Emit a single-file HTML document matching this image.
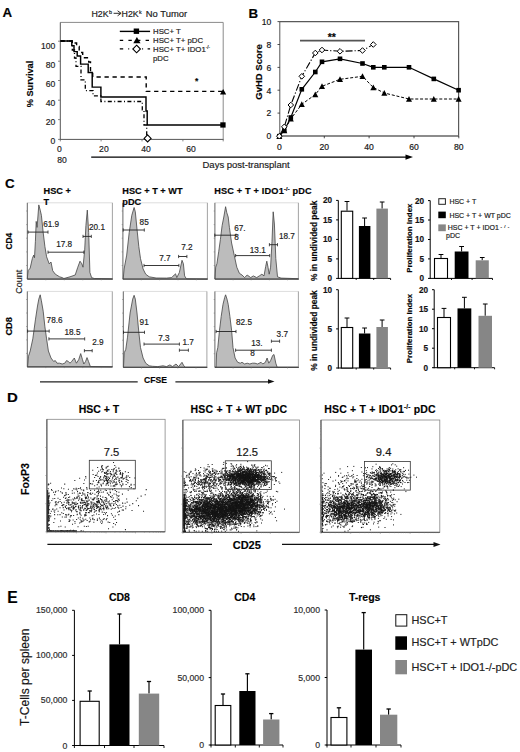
<!DOCTYPE html>
<html><head><meta charset="utf-8"><style>
html,body{margin:0;padding:0;background:#fff;width:520px;height:752px;overflow:hidden}
svg{display:block;font-family:"Liberation Sans",sans-serif}
text{stroke:#222;stroke-width:0.18px}
</style></head><body>
<svg width="520" height="752" viewBox="0 0 520 752">
<rect width="520" height="752" fill="#fff"/>
<text x="2.5" y="17.2" font-size="13.3" font-weight="bold" fill="#000">A</text>
<text x="248.4" y="17.9" font-size="13.3" font-weight="bold" fill="#000">B</text>
<text x="4.9" y="188.1" font-size="13.4" font-weight="bold" fill="#000">C</text>
<text x="6.9" y="402.3" font-size="13.4" font-weight="bold" fill="#000" transform="translate(6.9 0) scale(1.12 1) translate(-6.9 0)">D</text>
<text x="7.3" y="602.8" font-size="15.6" font-weight="bold" fill="#000">E</text>
<path d="M60.3 22.4H223.2V139.4" stroke="#8a8a8a" stroke-width="1" fill="none"/>
<line x1="60.3" y1="22.4" x2="60.3" y2="139.8" stroke="#555" stroke-width="1"/>
<line x1="59.9" y1="139.4" x2="223.6" y2="139.4" stroke="#555" stroke-width="1"/>
<line x1="58" y1="41.2" x2="60.3" y2="41.2" stroke="#666" stroke-width="0.8"/>
<text x="55.4" y="48.6" font-size="8.6" text-anchor="end" fill="#222">100</text>
<line x1="58" y1="61.2" x2="60.3" y2="61.2" stroke="#666" stroke-width="0.8"/>
<text x="55.4" y="67.6" font-size="8.6" text-anchor="end" fill="#222">80</text>
<line x1="58" y1="80.5" x2="60.3" y2="80.5" stroke="#666" stroke-width="0.8"/>
<text x="55.4" y="86.9" font-size="8.6" text-anchor="end" fill="#222">60</text>
<line x1="58" y1="100.2" x2="60.3" y2="100.2" stroke="#666" stroke-width="0.8"/>
<text x="55.4" y="106.3" font-size="8.6" text-anchor="end" fill="#222">40</text>
<line x1="58" y1="119.6" x2="60.3" y2="119.6" stroke="#666" stroke-width="0.8"/>
<text x="55.4" y="125.2" font-size="8.6" text-anchor="end" fill="#222">20</text>
<line x1="58" y1="139.4" x2="60.3" y2="139.4" stroke="#666" stroke-width="0.8"/>
<text x="55.4" y="144.4" font-size="8.6" text-anchor="end" fill="#222">0</text>
<line x1="60.3" y1="139.4" x2="60.3" y2="141.4" stroke="#666" stroke-width="0.8"/>
<line x1="101.1" y1="139.4" x2="101.1" y2="141.4" stroke="#666" stroke-width="0.8"/>
<line x1="142" y1="139.4" x2="142" y2="141.4" stroke="#666" stroke-width="0.8"/>
<line x1="182.9" y1="139.4" x2="182.9" y2="141.4" stroke="#666" stroke-width="0.8"/>
<line x1="223.2" y1="139.4" x2="223.2" y2="141.4" stroke="#666" stroke-width="0.8"/>
<text x="59.5" y="151.7" font-size="8.6" text-anchor="middle" fill="#222">0</text>
<text x="103.9" y="151.7" font-size="8.6" text-anchor="middle" fill="#222">20</text>
<text x="146.1" y="151.7" font-size="8.6" text-anchor="middle" fill="#222">40</text>
<text x="191" y="151.7" font-size="8.6" text-anchor="middle" fill="#222">60</text>
<text x="62.1" y="162.6" font-size="8.6" text-anchor="middle" fill="#222">80</text>
<text x="32.7" y="84" font-size="9.2" font-weight="bold" text-anchor="middle" fill="#000" transform="rotate(-90 32.7 84)">% Survival</text>
<text x="91.4" y="16.5" font-size="8.8" fill="#222">H2K</text>
<text x="108.9" y="14.3" font-size="5.4" fill="#222">b</text>
<path d="M113.6 13.3H120.6" stroke="#222" stroke-width="0.95"/><path d="M117.6 10.8L121.1 13.3L117.6 15.8" stroke="#222" stroke-width="0.95" fill="none"/>
<text x="121.6" y="16.5" font-size="8.8" fill="#222">H2K</text>
<text x="138.9" y="14.3" font-size="5.4" fill="#222">k</text>
<text x="145.8" y="16.5" font-size="8.8" fill="#222" textLength="41.3" lengthAdjust="spacingAndGlyphs">No Tumor</text>
<polyline points="60.5,41 71.8,41 71.8,45.6 74,45.6 74,51.6 77.2,51.6 77.2,56 80.6,56 80.6,64.1 88.2,64.1 88.2,72.4 92.2,72.4 92.2,87.1 100.9,87.1 100.9,97 146,97 146,111 147.2,111 147.2,125 223,125" stroke="#000" stroke-width="1.45" fill="none"/>
<polyline points="60.5,41 73.2,41 73.2,43 76.6,43 76.6,46.4 79.2,46.4 79.2,52.5 82.7,52.5 82.7,57.7 88.7,57.7 88.7,62 90.5,62 90.5,71.5 92.7,71.5 92.7,77 146.2,77 146.2,91.4 223,91.4" stroke="#000" stroke-width="1.4" fill="none" stroke-dasharray="4.3,3.7"/>
<polyline points="60.5,41 72.3,41 72.3,50 74.5,50 74.5,58 76,58 76,66.3 81,66.3 81,79.8 85.3,79.8 85.3,90.6 93,90.6 93,95.8 100.9,95.8 100.9,101.5 142.3,101.5 142.3,109.8 144,109.8 144,125 146.7,125 146.7,136" stroke="#000" stroke-width="1.3" fill="none" stroke-dasharray="4,2.4,1,2.4"/>
<rect x="220.3" y="122.3" width="5.3" height="5.3" fill="#000" stroke="none" stroke-width="1"/>
<polygon points="223.1,88.9 226.2,94.4 220,94.4" fill="#000"/>
<polygon points="147.6,134.9 151.1,138.4 147.6,141.9 144.1,138.4" fill="#fff" stroke="#000" stroke-width="1.1"/>
<text x="196.6" y="84.2" font-size="8.5" font-weight="bold" text-anchor="middle" fill="#000">*</text>
<line x1="119.8" y1="31.4" x2="150.1" y2="31.4" stroke="#000" stroke-width="1.4"/>
<rect x="133.7" y="28.5" width="5.4" height="5.4" fill="#000" stroke="none" stroke-width="1"/>
<line x1="119.8" y1="40.4" x2="150.1" y2="40.4" stroke="#000" stroke-width="1.3" stroke-dasharray="3.4,5.2"/>
<polygon points="136.9,36.9 140.5,43.3 133.3,43.3" fill="#000"/>
<line x1="119.8" y1="48.8" x2="150.1" y2="48.8" stroke="#000" stroke-width="1.3" stroke-dasharray="3.4,5,1,4.5"/>
<polygon points="136.6,45.2 140.4,49 136.6,52.8 132.8,49" fill="#fff" stroke="#000" stroke-width="1.1"/>
<text x="153" y="34.4" font-size="7.8" fill="#222">HSC+ T</text>
<text x="153" y="43.2" font-size="7.8" fill="#222">HSC+ T+ pDC</text>
<text x="153" y="51.9" font-size="7.8" fill="#222">HSC+ T+ IDO1<tspan font-size="4.6" dy="-3">-/-</tspan></text>
<text x="153" y="60.5" font-size="7.8" fill="#222">pDC</text>
<line x1="91.2" y1="157.1" x2="408" y2="157.1" stroke="#000" stroke-width="1.2"/>
<polygon points="413,157.1 405.5,154.5 405.5,159.7" fill="#000"/>
<text x="202.5" y="168.3" font-size="9.5" fill="#222">Days post-transplant</text>
<path d="M279.8 21.6H458.6V136" stroke="#5a5a5a" stroke-width="1.2" fill="none"/>
<line x1="279.8" y1="21.6" x2="279.8" y2="136.4" stroke="#555" stroke-width="1"/>
<line x1="279.4" y1="136" x2="459" y2="136" stroke="#666" stroke-width="1.3"/>
<line x1="277.5" y1="136" x2="279.8" y2="136" stroke="#222" stroke-width="0.8"/>
<text x="271.3" y="139.3" font-size="8.6" text-anchor="end" fill="#111">0</text>
<line x1="277.5" y1="113.1" x2="279.8" y2="113.1" stroke="#222" stroke-width="0.8"/>
<text x="271.3" y="116.4" font-size="8.6" text-anchor="end" fill="#111">2</text>
<line x1="277.5" y1="90.2" x2="279.8" y2="90.2" stroke="#222" stroke-width="0.8"/>
<text x="271.3" y="93.5" font-size="8.6" text-anchor="end" fill="#111">4</text>
<line x1="277.5" y1="67.4" x2="279.8" y2="67.4" stroke="#222" stroke-width="0.8"/>
<text x="271.3" y="70.7" font-size="8.6" text-anchor="end" fill="#111">6</text>
<line x1="277.5" y1="44.5" x2="279.8" y2="44.5" stroke="#222" stroke-width="0.8"/>
<text x="271.3" y="47.8" font-size="8.6" text-anchor="end" fill="#111">8</text>
<line x1="277.5" y1="21.6" x2="279.8" y2="21.6" stroke="#222" stroke-width="0.8"/>
<text x="271.3" y="24.9" font-size="8.6" text-anchor="end" fill="#111">10</text>
<line x1="279.4" y1="136" x2="279.4" y2="138.3" stroke="#222" stroke-width="0.8"/>
<text x="279.4" y="150.2" font-size="8.6" text-anchor="middle" fill="#111">0</text>
<line x1="324.3" y1="136" x2="324.3" y2="138.3" stroke="#222" stroke-width="0.8"/>
<text x="324.3" y="150.2" font-size="8.6" text-anchor="middle" fill="#111">20</text>
<line x1="369.1" y1="136" x2="369.1" y2="138.3" stroke="#222" stroke-width="0.8"/>
<text x="369.1" y="150.2" font-size="8.6" text-anchor="middle" fill="#111">40</text>
<line x1="414" y1="136" x2="414" y2="138.3" stroke="#222" stroke-width="0.8"/>
<text x="414" y="150.2" font-size="8.6" text-anchor="middle" fill="#111">60</text>
<line x1="458.8" y1="136" x2="458.8" y2="138.3" stroke="#222" stroke-width="0.8"/>
<text x="458.8" y="150.2" font-size="8.6" text-anchor="middle" fill="#111">80</text>
<text x="262.4" y="72" font-size="9.5" font-weight="bold" text-anchor="middle" fill="#000" transform="rotate(-90 262.4 72)">GvHD Score</text>
<polyline points="279.3,136.2 284.3,130.5 290.8,118.8 301.8,104.3 315.3,94.5 322,86.3 340,79.3 362.5,76.3 373.3,87.5 384.3,93 409,99 433.8,99 458.6,99" stroke="#000" stroke-width="1.0" fill="none" stroke-dasharray="3,1.8"/>
<polyline points="279.3,136.2 284.3,126.8 290.8,105 301.8,76.3 315.3,53 322,50 340,51.3 362.5,50.5 373.3,44.5" stroke="#000" stroke-width="1.1" fill="none" stroke-dasharray="7,2,1.2,2"/>
<polyline points="279.3,136.2 284.3,130.5 290.8,117.5 301.8,89.3 315.3,72 322,61.8 340,58.8 362.5,63.5 373.3,67.3 384.3,67.3 409,67.3 433.8,78.9 458.6,90.2" stroke="#000" stroke-width="1.2" fill="none"/>
<polygon points="279.3,133.2 276.3,138.9 282.3,138.9" fill="#000"/>
<polygon points="284.3,127.5 281.3,133.2 287.3,133.2" fill="#000"/>
<polygon points="290.8,115.8 287.8,121.5 293.8,121.5" fill="#000"/>
<polygon points="301.8,101.3 298.8,107 304.8,107" fill="#000"/>
<polygon points="315.3,91.5 312.3,97.2 318.3,97.2" fill="#000"/>
<polygon points="322,83.3 319,89 325,89" fill="#000"/>
<polygon points="340,76.3 337,82 343,82" fill="#000"/>
<polygon points="362.5,73.3 359.5,79 365.5,79" fill="#000"/>
<polygon points="373.3,84.5 370.3,90.2 376.3,90.2" fill="#000"/>
<polygon points="384.3,90 381.3,95.7 387.3,95.7" fill="#000"/>
<polygon points="409,96 406,101.7 412,101.7" fill="#000"/>
<polygon points="433.8,96 430.8,101.7 436.8,101.7" fill="#000"/>
<polygon points="458.6,96 455.6,101.7 461.6,101.7" fill="#000"/>
<rect x="277" y="133.9" width="4.6" height="4.6" fill="#000" stroke="none" stroke-width="1"/>
<rect x="282" y="128.2" width="4.6" height="4.6" fill="#000" stroke="none" stroke-width="1"/>
<rect x="288.5" y="115.2" width="4.6" height="4.6" fill="#000" stroke="none" stroke-width="1"/>
<rect x="299.5" y="87" width="4.6" height="4.6" fill="#000" stroke="none" stroke-width="1"/>
<rect x="313" y="69.7" width="4.6" height="4.6" fill="#000" stroke="none" stroke-width="1"/>
<rect x="319.7" y="59.5" width="4.6" height="4.6" fill="#000" stroke="none" stroke-width="1"/>
<rect x="337.7" y="56.5" width="4.6" height="4.6" fill="#000" stroke="none" stroke-width="1"/>
<rect x="360.2" y="61.2" width="4.6" height="4.6" fill="#000" stroke="none" stroke-width="1"/>
<rect x="371" y="65" width="4.6" height="4.6" fill="#000" stroke="none" stroke-width="1"/>
<rect x="382" y="65" width="4.6" height="4.6" fill="#000" stroke="none" stroke-width="1"/>
<rect x="406.7" y="65" width="4.6" height="4.6" fill="#000" stroke="none" stroke-width="1"/>
<rect x="431.5" y="76.6" width="4.6" height="4.6" fill="#000" stroke="none" stroke-width="1"/>
<rect x="456.3" y="87.9" width="4.6" height="4.6" fill="#000" stroke="none" stroke-width="1"/>
<polygon points="279.3,133.4 282.1,136.2 279.3,139 276.5,136.2" fill="#fff" stroke="#000" stroke-width="1.0"/>
<polygon points="284.3,124 287.1,126.8 284.3,129.6 281.5,126.8" fill="#fff" stroke="#000" stroke-width="1.0"/>
<polygon points="290.8,102.2 293.6,105 290.8,107.8 288,105" fill="#fff" stroke="#000" stroke-width="1.0"/>
<polygon points="301.8,73.5 304.6,76.3 301.8,79.1 299,76.3" fill="#fff" stroke="#000" stroke-width="1.0"/>
<polygon points="315.3,50.2 318.1,53 315.3,55.8 312.5,53" fill="#fff" stroke="#000" stroke-width="1.0"/>
<polygon points="322,47.2 324.8,50 322,52.8 319.2,50" fill="#fff" stroke="#000" stroke-width="1.0"/>
<polygon points="340,48.5 342.8,51.3 340,54.1 337.2,51.3" fill="#fff" stroke="#000" stroke-width="1.0"/>
<polygon points="362.5,47.7 365.3,50.5 362.5,53.3 359.7,50.5" fill="#fff" stroke="#000" stroke-width="1.0"/>
<polygon points="373.3,41.7 376.1,44.5 373.3,47.3 370.5,44.5" fill="#fff" stroke="#000" stroke-width="1.0"/>
<line x1="300" y1="40.7" x2="365" y2="40.7" stroke="#555" stroke-width="1.7"/>
<text x="331.8" y="41.2" font-size="10.5" font-weight="bold" text-anchor="middle" fill="#000">**</text>
<path d="M27.3 202.8H112.4" stroke="#ddd" stroke-width="1" fill="none"/>
<path d="M112.4 202.8V279.1" stroke="#999" stroke-width="0.9" fill="none"/>
<path d="M27.3 279.1 L27.3 279 L28.1 270.7 L30.2 268.1 L32.3 258.6 L33.7 255.1 L34.5 257.7 L35.4 241.3 L36.2 221.4 L37.1 227.4 L38.8 204.9 L40.2 210.1 L41.4 215.3 L43.2 232.6 L44.9 246.5 L46.6 256.8 L49.2 263.8 L51 262 L52.7 270.7 L55.3 274.2 L59.6 276.8 L62.2 277.6 L63.9 278.5 L70 276.8 L75.2 275 L77.8 267.2 L80 261.2 L81.8 263.8 L83 267.2 L84.7 249.9 L85.9 225.7 L87.3 210.1 L88.7 232.6 L89.9 272.4 L91.6 277.6 L94.2 278.5 L111.5 278.8 L111.5 279 L112.4 279 L112.4 279.1 Z" fill="#bcbcbc" stroke="#444" stroke-width="0.8"/>
<line x1="27.3" y1="202.8" x2="27.3" y2="279.1" stroke="#555" stroke-width="0.9"/>
<line x1="27.3" y1="279.1" x2="112.8" y2="279.1" stroke="#444" stroke-width="1.0"/>
<line x1="26.1" y1="265.5" x2="27.3" y2="265.5" stroke="#777" stroke-width="0.6"/>
<line x1="26.1" y1="251.9" x2="27.3" y2="251.9" stroke="#777" stroke-width="0.6"/>
<line x1="26.1" y1="238.2" x2="27.3" y2="238.2" stroke="#777" stroke-width="0.6"/>
<line x1="26.1" y1="224.6" x2="27.3" y2="224.6" stroke="#777" stroke-width="0.6"/>
<line x1="26.1" y1="211" x2="27.3" y2="211" stroke="#777" stroke-width="0.6"/>
<line x1="45.8" y1="279.1" x2="45.8" y2="280.3" stroke="#777" stroke-width="0.6"/>
<line x1="64.3" y1="279.1" x2="64.3" y2="280.3" stroke="#777" stroke-width="0.6"/>
<line x1="82.8" y1="279.1" x2="82.8" y2="280.3" stroke="#777" stroke-width="0.6"/>
<line x1="101.3" y1="279.1" x2="101.3" y2="280.3" stroke="#777" stroke-width="0.6"/>
<line x1="28.1" y1="232.1" x2="48" y2="232.1" stroke="#222" stroke-width="0.9"/>
<line x1="28.1" y1="230.5" x2="28.1" y2="233.7" stroke="#222" stroke-width="0.8"/>
<line x1="48" y1="230.5" x2="48" y2="233.7" stroke="#222" stroke-width="0.8"/>
<line x1="48" y1="252.2" x2="83.8" y2="252.2" stroke="#222" stroke-width="0.9"/>
<line x1="48" y1="250.6" x2="48" y2="253.8" stroke="#222" stroke-width="0.8"/>
<line x1="83.8" y1="250.6" x2="83.8" y2="253.8" stroke="#222" stroke-width="0.8"/>
<line x1="83" y1="236.4" x2="91.3" y2="236.4" stroke="#222" stroke-width="0.9"/>
<line x1="83" y1="234.8" x2="83" y2="238" stroke="#222" stroke-width="0.8"/>
<line x1="91.3" y1="234.8" x2="91.3" y2="238" stroke="#222" stroke-width="0.8"/>
<text x="43.2" y="226.6" font-size="8.2" fill="#222">61.9</text>
<text x="56.2" y="247.3" font-size="8.2" fill="#222">17.8</text>
<text x="89" y="230" font-size="8.2" fill="#222">20.1</text>
<path d="M122.9 202.8H207.4" stroke="#ddd" stroke-width="1" fill="none"/>
<path d="M207.4 202.8V279.1" stroke="#999" stroke-width="0.9" fill="none"/>
<path d="M122.9 279.1 L123.2 279 L124.1 269 L126.7 255.1 L129.2 232.6 L131.8 215.3 L134.1 207.5 L135.3 211.8 L137 229.2 L138.8 246.5 L140.5 258.6 L143.1 269 L145.7 274.2 L149.2 276.8 L156.1 278 L166.5 278.1 L171.7 277.6 L174.2 275 L175.5 273.8 L176.8 277.6 L179.4 272.4 L182 260.3 L183.4 263.8 L184.6 275.9 L186.4 278.8 L207.1 279 L207.4 279 L207.4 279.1 Z" fill="#bcbcbc" stroke="#444" stroke-width="0.8"/>
<line x1="122.9" y1="202.8" x2="122.9" y2="279.1" stroke="#555" stroke-width="0.9"/>
<line x1="122.9" y1="279.1" x2="207.8" y2="279.1" stroke="#444" stroke-width="1.0"/>
<line x1="121.7" y1="265.5" x2="122.9" y2="265.5" stroke="#777" stroke-width="0.6"/>
<line x1="121.7" y1="251.9" x2="122.9" y2="251.9" stroke="#777" stroke-width="0.6"/>
<line x1="121.7" y1="238.2" x2="122.9" y2="238.2" stroke="#777" stroke-width="0.6"/>
<line x1="121.7" y1="224.6" x2="122.9" y2="224.6" stroke="#777" stroke-width="0.6"/>
<line x1="121.7" y1="211" x2="122.9" y2="211" stroke="#777" stroke-width="0.6"/>
<line x1="141.3" y1="279.1" x2="141.3" y2="280.3" stroke="#777" stroke-width="0.6"/>
<line x1="159.6" y1="279.1" x2="159.6" y2="280.3" stroke="#777" stroke-width="0.6"/>
<line x1="178" y1="279.1" x2="178" y2="280.3" stroke="#777" stroke-width="0.6"/>
<line x1="196.4" y1="279.1" x2="196.4" y2="280.3" stroke="#777" stroke-width="0.6"/>
<line x1="123.2" y1="230" x2="144.3" y2="230" stroke="#222" stroke-width="0.9"/>
<line x1="123.2" y1="228.4" x2="123.2" y2="231.6" stroke="#222" stroke-width="0.8"/>
<line x1="144.3" y1="228.4" x2="144.3" y2="231.6" stroke="#222" stroke-width="0.8"/>
<line x1="144" y1="265.5" x2="178.9" y2="265.5" stroke="#222" stroke-width="0.9"/>
<line x1="144" y1="263.9" x2="144" y2="267.1" stroke="#222" stroke-width="0.8"/>
<line x1="178.9" y1="263.9" x2="178.9" y2="267.1" stroke="#222" stroke-width="0.8"/>
<line x1="178.6" y1="256.5" x2="186.9" y2="256.5" stroke="#222" stroke-width="0.9"/>
<line x1="178.6" y1="254.9" x2="178.6" y2="258.1" stroke="#222" stroke-width="0.8"/>
<line x1="186.9" y1="254.9" x2="186.9" y2="258.1" stroke="#222" stroke-width="0.8"/>
<text x="139.6" y="224.8" font-size="8.2" fill="#222">85</text>
<text x="159.2" y="260.6" font-size="8.2" fill="#222">7.7</text>
<text x="181.2" y="249.9" font-size="8.2" fill="#222">7.2</text>
<path d="M214.9 202.8H298.4" stroke="#ddd" stroke-width="1" fill="none"/>
<path d="M298.4 202.8V279.1" stroke="#999" stroke-width="0.9" fill="none"/>
<path d="M214.9 279.1 L214.9 279 L215.7 267.2 L216.9 263.8 L218.7 251.7 L220.4 239.5 L222.1 225.7 L223.8 217 L225.6 206.7 L226.8 212.7 L228.2 217 L229.4 227.4 L231.6 243 L234.2 255.1 L236.8 267.2 L239.4 273.3 L242 275 L244.6 277.6 L247.2 275 L250.7 277.6 L253.3 275.9 L256.7 277.6 L259.3 275.9 L261.9 274.2 L264 275.9 L265.7 266.4 L266.8 261.2 L268 267.2 L269.2 274.2 L270.6 267.2 L272 241.3 L273.2 211.8 L274.4 224 L275.8 258.6 L277.5 276.8 L281 278.1 L297.8 278.7 L297.8 279 L298.4 279 L298.4 279.1 Z" fill="#bcbcbc" stroke="#444" stroke-width="0.8"/>
<line x1="214.9" y1="202.8" x2="214.9" y2="279.1" stroke="#555" stroke-width="0.9"/>
<line x1="214.9" y1="279.1" x2="298.8" y2="279.1" stroke="#444" stroke-width="1.0"/>
<line x1="213.7" y1="265.5" x2="214.9" y2="265.5" stroke="#777" stroke-width="0.6"/>
<line x1="213.7" y1="251.9" x2="214.9" y2="251.9" stroke="#777" stroke-width="0.6"/>
<line x1="213.7" y1="238.2" x2="214.9" y2="238.2" stroke="#777" stroke-width="0.6"/>
<line x1="213.7" y1="224.6" x2="214.9" y2="224.6" stroke="#777" stroke-width="0.6"/>
<line x1="213.7" y1="211" x2="214.9" y2="211" stroke="#777" stroke-width="0.6"/>
<line x1="233.1" y1="279.1" x2="233.1" y2="280.3" stroke="#777" stroke-width="0.6"/>
<line x1="251.2" y1="279.1" x2="251.2" y2="280.3" stroke="#777" stroke-width="0.6"/>
<line x1="269.4" y1="279.1" x2="269.4" y2="280.3" stroke="#777" stroke-width="0.6"/>
<line x1="287.5" y1="279.1" x2="287.5" y2="280.3" stroke="#777" stroke-width="0.6"/>
<line x1="214.8" y1="235.2" x2="236" y2="235.2" stroke="#222" stroke-width="0.9"/>
<line x1="214.8" y1="233.6" x2="214.8" y2="236.8" stroke="#222" stroke-width="0.8"/>
<line x1="236" y1="233.6" x2="236" y2="236.8" stroke="#222" stroke-width="0.8"/>
<line x1="235.6" y1="255.6" x2="269.7" y2="255.6" stroke="#222" stroke-width="0.9"/>
<line x1="235.6" y1="254" x2="235.6" y2="257.2" stroke="#222" stroke-width="0.8"/>
<line x1="269.7" y1="254" x2="269.7" y2="257.2" stroke="#222" stroke-width="0.8"/>
<line x1="269.4" y1="244.7" x2="277.5" y2="244.7" stroke="#222" stroke-width="0.9"/>
<line x1="269.4" y1="243.1" x2="269.4" y2="246.3" stroke="#222" stroke-width="0.8"/>
<line x1="277.5" y1="243.1" x2="277.5" y2="246.3" stroke="#222" stroke-width="0.8"/>
<text x="234.2" y="230.9" font-size="8.2" fill="#222">67.</text>
<text x="234.2" y="240.4" font-size="8.2" fill="#222">8</text>
<text x="249.8" y="252.5" font-size="8.2" fill="#222">13.1</text>
<text x="278.9" y="239" font-size="8.2" fill="#222">18.7</text>
<path d="M27.3 291.4H112.3" stroke="#ddd" stroke-width="1" fill="none"/>
<path d="M112.3 291.4V366.9" stroke="#999" stroke-width="0.9" fill="none"/>
<path d="M27.3 366.9 L27.6 366.9 L28.5 356.2 L30.2 351 L32.8 338.9 L35.4 319.9 L37.5 306 L38.8 299.1 L40.2 294.8 L41.4 300.8 L43.2 311.2 L44.9 326.8 L46.6 338.9 L48.4 351 L51 358 L53.6 361.4 L55.3 360.6 L57 363.2 L59.6 363.2 L62.2 364 L64.8 363.2 L66.5 360.6 L68.3 361.4 L70 363.2 L71.7 361.4 L74.3 358 L76.4 363.2 L78.7 359.7 L80.7 353.6 L82.5 359.7 L83.8 364 L85.6 361.4 L87 357.6 L88.5 361.4 L90.4 366.6 L111.5 366.9 L112.3 367 L112.3 366.9 Z" fill="#bcbcbc" stroke="#444" stroke-width="0.8"/>
<line x1="27.3" y1="291.4" x2="27.3" y2="366.9" stroke="#555" stroke-width="0.9"/>
<line x1="27.3" y1="366.9" x2="112.7" y2="366.9" stroke="#444" stroke-width="1.0"/>
<line x1="26.1" y1="353.4" x2="27.3" y2="353.4" stroke="#777" stroke-width="0.6"/>
<line x1="26.1" y1="339.9" x2="27.3" y2="339.9" stroke="#777" stroke-width="0.6"/>
<line x1="26.1" y1="326.5" x2="27.3" y2="326.5" stroke="#777" stroke-width="0.6"/>
<line x1="26.1" y1="313" x2="27.3" y2="313" stroke="#777" stroke-width="0.6"/>
<line x1="26.1" y1="299.5" x2="27.3" y2="299.5" stroke="#777" stroke-width="0.6"/>
<line x1="45.8" y1="366.9" x2="45.8" y2="368.1" stroke="#777" stroke-width="0.6"/>
<line x1="64.3" y1="366.9" x2="64.3" y2="368.1" stroke="#777" stroke-width="0.6"/>
<line x1="82.7" y1="366.9" x2="82.7" y2="368.1" stroke="#777" stroke-width="0.6"/>
<line x1="101.2" y1="366.9" x2="101.2" y2="368.1" stroke="#777" stroke-width="0.6"/>
<line x1="27.6" y1="331.1" x2="49.2" y2="331.1" stroke="#222" stroke-width="0.9"/>
<line x1="27.6" y1="329.5" x2="27.6" y2="332.7" stroke="#222" stroke-width="0.8"/>
<line x1="49.2" y1="329.5" x2="49.2" y2="332.7" stroke="#222" stroke-width="0.8"/>
<line x1="48.9" y1="338.9" x2="84.7" y2="338.9" stroke="#222" stroke-width="0.9"/>
<line x1="48.9" y1="337.3" x2="48.9" y2="340.5" stroke="#222" stroke-width="0.8"/>
<line x1="84.7" y1="337.3" x2="84.7" y2="340.5" stroke="#222" stroke-width="0.8"/>
<line x1="84.4" y1="350.7" x2="92.2" y2="350.7" stroke="#222" stroke-width="0.9"/>
<line x1="84.4" y1="349.1" x2="84.4" y2="352.3" stroke="#222" stroke-width="0.8"/>
<line x1="92.2" y1="349.1" x2="92.2" y2="352.3" stroke="#222" stroke-width="0.8"/>
<text x="46.6" y="323.3" font-size="8.2" fill="#222">78.6</text>
<text x="64.5" y="334.6" font-size="8.2" fill="#222">18.5</text>
<text x="92.2" y="344.6" font-size="8.2" fill="#222">2.9</text>
<path d="M123.3 291.4H206.9" stroke="#ddd" stroke-width="1" fill="none"/>
<path d="M206.9 291.4V367.3" stroke="#999" stroke-width="0.9" fill="none"/>
<path d="M123.3 367.3 L123.5 367.3 L124.2 352.8 L125.8 349.3 L127.5 337.2 L130.1 313 L132.7 299.1 L134.1 295.3 L135.3 299.1 L137 313 L138.8 332 L140.5 347.6 L143.1 358 L145.7 363.2 L149.2 365.8 L152.6 366.3 L157.8 366.6 L163 365.8 L166.5 366.6 L169.9 364.9 L172.5 366.6 L176 364 L178.6 366.6 L182 362.3 L183.8 365.8 L185.5 367.3 L206.9 367.3 L206.9 367.5 L206.9 367.3 Z" fill="#bcbcbc" stroke="#444" stroke-width="0.8"/>
<line x1="123.3" y1="291.4" x2="123.3" y2="367.3" stroke="#555" stroke-width="0.9"/>
<line x1="123.3" y1="367.3" x2="207.3" y2="367.3" stroke="#444" stroke-width="1.0"/>
<line x1="122.1" y1="353.7" x2="123.3" y2="353.7" stroke="#777" stroke-width="0.6"/>
<line x1="122.1" y1="340.2" x2="123.3" y2="340.2" stroke="#777" stroke-width="0.6"/>
<line x1="122.1" y1="326.6" x2="123.3" y2="326.6" stroke="#777" stroke-width="0.6"/>
<line x1="122.1" y1="313.1" x2="123.3" y2="313.1" stroke="#777" stroke-width="0.6"/>
<line x1="122.1" y1="299.5" x2="123.3" y2="299.5" stroke="#777" stroke-width="0.6"/>
<line x1="141.5" y1="367.3" x2="141.5" y2="368.5" stroke="#777" stroke-width="0.6"/>
<line x1="159.6" y1="367.3" x2="159.6" y2="368.5" stroke="#777" stroke-width="0.6"/>
<line x1="177.8" y1="367.3" x2="177.8" y2="368.5" stroke="#777" stroke-width="0.6"/>
<line x1="196" y1="367.3" x2="196" y2="368.5" stroke="#777" stroke-width="0.6"/>
<line x1="123.5" y1="332.3" x2="144.5" y2="332.3" stroke="#222" stroke-width="0.9"/>
<line x1="123.5" y1="330.7" x2="123.5" y2="333.9" stroke="#222" stroke-width="0.8"/>
<line x1="144.5" y1="330.7" x2="144.5" y2="333.9" stroke="#222" stroke-width="0.8"/>
<line x1="144" y1="344.1" x2="179.4" y2="344.1" stroke="#222" stroke-width="0.9"/>
<line x1="144" y1="342.5" x2="144" y2="345.7" stroke="#222" stroke-width="0.8"/>
<line x1="179.4" y1="342.5" x2="179.4" y2="345.7" stroke="#222" stroke-width="0.8"/>
<line x1="179.4" y1="350.2" x2="188.4" y2="350.2" stroke="#222" stroke-width="0.9"/>
<line x1="179.4" y1="348.6" x2="179.4" y2="351.8" stroke="#222" stroke-width="0.8"/>
<line x1="188.4" y1="348.6" x2="188.4" y2="351.8" stroke="#222" stroke-width="0.8"/>
<text x="139.6" y="325" font-size="8.2" fill="#222">91</text>
<text x="158.2" y="341" font-size="8.2" fill="#222">7.3</text>
<text x="182.4" y="345" font-size="8.2" fill="#222">1.7</text>
<path d="M214.9 291.4H298.4" stroke="#ddd" stroke-width="1" fill="none"/>
<path d="M298.4 291.4V367.3" stroke="#999" stroke-width="0.9" fill="none"/>
<path d="M214.9 367.3 L216.1 367.3 L216.6 352.8 L217.8 347.6 L219.5 330.3 L221.2 316.4 L223 304.3 L224.7 297.4 L225.6 294.8 L227 299.1 L228.2 304.3 L229.9 316.4 L231.6 330.3 L233 347.6 L235.1 358 L237.7 362.3 L240.3 363.2 L242 362.3 L244.6 364 L247.2 363.2 L249.8 364 L252.4 363.2 L255 363.2 L257.6 364 L261.1 362.3 L262.8 364 L265.4 362.3 L267.1 358 L268.8 363.2 L270.6 360.6 L272.7 355.4 L274 354.5 L275.8 363.2 L277.2 367.3 L297.8 367.3 L298.4 367.5 L298.4 367.3 Z" fill="#bcbcbc" stroke="#444" stroke-width="0.8"/>
<line x1="214.9" y1="291.4" x2="214.9" y2="367.3" stroke="#555" stroke-width="0.9"/>
<line x1="214.9" y1="367.3" x2="298.8" y2="367.3" stroke="#444" stroke-width="1.0"/>
<line x1="213.7" y1="353.7" x2="214.9" y2="353.7" stroke="#777" stroke-width="0.6"/>
<line x1="213.7" y1="340.2" x2="214.9" y2="340.2" stroke="#777" stroke-width="0.6"/>
<line x1="213.7" y1="326.6" x2="214.9" y2="326.6" stroke="#777" stroke-width="0.6"/>
<line x1="213.7" y1="313.1" x2="214.9" y2="313.1" stroke="#777" stroke-width="0.6"/>
<line x1="213.7" y1="299.5" x2="214.9" y2="299.5" stroke="#777" stroke-width="0.6"/>
<line x1="233.1" y1="367.3" x2="233.1" y2="368.5" stroke="#777" stroke-width="0.6"/>
<line x1="251.2" y1="367.3" x2="251.2" y2="368.5" stroke="#777" stroke-width="0.6"/>
<line x1="269.4" y1="367.3" x2="269.4" y2="368.5" stroke="#777" stroke-width="0.6"/>
<line x1="287.5" y1="367.3" x2="287.5" y2="368.5" stroke="#777" stroke-width="0.6"/>
<line x1="216.1" y1="331.5" x2="236" y2="331.5" stroke="#222" stroke-width="0.9"/>
<line x1="216.1" y1="329.9" x2="216.1" y2="333.1" stroke="#222" stroke-width="0.8"/>
<line x1="236" y1="329.9" x2="236" y2="333.1" stroke="#222" stroke-width="0.8"/>
<line x1="235.6" y1="350.2" x2="271.4" y2="350.2" stroke="#222" stroke-width="0.9"/>
<line x1="235.6" y1="348.6" x2="235.6" y2="351.8" stroke="#222" stroke-width="0.8"/>
<line x1="271.4" y1="348.6" x2="271.4" y2="351.8" stroke="#222" stroke-width="0.8"/>
<line x1="271.4" y1="341.2" x2="279.6" y2="341.2" stroke="#222" stroke-width="0.9"/>
<line x1="271.4" y1="339.6" x2="271.4" y2="342.8" stroke="#222" stroke-width="0.8"/>
<line x1="279.6" y1="339.6" x2="279.6" y2="342.8" stroke="#222" stroke-width="0.8"/>
<text x="236" y="325.4" font-size="8.2" fill="#222">82.5</text>
<text x="251.2" y="345.8" font-size="8.2" fill="#222">13.</text>
<text x="250.2" y="355.9" font-size="8.2" fill="#222">8</text>
<text x="276.6" y="336.8" font-size="8.2" fill="#222">3.7</text>
<text x="43.6" y="193.9" font-size="9.2" font-weight="bold" fill="#000">HSC +</text>
<text x="43.6" y="205.1" font-size="9.2" font-weight="bold" fill="#000">T</text>
<text x="122.3" y="193.9" font-size="9.2" font-weight="bold" fill="#000">HSC + T + WT</text>
<text x="122.3" y="205.1" font-size="9.2" font-weight="bold" fill="#000">pDC</text>
<text x="214.2" y="193.9" font-size="9.2" font-weight="bold" letter-spacing="0.17">HSC + T + IDO1<tspan font-size="5.6" dy="-3.2">-/-</tspan><tspan dy="3.2"> pDC</tspan></text>
<text x="12.2" y="241.1" font-size="8.4" font-weight="bold" text-anchor="middle" fill="#000" transform="rotate(-90 12.2 241.1)">CD4</text>
<text x="12.2" y="326.3" font-size="9.3" font-weight="bold" text-anchor="middle" fill="#000" transform="rotate(-90 12.2 326.3)">CD8</text>
<text x="21.8" y="281.7" font-size="9" text-anchor="middle" fill="#222" transform="rotate(-90 21.8 281.7)">Count</text>
<line x1="40" y1="381.8" x2="137.7" y2="381.8" stroke="#222" stroke-width="1.3"/>
<line x1="175.4" y1="381.8" x2="270" y2="381.8" stroke="#222" stroke-width="1.3"/>
<polygon points="274.5,381.5 268,379.2 268,383.8" fill="#111"/>
<text x="155.4" y="382.7" font-size="8.6" font-weight="bold" text-anchor="middle" fill="#000">CFSE</text>
<line x1="338.3" y1="200.4" x2="338.3" y2="278.9" stroke="#000" stroke-width="1"/>
<line x1="337.8" y1="278.4" x2="390.6" y2="278.4" stroke="#000" stroke-width="1"/>
<line x1="356.2" y1="278.4" x2="356.2" y2="280" stroke="#000" stroke-width="0.9"/>
<line x1="373.7" y1="278.4" x2="373.7" y2="280" stroke="#000" stroke-width="0.9"/>
<line x1="390.6" y1="278.4" x2="390.6" y2="280" stroke="#000" stroke-width="0.9"/>
<line x1="336.1" y1="278.4" x2="338.3" y2="278.4" stroke="#000" stroke-width="1"/>
<text x="332" y="281.3" font-size="8.2" font-weight="bold" text-anchor="end" fill="#111">0</text>
<line x1="336.1" y1="258.9" x2="338.3" y2="258.9" stroke="#000" stroke-width="1"/>
<text x="332" y="261.8" font-size="8.2" font-weight="bold" text-anchor="end" fill="#111">5</text>
<line x1="336.1" y1="239.4" x2="338.3" y2="239.4" stroke="#000" stroke-width="1"/>
<text x="332" y="242.3" font-size="8.2" font-weight="bold" text-anchor="end" fill="#111">10</text>
<line x1="336.1" y1="219.9" x2="338.3" y2="219.9" stroke="#000" stroke-width="1"/>
<text x="332" y="222.8" font-size="8.2" font-weight="bold" text-anchor="end" fill="#111">15</text>
<line x1="336.1" y1="200.4" x2="338.3" y2="200.4" stroke="#000" stroke-width="1"/>
<text x="332" y="203.3" font-size="8.2" font-weight="bold" text-anchor="end" fill="#111">20</text>
<line x1="347" y1="210.7" x2="347" y2="201.5" stroke="#000" stroke-width="1"/>
<line x1="344.6" y1="201.5" x2="349.4" y2="201.5" stroke="#000" stroke-width="1"/>
<rect x="341.3" y="211.2" width="11.4" height="67.2" fill="#fff" stroke="#000" stroke-width="1.1"/>
<line x1="364.6" y1="226" x2="364.6" y2="218" stroke="#000" stroke-width="1"/>
<line x1="362.2" y1="218" x2="367" y2="218" stroke="#000" stroke-width="1"/>
<rect x="358.9" y="226" width="11.5" height="52.4" fill="#000" stroke="none" stroke-width="1"/>
<line x1="382.1" y1="208.6" x2="382.1" y2="202" stroke="#000" stroke-width="1"/>
<line x1="379.8" y1="202" x2="384.5" y2="202" stroke="#000" stroke-width="1"/>
<rect x="376.4" y="208.6" width="11.5" height="69.8" fill="#868686" stroke="none" stroke-width="1"/>
<text x="316.6" y="240.8" font-size="8.4" font-weight="bold" text-anchor="middle" fill="#000" transform="rotate(-90 316.6 240.8)">% in undivided peak</text>
<line x1="430.2" y1="200.6" x2="430.2" y2="278.9" stroke="#000" stroke-width="1"/>
<line x1="429.7" y1="278.4" x2="492.5" y2="278.4" stroke="#000" stroke-width="1"/>
<line x1="451.5" y1="278.4" x2="451.5" y2="280" stroke="#000" stroke-width="0.9"/>
<line x1="472.1" y1="278.4" x2="472.1" y2="280" stroke="#000" stroke-width="0.9"/>
<line x1="492.5" y1="278.4" x2="492.5" y2="280" stroke="#000" stroke-width="0.9"/>
<line x1="428" y1="278.4" x2="430.2" y2="278.4" stroke="#000" stroke-width="1"/>
<text x="424" y="281.3" font-size="8.2" font-weight="bold" text-anchor="end" fill="#111">0</text>
<line x1="428" y1="258.9" x2="430.2" y2="258.9" stroke="#000" stroke-width="1"/>
<text x="424" y="261.8" font-size="8.2" font-weight="bold" text-anchor="end" fill="#111">5</text>
<line x1="428" y1="239.5" x2="430.2" y2="239.5" stroke="#000" stroke-width="1"/>
<text x="424" y="242.4" font-size="8.2" font-weight="bold" text-anchor="end" fill="#111">10</text>
<line x1="428" y1="220" x2="430.2" y2="220" stroke="#000" stroke-width="1"/>
<text x="424" y="222.9" font-size="8.2" font-weight="bold" text-anchor="end" fill="#111">15</text>
<line x1="428" y1="200.6" x2="430.2" y2="200.6" stroke="#000" stroke-width="1"/>
<text x="424" y="203.5" font-size="8.2" font-weight="bold" text-anchor="end" fill="#111">20</text>
<line x1="441" y1="258" x2="441" y2="254.5" stroke="#000" stroke-width="1"/>
<line x1="438.6" y1="254.5" x2="443.4" y2="254.5" stroke="#000" stroke-width="1"/>
<rect x="434.5" y="258.5" width="13" height="19.9" fill="#fff" stroke="#000" stroke-width="1.1"/>
<line x1="461.6" y1="251.5" x2="461.6" y2="246.5" stroke="#000" stroke-width="1"/>
<line x1="459.2" y1="246.5" x2="464" y2="246.5" stroke="#000" stroke-width="1"/>
<rect x="454.7" y="251.5" width="13.8" height="26.9" fill="#000" stroke="none" stroke-width="1"/>
<line x1="482.2" y1="260.3" x2="482.2" y2="257.5" stroke="#000" stroke-width="1"/>
<line x1="479.9" y1="257.5" x2="484.6" y2="257.5" stroke="#000" stroke-width="1"/>
<rect x="475.7" y="260.3" width="13.1" height="18.1" fill="#868686" stroke="none" stroke-width="1"/>
<text x="412.4" y="238.2" font-size="7.9" font-weight="bold" text-anchor="middle" fill="#000" transform="rotate(-90 412.4 238.2)">Proliferation Index</text>
<line x1="338.3" y1="289.7" x2="338.3" y2="368.5" stroke="#000" stroke-width="1"/>
<line x1="337.8" y1="368" x2="390.6" y2="368" stroke="#000" stroke-width="1"/>
<line x1="356.2" y1="368" x2="356.2" y2="369.6" stroke="#000" stroke-width="0.9"/>
<line x1="373.7" y1="368" x2="373.7" y2="369.6" stroke="#000" stroke-width="0.9"/>
<line x1="390.6" y1="368" x2="390.6" y2="369.6" stroke="#000" stroke-width="0.9"/>
<line x1="336.1" y1="368" x2="338.3" y2="368" stroke="#000" stroke-width="1"/>
<text x="332" y="370.9" font-size="8.2" font-weight="bold" text-anchor="end" fill="#111">0</text>
<line x1="336.1" y1="328.9" x2="338.3" y2="328.9" stroke="#000" stroke-width="1"/>
<text x="332" y="331.8" font-size="8.2" font-weight="bold" text-anchor="end" fill="#111">5</text>
<line x1="336.1" y1="289.7" x2="338.3" y2="289.7" stroke="#000" stroke-width="1"/>
<text x="332" y="292.6" font-size="8.2" font-weight="bold" text-anchor="end" fill="#111">10</text>
<line x1="347" y1="327" x2="347" y2="318" stroke="#000" stroke-width="1"/>
<line x1="344.6" y1="318" x2="349.4" y2="318" stroke="#000" stroke-width="1"/>
<rect x="341.3" y="327.5" width="11.4" height="40.5" fill="#fff" stroke="#000" stroke-width="1.1"/>
<line x1="364.6" y1="333.5" x2="364.6" y2="328" stroke="#000" stroke-width="1"/>
<line x1="362.2" y1="328" x2="367" y2="328" stroke="#000" stroke-width="1"/>
<rect x="358.9" y="333.5" width="11.5" height="34.5" fill="#000" stroke="none" stroke-width="1"/>
<line x1="382.1" y1="327" x2="382.1" y2="320" stroke="#000" stroke-width="1"/>
<line x1="379.8" y1="320" x2="384.5" y2="320" stroke="#000" stroke-width="1"/>
<rect x="376.4" y="327" width="11.5" height="41" fill="#868686" stroke="none" stroke-width="1"/>
<text x="316.6" y="330.5" font-size="8.4" font-weight="bold" text-anchor="middle" fill="#000" transform="rotate(-90 316.6 330.5)">% in undivided peak</text>
<line x1="434.2" y1="289.7" x2="434.2" y2="368.2" stroke="#000" stroke-width="1"/>
<line x1="433.7" y1="367.7" x2="494.6" y2="367.7" stroke="#000" stroke-width="1"/>
<line x1="454.7" y1="367.7" x2="454.7" y2="369.3" stroke="#000" stroke-width="0.9"/>
<line x1="474.5" y1="367.7" x2="474.5" y2="369.3" stroke="#000" stroke-width="0.9"/>
<line x1="494.6" y1="367.7" x2="494.6" y2="369.3" stroke="#000" stroke-width="0.9"/>
<line x1="432" y1="367.7" x2="434.2" y2="367.7" stroke="#000" stroke-width="1"/>
<text x="428" y="370.6" font-size="8.2" font-weight="bold" text-anchor="end" fill="#111">0</text>
<line x1="432" y1="348.2" x2="434.2" y2="348.2" stroke="#000" stroke-width="1"/>
<text x="428" y="351.1" font-size="8.2" font-weight="bold" text-anchor="end" fill="#111">5</text>
<line x1="432" y1="328.7" x2="434.2" y2="328.7" stroke="#000" stroke-width="1"/>
<text x="428" y="331.6" font-size="8.2" font-weight="bold" text-anchor="end" fill="#111">10</text>
<line x1="432" y1="309.2" x2="434.2" y2="309.2" stroke="#000" stroke-width="1"/>
<text x="428" y="312.1" font-size="8.2" font-weight="bold" text-anchor="end" fill="#111">15</text>
<line x1="432" y1="289.7" x2="434.2" y2="289.7" stroke="#000" stroke-width="1"/>
<text x="428" y="292.6" font-size="8.2" font-weight="bold" text-anchor="end" fill="#111">20</text>
<line x1="444" y1="317" x2="444" y2="308.4" stroke="#000" stroke-width="1"/>
<line x1="441.6" y1="308.4" x2="446.4" y2="308.4" stroke="#000" stroke-width="1"/>
<rect x="437.5" y="317.5" width="13" height="50.2" fill="#fff" stroke="#000" stroke-width="1.1"/>
<line x1="464.4" y1="308.4" x2="464.4" y2="297.3" stroke="#000" stroke-width="1"/>
<line x1="462" y1="297.3" x2="466.8" y2="297.3" stroke="#000" stroke-width="1"/>
<rect x="457.5" y="308.4" width="13.8" height="59.3" fill="#000" stroke="none" stroke-width="1"/>
<line x1="485.2" y1="315.8" x2="485.2" y2="304" stroke="#000" stroke-width="1"/>
<line x1="482.9" y1="304" x2="487.6" y2="304" stroke="#000" stroke-width="1"/>
<rect x="478.5" y="315.8" width="13.5" height="51.9" fill="#868686" stroke="none" stroke-width="1"/>
<text x="412.4" y="328.5" font-size="7.9" font-weight="bold" text-anchor="middle" fill="#000" transform="rotate(-90 412.4 328.5)">Proliferation Index</text>
<rect x="438.8" y="198.7" width="6.6" height="5.6" fill="#fff" stroke="#222" stroke-width="1"/>
<rect x="438.3" y="211.6" width="7.5" height="6.6" fill="#000" stroke="none" stroke-width="1"/>
<rect x="438.3" y="224.4" width="7.5" height="6.8" fill="#868686" stroke="none" stroke-width="1"/>
<text x="449.4" y="203.5" font-size="7" fill="#222">HSC + T</text>
<text x="449.4" y="217.7" font-size="7" fill="#222">HSC + T + WT pDC</text>
<text x="447.7" y="230.1" font-size="7" fill="#222">HSC + T + IDO1<tspan font-size="4.4" dy="-2.6" letter-spacing="0.5"> - / -</tspan></text>
<text x="446.1" y="238.3" font-size="7" fill="#222">pDC</text>
<rect x="46.9" y="419.3" width="118.2" height="112.5" fill="#fff" stroke="#888" stroke-width="0.8"/>
<rect x="182.9" y="420" width="116.5" height="112.3" fill="#fff" stroke="#888" stroke-width="0.8"/>
<rect x="321" y="420" width="118.8" height="112.3" fill="#fff" stroke="#888" stroke-width="0.8"/>
<path d="M81.6 506.7h1.05M82.3 500.7h1.05M67.5 501.5h1.05M110.4 506.1h1.05M108.8 504.8h1.05M95.3 504.3h1.05M52.0 509.2h1.05M97.6 506.6h1.05M51.5 490.4h1.05M68.3 499.6h1.05M93.4 502.7h1.05M97.9 498.4h1.05M93.5 505.8h1.05M73.1 515.4h1.05M98.7 511.6h1.05M74.0 497.7h1.05M79.8 502.2h1.05M100.3 504.8h1.05M77.6 496.1h1.05M76.1 511.8h1.05M70.0 504.8h1.05M96.0 492.3h1.05M88.0 512.4h1.05M47.7 500.7h1.05M84.8 497.1h1.05M97.4 502.6h1.05M56.2 509.0h1.05M101.1 509.8h1.05M117.3 505.6h1.05M89.5 493.6h1.05M99.9 498.6h1.05M77.5 493.9h1.05M66.7 499.2h1.05M114.1 488.4h1.05M56.4 504.7h1.05M117.3 507.2h1.05M47.7 484.9h1.05M94.5 497.7h1.05M63.5 510.0h1.05M110.1 504.1h1.05M92.2 506.1h1.05M120.5 507.5h1.05M97.9 506.9h1.05M54.1 512.2h1.05M107.1 506.8h1.05M47.7 498.4h1.05M104.7 490.0h1.05M83.1 510.3h1.05M59.5 514.6h1.05M98.6 501.9h1.05M93.8 507.7h1.05M89.5 511.2h1.05M73.1 500.0h1.05M108.9 503.2h1.05M68.5 509.8h1.05M117.8 499.8h1.05M58.0 502.0h1.05M83.9 500.9h1.05M116.5 495.6h1.05M113.5 493.9h1.05M70.5 507.5h1.05M110.7 509.2h1.05M94.2 504.0h1.05M90.2 507.1h1.05M83.3 505.0h1.05M99.0 503.0h1.05M103.0 507.1h1.05M129.2 505.3h1.05M78.0 500.3h1.05M86.7 509.7h1.05M79.9 505.8h1.05M125.6 484.5h1.05M63.4 504.8h1.05M95.4 504.7h1.05M77.9 507.7h1.05M92.9 499.2h1.05M138.0 505.6h1.05M75.4 502.3h1.05M82.3 502.5h1.05M47.7 499.5h1.05M108.2 494.6h1.05M85.6 509.9h1.05M105.0 513.7h1.05M51.3 500.5h1.05M79.8 507.5h1.05M109.9 483.7h1.05M109.9 492.6h1.05M101.3 492.3h1.05M90.7 511.6h1.05M83.9 504.4h1.05M103.7 504.0h1.05M85.1 514.0h1.05M109.0 500.9h1.05M144.7 494.7h1.05M106.2 501.1h1.05M89.8 508.1h1.05M91.7 507.6h1.05M54.9 492.1h1.05M99.9 496.1h1.05M65.4 492.4h1.05M113.6 508.4h1.05M117.9 496.2h1.05M87.0 494.8h1.05M103.1 514.4h1.05M68.3 514.2h1.05M107.7 501.7h1.05M47.7 513.1h1.05M85.0 498.7h1.05M95.4 506.0h1.05M118.5 495.7h1.05M110.9 513.7h1.05M117.5 501.7h1.05M71.4 510.3h1.05M89.4 503.9h1.05M116.9 501.1h1.05M47.7 500.2h1.05M48.1 508.9h1.05M93.7 498.6h1.05M86.8 509.0h1.05M88.7 512.6h1.05M85.7 510.5h1.05M118.3 514.6h1.05M72.9 509.3h1.05M47.6 495.2h1.05M47.7 510.7h1.05M61.1 502.9h1.05M83.0 502.8h1.05M74.6 504.7h1.05M124.6 503.3h1.05M98.2 510.2h1.05M82.8 493.9h1.05M75.3 510.7h1.05M52.4 498.7h1.05M108.2 508.7h1.05M87.2 508.8h1.05M90.5 494.5h1.05M54.2 498.4h1.05M106.4 498.9h1.05M68.1 497.4h1.05M54.8 502.2h1.05M62.2 505.6h1.05M47.7 505.4h1.05M73.5 489.0h1.05M102.2 501.0h1.05M47.7 496.7h1.05M93.1 499.7h1.05M103.4 508.4h1.05M101.0 505.4h1.05M115.0 507.8h1.05M96.5 488.0h1.05M105.8 512.4h1.05M80.8 499.6h1.05M127.7 490.3h1.05M96.8 520.5h1.05M67.5 508.0h1.05M126.6 502.1h1.05M98.8 509.5h1.05M68.0 502.4h1.05M93.1 508.9h1.05M86.3 501.6h1.05M65.7 500.4h1.05M105.7 503.7h1.05M69.1 496.9h1.05M143.0 511.2h1.05M100.4 484.3h1.05M100.1 506.5h1.05M122.4 506.1h1.05M85.6 506.8h1.05M47.7 510.4h1.05M93.8 497.9h1.05M114.8 516.0h1.05M57.5 498.2h1.05M93.1 504.3h1.05M78.6 496.0h1.05M131.5 510.5h1.05M61.9 493.3h1.05M122.8 510.1h1.05M125.2 508.8h1.05M68.7 504.9h1.05M47.7 497.6h1.05M85.8 506.8h1.05M71.7 502.1h1.05M96.6 505.7h1.05M100.4 504.5h1.05M80.2 508.7h1.05M88.0 497.1h1.05M73.9 503.0h1.05M84.7 504.1h1.05M87.0 504.3h1.05M84.2 493.9h1.05M95.8 510.6h1.05M96.1 501.6h1.05M96.4 496.0h1.05M47.7 503.4h1.05M67.5 508.3h1.05M64.2 484.1h1.05M65.2 514.4h1.05M79.0 493.1h1.05M71.0 506.8h1.05M97.4 504.3h1.05M118.2 508.1h1.05M86.6 507.3h1.05M121.7 510.0h1.05M108.5 495.2h1.05M83.9 508.3h1.05M80.8 510.7h1.05M99.5 509.5h1.05M82.5 521.3h1.05M113.0 501.4h1.05M88.9 521.7h1.05M79.8 509.3h1.05M107.6 503.0h1.05M62.5 504.4h1.05M94.5 511.1h1.05M103.4 503.2h1.05M104.9 506.9h1.05M91.3 503.4h1.05M81.9 507.9h1.05M64.9 498.5h1.05M87.1 492.5h1.05M77.8 488.5h1.05M72.7 507.1h1.05M98.9 502.6h1.05M82.1 492.8h1.05M125.4 506.7h1.05M110.0 496.6h1.05M83.1 489.9h1.05M103.4 509.7h1.05M47.7 502.6h1.05M100.2 490.3h1.05M48.7 495.3h1.05M73.8 492.9h1.05M87.7 504.8h1.05M100.3 508.1h1.05M118.6 511.4h1.05M59.5 499.4h1.05M64.7 495.2h1.05M85.3 503.0h1.05M97.3 491.6h1.05M61.0 502.8h1.05M82.8 500.8h1.05M85.7 497.5h1.05M101.7 505.6h1.05M85.2 498.2h1.05M83.3 483.4h1.05M66.4 503.3h1.05M55.4 504.4h1.05M90.1 493.1h1.05M81.7 500.7h1.05M96.7 507.4h1.05M86.2 496.9h1.05M84.0 502.5h1.05M102.4 505.1h1.05M71.8 493.2h1.05M79.2 497.7h1.05M63.7 502.2h1.05M76.7 503.8h1.05M98.0 500.0h1.05M135.8 500.7h1.05M110.1 503.9h1.05M110.4 485.9h1.05M71.2 504.8h1.05M99.7 519.8h1.05M93.8 512.2h1.05M103.1 509.8h1.05M97.7 501.9h1.05M97.7 495.2h1.05M111.8 495.7h1.05M92.2 518.3h1.05M82.3 503.1h1.05M111.4 503.2h1.05M70.0 504.9h1.05M99.2 508.1h1.05M70.8 515.6h1.05M122.0 503.1h1.05M92.6 499.9h1.05M116.7 497.9h1.05M101.2 499.5h1.05M72.4 508.2h1.05M115.0 502.9h1.05M72.8 508.8h1.05M86.0 505.2h1.05M119.0 511.1h1.05M76.1 519.4h1.05M87.1 508.7h1.05M73.4 502.7h1.05M50.3 515.9h1.05M115.7 494.2h1.05M55.4 491.3h1.05M111.7 499.7h1.05M85.7 500.7h1.05M84.5 495.2h1.05M87.5 492.6h1.05M85.5 505.2h1.05M96.8 501.3h1.05M68.0 504.1h1.05M76.8 514.3h1.05M103.1 502.2h1.05M77.1 497.9h1.05M67.3 500.5h1.05M93.2 506.7h1.05M98.9 518.1h1.05M72.2 503.1h1.05M145.7 489.6h1.05M76.0 504.2h1.05M90.2 505.9h1.05M82.0 505.6h1.05M88.1 508.6h1.05M47.7 496.6h1.05M87.0 495.6h1.05M65.1 507.5h1.05M73.4 507.6h1.05M102.7 505.2h1.05M97.7 502.2h1.05M57.4 502.8h1.05M96.5 499.2h1.05M84.9 508.4h1.05M68.6 507.6h1.05M126.1 499.0h1.05M90.1 501.9h1.05M119.3 505.3h1.05M105.9 498.0h1.05M86.7 502.9h1.05M49.7 513.4h1.05M105.9 490.4h1.05M102.6 502.1h1.05M96.4 505.6h1.05M55.5 501.5h1.05M118.3 498.9h1.05M65.5 493.2h1.05M61.4 505.4h1.05M122.5 506.1h1.05M92.2 519.1h1.05M76.1 498.1h1.05M98.1 506.9h1.05M65.7 494.6h1.05M93.1 504.8h1.05M59.6 501.5h1.05M75.6 506.3h1.05M84.5 502.4h1.05M79.6 510.6h1.05M116.2 500.4h1.05M104.8 497.5h1.05M88.5 508.4h1.05M118.8 500.2h1.05M85.4 504.4h1.05M55.5 503.1h1.05M72.8 505.7h1.05M63.3 488.8h1.05M87.8 504.9h1.05M75.5 509.4h1.05M81.3 498.6h1.05M97.0 491.7h1.05M72.8 502.9h1.05M104.8 501.8h1.05M93.5 498.3h1.05M93.3 515.0h1.05M72.6 520.0h1.05M73.5 503.1h1.05M90.6 510.4h1.05M61.0 487.9h1.05M99.7 508.7h1.05M100.1 521.9h1.05M91.3 504.8h1.05M106.5 505.7h1.05M121.9 494.1h1.05M79.1 478.2h1.05M104.1 500.3h1.05M106.4 518.5h1.05M86.9 501.2h1.05M76.5 497.0h1.05M73.8 507.6h1.05M87.8 503.5h1.05M83.4 509.6h1.05M97.4 502.0h1.05M101.0 501.9h1.05M62.8 513.5h1.05M96.8 496.1h1.05M109.7 505.5h1.05M54.1 514.6h1.05M94.0 509.4h1.05M91.2 501.9h1.05M54.5 510.0h1.05M87.6 500.9h1.05M94.4 503.6h1.05M101.2 500.3h1.05M86.2 487.6h1.05M78.1 507.9h1.05M115.1 500.4h1.05M84.5 514.4h1.05M80.2 508.3h1.05M122.2 503.3h1.05M112.8 497.9h1.05M91.4 502.4h1.05M89.4 511.1h1.05M137.2 498.2h1.05M74.9 506.6h1.05M64.8 506.6h1.05M99.0 501.0h1.05M98.2 491.8h1.05M103.0 491.9h1.05M72.4 499.0h1.05M78.6 509.2h1.05M88.7 500.1h1.05M98.4 514.4h1.05M87.1 505.6h1.05M113.0 504.9h1.05M60.0 520.9h1.05M133.4 488.7h1.05M86.2 506.0h1.05M107.3 507.8h1.05M81.3 495.4h1.05M89.2 510.4h1.05M64.1 495.6h1.05M86.5 489.1h1.05M81.5 499.9h1.05M96.5 497.9h1.05M68.5 500.2h1.05M86.0 498.2h1.05M87.3 508.4h1.05M111.9 515.3h1.05M70.5 500.0h1.05M47.7 516.7h1.05M71.8 502.8h1.05M98.0 493.2h1.05M96.7 502.8h1.05M48.7 505.1h1.05M112.1 489.6h1.05M104.0 504.5h1.05M97.0 506.2h1.05M114.4 501.4h1.05M105.3 500.0h1.05M102.3 497.1h1.05M84.7 515.5h1.05M96.4 501.9h1.05M63.0 497.3h1.05M91.1 509.8h1.05M95.9 506.8h1.05M86.1 512.7h1.05M78.8 499.0h1.05M105.7 503.5h1.05M81.2 498.9h1.05M81.6 507.5h1.05M94.4 494.3h1.05M96.0 504.3h1.05M66.0 508.6h1.05M81.1 500.6h1.05M103.7 512.5h1.05M72.5 506.2h1.05M68.6 519.7h1.05M76.6 511.6h1.05M73.4 508.8h1.05M133.6 484.7h1.05M77.9 506.6h1.05M85.0 498.2h1.05M132.2 503.6h1.05M52.5 509.1h1.05M50.8 511.3h1.05M74.9 504.0h1.05M113.5 503.8h1.05M57.8 490.8h1.05M111.8 508.3h1.05M69.9 509.2h1.05M97.4 507.7h1.05M47.7 500.8h1.05M105.9 508.3h1.05M105.5 485.3h1.05M90.6 506.5h1.05M140.6 496.1h1.05M80.1 503.3h1.05M105.6 499.8h1.05M111.1 497.3h1.05M92.6 499.2h1.05M90.3 498.0h1.05M53.5 510.9h1.05M93.4 499.0h1.05M91.2 510.1h1.05M66.5 502.2h1.05M98.3 506.8h1.05M80.0 487.8h1.05M113.1 505.4h1.05M87.3 501.0h1.05M92.5 499.9h1.05M65.5 497.7h1.05M74.5 498.6h1.05M62.7 507.6h1.05M59.5 507.8h1.05M65.7 505.5h1.05M115.9 504.5h1.05M71.7 503.3h1.05M90.1 490.5h1.05M74.2 504.2h1.05M77.1 503.6h1.05M102.4 508.5h1.05M106.0 507.2h1.05M81.0 502.9h1.05M81.3 500.7h1.05M83.2 490.6h1.05M80.0 502.8h1.05M66.5 502.8h1.05M97.8 501.8h1.05M130.6 484.2h1.05M82.7 489.9h1.05M107.6 522.1h1.05M47.7 503.9h1.05M97.9 500.8h1.05M98.6 486.9h1.05M104.9 505.7h1.05M87.5 498.8h1.05M100.4 499.5h1.05M91.7 499.3h1.05M47.7 502.8h1.05M91.2 508.4h1.05M68.6 502.8h1.05M100.0 504.0h1.05M113.1 517.3h1.05M67.9 489.2h1.05M105.0 514.0h1.05M106.4 508.9h1.05M74.0 497.9h1.05M96.0 514.0h1.05M47.7 513.5h1.05M124.9 529.6h1.05M67.6 515.0h1.05M84.2 514.9h1.05M103.6 518.6h1.05M60.4 526.2h1.05M69.5 520.2h1.05M79.8 517.3h1.05M85.8 515.2h1.05M47.7 506.9h1.05M57.2 514.8h1.05M79.6 519.3h1.05M90.0 519.7h1.05M65.7 515.1h1.05M47.7 518.1h1.05M88.7 521.9h1.05M77.8 518.0h1.05M96.9 519.1h1.05M93.3 522.2h1.05M83.8 526.2h1.05M69.7 517.0h1.05M65.5 514.6h1.05M108.0 528.7h1.05M80.4 522.1h1.05M101.2 523.4h1.05M101.7 512.1h1.05M68.5 521.5h1.05M105.8 519.6h1.05M64.5 517.1h1.05M68.1 514.3h1.05M107.0 515.6h1.05M80.4 530.9h1.05M101.3 520.8h1.05M69.0 521.3h1.05M109.2 522.4h1.05M102.7 519.5h1.05M89.3 517.9h1.05M87.7 526.2h1.05M54.2 518.7h1.05M84.3 515.9h1.05M74.5 523.3h1.05M116.0 522.5h1.05M85.9 510.5h1.05M114.7 519.4h1.05M79.4 512.8h1.05M79.0 513.0h1.05M81.3 521.6h1.05M80.6 520.5h1.05M64.7 526.9h1.05M68.2 509.0h1.05M76.6 514.8h1.05M61.8 517.0h1.05M85.2 512.5h1.05M77.5 526.8h1.05M92.3 518.2h1.05M82.3 518.3h1.05M79.1 523.0h1.05M78.3 505.8h1.05M79.6 514.1h1.05M91.7 515.6h1.05M82.7 531.0h1.05M61.2 512.8h1.05M54.6 505.8h1.05M47.7 521.0h1.05M68.5 508.7h1.05M53.3 522.4h1.05M66.0 517.0h1.05M85.9 526.5h1.05M114.9 524.7h1.05M82.6 520.0h1.05M112.4 526.9h1.05M74.4 521.5h1.05M85.2 519.3h1.05M71.0 511.7h1.05M70.4 510.5h1.05M102.0 522.0h1.05M58.3 526.7h1.05M96.1 508.5h1.05M113.1 523.5h1.05M117.2 512.2h1.05M89.6 521.3h1.05M83.6 519.9h1.05M99.0 510.8h1.05M57.6 511.3h1.05M70.0 515.7h1.05M86.6 520.5h1.05M80.6 515.3h1.05M72.0 524.2h1.05M93.7 519.6h1.05M107.9 485.2h1.05M105.4 480.4h1.05M122.0 475.6h1.05M118.8 471.1h1.05M120.6 478.1h1.05M95.9 480.5h1.05M102.5 483.8h1.05M104.5 476.1h1.05M113.7 475.2h1.05M113.5 474.1h1.05M117.4 477.0h1.05M113.0 462.4h1.05M122.0 477.2h1.05M94.1 477.5h1.05M115.4 482.7h1.05M100.7 485.2h1.05M109.5 489.7h1.05M109.6 480.6h1.05M107.5 471.1h1.05M121.4 481.8h1.05M125.6 481.5h1.05M105.6 468.2h1.05M104.8 473.4h1.05M103.3 480.1h1.05M114.1 475.6h1.05M112.6 476.2h1.05M113.0 481.0h1.05M120.1 473.4h1.05M96.7 484.6h1.05M112.1 482.9h1.05M95.4 475.3h1.05M111.3 469.4h1.05M106.1 480.8h1.05M121.2 485.4h1.05M102.8 469.6h1.05M115.9 482.0h1.05M112.8 470.1h1.05M118.4 481.2h1.05M116.3 474.4h1.05M113.9 481.2h1.05M105.7 467.2h1.05M114.1 479.5h1.05M111.1 481.7h1.05M105.4 476.6h1.05M108.1 480.0h1.05M126.2 475.7h1.05M130.5 485.1h1.05M118.5 480.1h1.05M127.8 476.0h1.05M109.9 471.4h1.05M115.5 484.1h1.05M116.1 479.2h1.05M109.1 477.9h1.05M97.5 482.6h1.05M107.1 471.1h1.05M103.9 472.6h1.05M119.1 482.6h1.05M98.1 481.9h1.05M119.4 473.9h1.05M96.9 473.0h1.05M105.0 478.8h1.05M107.6 466.3h1.05M113.2 468.9h1.05M119.6 470.6h1.05M104.4 472.5h1.05M105.8 483.9h1.05M119.1 480.2h1.05M114.0 468.8h1.05M106.1 474.1h1.05M101.7 479.7h1.05M104.0 473.2h1.05M101.1 466.1h1.05M116.7 484.1h1.05M112.7 471.8h1.05M85.3 477.9h1.05M122.6 478.6h1.05M119.8 484.8h1.05M121.7 474.7h1.05M121.0 481.1h1.05M96.4 474.9h1.05M97.5 476.4h1.05M116.5 471.3h1.05M91.5 483.9h1.05M114.6 484.8h1.05M98.4 482.6h1.05M130.7 487.6h1.05M109.0 478.4h1.05M109.5 482.3h1.05M120.9 477.5h1.05M98.1 480.9h1.05M106.5 480.3h1.05M113.5 485.6h1.05M121.8 474.6h1.05M114.3 486.3h1.05M105.9 479.3h1.05M122.3 483.7h1.05M115.9 470.0h1.05M99.0 478.3h1.05M114.7 490.5h1.05M102.8 483.0h1.05M118.3 468.1h1.05M103.2 477.9h1.05M106.3 476.2h1.05M115.5 472.7h1.05M115.4 473.6h1.05M105.8 479.8h1.05M105.6 478.5h1.05M126.2 477.1h1.05M109.6 480.9h1.05M107.5 482.7h1.05M98.8 480.3h1.05M106.1 472.8h1.05M127.8 472.5h1.05M127.7 480.5h1.05M124.8 471.8h1.05M122.4 484.7h1.05M109.9 476.3h1.05M134.3 477.9h1.05M107.0 473.7h1.05M115.2 478.8h1.05M112.7 486.1h1.05M107.9 479.5h1.05M124.9 471.7h1.05M120.9 486.7h1.05M98.1 471.2h1.05M101.1 467.2h1.05M115.3 467.2h1.05M115.7 484.7h1.05M95.7 475.3h1.05M92.8 481.1h1.05M104.0 475.6h1.05M111.5 479.9h1.05M107.7 477.1h1.05M105.8 477.6h1.05M99.9 477.3h1.05M92.6 474.4h1.05M129.2 477.4h1.05M99.0 478.4h1.05M101.8 468.2h1.05M104.0 480.9h1.05M114.6 476.5h1.05M102.2 471.3h1.05M123.8 478.3h1.05M102.0 465.8h1.05M98.0 490.1h1.05M100.1 476.6h1.05M113.0 476.2h1.05M108.4 469.7h1.05M101.0 486.0h1.05M103.8 481.5h1.05M94.9 475.5h1.05M113.5 482.5h1.05M100.3 480.2h1.05M114.7 473.1h1.05M115.5 472.2h1.05M103.4 476.9h1.05M85.2 476.4h1.05M101.5 469.2h1.05M107.0 481.0h1.05M107.2 483.7h1.05M100.0 470.0h1.05M125.7 479.1h1.05M120.0 472.6h1.05M118.6 478.4h1.05M117.2 477.1h1.05M122.5 473.6h1.05M101.8 469.2h1.05M122.0 473.1h1.05M101.1 472.0h1.05M106.8 470.3h1.05M108.2 473.7h1.05M105.8 471.9h1.05M111.3 474.6h1.05M112.1 478.3h1.05M114.2 465.4h1.05M105.9 472.8h1.05M118.4 468.6h1.05M104.2 475.4h1.05M107.8 482.3h1.05M106.8 482.1h1.05M97.1 467.4h1.05M122.6 479.3h1.05M115.6 477.7h1.05M115.6 470.6h1.05M120.0 474.2h1.05M120.4 477.5h1.05M92.2 470.2h1.05M121.7 476.3h1.05M107.2 478.3h1.05M107.0 474.1h1.05M112.0 477.8h1.05M125.4 477.2h1.05M128.9 486.6h1.05M127.3 482.6h1.05M112.2 477.7h1.05M109.6 473.1h1.05M110.4 473.6h1.05M126.6 479.8h1.05M106.8 466.8h1.05M110.5 474.8h1.05M94.0 490.3h1.05M82.2 493.9h1.05M67.8 494.4h1.05M100.2 479.2h1.05M51.0 489.4h1.05M107.2 480.3h1.05M71.8 490.7h1.05M61.6 492.8h1.05M84.0 480.0h1.05M75.7 488.2h1.05M80.7 489.8h1.05M60.1 491.8h1.05M75.4 489.3h1.05M94.1 485.7h1.05M77.0 491.6h1.05M116.1 491.6h1.05M89.7 483.7h1.05M54.2 494.6h1.05M99.2 492.2h1.05M73.2 488.7h1.05M118.4 492.3h1.05M92.1 483.9h1.05M80.0 493.2h1.05M76.4 490.0h1.05M92.1 493.3h1.05M106.5 483.5h1.05M50.1 483.2h1.05M79.6 488.4h1.05M107.1 493.2h1.05M53.0 492.3h1.05M106.8 492.9h1.05M90.0 483.4h1.05M109.6 491.9h1.05M97.9 493.6h1.05M74.3 480.4h1.05M47.7 503.5h1.05M48.2 527.4h1.05M48.2 506.7h1.05M47.7 499.7h1.05M47.6 511.6h1.05M47.9 528.3h1.05M48.0 498.2h1.05M48.7 520.4h1.05M48.0 502.1h1.05M47.7 498.8h1.05M48.4 501.2h1.05M47.7 512.2h1.05M48.0 516.7h1.05M48.2 525.5h1.05M47.7 520.8h1.05M47.7 517.6h1.05M48.0 512.7h1.05M48.4 509.8h1.05M48.5 519.6h1.05M48.0 503.8h1.05M47.5 504.2h1.05M47.8 509.7h1.05M49.4 517.0h1.05M48.3 500.5h1.05M47.5 506.5h1.05M48.0 498.6h1.05M48.7 503.8h1.05M48.4 484.3h1.05M47.9 513.1h1.05M48.0 516.6h1.05M48.0 511.8h1.05M47.7 502.2h1.05M47.7 516.9h1.05M48.1 507.9h1.05M47.7 503.6h1.05M48.8 529.0h1.05M47.9 524.2h1.05M47.7 488.7h1.05M47.7 500.4h1.05M47.6 512.1h1.05M49.4 502.7h1.05M47.9 513.0h1.05M47.9 520.2h1.05M48.8 496.3h1.05M48.0 507.1h1.05M48.1 493.2h1.05M47.7 484.5h1.05M48.2 512.1h1.05M47.9 484.0h1.05M47.7 501.7h1.05M47.7 499.9h1.05M48.2 516.0h1.05M47.9 515.7h1.05M47.6 510.8h1.05M47.9 516.1h1.05M47.9 508.4h1.05M47.8 502.9h1.05M49.0 515.7h1.05M48.1 530.8h1.05M48.6 492.9h1.05M48.2 519.2h1.05M48.8 524.5h1.05M48.3 497.1h1.05M47.7 513.0h1.05M48.2 498.8h1.05M47.7 505.6h1.05M47.9 513.7h1.05M47.8 496.4h1.05M48.5 527.6h1.05M47.8 521.3h1.05M48.1 517.3h1.05M48.1 501.6h1.05M48.2 521.1h1.05M47.7 530.8h1.05M48.9 530.1h1.05M48.9 518.2h1.05M47.7 503.4h1.05M47.7 511.3h1.05M47.9 517.4h1.05M47.7 530.8h1.05M49.0 509.7h1.05M48.2 515.2h1.05M48.0 507.7h1.05M47.8 500.9h1.05M48.0 509.7h1.05M48.1 500.6h1.05M47.9 510.5h1.05M48.2 498.3h1.05M48.1 520.8h1.05M48.2 505.9h1.05M57.1 530.9h1.05M69.3 530.8h1.05M60.4 530.7h1.05M65.8 531.1h1.05M52.9 530.7h1.05M61.0 530.8h1.05M50.1 530.6h1.05M67.0 530.5h1.05M63.1 531.1h1.05M60.9 530.6h1.05M61.4 530.9h1.05M65.4 530.7h1.05M72.9 530.3h1.05M60.2 531.0h1.05M71.6 530.8h1.05M67.5 530.8h1.05M69.4 530.8h1.05M58.0 531.2h1.05M52.7 530.8h1.05M74.1 531.0h1.05M50.7 531.2h1.05M73.5 530.8h1.05M70.1 530.3h1.05M55.2 530.8h1.05M49.7 530.8h1.05M80.8 530.8h1.05M73.2 530.9h1.05M49.7 531.0h1.05M60.0 531.0h1.05M69.0 530.9h1.05M63.9 531.2h1.05M61.9 530.8h1.05M66.4 531.0h1.05M59.9 530.7h1.05M75.4 531.1h1.05M51.2 530.8h1.05M60.6 530.8h1.05M72.8 530.5h1.05M66.9 531.1h1.05M50.2 531.0h1.05" stroke="#222" stroke-width="1.05" fill="none"/>
<line x1="47.6" y1="490" x2="47.6" y2="531.5" stroke="#333" stroke-width="1.3"/>
<line x1="47" y1="531" x2="77" y2="531" stroke="#333" stroke-width="1.4"/>
<path d="M212.2 515.0h1.0M205.4 513.4h1.0M183.7 502.3h1.0M228.9 519.3h1.0M213.8 506.2h1.0M234.6 494.3h1.0M198.8 516.4h1.0M226.4 502.7h1.0M183.7 522.6h1.0M216.9 503.8h1.0M215.0 518.2h1.0M183.7 519.9h1.0M228.1 494.4h1.0M228.6 496.8h1.0M235.6 514.2h1.0M256.8 506.1h1.0M214.1 519.4h1.0M201.8 505.4h1.0M206.9 510.4h1.0M193.4 514.9h1.0M224.3 511.6h1.0M246.3 508.4h1.0M238.8 506.6h1.0M228.4 495.5h1.0M217.8 509.6h1.0M204.6 506.1h1.0M207.4 505.2h1.0M183.7 506.2h1.0M203.6 506.8h1.0M193.9 509.9h1.0M228.9 509.0h1.0M204.6 521.9h1.0M232.6 518.4h1.0M236.0 508.4h1.0M211.5 519.9h1.0M203.5 510.0h1.0M221.2 514.0h1.0M208.7 518.9h1.0M210.6 516.8h1.0M234.3 516.3h1.0M227.9 501.7h1.0M189.1 506.1h1.0M223.0 523.0h1.0M190.8 513.5h1.0M197.8 505.1h1.0M208.7 516.5h1.0M218.0 520.4h1.0M195.3 518.1h1.0M231.7 511.6h1.0M223.1 506.5h1.0M193.3 507.8h1.0M201.8 531.3h1.0M204.8 524.2h1.0M217.8 513.5h1.0M228.1 504.8h1.0M231.4 514.0h1.0M185.2 515.8h1.0M224.5 514.6h1.0M244.1 507.7h1.0M223.7 517.0h1.0M196.9 520.6h1.0M186.4 500.6h1.0M223.9 502.3h1.0M211.8 497.8h1.0M215.3 501.9h1.0M220.5 498.7h1.0M222.5 508.9h1.0M215.2 510.5h1.0M216.5 500.4h1.0M183.7 511.3h1.0M196.2 507.4h1.0M222.1 495.1h1.0M199.5 506.1h1.0M193.9 513.6h1.0M211.3 504.4h1.0M195.3 517.5h1.0M201.5 515.7h1.0M222.5 495.8h1.0M193.4 511.0h1.0M220.5 517.2h1.0M229.2 519.3h1.0M206.9 509.3h1.0M228.7 507.6h1.0M234.1 498.3h1.0M226.4 509.6h1.0M183.7 518.8h1.0M219.9 511.2h1.0M193.5 507.3h1.0M242.7 504.4h1.0M183.7 504.1h1.0M191.2 509.9h1.0M206.5 503.7h1.0M198.0 519.4h1.0M186.6 526.7h1.0M203.7 502.3h1.0M229.0 515.5h1.0M194.2 517.0h1.0M183.7 503.6h1.0M235.4 509.0h1.0M189.3 515.1h1.0M231.4 510.8h1.0M183.7 508.2h1.0M221.9 517.1h1.0M249.2 509.0h1.0M204.8 510.7h1.0M236.9 503.5h1.0M238.8 489.0h1.0M229.2 505.6h1.0M222.7 516.5h1.0M191.5 510.3h1.0M218.6 515.7h1.0M196.3 503.1h1.0M183.7 531.3h1.0M210.3 509.2h1.0M185.6 518.4h1.0M203.8 522.5h1.0M230.2 511.2h1.0M227.8 502.1h1.0M207.8 506.4h1.0M189.9 511.1h1.0M211.2 522.5h1.0M183.7 505.6h1.0M196.5 507.3h1.0M222.0 514.2h1.0M214.5 507.2h1.0M223.4 513.9h1.0M183.7 508.9h1.0M187.9 501.5h1.0M216.8 511.5h1.0M216.2 504.0h1.0M210.2 503.7h1.0M221.3 516.5h1.0M247.3 521.1h1.0M198.7 507.3h1.0M196.2 513.4h1.0M251.6 516.7h1.0M183.7 500.9h1.0M189.4 515.1h1.0M214.0 513.4h1.0M247.8 504.4h1.0M197.9 526.7h1.0M220.5 504.8h1.0M183.7 498.8h1.0M183.7 511.5h1.0M214.8 518.9h1.0M211.4 505.5h1.0M199.9 526.2h1.0M183.7 512.4h1.0M214.5 515.9h1.0M206.3 515.0h1.0M229.5 509.8h1.0M205.3 509.5h1.0M195.7 509.3h1.0M208.3 512.7h1.0M239.4 521.5h1.0M205.5 515.8h1.0M219.6 517.1h1.0M214.4 513.1h1.0M205.1 504.7h1.0M230.6 521.4h1.0M226.6 514.5h1.0M219.1 507.4h1.0M183.7 516.3h1.0M217.8 506.6h1.0M195.7 521.2h1.0M183.7 525.1h1.0M226.2 530.0h1.0M200.4 510.8h1.0M204.4 512.2h1.0M210.0 505.0h1.0M234.4 504.7h1.0M204.4 515.4h1.0M203.8 507.5h1.0M220.8 508.1h1.0M190.3 510.2h1.0M209.8 524.6h1.0M193.2 518.8h1.0M199.1 508.2h1.0M207.8 513.2h1.0M230.4 525.0h1.0M201.9 521.6h1.0M232.9 517.5h1.0M199.6 518.2h1.0M212.0 513.8h1.0M208.9 516.3h1.0M235.2 520.0h1.0M210.1 519.0h1.0M241.6 503.5h1.0M242.0 500.3h1.0M224.3 515.8h1.0M242.2 513.2h1.0M204.9 504.6h1.0M190.2 517.1h1.0M209.5 505.3h1.0M224.1 504.9h1.0M205.7 507.3h1.0M245.4 522.7h1.0M211.0 498.4h1.0M219.3 511.6h1.0M220.6 515.5h1.0M207.9 518.4h1.0M229.9 512.7h1.0M206.3 507.2h1.0M227.2 502.2h1.0M211.0 505.0h1.0M187.5 515.8h1.0M213.5 511.3h1.0M230.6 499.0h1.0M212.7 513.3h1.0M229.8 502.3h1.0M227.6 512.8h1.0M239.8 520.1h1.0M224.4 528.2h1.0M214.0 507.6h1.0M207.5 503.5h1.0M213.5 496.0h1.0M212.4 514.4h1.0M232.8 508.2h1.0M240.4 505.8h1.0M211.4 496.0h1.0M199.5 504.7h1.0M241.7 515.1h1.0M193.5 515.2h1.0M222.9 509.2h1.0M214.4 508.6h1.0M203.9 497.2h1.0M212.3 521.0h1.0M240.6 508.8h1.0M200.1 509.3h1.0M230.7 513.7h1.0M203.2 513.8h1.0M210.2 515.0h1.0M206.4 499.5h1.0M215.1 516.9h1.0M193.5 510.2h1.0M230.3 508.1h1.0M201.9 526.8h1.0M229.4 519.0h1.0M196.5 523.7h1.0M183.7 507.0h1.0M227.7 521.4h1.0M196.8 505.8h1.0M217.6 496.0h1.0M225.8 515.4h1.0M205.7 515.2h1.0M228.3 513.4h1.0M223.6 522.8h1.0M205.2 512.3h1.0M204.4 519.0h1.0M206.5 514.7h1.0M216.5 511.5h1.0M245.6 510.3h1.0M240.1 517.4h1.0M238.3 509.7h1.0M231.1 516.9h1.0M202.7 513.1h1.0M211.6 510.7h1.0M237.9 505.4h1.0M183.7 497.5h1.0M205.7 506.0h1.0M214.3 515.4h1.0M246.3 513.4h1.0M222.5 505.3h1.0M224.6 521.5h1.0M238.6 495.9h1.0M230.3 523.2h1.0M229.1 499.5h1.0M208.4 515.5h1.0M221.6 504.7h1.0M197.7 518.4h1.0M189.6 522.1h1.0M214.4 513.3h1.0M189.6 506.4h1.0M226.6 499.7h1.0M251.9 500.2h1.0M191.7 511.3h1.0M222.8 516.6h1.0M207.2 509.4h1.0M209.7 506.6h1.0M183.7 518.4h1.0M218.6 512.2h1.0M202.5 512.9h1.0M213.8 510.4h1.0M234.2 497.8h1.0M218.6 502.8h1.0M208.2 522.5h1.0M194.2 510.2h1.0M203.2 518.3h1.0M196.1 498.1h1.0M223.4 508.3h1.0M208.2 519.3h1.0M197.8 508.1h1.0M216.7 514.2h1.0M204.6 519.0h1.0M254.9 507.9h1.0M248.1 494.8h1.0M239.7 508.4h1.0M216.5 508.4h1.0M202.4 501.2h1.0M206.8 521.0h1.0M234.8 508.3h1.0M204.4 505.6h1.0M192.1 524.9h1.0M226.1 511.9h1.0M205.0 503.1h1.0M238.0 517.0h1.0M196.6 518.6h1.0M193.8 515.9h1.0M196.5 507.8h1.0M223.0 514.3h1.0M232.5 504.6h1.0M242.8 521.3h1.0M213.8 514.6h1.0M199.8 509.8h1.0M189.9 511.7h1.0M217.6 521.3h1.0M231.3 517.3h1.0M207.4 509.3h1.0M207.8 512.7h1.0M183.7 516.9h1.0M185.4 507.0h1.0M214.4 507.1h1.0M244.3 510.2h1.0M242.7 520.0h1.0M204.9 514.1h1.0M237.7 508.4h1.0M215.6 506.7h1.0M215.1 508.3h1.0M215.5 518.7h1.0M239.4 512.0h1.0M217.7 517.6h1.0M208.7 502.9h1.0M234.3 503.8h1.0M231.0 503.6h1.0M247.4 503.0h1.0M229.5 522.5h1.0M196.5 522.4h1.0M199.0 497.5h1.0M227.2 516.4h1.0M210.3 491.6h1.0M213.0 508.7h1.0M207.1 508.8h1.0M183.7 506.6h1.0M246.8 522.9h1.0M207.4 505.5h1.0M221.2 519.2h1.0M227.2 502.0h1.0M217.0 512.1h1.0M240.2 520.2h1.0M223.6 520.3h1.0M206.8 522.8h1.0M206.2 514.0h1.0M230.7 504.0h1.0M201.2 497.5h1.0M217.0 510.6h1.0M208.0 514.8h1.0M183.7 510.8h1.0M215.6 509.0h1.0M228.5 524.5h1.0M205.9 503.8h1.0M203.0 511.7h1.0M224.7 504.4h1.0M232.2 503.1h1.0M229.1 514.3h1.0M222.5 527.6h1.0M209.2 509.7h1.0M222.7 517.6h1.0M189.6 513.1h1.0M200.5 515.8h1.0M239.0 511.4h1.0M212.1 512.4h1.0M183.7 516.9h1.0M224.2 512.3h1.0M206.8 505.4h1.0M210.7 520.3h1.0M212.1 521.3h1.0M183.7 507.5h1.0M219.0 510.9h1.0M183.7 505.9h1.0M236.8 501.1h1.0M195.9 502.6h1.0M203.9 515.9h1.0M224.8 495.4h1.0M240.6 506.5h1.0M203.3 523.8h1.0M212.5 501.5h1.0M202.3 505.4h1.0M195.6 508.4h1.0M230.0 513.7h1.0M188.8 531.3h1.0M195.9 511.9h1.0M214.6 516.8h1.0M208.0 514.5h1.0M252.4 511.7h1.0M194.3 513.5h1.0M199.4 508.2h1.0M217.4 513.6h1.0M208.8 517.5h1.0M210.5 501.0h1.0M230.0 508.2h1.0M236.1 506.0h1.0M224.4 513.4h1.0M183.7 499.5h1.0M193.6 521.8h1.0M183.7 518.0h1.0M233.9 514.8h1.0M226.3 507.2h1.0M213.8 512.7h1.0M221.7 516.4h1.0M210.2 505.6h1.0M203.7 514.2h1.0M183.7 501.4h1.0M206.5 506.8h1.0M209.1 490.6h1.0M207.8 509.1h1.0M228.2 495.8h1.0M208.4 514.6h1.0M222.9 520.2h1.0M233.3 502.9h1.0M225.6 508.4h1.0M199.3 522.8h1.0M202.5 504.4h1.0M206.6 504.4h1.0M232.4 513.9h1.0M239.6 514.2h1.0M202.8 519.1h1.0M202.0 507.4h1.0M210.9 511.3h1.0M235.8 506.3h1.0M220.4 510.8h1.0M191.0 502.6h1.0M210.0 514.1h1.0M219.9 514.7h1.0M214.9 507.5h1.0M221.8 503.3h1.0M189.4 508.4h1.0M187.8 507.0h1.0M200.3 506.7h1.0M213.2 504.8h1.0M206.3 497.8h1.0M216.7 504.2h1.0M221.4 489.2h1.0M199.3 512.9h1.0M183.7 508.2h1.0M215.7 511.8h1.0M186.6 512.8h1.0M216.7 503.5h1.0M227.6 510.6h1.0M214.3 507.5h1.0M224.0 511.8h1.0M234.8 514.5h1.0M202.7 509.3h1.0M230.8 508.2h1.0M221.0 515.0h1.0M210.7 493.0h1.0M216.4 512.7h1.0M216.5 505.1h1.0M236.2 510.0h1.0M202.6 505.5h1.0M220.6 502.6h1.0M195.6 526.5h1.0M238.1 519.2h1.0M239.1 515.6h1.0M183.7 520.2h1.0M236.8 514.8h1.0M183.7 520.6h1.0M239.1 507.2h1.0M216.3 517.0h1.0M212.4 519.5h1.0M215.5 516.4h1.0M215.6 499.5h1.0M195.7 531.3h1.0M219.1 521.2h1.0M235.0 524.3h1.0M224.2 506.4h1.0M214.3 496.1h1.0M210.5 518.0h1.0M183.7 512.5h1.0M229.2 521.3h1.0M196.9 505.9h1.0M183.7 503.1h1.0M223.8 527.1h1.0M192.9 521.7h1.0M221.9 507.2h1.0M254.5 491.4h1.0M212.8 512.7h1.0M253.3 525.0h1.0M255.8 512.0h1.0M232.1 521.6h1.0M223.4 513.8h1.0M210.6 507.8h1.0M191.3 526.2h1.0M205.8 494.8h1.0M218.9 510.7h1.0M217.3 525.1h1.0M212.0 508.9h1.0M200.2 510.8h1.0M205.9 512.6h1.0M271.7 514.1h1.0M198.2 526.0h1.0M230.0 517.4h1.0M227.2 517.4h1.0M226.5 522.0h1.0M232.6 521.5h1.0M204.7 511.0h1.0M200.5 518.5h1.0M229.4 507.4h1.0M224.8 531.4h1.0M236.9 502.3h1.0M212.3 515.9h1.0M213.3 514.0h1.0M235.8 513.6h1.0M193.7 516.6h1.0M212.2 511.9h1.0M203.5 500.2h1.0M190.9 508.2h1.0M194.2 489.8h1.0M235.2 502.0h1.0M200.6 515.1h1.0M183.7 521.5h1.0M199.8 516.1h1.0M205.1 513.4h1.0M215.9 511.0h1.0M183.7 499.5h1.0M213.2 522.0h1.0M203.9 515.1h1.0M217.0 514.8h1.0M232.4 499.3h1.0M219.1 509.6h1.0M208.2 504.3h1.0M199.5 503.0h1.0M193.7 530.6h1.0M245.5 511.1h1.0M227.7 503.4h1.0M183.7 496.8h1.0M216.6 522.2h1.0M213.2 503.2h1.0M209.5 503.2h1.0M188.2 509.2h1.0M206.6 504.7h1.0M197.6 503.7h1.0M218.4 521.9h1.0M210.1 528.4h1.0M184.0 513.1h1.0M192.6 509.7h1.0M215.9 515.4h1.0M234.9 506.7h1.0M191.0 509.5h1.0M219.4 505.6h1.0M230.5 524.1h1.0M187.7 513.8h1.0M232.8 496.0h1.0M217.8 509.2h1.0M187.6 521.3h1.0M218.0 507.3h1.0M222.2 516.0h1.0M228.2 515.5h1.0M221.6 501.8h1.0M206.2 512.0h1.0M183.7 527.6h1.0M207.0 502.8h1.0M183.7 512.9h1.0M214.6 506.4h1.0M206.3 504.1h1.0M200.1 510.2h1.0M202.1 516.3h1.0M211.4 512.0h1.0M221.5 520.9h1.0M225.1 512.8h1.0M211.0 504.7h1.0M207.7 516.3h1.0M218.2 508.0h1.0M189.3 499.0h1.0M220.0 519.0h1.0M220.9 500.3h1.0M210.1 512.7h1.0M197.0 513.7h1.0M210.3 504.5h1.0M191.0 517.3h1.0M220.6 504.1h1.0M195.2 517.9h1.0M225.0 508.6h1.0M243.5 508.7h1.0M194.4 519.5h1.0M210.5 513.7h1.0M214.7 503.2h1.0M192.0 509.5h1.0M240.0 503.2h1.0M239.1 512.7h1.0M193.4 513.1h1.0M224.5 504.0h1.0M183.7 513.8h1.0M193.5 514.4h1.0M183.7 509.9h1.0M199.0 499.5h1.0M209.5 512.3h1.0M203.7 501.8h1.0M217.9 497.4h1.0M223.9 514.8h1.0M245.0 517.9h1.0M220.6 513.1h1.0M214.5 500.7h1.0M241.0 515.1h1.0M208.7 502.1h1.0M241.4 515.1h1.0M192.1 516.2h1.0M249.0 510.8h1.0M221.4 507.8h1.0M202.4 519.3h1.0M270.8 511.9h1.0M211.7 517.2h1.0M208.4 516.7h1.0M229.3 503.1h1.0M194.2 510.4h1.0M229.4 513.2h1.0M236.9 500.3h1.0M223.1 506.2h1.0M215.8 513.5h1.0M196.1 509.2h1.0M192.5 513.1h1.0M198.3 507.2h1.0M218.0 505.9h1.0M235.2 506.1h1.0M229.7 513.2h1.0M194.9 509.3h1.0M198.6 508.2h1.0M209.0 525.1h1.0M206.3 523.2h1.0M222.2 500.9h1.0M183.7 516.3h1.0M183.7 516.6h1.0M232.9 514.0h1.0M210.1 509.1h1.0M218.8 508.7h1.0M204.1 508.1h1.0M235.5 506.2h1.0M221.0 502.1h1.0M200.9 500.4h1.0M210.4 516.3h1.0M219.6 507.2h1.0M225.3 508.3h1.0M220.8 513.1h1.0M224.0 491.8h1.0M190.0 517.0h1.0M212.0 528.4h1.0M209.7 506.7h1.0M241.5 515.3h1.0M248.9 514.9h1.0M210.3 516.6h1.0M199.5 507.5h1.0M203.8 509.3h1.0M228.3 507.3h1.0M219.9 507.1h1.0M230.2 489.7h1.0M210.2 512.3h1.0M194.2 518.8h1.0M218.0 520.9h1.0M231.7 516.0h1.0M211.3 502.6h1.0M210.0 507.4h1.0M218.6 507.4h1.0M270.1 498.6h1.0M235.6 507.4h1.0M209.5 518.2h1.0M214.1 501.6h1.0M221.6 509.5h1.0M183.7 512.5h1.0M194.6 505.2h1.0M222.9 513.3h1.0M208.7 527.8h1.0M221.7 506.3h1.0M218.3 510.1h1.0M183.7 498.8h1.0M188.5 527.0h1.0M210.6 508.9h1.0M203.6 518.6h1.0M214.5 524.2h1.0M228.5 523.7h1.0M211.8 513.9h1.0M206.1 509.7h1.0M183.7 506.5h1.0M196.6 506.0h1.0M236.3 513.0h1.0M236.5 517.6h1.0M230.9 518.7h1.0M202.9 517.2h1.0M208.1 506.9h1.0M235.9 527.7h1.0M196.1 524.4h1.0M229.2 504.5h1.0M219.0 513.9h1.0M220.9 508.3h1.0M190.5 511.2h1.0M229.8 517.1h1.0M226.1 519.5h1.0M195.8 510.7h1.0M220.2 518.7h1.0M216.9 515.0h1.0M216.4 527.2h1.0M183.7 510.8h1.0M259.3 512.8h1.0M183.7 512.0h1.0M187.8 505.8h1.0M218.1 524.2h1.0M222.5 516.2h1.0M232.6 512.5h1.0M198.3 510.2h1.0M220.2 508.9h1.0M201.8 508.2h1.0M186.5 503.1h1.0M212.3 508.2h1.0M214.7 521.8h1.0M219.5 510.8h1.0M192.5 502.7h1.0M220.9 504.3h1.0M221.9 502.7h1.0M216.5 510.4h1.0M232.2 508.0h1.0M207.2 512.9h1.0M215.0 524.0h1.0M209.3 506.9h1.0M208.2 514.6h1.0M218.3 516.3h1.0M188.7 530.1h1.0M247.6 510.8h1.0M191.9 512.2h1.0M221.6 493.8h1.0M214.2 499.6h1.0M222.4 521.6h1.0M232.9 499.4h1.0M239.3 518.0h1.0M207.4 514.9h1.0M241.7 508.4h1.0M213.7 506.7h1.0M235.1 494.4h1.0M240.0 503.6h1.0M230.9 498.5h1.0M196.9 506.4h1.0M229.1 498.5h1.0M225.0 506.1h1.0M236.7 508.6h1.0M222.9 509.7h1.0M246.8 508.2h1.0M213.5 526.3h1.0M215.4 516.3h1.0M200.5 512.5h1.0M183.7 511.8h1.0M202.2 499.4h1.0M188.1 519.8h1.0M221.8 499.3h1.0M247.2 505.6h1.0M207.3 512.9h1.0M193.2 498.6h1.0M200.4 520.1h1.0M231.4 498.8h1.0M236.0 511.3h1.0M223.2 511.4h1.0M221.6 503.3h1.0M197.4 505.6h1.0M207.3 515.8h1.0M191.8 523.3h1.0M202.4 506.5h1.0M226.9 514.3h1.0M207.8 502.8h1.0M195.7 498.7h1.0M234.9 519.3h1.0M248.2 514.8h1.0M220.1 516.8h1.0M231.4 509.0h1.0M220.4 527.6h1.0M183.7 500.2h1.0M196.4 516.8h1.0M235.7 508.4h1.0M226.3 510.6h1.0M219.5 506.8h1.0M213.5 511.0h1.0M234.7 528.2h1.0M183.7 515.1h1.0M213.9 518.5h1.0M233.4 517.0h1.0M228.8 503.7h1.0M183.7 523.9h1.0M236.1 503.7h1.0M237.6 516.1h1.0M183.7 517.9h1.0M195.9 520.0h1.0M201.5 505.3h1.0M185.7 509.3h1.0M232.6 505.8h1.0M183.7 527.5h1.0M247.8 516.3h1.0M204.2 501.7h1.0M184.0 515.3h1.0M237.8 502.8h1.0M214.0 508.9h1.0M209.3 514.9h1.0M252.3 506.1h1.0M229.6 519.4h1.0M208.8 509.9h1.0M189.4 519.3h1.0M204.3 506.0h1.0M215.2 504.4h1.0M194.9 508.7h1.0M241.2 509.4h1.0M223.7 499.7h1.0M183.7 525.0h1.0M206.7 499.1h1.0M212.1 515.7h1.0M183.7 504.2h1.0M218.8 503.9h1.0M228.6 518.4h1.0M222.1 507.7h1.0M213.1 506.1h1.0M211.6 513.5h1.0M208.5 518.5h1.0M261.6 506.8h1.0M220.3 517.4h1.0M225.8 509.2h1.0M205.2 518.8h1.0M225.5 514.9h1.0M199.3 515.9h1.0M228.6 509.6h1.0M225.9 527.8h1.0M183.7 515.7h1.0M192.5 500.5h1.0M209.7 515.2h1.0M215.0 502.0h1.0M187.6 506.7h1.0M214.3 504.6h1.0M186.4 524.6h1.0M198.6 509.8h1.0M203.9 506.5h1.0M214.7 508.7h1.0M225.4 501.8h1.0M186.7 526.1h1.0M212.6 516.9h1.0M235.7 515.3h1.0M214.7 499.0h1.0M184.6 518.6h1.0M226.5 515.4h1.0M183.7 494.5h1.0M194.6 501.8h1.0M216.9 503.1h1.0M243.1 506.2h1.0M203.7 517.7h1.0M220.0 504.0h1.0M229.1 525.9h1.0M191.4 509.1h1.0M194.2 495.9h1.0M225.5 516.4h1.0M232.0 514.3h1.0M183.7 510.8h1.0M201.7 501.9h1.0M193.6 516.9h1.0M208.5 526.3h1.0M222.7 496.2h1.0M230.5 520.7h1.0M214.6 501.6h1.0M246.7 500.8h1.0M212.5 496.2h1.0M190.8 497.8h1.0M234.1 520.2h1.0M206.5 500.4h1.0M212.9 513.9h1.0M185.8 502.0h1.0M212.1 516.5h1.0M215.4 514.5h1.0M190.9 491.6h1.0M219.8 503.8h1.0M211.7 508.1h1.0M222.9 505.0h1.0M240.8 511.2h1.0M223.8 515.9h1.0M233.2 514.2h1.0M183.7 506.1h1.0M248.5 514.7h1.0M224.4 514.7h1.0M202.1 505.7h1.0M202.0 520.1h1.0M220.8 524.9h1.0M223.3 525.8h1.0M222.5 501.7h1.0M246.4 513.6h1.0M236.2 512.7h1.0M207.9 512.3h1.0M193.1 501.6h1.0M197.5 506.9h1.0M188.7 510.2h1.0M219.7 526.9h1.0M248.3 510.6h1.0M230.5 509.3h1.0M221.3 510.7h1.0M203.9 511.6h1.0M186.4 514.5h1.0M208.6 502.5h1.0M207.3 515.4h1.0M201.3 514.7h1.0M224.6 523.3h1.0M193.7 510.1h1.0M223.6 522.8h1.0M218.9 516.9h1.0M186.6 506.4h1.0M245.1 508.8h1.0M254.5 505.3h1.0M208.8 498.4h1.0M225.9 513.1h1.0M251.8 512.3h1.0M209.3 499.9h1.0M212.5 518.5h1.0M227.9 520.7h1.0M230.2 510.6h1.0M225.3 512.4h1.0M189.0 524.5h1.0M221.0 502.7h1.0M221.2 513.3h1.0M232.7 522.4h1.0M183.7 515.4h1.0M242.7 503.5h1.0M183.7 513.2h1.0M220.3 513.8h1.0M193.1 507.3h1.0M217.7 516.9h1.0M255.2 513.3h1.0M202.7 492.3h1.0M234.2 510.0h1.0M211.9 503.2h1.0M227.8 496.8h1.0M216.0 512.0h1.0M219.6 521.3h1.0M212.1 511.7h1.0M230.1 498.7h1.0M208.5 511.5h1.0M232.0 504.6h1.0M229.2 514.1h1.0M186.0 499.3h1.0M187.0 512.1h1.0M217.9 516.7h1.0M229.5 506.6h1.0M234.2 517.5h1.0M222.9 514.8h1.0M189.7 513.9h1.0M194.5 501.5h1.0M207.4 512.1h1.0M213.0 508.4h1.0M195.1 512.5h1.0M200.0 499.8h1.0M215.8 522.6h1.0M206.4 502.6h1.0M240.2 524.6h1.0M208.4 509.3h1.0M218.0 531.3h1.0M216.5 518.9h1.0M222.4 496.5h1.0M193.2 501.2h1.0M222.2 511.8h1.0M247.8 508.8h1.0M219.8 511.6h1.0M216.6 529.5h1.0M219.4 522.7h1.0M238.6 506.2h1.0M227.0 508.0h1.0M216.1 512.3h1.0M214.4 507.3h1.0M243.5 508.9h1.0M227.3 524.4h1.0M225.9 519.2h1.0M240.3 519.7h1.0M246.6 499.6h1.0M251.1 511.2h1.0M183.7 505.9h1.0M187.6 510.8h1.0M185.8 503.0h1.0M219.6 512.3h1.0M198.9 509.1h1.0M212.1 511.6h1.0M213.9 509.2h1.0M230.7 498.2h1.0M204.6 512.1h1.0M206.4 506.6h1.0M205.7 512.7h1.0M237.6 509.5h1.0M208.9 513.8h1.0M209.4 495.5h1.0M219.1 508.0h1.0M203.1 516.0h1.0M214.8 506.5h1.0M183.7 497.2h1.0M214.3 510.1h1.0M222.3 512.8h1.0M204.9 500.9h1.0M193.2 509.9h1.0M192.2 517.0h1.0M188.8 496.7h1.0M210.3 496.8h1.0M244.9 503.1h1.0M213.0 509.0h1.0M198.4 496.9h1.0M183.7 517.9h1.0M233.4 528.3h1.0M186.2 515.5h1.0M213.7 517.8h1.0M204.2 516.8h1.0M231.0 515.9h1.0M241.5 509.6h1.0M243.3 505.4h1.0M245.7 489.0h1.0M214.3 504.6h1.0M214.0 519.2h1.0M227.6 511.8h1.0M246.3 499.2h1.0M198.5 523.1h1.0M220.2 494.4h1.0M220.5 501.5h1.0M242.1 520.2h1.0M203.6 521.3h1.0M198.2 518.4h1.0M225.0 510.0h1.0M187.0 508.8h1.0M183.7 506.5h1.0M183.7 520.7h1.0M195.6 491.5h1.0M225.1 514.0h1.0M204.4 527.9h1.0M228.7 511.5h1.0M201.7 487.4h1.0M223.1 518.7h1.0M202.8 499.7h1.0M213.2 497.6h1.0M214.1 517.2h1.0M242.7 513.1h1.0M217.7 517.0h1.0M240.6 508.4h1.0M190.7 504.7h1.0M190.1 503.9h1.0M211.7 513.7h1.0M217.0 511.6h1.0M207.2 514.4h1.0M230.8 517.1h1.0M242.5 508.7h1.0M209.2 524.6h1.0M217.8 514.3h1.0M207.6 518.8h1.0M206.4 502.9h1.0M212.8 507.5h1.0M229.8 508.0h1.0M216.3 509.3h1.0M220.5 506.0h1.0M235.0 499.6h1.0M206.7 505.3h1.0M226.3 511.3h1.0M223.2 508.4h1.0M200.4 502.0h1.0M207.7 506.7h1.0M219.3 513.8h1.0M232.6 510.1h1.0M199.8 502.5h1.0M215.2 513.9h1.0M251.0 512.5h1.0M247.4 526.0h1.0M194.1 520.7h1.0M235.6 521.8h1.0M213.8 518.6h1.0M204.9 510.4h1.0M214.4 525.3h1.0M209.9 518.6h1.0M215.3 505.3h1.0M218.6 516.3h1.0M200.5 516.1h1.0M200.5 504.0h1.0M218.2 509.1h1.0M195.3 498.0h1.0M214.4 512.9h1.0M205.3 512.5h1.0M185.0 514.1h1.0M221.9 513.2h1.0M202.4 511.6h1.0M216.5 519.6h1.0M219.2 513.0h1.0M200.3 517.9h1.0M236.3 507.1h1.0M226.1 513.5h1.0M213.1 500.7h1.0M247.4 496.1h1.0M219.8 508.0h1.0M235.7 507.6h1.0M214.7 515.9h1.0M222.7 506.8h1.0M226.9 514.1h1.0M232.8 506.9h1.0M213.1 507.9h1.0M198.1 513.0h1.0M221.8 522.3h1.0M207.8 514.1h1.0M235.7 510.1h1.0M215.2 512.1h1.0M200.9 503.1h1.0M235.2 512.4h1.0M212.6 501.1h1.0M216.2 520.4h1.0M192.2 503.9h1.0M235.0 522.4h1.0M243.4 506.6h1.0M225.4 505.0h1.0M223.9 508.1h1.0M217.7 521.7h1.0M220.4 509.1h1.0M215.1 513.1h1.0M204.3 512.6h1.0M225.3 523.4h1.0M183.7 501.5h1.0M190.6 518.0h1.0M260.1 512.5h1.0M216.3 520.1h1.0M183.7 509.6h1.0M183.7 512.2h1.0M204.4 507.1h1.0M220.4 506.4h1.0M235.0 511.0h1.0M221.2 531.2h1.0M205.5 518.4h1.0M198.4 520.9h1.0M232.2 512.1h1.0M232.7 523.8h1.0M240.0 511.0h1.0M213.0 519.8h1.0M186.3 506.2h1.0M223.1 515.5h1.0M249.1 525.0h1.0M220.1 514.5h1.0M189.2 509.5h1.0M218.9 509.2h1.0M215.1 515.8h1.0M196.1 506.5h1.0M183.7 520.1h1.0M194.1 497.5h1.0M228.5 509.3h1.0M232.2 508.1h1.0M254.0 516.7h1.0M216.8 511.9h1.0M210.1 517.4h1.0M251.6 507.7h1.0M193.6 515.7h1.0M234.1 499.2h1.0M201.0 503.1h1.0M224.6 515.0h1.0M200.2 502.1h1.0M226.8 494.8h1.0M226.1 509.8h1.0M250.0 518.9h1.0M203.1 508.8h1.0M208.8 505.3h1.0M215.5 518.6h1.0M185.7 509.2h1.0M242.0 516.9h1.0M198.8 504.6h1.0M198.0 498.3h1.0M235.5 511.5h1.0M200.9 499.7h1.0M206.8 507.0h1.0M246.2 507.4h1.0M216.2 519.4h1.0M226.5 509.6h1.0M183.7 522.0h1.0M225.2 507.6h1.0M212.3 503.5h1.0M197.2 499.3h1.0M223.4 515.1h1.0M217.3 517.1h1.0M224.0 512.0h1.0M197.5 515.6h1.0M236.2 516.0h1.0M237.3 507.3h1.0M195.7 520.8h1.0M203.1 512.9h1.0M210.4 511.2h1.0M209.0 506.8h1.0M183.7 526.0h1.0M217.8 495.9h1.0M197.1 502.2h1.0M200.2 491.0h1.0M224.7 523.9h1.0M209.4 516.8h1.0M225.2 501.2h1.0M236.7 497.8h1.0M203.3 508.2h1.0M237.4 511.9h1.0M211.7 504.7h1.0M215.7 511.3h1.0M227.6 521.9h1.0M227.7 511.1h1.0M211.2 523.5h1.0M217.7 510.9h1.0M247.4 523.3h1.0M224.6 510.1h1.0M202.2 519.4h1.0M205.6 518.5h1.0M199.4 511.8h1.0M221.5 512.1h1.0M218.3 514.0h1.0M193.1 502.3h1.0M211.3 525.1h1.0M211.7 503.7h1.0M201.7 511.3h1.0M236.0 506.6h1.0M224.4 512.5h1.0M207.4 503.6h1.0M211.2 505.3h1.0M224.0 497.2h1.0M234.9 516.9h1.0M224.7 522.7h1.0M225.2 497.6h1.0M215.0 514.5h1.0M201.3 502.2h1.0M222.0 515.0h1.0M206.1 509.1h1.0M204.6 506.6h1.0M212.9 519.4h1.0M184.2 508.3h1.0M243.9 513.5h1.0M216.9 517.5h1.0M195.4 501.6h1.0M183.7 499.6h1.0M218.6 517.6h1.0M206.3 505.7h1.0M221.5 515.8h1.0M218.8 496.1h1.0M203.9 491.3h1.0M218.5 504.4h1.0M201.9 522.7h1.0M238.5 514.8h1.0M219.1 512.3h1.0M203.2 510.6h1.0M249.4 504.2h1.0M201.8 512.3h1.0M230.5 517.5h1.0M196.1 510.0h1.0M209.1 501.4h1.0M215.4 507.3h1.0M231.0 514.4h1.0M199.6 511.6h1.0M207.4 506.1h1.0M205.0 519.3h1.0M206.4 497.7h1.0M199.7 517.3h1.0M253.8 502.8h1.0M207.4 508.4h1.0M188.0 514.1h1.0M213.1 513.2h1.0M255.4 508.9h1.0M228.7 517.5h1.0M202.3 506.4h1.0M242.8 516.6h1.0M216.7 502.5h1.0M230.3 515.1h1.0M254.6 522.5h1.0M228.9 513.1h1.0M215.2 506.7h1.0M219.7 512.9h1.0M226.0 519.5h1.0M219.8 506.8h1.0M228.9 523.1h1.0M198.6 514.3h1.0M224.1 515.2h1.0M223.3 510.3h1.0M212.1 524.1h1.0M246.0 500.1h1.0M183.7 514.4h1.0M201.6 507.0h1.0M184.6 513.8h1.0M213.0 506.8h1.0M230.6 529.9h1.0M241.2 520.1h1.0M206.4 516.1h1.0M213.3 520.0h1.0M224.8 510.7h1.0M224.2 505.4h1.0M228.6 522.7h1.0M207.3 515.3h1.0M183.7 518.3h1.0M230.2 503.1h1.0M246.2 511.9h1.0M183.7 500.4h1.0M230.1 508.9h1.0M234.4 499.0h1.0M212.2 518.6h1.0M201.5 516.3h1.0M207.4 513.7h1.0M220.0 528.4h1.0M191.1 517.1h1.0M238.2 502.3h1.0M215.5 529.0h1.0M233.4 487.9h1.0M209.6 497.7h1.0M219.6 505.4h1.0M203.6 504.5h1.0M219.4 507.4h1.0M197.3 509.2h1.0M221.5 504.3h1.0M234.5 498.1h1.0M221.5 508.0h1.0M243.0 506.0h1.0M201.8 500.6h1.0M250.7 515.8h1.0M194.0 508.4h1.0M196.3 522.8h1.0M221.7 495.2h1.0M217.9 518.1h1.0M214.0 514.7h1.0M212.0 512.6h1.0M217.9 505.5h1.0M220.4 512.3h1.0M213.3 505.7h1.0M195.3 512.9h1.0M229.2 492.2h1.0M204.1 521.5h1.0M230.9 505.5h1.0M239.0 503.3h1.0M199.4 526.1h1.0M205.9 509.3h1.0M183.5 503.1h1.0M192.3 509.9h1.0M183.7 519.3h1.0M207.4 506.3h1.0M202.3 516.8h1.0M242.3 507.8h1.0M243.8 523.5h1.0M238.8 513.3h1.0M186.5 516.2h1.0M206.4 512.5h1.0M183.7 508.8h1.0M218.3 503.7h1.0M219.4 524.0h1.0M218.3 505.7h1.0M258.1 494.2h1.0M197.0 514.2h1.0M203.1 493.1h1.0M218.8 517.5h1.0M199.3 522.4h1.0M223.2 520.3h1.0M185.8 511.0h1.0M243.6 526.7h1.0M238.4 511.0h1.0M217.4 506.1h1.0M234.3 505.6h1.0M216.3 494.9h1.0M186.2 524.9h1.0M215.1 512.7h1.0M183.7 510.7h1.0M252.4 499.3h1.0M183.7 509.7h1.0M204.2 509.4h1.0M190.7 500.4h1.0M191.1 516.0h1.0M213.1 517.4h1.0M194.0 515.6h1.0M205.8 511.7h1.0M231.3 511.3h1.0M207.5 498.0h1.0M215.2 517.1h1.0M202.3 510.5h1.0M183.7 500.6h1.0M221.5 521.1h1.0M208.2 497.9h1.0M206.9 498.8h1.0M208.9 526.1h1.0M219.6 509.8h1.0M233.3 508.0h1.0M220.2 512.6h1.0M222.3 499.5h1.0M227.2 517.9h1.0M183.7 489.7h1.0M197.3 522.7h1.0M214.4 516.3h1.0M224.3 518.0h1.0M202.1 506.4h1.0M221.0 515.8h1.0M224.7 513.7h1.0M205.0 519.7h1.0M222.8 519.4h1.0M183.7 518.9h1.0M183.7 512.7h1.0M201.6 511.9h1.0M205.1 508.6h1.0M217.6 513.7h1.0M199.1 491.1h1.0M199.4 515.3h1.0M198.2 514.4h1.0M207.1 503.6h1.0M235.9 524.1h1.0M212.1 510.6h1.0M232.0 500.5h1.0M197.6 519.9h1.0M230.9 507.1h1.0M199.4 513.8h1.0M187.6 507.1h1.0M209.6 491.5h1.0M225.1 517.0h1.0M234.0 499.6h1.0M189.9 504.6h1.0M189.5 527.3h1.0M195.6 508.5h1.0M217.9 514.6h1.0M241.3 502.4h1.0M230.6 512.2h1.0M191.9 512.2h1.0M187.6 523.9h1.0M200.3 519.0h1.0M238.5 506.1h1.0M197.1 512.0h1.0M194.2 518.1h1.0M217.3 504.9h1.0M201.1 516.8h1.0M186.7 524.4h1.0M199.2 509.4h1.0M196.6 523.9h1.0M229.5 521.3h1.0M226.3 511.7h1.0M246.0 516.3h1.0M222.2 515.6h1.0M227.9 513.2h1.0M210.8 498.3h1.0M252.9 500.6h1.0M183.7 505.3h1.0M250.6 520.7h1.0M202.6 513.1h1.0M213.5 495.2h1.0M207.7 513.3h1.0M236.2 501.4h1.0M183.7 498.4h1.0M220.3 511.6h1.0M216.8 512.2h1.0M207.1 500.1h1.0M222.6 514.1h1.0M225.0 521.0h1.0M190.5 492.3h1.0M183.7 528.1h1.0M196.7 514.2h1.0M213.7 516.8h1.0M274.9 506.9h1.0M210.8 506.2h1.0M218.7 515.2h1.0M195.6 521.5h1.0M235.8 514.6h1.0M211.9 509.1h1.0M183.7 516.2h1.0M195.5 507.0h1.0M232.9 503.6h1.0M204.1 517.9h1.0M249.3 505.5h1.0M235.0 505.8h1.0M221.4 514.9h1.0M192.4 519.2h1.0M248.2 511.4h1.0M219.1 501.6h1.0M248.0 511.5h1.0M189.8 517.1h1.0M186.2 505.5h1.0M183.7 522.0h1.0M256.0 505.9h1.0M201.6 506.4h1.0M203.3 515.4h1.0M241.7 502.9h1.0M222.4 496.6h1.0M243.0 510.3h1.0M200.7 523.2h1.0M212.0 522.0h1.0M234.4 524.3h1.0M198.8 511.5h1.0M221.0 509.4h1.0M242.9 505.3h1.0M233.0 521.9h1.0M183.7 503.2h1.0M196.8 506.6h1.0M221.4 509.6h1.0M215.5 507.3h1.0M212.4 514.9h1.0M228.2 504.7h1.0M211.8 504.9h1.0M210.6 499.5h1.0M232.1 516.4h1.0M211.7 505.5h1.0M205.3 505.7h1.0M184.7 524.1h1.0M276.5 501.2h1.0M191.8 515.6h1.0M225.5 498.4h1.0M183.7 515.3h1.0M183.7 522.4h1.0M204.6 511.7h1.0M213.9 506.5h1.0M211.3 508.6h1.0M237.6 510.3h1.0M213.4 506.8h1.0M201.9 505.1h1.0M214.2 525.7h1.0M235.2 512.9h1.0M245.7 519.1h1.0M217.9 509.7h1.0M193.1 513.0h1.0M208.0 498.3h1.0M189.6 526.5h1.0M218.1 515.0h1.0M217.8 507.3h1.0M222.8 519.7h1.0M208.1 515.1h1.0M233.5 507.1h1.0M217.2 505.1h1.0M225.5 508.0h1.0M235.8 504.9h1.0M246.1 508.5h1.0M198.0 503.8h1.0M226.6 504.2h1.0M248.3 521.3h1.0M223.8 499.6h1.0M213.5 505.2h1.0M183.7 514.4h1.0M255.8 506.7h1.0M229.4 521.3h1.0M195.7 508.3h1.0M219.1 514.8h1.0M192.2 512.7h1.0M212.0 518.6h1.0M183.6 506.5h1.0M204.4 508.5h1.0M227.7 506.0h1.0M266.0 505.3h1.0M230.0 519.2h1.0M232.3 509.4h1.0M198.2 509.0h1.0M226.6 512.0h1.0M225.1 515.6h1.0M197.2 503.5h1.0M241.4 507.1h1.0M183.9 525.9h1.0M198.2 503.5h1.0M232.4 501.9h1.0M197.5 519.4h1.0M198.4 531.1h1.0M215.9 531.3h1.0M216.5 511.4h1.0M201.8 509.2h1.0M204.5 510.8h1.0M228.7 500.8h1.0M196.6 494.3h1.0M242.6 510.4h1.0M213.7 510.5h1.0M233.1 513.6h1.0M230.2 509.7h1.0M211.7 510.6h1.0M183.7 519.7h1.0M184.0 503.0h1.0M226.7 511.4h1.0M229.4 524.6h1.0M249.4 522.1h1.0M209.7 527.4h1.0M197.3 510.3h1.0M232.9 509.3h1.0M211.7 508.2h1.0M239.9 491.3h1.0M238.2 519.5h1.0M212.6 515.5h1.0M195.6 519.9h1.0M272.1 503.6h1.0M240.5 510.5h1.0M207.6 507.1h1.0M210.4 501.0h1.0M188.2 524.3h1.0M213.7 515.4h1.0M219.9 514.8h1.0M185.0 503.4h1.0M226.0 519.0h1.0M192.3 506.4h1.0M193.7 516.2h1.0M220.5 511.3h1.0M201.7 513.7h1.0M214.6 505.1h1.0M220.3 505.7h1.0M232.1 516.0h1.0M200.9 515.7h1.0M215.3 505.4h1.0M196.6 497.7h1.0M192.5 513.8h1.0M236.9 506.0h1.0M217.0 513.8h1.0M228.8 514.5h1.0M237.3 517.1h1.0M199.5 514.2h1.0M183.7 509.6h1.0M214.4 515.6h1.0M208.3 517.7h1.0M239.1 504.3h1.0M203.7 513.1h1.0M223.3 512.2h1.0M229.8 501.5h1.0M228.7 520.3h1.0M235.1 514.4h1.0M209.5 514.2h1.0M212.6 498.3h1.0M202.5 510.7h1.0M204.2 503.5h1.0M209.6 508.0h1.0M215.3 510.6h1.0M217.3 518.9h1.0M216.6 514.3h1.0M190.8 487.4h1.0M206.4 516.4h1.0M207.6 506.0h1.0M190.4 518.1h1.0M204.0 513.0h1.0M235.5 515.3h1.0M256.6 509.9h1.0M232.2 516.5h1.0M201.6 511.4h1.0M203.3 502.8h1.0M219.7 504.8h1.0M245.9 505.1h1.0M203.7 511.7h1.0M204.1 511.4h1.0M202.5 499.6h1.0M183.7 500.7h1.0M242.9 514.6h1.0M216.9 507.3h1.0M211.2 513.4h1.0M187.6 504.6h1.0M197.1 521.1h1.0M193.9 520.4h1.0M205.2 531.3h1.0M212.5 511.3h1.0M239.7 518.0h1.0M231.8 502.4h1.0M235.6 524.4h1.0M212.1 507.1h1.0M193.3 519.1h1.0M219.6 511.1h1.0M190.5 524.0h1.0M230.6 510.8h1.0M242.0 503.4h1.0M230.8 503.0h1.0M240.8 508.8h1.0M237.2 507.7h1.0M221.6 520.1h1.0M196.9 511.8h1.0M198.1 517.8h1.0M202.5 508.0h1.0M210.1 520.3h1.0M194.2 510.8h1.0M207.8 506.6h1.0M199.0 509.7h1.0M217.7 498.6h1.0M218.4 501.5h1.0M214.3 529.2h1.0M195.6 510.5h1.0M209.2 518.9h1.0M205.0 496.7h1.0M183.7 512.4h1.0M218.8 519.5h1.0M203.8 516.3h1.0M193.8 521.4h1.0M212.6 505.6h1.0M217.4 524.9h1.0M197.9 501.1h1.0M194.7 501.8h1.0M213.0 513.8h1.0M210.9 512.6h1.0M236.5 508.7h1.0M190.2 492.7h1.0M218.6 505.6h1.0M209.3 514.3h1.0M222.8 498.5h1.0M195.8 511.6h1.0M211.3 520.2h1.0M204.5 494.5h1.0M236.2 497.9h1.0M195.6 514.1h1.0M193.9 530.9h1.0M218.5 515.3h1.0M205.7 528.7h1.0M224.3 505.3h1.0M237.8 497.5h1.0M202.9 513.3h1.0M216.6 503.3h1.0M244.0 522.8h1.0M196.2 514.0h1.0M201.9 507.5h1.0M232.7 512.0h1.0M211.9 511.8h1.0M191.7 520.8h1.0M199.7 521.5h1.0M205.3 507.4h1.0M242.2 512.5h1.0M201.9 506.7h1.0M225.5 526.0h1.0M225.7 507.9h1.0M192.7 505.6h1.0M211.7 513.0h1.0M201.5 521.2h1.0M195.8 505.3h1.0M223.4 514.8h1.0M206.6 518.7h1.0M187.2 524.1h1.0M255.5 526.6h1.0M216.3 526.7h1.0M215.0 521.6h1.0M210.2 512.6h1.0M224.0 497.0h1.0M210.0 524.7h1.0M183.7 514.1h1.0M231.5 513.6h1.0M217.7 522.1h1.0M220.4 495.9h1.0M196.1 508.6h1.0M216.7 507.4h1.0M212.0 524.3h1.0M183.7 520.2h1.0M231.8 515.8h1.0M214.3 511.5h1.0M220.9 512.9h1.0M200.3 517.2h1.0M198.3 510.7h1.0M207.2 501.8h1.0M225.5 510.4h1.0M191.9 510.4h1.0M187.8 522.5h1.0M223.8 526.9h1.0M203.2 516.6h1.0M195.6 504.2h1.0M212.3 514.3h1.0M231.5 508.9h1.0M234.9 518.7h1.0M197.4 509.6h1.0M196.6 524.6h1.0M203.6 518.1h1.0M231.3 509.0h1.0M204.8 513.7h1.0M199.3 500.9h1.0M195.7 513.7h1.0M217.6 525.0h1.0M183.7 515.0h1.0M192.2 520.2h1.0M227.2 512.0h1.0M241.9 508.0h1.0M204.0 502.6h1.0M201.6 511.9h1.0M226.7 521.2h1.0M208.9 505.2h1.0M207.7 507.6h1.0M205.2 507.8h1.0M197.5 510.6h1.0M204.3 509.7h1.0M187.8 512.2h1.0M224.8 516.1h1.0M203.6 501.9h1.0M189.4 501.7h1.0M201.9 508.5h1.0M183.7 516.3h1.0M185.0 505.6h1.0M200.4 517.6h1.0M248.7 508.2h1.0M208.8 507.9h1.0M210.2 509.7h1.0M260.5 502.4h1.0M211.9 504.7h1.0M220.7 506.9h1.0M224.8 502.4h1.0M253.7 512.7h1.0M183.7 516.5h1.0M205.2 501.9h1.0M222.3 506.9h1.0M227.9 506.7h1.0M231.0 512.2h1.0M220.7 512.2h1.0M207.1 508.1h1.0M222.5 516.6h1.0M206.3 528.7h1.0M245.8 501.9h1.0M234.4 510.4h1.0M218.4 504.8h1.0M245.0 504.5h1.0M212.5 505.3h1.0M250.3 520.9h1.0M189.2 507.5h1.0M220.8 507.6h1.0M207.4 502.5h1.0M218.7 502.4h1.0M229.6 529.9h1.0M207.9 524.0h1.0M221.0 505.7h1.0M207.5 503.4h1.0M216.2 516.5h1.0M231.5 508.8h1.0M191.6 510.4h1.0M245.4 513.2h1.0M212.8 494.7h1.0M205.9 515.3h1.0M196.3 521.6h1.0M203.4 504.2h1.0M203.1 510.3h1.0M232.7 506.6h1.0M183.7 510.4h1.0M223.8 523.1h1.0M193.0 522.7h1.0M226.7 514.6h1.0M199.6 504.1h1.0M196.1 518.3h1.0M218.1 519.4h1.0M248.0 511.2h1.0M213.1 526.1h1.0M189.6 507.5h1.0M207.1 508.1h1.0M216.7 504.4h1.0M235.7 500.3h1.0M198.8 497.8h1.0M187.8 515.6h1.0M225.8 509.5h1.0M229.8 515.9h1.0M203.2 510.7h1.0M220.9 526.8h1.0M205.8 513.9h1.0M224.2 520.6h1.0M221.9 519.4h1.0M194.1 509.0h1.0M183.7 510.6h1.0M257.6 512.9h1.0M215.7 513.1h1.0M216.7 500.7h1.0M201.1 509.7h1.0M217.2 504.3h1.0M212.0 505.3h1.0M189.4 505.9h1.0M199.0 517.6h1.0M239.0 515.6h1.0M210.0 506.7h1.0M184.7 506.9h1.0M243.2 520.1h1.0M218.2 509.1h1.0M214.1 514.4h1.0M213.9 514.4h1.0M199.6 511.4h1.0M207.5 519.5h1.0M190.8 521.2h1.0M212.4 507.1h1.0M214.4 512.0h1.0M209.7 514.4h1.0M203.2 497.8h1.0M227.0 510.9h1.0M245.1 514.1h1.0M183.7 520.7h1.0M201.2 515.3h1.0M255.5 519.6h1.0M193.6 510.3h1.0M184.0 516.3h1.0M224.5 503.1h1.0M222.5 518.4h1.0M229.1 505.8h1.0M201.1 502.3h1.0M189.9 513.5h1.0M214.7 521.2h1.0M219.1 508.5h1.0M187.4 523.1h1.0M217.1 510.8h1.0M195.2 502.9h1.0M225.8 503.5h1.0M224.9 516.0h1.0M206.9 498.4h1.0M221.7 522.0h1.0M198.6 501.2h1.0M234.3 512.2h1.0M202.4 520.6h1.0M208.8 514.6h1.0M206.5 505.2h1.0M218.1 504.4h1.0M183.7 506.9h1.0M237.0 519.6h1.0M254.6 518.8h1.0M244.1 513.0h1.0M205.9 514.7h1.0M196.3 516.8h1.0M205.6 513.1h1.0M198.1 510.0h1.0M232.3 509.4h1.0M201.4 513.3h1.0M230.4 509.6h1.0M192.2 499.0h1.0M189.0 519.3h1.0M212.4 514.8h1.0M234.0 513.3h1.0M223.0 507.2h1.0M184.0 516.0h1.0M212.2 515.5h1.0M194.1 510.0h1.0M251.6 504.6h1.0M215.8 521.2h1.0M209.7 512.1h1.0M183.7 517.1h1.0M205.8 521.0h1.0M212.3 508.2h1.0M222.1 509.2h1.0M204.4 523.0h1.0M232.3 511.9h1.0M229.1 517.5h1.0M224.8 511.5h1.0M215.3 514.2h1.0M224.5 513.8h1.0M203.8 510.5h1.0M222.5 503.5h1.0M213.8 516.9h1.0M217.1 508.9h1.0M213.6 507.4h1.0M232.3 508.2h1.0M183.7 501.8h1.0M219.6 512.7h1.0M205.2 501.0h1.0M211.2 504.7h1.0M201.8 511.1h1.0M199.7 513.5h1.0M200.2 507.5h1.0M209.8 522.3h1.0M243.3 518.4h1.0M200.3 511.2h1.0M231.0 517.3h1.0M183.7 510.7h1.0M200.2 516.9h1.0M225.9 507.0h1.0M253.8 509.0h1.0M259.4 509.8h1.0M212.4 525.7h1.0M204.2 507.5h1.0M241.4 510.8h1.0M222.9 501.5h1.0M247.3 518.6h1.0M220.6 516.5h1.0M204.7 507.5h1.0M184.8 513.9h1.0M237.0 517.7h1.0M231.1 516.5h1.0M196.9 501.2h1.0M225.9 512.4h1.0M232.3 509.0h1.0M197.6 514.5h1.0M203.6 498.6h1.0M202.7 504.4h1.0M193.3 506.9h1.0M231.7 529.1h1.0M246.1 508.0h1.0M235.2 510.6h1.0M221.5 506.0h1.0M212.6 498.3h1.0M247.3 505.3h1.0M224.9 506.7h1.0M219.0 502.2h1.0M207.0 518.1h1.0M225.0 496.3h1.0M229.8 501.1h1.0M219.3 515.1h1.0M202.1 508.7h1.0M209.4 514.2h1.0M231.0 521.5h1.0M220.1 526.3h1.0M196.4 524.7h1.0M209.1 517.0h1.0M211.7 511.8h1.0M196.9 514.1h1.0M251.7 512.3h1.0M213.6 511.2h1.0M227.3 509.6h1.0M213.9 512.8h1.0M238.2 518.4h1.0M194.4 506.3h1.0M214.4 517.6h1.0M232.0 509.6h1.0M253.6 509.9h1.0M240.1 522.0h1.0M243.7 512.7h1.0M224.7 499.5h1.0M183.7 506.5h1.0M227.4 519.2h1.0M212.1 519.0h1.0M224.8 522.7h1.0M184.4 504.8h1.0M196.2 503.2h1.0M244.7 504.1h1.0M198.6 508.1h1.0M230.5 507.6h1.0M227.7 515.3h1.0M202.1 493.2h1.0M196.9 501.7h1.0M244.4 505.7h1.0M194.1 514.0h1.0M215.0 504.0h1.0M234.4 518.1h1.0M219.2 505.4h1.0M197.8 495.5h1.0M221.1 514.1h1.0M196.9 511.3h1.0M275.0 502.5h1.0M183.7 515.8h1.0M206.1 507.4h1.0M225.6 510.1h1.0M232.5 515.0h1.0M235.6 512.0h1.0M183.7 521.4h1.0M183.7 519.0h1.0M218.7 500.6h1.0M215.2 517.8h1.0M195.0 511.4h1.0M200.2 503.5h1.0M202.5 520.8h1.0M226.8 510.9h1.0M212.5 512.1h1.0M219.3 512.5h1.0M183.7 518.1h1.0M198.1 491.3h1.0M227.1 501.9h1.0M211.4 510.4h1.0M203.0 515.2h1.0M208.9 509.0h1.0M196.2 509.0h1.0M194.7 511.4h1.0M238.7 518.8h1.0M222.0 500.7h1.0M233.2 518.2h1.0M252.5 494.0h1.0M214.3 508.6h1.0M234.3 502.8h1.0M206.9 528.7h1.0M232.6 495.9h1.0M214.4 521.5h1.0M202.5 515.6h1.0M215.9 500.0h1.0M202.3 519.7h1.0M236.1 506.5h1.0M235.0 505.7h1.0M218.6 510.9h1.0M190.7 513.5h1.0M206.7 490.2h1.0M198.5 504.6h1.0M198.4 503.6h1.0M201.1 492.4h1.0M230.6 511.6h1.0M218.8 509.0h1.0M215.2 509.1h1.0M193.6 499.5h1.0M215.4 518.8h1.0M218.4 523.4h1.0M188.5 509.0h1.0M202.5 520.5h1.0M245.7 507.1h1.0M227.7 509.2h1.0M195.3 510.2h1.0M194.5 522.9h1.0M225.0 520.1h1.0M220.7 492.5h1.0M229.0 511.7h1.0M183.7 511.8h1.0M232.9 524.1h1.0M194.9 517.1h1.0M220.2 509.7h1.0M208.7 515.1h1.0M224.8 516.1h1.0M206.4 501.0h1.0M238.6 521.0h1.0M203.4 510.8h1.0M229.1 497.6h1.0M223.3 529.5h1.0M219.1 505.6h1.0M252.2 511.1h1.0M218.0 507.8h1.0M217.4 497.3h1.0M190.0 499.7h1.0M230.9 510.3h1.0M235.5 495.4h1.0M202.8 522.2h1.0M199.2 496.8h1.0M200.1 508.4h1.0M213.8 521.0h1.0M238.8 522.9h1.0M224.9 507.2h1.0M204.8 499.7h1.0M237.8 520.6h1.0M215.7 504.2h1.0M226.6 514.8h1.0M216.9 502.1h1.0M218.5 506.7h1.0M227.8 515.6h1.0M222.2 507.7h1.0M242.4 517.0h1.0M237.7 517.4h1.0M226.4 514.0h1.0M194.0 497.1h1.0M196.5 515.7h1.0M231.0 512.4h1.0M215.7 525.1h1.0M206.6 497.3h1.0M185.1 508.5h1.0M227.1 516.7h1.0M209.9 517.3h1.0M213.1 505.5h1.0M206.9 516.8h1.0M231.8 502.4h1.0M195.6 511.9h1.0M253.6 502.0h1.0M190.6 514.2h1.0M223.5 506.3h1.0M213.5 514.7h1.0M183.7 510.8h1.0M225.2 518.1h1.0M235.7 510.5h1.0M187.1 521.3h1.0M228.4 506.1h1.0M233.3 519.0h1.0M211.4 492.9h1.0M205.3 505.2h1.0M198.4 510.4h1.0M193.9 514.0h1.0M249.2 501.9h1.0M233.4 506.9h1.0M224.1 510.0h1.0M237.9 505.6h1.0M227.7 505.1h1.0M218.3 510.9h1.0M234.3 498.9h1.0M188.9 521.7h1.0M221.2 524.0h1.0M194.8 512.6h1.0M225.2 524.6h1.0M213.0 507.6h1.0M227.3 510.2h1.0M200.1 516.8h1.0M183.7 503.2h1.0M239.3 507.2h1.0M208.0 513.9h1.0M234.9 515.1h1.0M196.1 506.6h1.0M233.5 510.1h1.0M202.3 517.7h1.0M235.2 527.7h1.0M194.0 505.6h1.0M201.1 513.7h1.0M205.1 519.6h1.0M183.7 518.4h1.0M202.1 508.9h1.0M224.6 512.6h1.0M195.2 522.5h1.0M224.7 507.2h1.0M217.9 502.5h1.0M191.2 508.7h1.0M220.8 511.8h1.0M199.6 500.4h1.0M183.7 523.3h1.0M220.9 504.9h1.0M236.0 515.1h1.0M206.3 506.3h1.0M235.1 513.5h1.0M244.3 513.8h1.0M203.2 506.4h1.0M201.0 512.9h1.0M218.7 515.7h1.0M222.4 502.9h1.0M210.2 503.8h1.0M222.9 500.9h1.0M203.2 504.4h1.0M202.6 509.0h1.0M242.0 509.0h1.0M187.4 508.7h1.0M227.9 515.2h1.0M218.4 526.3h1.0M234.5 511.7h1.0M236.5 500.7h1.0M210.9 504.4h1.0M217.3 523.4h1.0M204.8 523.2h1.0M195.1 521.9h1.0M183.7 504.5h1.0M232.5 510.3h1.0M216.7 510.9h1.0M217.4 509.6h1.0M195.9 508.8h1.0M216.1 504.1h1.0M222.6 524.5h1.0M183.7 506.8h1.0M208.8 511.1h1.0M215.8 505.4h1.0M213.4 511.0h1.0M212.4 522.8h1.0M216.4 499.7h1.0M185.1 515.5h1.0M207.7 506.3h1.0M189.0 508.6h1.0M212.3 505.7h1.0M207.5 517.8h1.0M228.5 515.2h1.0M210.8 500.6h1.0M228.3 522.5h1.0M237.5 519.9h1.0M219.1 513.9h1.0M213.8 520.6h1.0M209.0 527.5h1.0M228.4 508.5h1.0M214.0 498.7h1.0M200.5 508.7h1.0M259.2 504.8h1.0M230.9 511.6h1.0M208.5 515.8h1.0M183.7 518.3h1.0M249.7 513.3h1.0M212.9 512.2h1.0M226.2 507.2h1.0M216.2 514.9h1.0M207.6 514.0h1.0M220.2 516.5h1.0M195.8 506.9h1.0M206.1 520.2h1.0M218.6 498.3h1.0M190.4 525.9h1.0M220.3 501.1h1.0M197.2 512.1h1.0M240.3 523.4h1.0M207.3 508.7h1.0M249.4 503.5h1.0M242.9 513.6h1.0M215.7 520.9h1.0M222.9 504.6h1.0M185.9 511.1h1.0M223.5 521.5h1.0M183.7 521.3h1.0M225.4 522.7h1.0M228.7 512.6h1.0M222.0 514.1h1.0M202.4 510.1h1.0M216.4 507.5h1.0M187.0 499.9h1.0M223.3 515.0h1.0M216.0 502.0h1.0M229.7 508.0h1.0M183.7 523.0h1.0M186.5 528.3h1.0M223.8 507.6h1.0M183.7 505.6h1.0M241.3 521.5h1.0M218.8 497.8h1.0M207.0 508.8h1.0M222.5 510.0h1.0M220.4 498.5h1.0M202.1 522.1h1.0M187.2 518.1h1.0M256.6 516.0h1.0M188.4 520.6h1.0M183.7 513.6h1.0M206.5 520.5h1.0M235.7 512.5h1.0M247.1 518.6h1.0M205.2 503.4h1.0M259.4 507.9h1.0M221.6 510.1h1.0M205.3 498.6h1.0M211.3 510.1h1.0M232.1 507.0h1.0M185.1 502.7h1.0M213.3 512.9h1.0M227.4 508.1h1.0M224.0 512.1h1.0M245.2 510.6h1.0M216.7 515.4h1.0M236.5 503.9h1.0M205.3 508.9h1.0M183.7 521.0h1.0M233.8 511.2h1.0M276.1 520.8h1.0M251.3 523.1h1.0M230.7 500.1h1.0M242.3 514.2h1.0M191.9 511.4h1.0M227.9 518.6h1.0M217.2 507.0h1.0M228.1 505.1h1.0M212.6 516.9h1.0M187.4 513.9h1.0M183.7 503.9h1.0M191.3 510.3h1.0M227.2 510.6h1.0M230.9 511.7h1.0M210.2 514.8h1.0M209.6 512.0h1.0M233.2 506.6h1.0M235.3 502.5h1.0M210.0 497.6h1.0M204.2 523.3h1.0M220.6 520.8h1.0M186.9 503.2h1.0M222.6 517.4h1.0M229.4 498.1h1.0M223.4 510.4h1.0M216.2 514.7h1.0M208.8 497.9h1.0M194.3 499.8h1.0M189.7 510.0h1.0M238.2 505.5h1.0M199.9 502.1h1.0M183.7 511.5h1.0M205.0 509.1h1.0M196.2 514.8h1.0M191.8 515.2h1.0M201.8 517.1h1.0M197.6 514.4h1.0M222.1 510.4h1.0M244.2 512.4h1.0M197.6 516.3h1.0M198.8 506.8h1.0M214.2 512.4h1.0M245.5 497.5h1.0M209.2 519.7h1.0M211.1 513.5h1.0M242.2 501.5h1.0M214.8 517.1h1.0M203.2 497.5h1.0M195.5 512.5h1.0M217.5 525.2h1.0M238.6 499.0h1.0M233.2 518.1h1.0M244.0 509.8h1.0M203.7 512.1h1.0M242.6 515.8h1.0M245.4 517.1h1.0M203.1 503.2h1.0M248.3 499.3h1.0M207.5 508.5h1.0M197.1 506.6h1.0M214.1 529.4h1.0M212.8 507.0h1.0M216.3 518.3h1.0M198.9 507.9h1.0M183.7 516.4h1.0M226.6 522.6h1.0M191.8 527.8h1.0M230.2 508.9h1.0M206.8 508.6h1.0M191.5 517.0h1.0M202.8 505.4h1.0M223.6 511.9h1.0M203.2 509.2h1.0M204.9 521.4h1.0M232.6 505.4h1.0M213.3 521.6h1.0M208.7 524.8h1.0M222.2 516.2h1.0M183.7 517.6h1.0M220.3 515.5h1.0M222.9 515.1h1.0M204.6 518.0h1.0M215.2 502.9h1.0M195.1 512.3h1.0M220.2 493.9h1.0M183.7 519.1h1.0M213.8 531.3h1.0M185.6 509.1h1.0M202.9 515.3h1.0M240.1 523.5h1.0M195.3 520.6h1.0M191.5 513.4h1.0M217.2 515.8h1.0M199.2 521.4h1.0M212.7 510.9h1.0M209.1 502.7h1.0M227.4 513.6h1.0M222.4 525.5h1.0M197.9 508.8h1.0M214.1 517.6h1.0M210.7 518.2h1.0M222.5 497.4h1.0M201.3 495.2h1.0M208.7 507.8h1.0M224.9 512.3h1.0M212.8 520.8h1.0M225.0 501.4h1.0M201.2 513.5h1.0M245.6 509.5h1.0M210.8 513.1h1.0M228.5 510.3h1.0M219.5 507.7h1.0M203.8 504.8h1.0M226.2 506.7h1.0M224.2 514.2h1.0M232.1 490.2h1.0M196.1 501.5h1.0M211.0 517.3h1.0M261.0 523.0h1.0M239.2 514.0h1.0M206.8 515.2h1.0M183.7 518.2h1.0M214.2 515.8h1.0M194.9 502.5h1.0M202.1 510.7h1.0M220.5 508.2h1.0M220.5 516.3h1.0M192.5 510.2h1.0M185.1 506.7h1.0M230.8 505.4h1.0M248.6 514.9h1.0M230.5 511.8h1.0M230.1 519.5h1.0M216.0 506.9h1.0M203.8 526.0h1.0M210.6 507.4h1.0M200.9 497.9h1.0M204.7 513.5h1.0M205.0 505.1h1.0M221.6 514.6h1.0M205.9 513.4h1.0M195.9 517.7h1.0M195.7 508.4h1.0M216.5 507.7h1.0M192.7 527.3h1.0M242.2 497.4h1.0M216.3 501.1h1.0M219.8 500.9h1.0M224.8 515.1h1.0M245.7 520.4h1.0M205.5 518.4h1.0M205.5 510.1h1.0M204.7 497.3h1.0M225.2 495.2h1.0M209.6 515.1h1.0M216.1 498.7h1.0M201.9 516.3h1.0M234.4 523.4h1.0M183.7 514.6h1.0M205.1 517.0h1.0M183.7 509.9h1.0M227.1 506.0h1.0M207.3 503.4h1.0M234.7 500.7h1.0M197.0 508.4h1.0M208.1 527.5h1.0M219.1 504.5h1.0M224.8 513.7h1.0M219.2 510.5h1.0M222.6 501.9h1.0M191.7 507.7h1.0M193.5 516.5h1.0M250.0 520.6h1.0M222.3 513.6h1.0M201.3 500.9h1.0M224.2 499.5h1.0M219.6 509.9h1.0M227.9 511.4h1.0M216.0 506.5h1.0M183.7 508.3h1.0M226.9 519.1h1.0M239.6 503.2h1.0M196.6 516.5h1.0M205.6 531.0h1.0M219.8 499.2h1.0M203.7 523.2h1.0M183.7 512.2h1.0M188.3 523.5h1.0M205.7 503.0h1.0M183.7 505.4h1.0M183.7 507.3h1.0M254.5 511.8h1.0M209.1 502.0h1.0M220.3 507.3h1.0M198.3 521.8h1.0M222.2 504.1h1.0M241.5 510.6h1.0M223.3 512.2h1.0M235.9 515.8h1.0M207.5 516.6h1.0M206.7 512.0h1.0M244.5 502.7h1.0M194.8 507.9h1.0M204.7 521.1h1.0M184.4 528.9h1.0M243.4 507.5h1.0M217.5 508.2h1.0M226.5 516.2h1.0M228.0 517.0h1.0M249.9 509.7h1.0M227.0 509.5h1.0M214.7 512.7h1.0M213.0 513.7h1.0M198.2 509.8h1.0M202.8 501.9h1.0M200.9 507.1h1.0M211.2 498.8h1.0M209.2 502.2h1.0M198.8 512.5h1.0M234.6 513.2h1.0M204.9 507.6h1.0M238.9 498.3h1.0M235.2 499.3h1.0M202.2 511.4h1.0M209.9 524.0h1.0M223.2 510.6h1.0M231.7 511.3h1.0M199.0 519.8h1.0M241.9 521.0h1.0M192.2 525.9h1.0M206.3 517.0h1.0M236.2 529.6h1.0M184.0 503.0h1.0M235.9 514.9h1.0M208.2 488.2h1.0M222.2 509.5h1.0M183.7 531.3h1.0M183.7 506.6h1.0M213.9 512.8h1.0M228.0 508.9h1.0M197.3 508.2h1.0M183.7 502.3h1.0M250.8 505.6h1.0M212.5 525.8h1.0M233.6 512.0h1.0M227.7 508.9h1.0M197.1 518.8h1.0M216.5 523.5h1.0M209.1 508.1h1.0M220.4 509.5h1.0M208.2 504.0h1.0M218.7 513.5h1.0M248.1 510.8h1.0M183.7 514.6h1.0M256.6 507.6h1.0M199.1 509.7h1.0M183.7 508.4h1.0M210.5 499.2h1.0M224.7 504.2h1.0M183.7 505.4h1.0M225.8 526.0h1.0M237.3 512.5h1.0M204.5 509.0h1.0M232.0 506.9h1.0M221.8 518.6h1.0M197.1 506.4h1.0M222.4 511.1h1.0M211.7 506.9h1.0M212.8 525.5h1.0M239.3 498.4h1.0M214.9 511.7h1.0M214.7 500.2h1.0M211.6 512.2h1.0M201.3 513.5h1.0M183.7 499.2h1.0M215.9 514.1h1.0M210.9 507.4h1.0M217.5 519.5h1.0M230.8 510.4h1.0M205.3 519.3h1.0M224.1 517.9h1.0M208.8 504.3h1.0M217.5 506.1h1.0M235.4 517.7h1.0M183.7 516.2h1.0M238.8 519.1h1.0M205.2 504.3h1.0M232.1 518.9h1.0M215.1 502.0h1.0M185.5 513.1h1.0M198.6 505.7h1.0M222.3 519.2h1.0M183.7 505.8h1.0M238.2 510.7h1.0M207.6 516.0h1.0M192.8 501.4h1.0M214.4 523.2h1.0M232.9 511.0h1.0M232.9 507.8h1.0M192.0 497.9h1.0M219.1 518.1h1.0M220.9 510.7h1.0M206.5 519.5h1.0M213.1 499.7h1.0M239.6 505.9h1.0M221.3 511.0h1.0M233.7 512.9h1.0M236.9 512.7h1.0M205.4 507.0h1.0M226.1 504.5h1.0M231.3 509.1h1.0M196.7 504.2h1.0M211.3 524.9h1.0M228.4 511.2h1.0M197.1 525.9h1.0M208.8 511.0h1.0M206.1 521.5h1.0M217.3 507.4h1.0M217.5 503.2h1.0M194.4 509.7h1.0M183.7 520.2h1.0M251.1 502.3h1.0M211.4 498.6h1.0M217.2 512.7h1.0M227.8 500.5h1.0M202.8 505.9h1.0M209.4 528.9h1.0M210.3 510.7h1.0M204.5 517.2h1.0M261.8 520.1h1.0M242.6 502.6h1.0M233.7 511.2h1.0M237.4 519.3h1.0M226.2 497.9h1.0M216.5 507.1h1.0M222.4 511.3h1.0M233.6 498.4h1.0M200.2 510.4h1.0M220.0 507.8h1.0M213.5 511.4h1.0M233.6 510.1h1.0M218.5 496.7h1.0M183.7 499.5h1.0M220.7 492.9h1.0M221.7 510.2h1.0M214.1 505.3h1.0M206.2 517.5h1.0M220.7 510.8h1.0M204.9 512.7h1.0M236.2 510.8h1.0M207.1 501.7h1.0M215.9 503.8h1.0M187.1 517.8h1.0M202.4 495.0h1.0M200.6 525.5h1.0M212.0 500.6h1.0M193.4 516.6h1.0M221.6 512.7h1.0M210.3 514.8h1.0M242.8 514.8h1.0M210.9 500.0h1.0M222.3 523.3h1.0M226.1 501.1h1.0M217.5 521.2h1.0M202.1 514.9h1.0M236.6 523.9h1.0M184.3 497.3h1.0M221.0 516.5h1.0M207.4 510.8h1.0M206.4 520.4h1.0M183.7 513.0h1.0M190.1 505.7h1.0M185.3 503.8h1.0M213.6 511.2h1.0M247.4 509.3h1.0M220.5 513.8h1.0M218.8 522.5h1.0M216.6 512.2h1.0M211.9 511.0h1.0M213.0 518.8h1.0M214.4 511.5h1.0M213.1 517.0h1.0M205.2 518.4h1.0M203.3 516.5h1.0M249.9 512.8h1.0M212.4 501.7h1.0M227.8 511.1h1.0M231.0 505.8h1.0M223.7 525.2h1.0M221.5 508.4h1.0M189.6 510.9h1.0M226.3 515.7h1.0M193.1 502.9h1.0M195.7 503.0h1.0M208.8 513.1h1.0M250.0 512.5h1.0M241.2 498.0h1.0M242.9 517.3h1.0M222.3 517.5h1.0M225.6 526.1h1.0M229.1 497.3h1.0M183.7 523.7h1.0M212.4 521.4h1.0M207.6 505.8h1.0M207.6 513.5h1.0M217.5 506.1h1.0M224.1 515.9h1.0M196.8 502.2h1.0M183.7 508.6h1.0M214.2 505.5h1.0M202.7 509.9h1.0M214.6 515.5h1.0M229.6 514.5h1.0M235.0 503.4h1.0M225.4 513.9h1.0M194.4 505.7h1.0M222.3 511.6h1.0M190.4 506.6h1.0M242.6 517.7h1.0M215.5 521.7h1.0M197.0 509.6h1.0M232.0 508.3h1.0M193.0 515.6h1.0M244.1 491.0h1.0M216.9 501.1h1.0M208.4 499.8h1.0M262.8 505.6h1.0M214.8 505.4h1.0M195.4 507.4h1.0M217.9 524.9h1.0M219.4 523.4h1.0M194.0 511.6h1.0M205.8 498.6h1.0M284.0 509.1h1.0M218.6 505.0h1.0M203.2 502.8h1.0M233.3 507.8h1.0M211.3 512.4h1.0M191.0 512.8h1.0M210.8 514.5h1.0M206.8 511.3h1.0M223.7 518.6h1.0M201.1 518.7h1.0M195.5 509.5h1.0M216.4 512.1h1.0M183.7 503.3h1.0M210.5 518.3h1.0M200.8 522.9h1.0M183.7 511.6h1.0M224.1 511.1h1.0M219.0 518.4h1.0M198.9 515.7h1.0M234.0 509.2h1.0M183.7 501.6h1.0M198.0 502.6h1.0M222.1 504.6h1.0M260.6 515.5h1.0M189.5 508.7h1.0M242.7 516.4h1.0M194.9 519.2h1.0M205.1 528.5h1.0M203.6 515.7h1.0M224.6 507.5h1.0M211.1 520.2h1.0M223.3 510.5h1.0M222.3 524.8h1.0M231.5 514.8h1.0M220.2 498.6h1.0M216.5 507.2h1.0M227.7 506.2h1.0M222.4 502.7h1.0M230.8 505.2h1.0M213.5 515.6h1.0M207.9 511.1h1.0M233.9 525.0h1.0M183.7 503.9h1.0M226.7 518.4h1.0M205.1 511.7h1.0M210.4 529.0h1.0M210.3 501.6h1.0M184.8 500.9h1.0M238.5 507.9h1.0M250.6 516.0h1.0M221.2 516.1h1.0M228.8 518.3h1.0M195.7 506.6h1.0M203.7 511.8h1.0M209.3 501.3h1.0M201.0 525.1h1.0M253.8 504.2h1.0M221.1 510.7h1.0M198.1 516.6h1.0M212.7 524.2h1.0M222.6 508.5h1.0M183.7 510.2h1.0M229.9 505.4h1.0M230.6 516.4h1.0M183.7 509.5h1.0M220.0 517.0h1.0M216.9 510.9h1.0M207.5 508.7h1.0M214.1 502.6h1.0M226.1 508.4h1.0M223.8 507.0h1.0M221.7 512.0h1.0M230.7 514.7h1.0M231.5 509.7h1.0M213.0 508.9h1.0M190.5 510.0h1.0M234.4 517.1h1.0M198.0 513.4h1.0M228.1 500.3h1.0M220.5 513.6h1.0M228.1 513.0h1.0M183.7 495.1h1.0M251.3 507.9h1.0M237.9 521.0h1.0M215.6 502.0h1.0M239.7 510.7h1.0M223.8 514.8h1.0M231.9 519.0h1.0M187.3 499.9h1.0M216.7 511.1h1.0M228.6 509.9h1.0M210.6 527.0h1.0M239.8 520.1h1.0M233.5 504.8h1.0M212.4 510.5h1.0M193.5 504.1h1.0M217.0 501.4h1.0M224.2 514.7h1.0M209.6 508.3h1.0M225.3 514.8h1.0M220.9 501.4h1.0M183.5 527.1h1.0M201.7 508.1h1.0M183.7 504.7h1.0M200.3 517.3h1.0M183.7 500.0h1.0M206.3 507.1h1.0M199.4 507.5h1.0M184.4 513.1h1.0M236.4 512.2h1.0M203.9 520.9h1.0M223.2 502.9h1.0M203.2 506.2h1.0M213.1 520.5h1.0M200.8 509.8h1.0M216.1 501.6h1.0M205.1 515.8h1.0M235.3 496.3h1.0M227.3 508.7h1.0M238.2 515.9h1.0M251.0 513.4h1.0M206.6 504.5h1.0M187.1 515.4h1.0M223.7 517.4h1.0M220.6 499.2h1.0M206.4 509.1h1.0M217.0 517.0h1.0M240.6 513.2h1.0M183.7 503.0h1.0M183.7 505.0h1.0M191.5 512.9h1.0M209.9 519.8h1.0M234.3 507.4h1.0M231.8 511.1h1.0M222.6 521.6h1.0M192.4 510.5h1.0M242.9 505.0h1.0M218.0 512.0h1.0M206.2 500.7h1.0M201.1 503.3h1.0M234.3 513.0h1.0M227.2 501.7h1.0M223.4 512.1h1.0M233.7 505.3h1.0M229.2 521.8h1.0M247.9 503.7h1.0M192.9 499.5h1.0M232.1 515.7h1.0M220.4 504.2h1.0M237.5 523.6h1.0M213.3 510.1h1.0M236.3 515.0h1.0M239.3 507.8h1.0M220.4 508.4h1.0M203.3 508.7h1.0M208.7 515.0h1.0M208.3 511.6h1.0M198.8 501.4h1.0M240.8 503.3h1.0M248.1 518.4h1.0M183.7 506.0h1.0M206.2 511.2h1.0M210.7 506.3h1.0M237.5 510.0h1.0M232.1 505.6h1.0M201.1 521.5h1.0M208.7 502.4h1.0M210.8 519.2h1.0M211.0 505.4h1.0M226.0 518.7h1.0M210.1 508.5h1.0M207.2 531.3h1.0M210.5 524.7h1.0M211.2 514.2h1.0M183.7 512.4h1.0M215.0 508.5h1.0M206.4 500.3h1.0M186.1 512.3h1.0M202.0 510.3h1.0M210.6 507.0h1.0M200.4 525.5h1.0M193.3 507.0h1.0M208.5 502.0h1.0M196.0 517.8h1.0M231.5 512.0h1.0M274.9 517.5h1.0M237.2 504.6h1.0M234.4 524.2h1.0M206.9 525.1h1.0M198.9 502.1h1.0M213.2 504.7h1.0M226.0 502.4h1.0M215.6 495.7h1.0M213.4 519.2h1.0M209.1 513.4h1.0M234.5 502.4h1.0M190.2 511.6h1.0M219.3 508.9h1.0M195.9 520.5h1.0M192.2 509.0h1.0M213.3 516.7h1.0M205.7 504.6h1.0M251.8 504.4h1.0M229.0 509.8h1.0M205.1 510.7h1.0M209.3 513.4h1.0M183.7 510.8h1.0M215.4 503.4h1.0M206.8 529.3h1.0M248.7 516.0h1.0M218.4 508.6h1.0M240.1 507.5h1.0M198.7 516.4h1.0M195.9 504.8h1.0M241.2 498.5h1.0M212.8 511.9h1.0M218.9 499.6h1.0M209.8 508.4h1.0M250.1 518.9h1.0M199.9 517.8h1.0M226.3 510.1h1.0M209.5 508.9h1.0M185.1 506.1h1.0M231.6 522.3h1.0M248.8 508.1h1.0M225.6 492.2h1.0M209.0 501.1h1.0M229.5 498.1h1.0M194.5 502.4h1.0M221.5 517.5h1.0M196.8 525.1h1.0M217.1 504.5h1.0M220.6 510.9h1.0M229.7 513.7h1.0M255.1 520.1h1.0M202.1 517.2h1.0M228.4 503.2h1.0M200.0 504.7h1.0M183.7 516.0h1.0M210.0 520.6h1.0M203.6 511.6h1.0M227.7 518.6h1.0M220.1 502.9h1.0M255.4 517.8h1.0M239.6 523.6h1.0M240.4 514.2h1.0M223.0 515.9h1.0M185.9 517.4h1.0M195.8 514.3h1.0M195.2 516.6h1.0M205.0 530.4h1.0M217.7 515.0h1.0M197.1 508.8h1.0M213.0 508.8h1.0M206.0 504.2h1.0M228.4 508.0h1.0M198.8 513.9h1.0M198.9 509.6h1.0M204.5 503.8h1.0M209.9 504.6h1.0M190.6 513.8h1.0M208.6 499.6h1.0M206.7 512.5h1.0M222.1 513.9h1.0M218.9 515.7h1.0M204.9 504.8h1.0M225.6 507.8h1.0M214.3 516.1h1.0M231.7 520.5h1.0M201.3 508.1h1.0M224.6 499.8h1.0M190.6 515.7h1.0M202.7 503.8h1.0M229.2 515.1h1.0M231.3 508.4h1.0M208.7 508.4h1.0M219.7 495.2h1.0M201.2 516.5h1.0M199.6 510.5h1.0M216.5 515.1h1.0M205.3 502.2h1.0M260.9 505.4h1.0M246.1 497.3h1.0M216.2 509.5h1.0M249.6 526.9h1.0M232.4 503.1h1.0M199.1 505.2h1.0M204.5 513.0h1.0M199.5 509.1h1.0M241.7 522.2h1.0M183.7 503.6h1.0M207.2 521.1h1.0M208.0 525.9h1.0M221.0 522.2h1.0M198.1 508.6h1.0M233.2 515.5h1.0M183.7 508.9h1.0M217.5 515.9h1.0M202.3 524.5h1.0M217.0 522.3h1.0M221.7 511.7h1.0M208.2 501.9h1.0M230.3 516.9h1.0M231.6 508.1h1.0M195.4 508.1h1.0M208.3 510.9h1.0M232.5 503.9h1.0M205.1 516.4h1.0M231.1 528.2h1.0M224.0 504.4h1.0M194.8 504.9h1.0M215.5 513.0h1.0M213.0 506.3h1.0M210.8 510.4h1.0M225.3 511.7h1.0M199.1 501.9h1.0M241.9 510.3h1.0M210.9 510.8h1.0M235.3 508.6h1.0M217.5 509.2h1.0M225.0 503.2h1.0M218.0 519.0h1.0M236.3 515.8h1.0M219.7 523.2h1.0M227.4 521.9h1.0M191.8 502.5h1.0M229.1 509.0h1.0M206.2 503.7h1.0M241.9 501.8h1.0M216.2 500.2h1.0M211.0 528.4h1.0M259.6 507.2h1.0M195.4 523.6h1.0M198.3 497.2h1.0M220.7 502.7h1.0M187.2 519.7h1.0M200.6 502.8h1.0M217.4 509.6h1.0M235.2 511.8h1.0M243.9 519.8h1.0M247.4 519.7h1.0M215.6 515.2h1.0M214.7 499.0h1.0M192.4 516.8h1.0M183.7 504.6h1.0M190.4 510.5h1.0M195.0 512.9h1.0M210.6 507.4h1.0M198.5 493.8h1.0M215.7 501.0h1.0M208.8 513.9h1.0M233.8 516.5h1.0M241.8 500.0h1.0M226.8 523.2h1.0M221.6 502.4h1.0M221.7 507.0h1.0M202.3 519.3h1.0M211.0 502.4h1.0M201.7 526.2h1.0M198.6 516.2h1.0M217.6 520.1h1.0M209.1 503.7h1.0M202.4 503.1h1.0M262.5 512.5h1.0M208.3 520.8h1.0M226.5 509.6h1.0M225.9 513.1h1.0M235.2 523.8h1.0M208.5 510.7h1.0M210.9 520.5h1.0M221.4 517.1h1.0M231.0 506.1h1.0M216.7 521.7h1.0M231.5 517.3h1.0M209.1 508.2h1.0M198.4 508.9h1.0M213.1 499.9h1.0M235.9 505.1h1.0M219.0 515.7h1.0M204.1 497.0h1.0M232.2 514.2h1.0M209.6 519.8h1.0M230.9 503.6h1.0M212.8 497.4h1.0M209.4 521.9h1.0M198.8 517.4h1.0M186.3 508.7h1.0M231.8 524.3h1.0M222.7 516.9h1.0M246.2 492.1h1.0M183.7 525.6h1.0M260.1 515.6h1.0M215.5 513.0h1.0M214.8 506.3h1.0M214.0 510.1h1.0M226.7 516.3h1.0M232.5 515.6h1.0M196.3 521.8h1.0M183.7 511.9h1.0M220.5 506.9h1.0M249.0 502.6h1.0M192.7 507.1h1.0M222.1 517.2h1.0M216.3 516.2h1.0M201.3 506.3h1.0M216.7 500.6h1.0M217.8 508.0h1.0M227.0 503.2h1.0M204.5 506.6h1.0M207.6 503.3h1.0M209.5 500.6h1.0M224.2 516.2h1.0M214.0 509.6h1.0M197.9 503.6h1.0M210.3 504.0h1.0M192.6 512.3h1.0M214.0 507.9h1.0M199.3 510.6h1.0M201.5 507.7h1.0M217.7 516.6h1.0M228.3 506.3h1.0M236.6 502.1h1.0M211.1 521.1h1.0M258.1 512.0h1.0M207.7 508.1h1.0M191.9 509.9h1.0M206.5 505.2h1.0M236.4 505.0h1.0M245.5 517.5h1.0M226.1 506.5h1.0M204.9 495.6h1.0M219.4 508.9h1.0M221.5 505.8h1.0M223.3 499.5h1.0M183.7 514.7h1.0M234.1 486.7h1.0M238.0 508.3h1.0M211.3 499.1h1.0M195.9 516.5h1.0M200.8 510.7h1.0M211.5 526.4h1.0M230.7 500.8h1.0M205.5 502.1h1.0M188.8 505.7h1.0M234.6 511.4h1.0M226.7 510.0h1.0M206.5 511.7h1.0M212.9 525.9h1.0M247.3 513.9h1.0M225.4 495.6h1.0M212.0 529.5h1.0M199.6 517.3h1.0M236.7 507.9h1.0M210.1 507.5h1.0M228.9 511.2h1.0M241.9 520.2h1.0M214.1 531.1h1.0M208.6 506.3h1.0M209.9 504.2h1.0M206.6 510.5h1.0M230.6 498.8h1.0M188.6 505.0h1.0M208.7 514.5h1.0M199.8 522.7h1.0M204.6 509.3h1.0M215.3 520.1h1.0M219.7 511.2h1.0M204.3 512.3h1.0M221.6 508.3h1.0M213.8 496.8h1.0M204.5 520.2h1.0M240.3 510.4h1.0M183.7 525.2h1.0M211.1 530.9h1.0M206.7 518.8h1.0M202.9 521.6h1.0M235.5 502.8h1.0M238.0 531.3h1.0M210.2 501.6h1.0M219.3 507.9h1.0M186.8 502.9h1.0M218.7 499.2h1.0M234.0 514.5h1.0M210.9 521.9h1.0M197.3 516.3h1.0M189.4 508.5h1.0M225.9 506.9h1.0M212.1 516.0h1.0M242.1 521.1h1.0M222.6 509.0h1.0M187.7 524.3h1.0M248.5 494.3h1.0M230.1 510.7h1.0M227.2 513.5h1.0M210.7 511.0h1.0M213.5 520.1h1.0M209.4 506.8h1.0M226.2 516.0h1.0M222.2 513.2h1.0M241.2 519.7h1.0M218.1 509.4h1.0M226.3 496.5h1.0M204.6 505.5h1.0M217.3 508.0h1.0M259.3 516.7h1.0M221.6 528.5h1.0M214.2 508.5h1.0M236.7 517.4h1.0M231.1 520.4h1.0M207.5 505.9h1.0M201.0 511.8h1.0M232.5 502.8h1.0M204.4 500.6h1.0M250.7 517.2h1.0M218.2 501.5h1.0M195.4 506.0h1.0M214.8 501.1h1.0M210.0 520.5h1.0M214.4 511.8h1.0M183.7 508.9h1.0M211.5 505.6h1.0M188.9 510.4h1.0M195.5 506.8h1.0M185.0 510.3h1.0M230.8 504.5h1.0M220.1 499.2h1.0M224.8 515.2h1.0M207.1 517.9h1.0M198.2 511.4h1.0M244.9 510.8h1.0M193.7 520.0h1.0M224.0 508.8h1.0M183.7 496.3h1.0M186.4 522.6h1.0M219.5 504.4h1.0M235.2 522.4h1.0M198.8 514.8h1.0M184.1 513.9h1.0M247.3 500.0h1.0M215.2 506.1h1.0M212.5 511.7h1.0M219.3 517.9h1.0M223.5 519.2h1.0M232.7 519.6h1.0M201.9 514.2h1.0M207.4 504.4h1.0M249.9 513.3h1.0M215.0 494.6h1.0M210.0 517.0h1.0M210.5 506.8h1.0M241.0 508.6h1.0M208.1 510.2h1.0M209.9 519.2h1.0M224.6 510.5h1.0M207.6 509.2h1.0M245.0 508.6h1.0M226.1 498.7h1.0M220.0 516.4h1.0M237.3 513.5h1.0M224.7 513.5h1.0M233.6 527.0h1.0M217.8 504.6h1.0M225.0 510.1h1.0M225.8 517.1h1.0M217.0 507.6h1.0M219.8 501.3h1.0M219.2 504.1h1.0M222.4 512.0h1.0M210.2 501.6h1.0M215.1 505.7h1.0M211.6 516.4h1.0M231.5 500.9h1.0M231.2 521.6h1.0M234.7 513.2h1.0M212.5 524.6h1.0M208.4 499.1h1.0M215.8 513.2h1.0M195.4 501.5h1.0M250.2 511.9h1.0M228.4 506.4h1.0M186.6 509.6h1.0M238.6 505.8h1.0M183.7 509.7h1.0M209.1 511.1h1.0M195.2 508.6h1.0M204.3 517.9h1.0M217.0 517.8h1.0M213.3 494.3h1.0M183.7 515.2h1.0M230.1 517.8h1.0M212.8 497.1h1.0M205.3 514.2h1.0M239.3 508.3h1.0M204.0 505.0h1.0M232.7 517.8h1.0M183.7 520.5h1.0M197.5 499.5h1.0M185.2 505.3h1.0M256.3 530.9h1.0M191.6 505.8h1.0M217.1 514.2h1.0M205.5 498.6h1.0M206.7 505.7h1.0M183.7 512.1h1.0M187.6 497.4h1.0M241.8 518.3h1.0M240.5 511.9h1.0M206.7 510.3h1.0M189.4 516.8h1.0M219.1 508.6h1.0M183.7 510.1h1.0M243.8 522.3h1.0M230.1 508.3h1.0M216.7 515.3h1.0M217.8 519.2h1.0M202.1 492.9h1.0M183.7 503.9h1.0M189.1 516.2h1.0M233.8 511.0h1.0M224.0 511.6h1.0M217.4 507.3h1.0M206.9 520.3h1.0M209.3 510.7h1.0M235.9 518.7h1.0M207.1 513.0h1.0M195.8 512.0h1.0M220.0 511.0h1.0M217.2 513.9h1.0M183.7 504.6h1.0M215.6 507.2h1.0M196.7 509.1h1.0M243.5 509.2h1.0M202.4 507.3h1.0M192.6 514.8h1.0M196.3 518.1h1.0M230.8 515.5h1.0M233.1 510.3h1.0M183.7 510.5h1.0M225.8 498.9h1.0M192.0 519.6h1.0M222.2 521.5h1.0M226.4 511.5h1.0M222.0 517.6h1.0M213.7 509.4h1.0M219.9 508.5h1.0M258.1 505.0h1.0M186.6 500.9h1.0M233.3 507.8h1.0M217.1 509.3h1.0M219.3 499.7h1.0M215.8 506.5h1.0M234.0 515.9h1.0M191.3 503.4h1.0M224.6 520.4h1.0M228.2 509.8h1.0M234.5 492.6h1.0M204.5 503.4h1.0M195.4 515.4h1.0M219.3 513.2h1.0M211.8 515.9h1.0M228.5 506.5h1.0M231.3 503.7h1.0M246.4 500.8h1.0M209.0 502.5h1.0M215.0 521.3h1.0M200.5 524.9h1.0M240.1 514.0h1.0M203.5 518.1h1.0M183.7 505.0h1.0M231.8 510.7h1.0M259.8 505.7h1.0M189.9 509.3h1.0M224.9 524.4h1.0M183.7 512.2h1.0M237.4 505.7h1.0M205.9 501.5h1.0M228.3 517.5h1.0M225.1 512.9h1.0M232.4 510.0h1.0M227.4 517.4h1.0M238.1 515.0h1.0M215.8 516.6h1.0M185.8 497.2h1.0M244.0 512.1h1.0M194.9 506.4h1.0M211.5 511.6h1.0M200.2 518.8h1.0M183.7 531.3h1.0M194.3 524.0h1.0M226.6 497.8h1.0M191.7 511.5h1.0M219.3 507.7h1.0M214.5 512.3h1.0M193.1 511.5h1.0M256.2 505.9h1.0M195.5 516.2h1.0M239.1 519.2h1.0M202.6 510.4h1.0M218.0 509.4h1.0M221.6 519.5h1.0M249.0 503.9h1.0M241.0 515.4h1.0M230.0 516.8h1.0M251.1 504.6h1.0M235.2 515.7h1.0M256.2 509.8h1.0M265.5 492.5h1.0M244.2 502.0h1.0M235.3 504.5h1.0M248.9 507.4h1.0M241.7 495.5h1.0M249.2 507.9h1.0M266.0 510.0h1.0M243.3 496.7h1.0M272.5 499.7h1.0M245.3 508.8h1.0M248.6 512.5h1.0M232.0 499.6h1.0M245.0 496.1h1.0M236.5 512.9h1.0M246.3 503.3h1.0M237.0 504.3h1.0M242.8 497.1h1.0M251.7 495.8h1.0M257.0 501.8h1.0M218.4 494.0h1.0M246.3 498.4h1.0M262.8 512.9h1.0M266.0 509.7h1.0M257.8 500.1h1.0M257.3 501.2h1.0M242.6 495.3h1.0M243.8 506.6h1.0M242.5 496.9h1.0M253.0 509.9h1.0M242.2 509.0h1.0M253.9 497.7h1.0M242.8 492.0h1.0M231.9 506.8h1.0M233.6 506.5h1.0M247.1 490.7h1.0M237.8 513.8h1.0M243.3 504.8h1.0M235.5 493.7h1.0M225.8 522.5h1.0M241.1 498.4h1.0M244.4 491.5h1.0M258.4 515.1h1.0M234.9 506.1h1.0M233.3 509.5h1.0M233.9 503.1h1.0M257.4 507.4h1.0M239.6 494.2h1.0M225.7 511.8h1.0M248.8 504.4h1.0M256.9 504.9h1.0M235.2 503.3h1.0M242.1 503.9h1.0M270.5 507.8h1.0M246.1 502.4h1.0M235.7 497.6h1.0M222.5 501.0h1.0M226.5 492.0h1.0M232.8 490.9h1.0M258.2 512.1h1.0M232.5 517.3h1.0M250.4 487.6h1.0M243.4 497.5h1.0M224.0 502.3h1.0M255.8 506.9h1.0M227.1 499.7h1.0M234.8 511.4h1.0M242.1 497.7h1.0M233.1 491.2h1.0M233.8 509.8h1.0M222.1 505.3h1.0M241.9 509.3h1.0M230.5 509.9h1.0M260.2 518.9h1.0M225.2 503.8h1.0M240.8 504.8h1.0M232.2 509.6h1.0M268.9 513.8h1.0M232.6 500.3h1.0M251.1 504.9h1.0M234.7 512.0h1.0M248.8 510.7h1.0M241.2 512.3h1.0M238.0 496.7h1.0M243.0 494.9h1.0M256.9 508.8h1.0M224.5 505.1h1.0M252.4 501.7h1.0M247.7 500.2h1.0M242.3 503.4h1.0M248.4 497.7h1.0M230.6 506.1h1.0M237.5 507.4h1.0M237.5 495.5h1.0M251.2 505.7h1.0M251.2 501.8h1.0M239.1 512.2h1.0M224.4 515.3h1.0M248.7 503.6h1.0M244.1 507.9h1.0M234.5 505.8h1.0M232.5 492.0h1.0M245.3 504.6h1.0M250.2 507.6h1.0M250.8 509.2h1.0M231.4 511.9h1.0M272.7 500.3h1.0M229.1 508.5h1.0M253.2 510.6h1.0M260.0 495.0h1.0M247.2 507.0h1.0M256.9 498.2h1.0M243.3 501.6h1.0M241.3 503.1h1.0M241.4 492.5h1.0M242.6 504.4h1.0M238.8 480.9h1.0M235.4 499.7h1.0M233.4 514.4h1.0M253.3 502.8h1.0M249.7 525.5h1.0M232.3 507.1h1.0M236.4 513.7h1.0M255.3 503.2h1.0M249.8 498.8h1.0M225.5 509.5h1.0M261.1 502.0h1.0M237.2 492.3h1.0M266.8 496.2h1.0M232.3 502.7h1.0M256.4 504.4h1.0M242.8 504.1h1.0M252.4 503.8h1.0M244.8 503.5h1.0M230.7 512.8h1.0M235.4 495.4h1.0M238.2 504.2h1.0M252.1 494.4h1.0M229.0 505.2h1.0M247.3 496.8h1.0M230.5 505.1h1.0M241.4 493.4h1.0M233.3 513.7h1.0M231.3 510.9h1.0M226.1 513.7h1.0M260.7 499.9h1.0M235.5 508.1h1.0M229.3 507.6h1.0M256.5 505.7h1.0M246.6 503.0h1.0M254.1 498.7h1.0M260.6 503.8h1.0M239.4 493.3h1.0M238.2 505.5h1.0M256.8 493.5h1.0M241.6 499.5h1.0M229.8 504.0h1.0M234.6 509.7h1.0M213.2 508.8h1.0M222.0 491.3h1.0M248.8 501.8h1.0M244.4 497.7h1.0M231.4 499.2h1.0M242.4 498.5h1.0M238.4 498.4h1.0M245.6 496.6h1.0M220.0 486.9h1.0M242.8 504.6h1.0M253.6 499.2h1.0M230.4 494.3h1.0M251.4 499.9h1.0M253.9 503.5h1.0M240.0 491.9h1.0M235.5 509.2h1.0M236.3 508.4h1.0M224.8 510.6h1.0M273.8 511.3h1.0M246.6 495.9h1.0M237.2 499.7h1.0M245.1 490.8h1.0M233.5 509.2h1.0M244.6 508.8h1.0M252.4 496.5h1.0M228.1 507.0h1.0M243.4 504.5h1.0M234.0 510.6h1.0M248.5 511.4h1.0M239.1 508.5h1.0M242.4 497.9h1.0M242.1 493.2h1.0M241.0 505.2h1.0M250.7 497.1h1.0M228.3 499.2h1.0M220.1 499.7h1.0M271.9 504.9h1.0M234.6 499.6h1.0M262.5 496.4h1.0M241.7 503.5h1.0M234.9 499.3h1.0M224.5 498.5h1.0M257.3 513.2h1.0M239.9 508.6h1.0M248.1 504.7h1.0M241.5 511.9h1.0M249.3 502.5h1.0M240.4 510.1h1.0M236.4 499.3h1.0M240.0 500.8h1.0M256.9 506.3h1.0M242.0 500.6h1.0M258.6 506.9h1.0M266.0 509.9h1.0M240.6 500.4h1.0M239.9 505.2h1.0M251.7 507.2h1.0M260.3 494.1h1.0M243.3 494.7h1.0M231.6 500.1h1.0M235.8 497.7h1.0M226.2 511.4h1.0M239.5 510.3h1.0M230.8 488.9h1.0M236.4 509.7h1.0M236.8 506.6h1.0M231.1 513.1h1.0M247.8 510.8h1.0M239.9 512.3h1.0M243.8 500.8h1.0M235.9 504.4h1.0M233.0 496.2h1.0M244.4 508.6h1.0M239.8 509.5h1.0M260.5 495.7h1.0M245.8 497.7h1.0M235.9 505.2h1.0M216.8 507.9h1.0M252.3 507.5h1.0M250.1 515.8h1.0M239.0 511.1h1.0M259.0 507.2h1.0M223.3 503.0h1.0M239.8 493.4h1.0M242.3 508.9h1.0M240.1 502.8h1.0M259.2 500.0h1.0M232.6 504.3h1.0M255.4 507.9h1.0M243.8 500.8h1.0M256.6 509.8h1.0M223.9 506.2h1.0M216.5 513.7h1.0M249.7 499.9h1.0M228.8 502.0h1.0M223.7 507.7h1.0M237.4 492.5h1.0M242.8 511.7h1.0M229.0 501.7h1.0M263.0 505.2h1.0M236.9 505.2h1.0M251.6 497.4h1.0M241.9 493.4h1.0M225.5 494.0h1.0M252.3 506.0h1.0M251.1 511.9h1.0M243.5 505.5h1.0M247.5 507.0h1.0M231.3 502.2h1.0M241.3 504.2h1.0M234.7 503.1h1.0M246.2 505.2h1.0M249.5 509.3h1.0M249.1 510.3h1.0M252.3 513.1h1.0M249.9 500.0h1.0M268.7 511.3h1.0M256.8 508.7h1.0M243.5 496.5h1.0M247.8 501.7h1.0M238.6 490.1h1.0M260.1 496.4h1.0M230.9 507.0h1.0M249.2 498.8h1.0M242.9 505.6h1.0M244.7 507.4h1.0M251.5 501.6h1.0M225.1 518.1h1.0M238.7 497.5h1.0M251.3 507.8h1.0M236.2 519.3h1.0M217.1 512.3h1.0M242.6 506.0h1.0M246.5 502.5h1.0M246.5 495.5h1.0M238.6 516.0h1.0M214.5 512.0h1.0M218.3 498.4h1.0M252.7 501.3h1.0M236.6 494.2h1.0M241.7 502.8h1.0M235.9 493.8h1.0M244.7 506.7h1.0M255.6 507.3h1.0M259.8 511.8h1.0M211.8 514.8h1.0M241.8 497.2h1.0M247.8 510.2h1.0M225.9 495.9h1.0M250.6 500.4h1.0M259.1 505.4h1.0M236.9 495.3h1.0M249.6 492.8h1.0M228.6 495.4h1.0M261.8 515.1h1.0M240.5 501.5h1.0M250.7 512.1h1.0M234.1 518.4h1.0M240.7 511.4h1.0M216.9 503.7h1.0M235.3 516.9h1.0M240.6 495.7h1.0M264.5 499.5h1.0M243.0 495.8h1.0M250.5 505.2h1.0M239.8 501.4h1.0M236.7 499.3h1.0M227.4 511.9h1.0M252.9 494.9h1.0M230.1 506.7h1.0M268.0 502.7h1.0M239.5 502.4h1.0M245.7 502.8h1.0M255.0 510.4h1.0M249.1 514.3h1.0M240.4 500.4h1.0M275.9 491.4h1.0M225.8 488.6h1.0M246.9 497.0h1.0M254.7 490.3h1.0M241.5 501.4h1.0M231.1 511.3h1.0M238.6 506.9h1.0M237.2 505.0h1.0M238.0 504.5h1.0M241.9 499.5h1.0M247.8 502.8h1.0M232.3 497.1h1.0M247.9 512.7h1.0M228.5 501.3h1.0M248.0 510.8h1.0M250.9 496.3h1.0M243.4 509.9h1.0M245.6 502.5h1.0M229.9 505.1h1.0M242.3 504.2h1.0M259.6 511.7h1.0M234.2 505.5h1.0M239.6 504.6h1.0M261.0 510.0h1.0M243.4 499.7h1.0M241.2 506.4h1.0M237.5 511.2h1.0M243.2 496.3h1.0M265.6 485.1h1.0M240.0 503.2h1.0M253.9 511.3h1.0M259.1 514.2h1.0M246.5 504.7h1.0M254.2 503.8h1.0M229.1 501.0h1.0M250.3 508.0h1.0M230.8 511.8h1.0M246.4 494.2h1.0M248.2 510.6h1.0M248.9 502.0h1.0M234.1 511.3h1.0M245.5 504.0h1.0M238.6 497.3h1.0M222.3 501.7h1.0M255.2 509.0h1.0M235.5 514.0h1.0M240.5 497.4h1.0M253.8 513.0h1.0M238.7 496.0h1.0M242.3 488.1h1.0M243.6 513.9h1.0M246.0 499.2h1.0M250.8 500.8h1.0M257.0 501.7h1.0M265.5 501.7h1.0M245.1 497.9h1.0M228.9 506.2h1.0M246.9 497.7h1.0M249.2 501.3h1.0M236.9 503.5h1.0M247.4 508.7h1.0M256.7 506.5h1.0M235.0 499.5h1.0M247.1 496.2h1.0M241.1 501.5h1.0M241.9 505.2h1.0M254.5 514.7h1.0M252.8 510.6h1.0M231.2 510.8h1.0M257.3 495.2h1.0M270.9 500.3h1.0M216.7 515.5h1.0M243.7 498.8h1.0M236.7 511.0h1.0M245.8 501.5h1.0M255.7 497.9h1.0M233.6 500.3h1.0M234.7 508.5h1.0M240.5 497.1h1.0M237.9 491.1h1.0M244.8 504.7h1.0M249.7 502.5h1.0M247.4 497.9h1.0M243.3 505.0h1.0M229.6 507.8h1.0M244.6 504.3h1.0M237.7 517.0h1.0M243.0 499.0h1.0M233.6 507.8h1.0M240.7 498.9h1.0M235.0 510.1h1.0M243.9 510.9h1.0M242.8 496.3h1.0M252.6 506.1h1.0M235.8 502.0h1.0M232.3 509.4h1.0M238.4 507.1h1.0M245.9 502.3h1.0M247.1 502.4h1.0M230.0 501.3h1.0M230.0 508.9h1.0M250.2 500.2h1.0M249.8 505.6h1.0M253.7 497.9h1.0M243.3 497.5h1.0M235.5 512.9h1.0M220.9 498.0h1.0M248.4 509.0h1.0M234.4 490.8h1.0M224.1 506.4h1.0M255.1 509.9h1.0M234.9 512.8h1.0M240.9 508.0h1.0M240.9 514.3h1.0M237.3 490.0h1.0M239.5 505.2h1.0M246.1 499.3h1.0M240.4 496.6h1.0M240.4 504.6h1.0M245.6 514.7h1.0M221.0 507.4h1.0M247.8 496.5h1.0M243.8 504.0h1.0M232.0 508.7h1.0M264.0 508.4h1.0M251.5 510.9h1.0M241.6 510.3h1.0M234.1 505.2h1.0M250.7 512.5h1.0M239.8 502.1h1.0M248.1 503.5h1.0M244.5 509.2h1.0M234.6 509.7h1.0M247.2 502.3h1.0M229.3 499.9h1.0M242.5 510.1h1.0M221.4 508.6h1.0M245.1 496.7h1.0M252.4 506.6h1.0M247.8 497.7h1.0M230.9 509.9h1.0M258.4 506.4h1.0M240.9 501.1h1.0M224.2 510.4h1.0M242.0 512.0h1.0M235.1 510.8h1.0M235.2 507.8h1.0M258.0 499.4h1.0M252.9 504.0h1.0M232.7 505.3h1.0M250.1 499.4h1.0M240.1 500.3h1.0M234.6 502.6h1.0M252.0 500.8h1.0M256.6 501.5h1.0M235.5 510.9h1.0M258.3 499.8h1.0M249.4 496.5h1.0M238.6 501.6h1.0M250.7 495.9h1.0M237.4 499.6h1.0M244.1 496.1h1.0M228.4 522.2h1.0M245.3 494.3h1.0M252.1 495.5h1.0M222.5 514.7h1.0M256.6 498.6h1.0M231.1 507.1h1.0M265.1 507.9h1.0M250.2 496.4h1.0M223.6 506.5h1.0M254.0 504.9h1.0M242.9 512.9h1.0M233.8 511.0h1.0M252.0 500.0h1.0M244.3 504.7h1.0M249.3 497.7h1.0M240.5 504.6h1.0M243.3 504.1h1.0M245.7 502.8h1.0M237.6 510.6h1.0M236.0 502.0h1.0M233.4 496.6h1.0M247.9 503.7h1.0M241.5 506.9h1.0M241.1 508.4h1.0M262.6 506.2h1.0M240.1 514.6h1.0M250.7 493.3h1.0M257.4 505.3h1.0M252.2 496.6h1.0M233.8 499.8h1.0M249.0 496.8h1.0M235.3 510.1h1.0M236.0 504.7h1.0M233.3 493.1h1.0M242.1 503.2h1.0M227.5 510.2h1.0M251.9 509.7h1.0M237.5 496.7h1.0M242.0 505.1h1.0M241.1 500.2h1.0M232.2 499.3h1.0M242.1 500.9h1.0M261.0 502.2h1.0M247.9 501.0h1.0M241.0 497.8h1.0M237.8 494.4h1.0M220.6 512.6h1.0M231.6 506.8h1.0M241.6 500.4h1.0M250.8 500.4h1.0M247.7 501.6h1.0M253.5 510.1h1.0M243.7 511.0h1.0M248.4 513.9h1.0M241.7 494.1h1.0M245.3 505.5h1.0M239.1 502.7h1.0M240.1 496.0h1.0M261.5 499.1h1.0M231.4 493.9h1.0M233.9 503.7h1.0M258.9 507.8h1.0M235.1 496.1h1.0M230.9 503.5h1.0M252.3 500.9h1.0M260.3 516.3h1.0M244.7 490.2h1.0M254.7 503.4h1.0M250.2 510.3h1.0M232.1 504.4h1.0M244.9 499.2h1.0M250.5 503.2h1.0M238.6 516.0h1.0M244.8 514.4h1.0M241.3 510.6h1.0M234.9 504.9h1.0M254.6 490.2h1.0M248.8 502.3h1.0M254.7 505.1h1.0M242.2 495.8h1.0M274.6 499.3h1.0M239.5 499.4h1.0M239.7 505.4h1.0M228.6 510.7h1.0M240.2 507.8h1.0M220.3 500.7h1.0M239.8 501.5h1.0M235.8 506.0h1.0M247.3 497.7h1.0M221.9 508.6h1.0M239.5 510.8h1.0M252.3 503.3h1.0M227.6 501.7h1.0M235.1 511.9h1.0M224.7 509.8h1.0M226.4 500.3h1.0M227.8 499.5h1.0M238.2 506.3h1.0M236.6 508.4h1.0M261.8 505.0h1.0M230.6 502.8h1.0M241.8 501.7h1.0M255.3 511.3h1.0M264.5 507.3h1.0M214.3 503.1h1.0M250.1 498.8h1.0M236.5 509.8h1.0M244.5 496.8h1.0M236.7 484.4h1.0M242.9 496.2h1.0M242.4 496.4h1.0M233.0 500.7h1.0M272.8 496.4h1.0M230.2 500.6h1.0M254.3 509.1h1.0M250.4 501.9h1.0M244.3 499.1h1.0M241.0 498.8h1.0M227.3 497.7h1.0M263.6 506.5h1.0M234.9 503.3h1.0M238.1 511.7h1.0M242.6 499.9h1.0M250.2 506.0h1.0M235.6 499.1h1.0M244.4 493.6h1.0M233.1 510.4h1.0M252.2 511.1h1.0M238.1 500.2h1.0M240.0 500.9h1.0M256.6 502.6h1.0M257.4 499.5h1.0M246.9 514.3h1.0M234.9 499.8h1.0M236.5 493.7h1.0M239.7 499.9h1.0M266.6 500.9h1.0M220.0 510.0h1.0M253.1 503.8h1.0M246.0 508.5h1.0M236.9 504.2h1.0M244.4 514.5h1.0M258.0 505.0h1.0M228.5 509.6h1.0M242.3 511.4h1.0M243.5 505.1h1.0M249.9 499.3h1.0M235.8 518.6h1.0M233.6 509.9h1.0M250.2 509.2h1.0M257.5 495.4h1.0M253.1 490.9h1.0M243.4 506.1h1.0M253.9 510.9h1.0M232.9 502.2h1.0M241.2 499.5h1.0M234.1 499.8h1.0M255.2 512.6h1.0M250.9 514.7h1.0M243.8 497.1h1.0M235.9 505.3h1.0M253.9 511.7h1.0M233.3 510.1h1.0M237.2 507.8h1.0M252.7 513.4h1.0M237.2 505.5h1.0M247.4 501.3h1.0M243.8 507.8h1.0M225.2 499.9h1.0M267.6 506.9h1.0M236.9 492.3h1.0M232.6 507.3h1.0M250.1 506.8h1.0M249.2 500.1h1.0M259.9 496.8h1.0M248.3 502.3h1.0M224.6 509.7h1.0M239.9 508.5h1.0M256.5 505.0h1.0M235.8 502.6h1.0M242.1 513.2h1.0M252.0 514.1h1.0M251.0 499.1h1.0M252.8 510.2h1.0M241.5 506.9h1.0M239.4 495.9h1.0M241.9 508.9h1.0M239.0 489.7h1.0M234.3 510.9h1.0M245.3 511.1h1.0M234.8 501.3h1.0M232.1 499.0h1.0M248.3 504.9h1.0M237.7 505.9h1.0M228.9 501.5h1.0M226.8 494.4h1.0M228.3 497.0h1.0M259.7 512.8h1.0M256.3 500.3h1.0M249.5 496.7h1.0M237.0 505.5h1.0M225.7 505.3h1.0M249.4 490.8h1.0M216.7 502.2h1.0M241.5 504.9h1.0M230.7 507.6h1.0M244.1 499.3h1.0M260.4 505.6h1.0M250.8 515.8h1.0M237.6 502.6h1.0M224.2 502.5h1.0M247.5 520.0h1.0M248.8 505.3h1.0M229.3 498.5h1.0M223.0 495.2h1.0M244.0 505.9h1.0M233.0 502.6h1.0M234.2 508.0h1.0M249.7 500.4h1.0M237.9 496.1h1.0M237.8 518.0h1.0M242.7 509.5h1.0M249.0 513.4h1.0M239.3 498.2h1.0M253.9 509.9h1.0M235.7 511.0h1.0M242.7 503.7h1.0M262.5 507.4h1.0M246.2 501.9h1.0M245.0 510.8h1.0M247.7 499.2h1.0M247.6 503.2h1.0M246.1 502.8h1.0M219.4 493.6h1.0M238.7 489.8h1.0M226.7 517.0h1.0M250.2 501.0h1.0M246.3 489.6h1.0M245.5 510.3h1.0M244.8 495.6h1.0M253.2 500.6h1.0M236.7 505.3h1.0M239.6 517.1h1.0M241.3 517.8h1.0M247.7 496.0h1.0M242.8 504.3h1.0M258.2 512.2h1.0M270.2 499.7h1.0M238.1 519.0h1.0M233.2 506.3h1.0M260.1 497.5h1.0M239.1 499.2h1.0M248.5 506.6h1.0M242.4 508.2h1.0M234.4 501.6h1.0M247.8 517.0h1.0M242.4 504.4h1.0M256.9 504.5h1.0M256.8 505.5h1.0M255.2 505.2h1.0M232.9 498.5h1.0M247.4 516.1h1.0M262.9 501.9h1.0M269.7 496.8h1.0M233.7 510.0h1.0M226.4 509.9h1.0M246.9 508.1h1.0M229.9 506.5h1.0M252.9 503.7h1.0M253.9 504.2h1.0M246.5 502.0h1.0M228.2 503.0h1.0M248.2 499.1h1.0M221.8 494.0h1.0M257.0 502.6h1.0M234.6 512.0h1.0M241.0 494.3h1.0M238.1 498.3h1.0M240.8 498.1h1.0M243.6 507.0h1.0M236.7 502.7h1.0M241.1 509.4h1.0M235.1 508.9h1.0M256.3 502.7h1.0M232.4 502.0h1.0M223.7 500.5h1.0M229.9 502.9h1.0M238.8 507.3h1.0M244.1 506.7h1.0M242.3 505.8h1.0M230.6 508.3h1.0M256.9 511.2h1.0M228.3 506.7h1.0M225.3 508.9h1.0M240.6 501.0h1.0M234.8 502.5h1.0M242.8 497.7h1.0M243.5 505.7h1.0M248.5 503.7h1.0M242.8 519.0h1.0M253.7 506.1h1.0M227.8 508.0h1.0M249.0 486.8h1.0M241.1 506.5h1.0M243.2 504.6h1.0M241.2 513.0h1.0M247.0 502.2h1.0M240.4 517.6h1.0M233.5 500.6h1.0M246.4 505.0h1.0M246.1 512.8h1.0M255.1 506.7h1.0M243.3 503.6h1.0M240.3 510.5h1.0M229.2 497.2h1.0M237.9 497.8h1.0M234.9 511.8h1.0M218.5 507.7h1.0M228.6 502.4h1.0M236.6 497.6h1.0M226.8 504.5h1.0M210.8 490.2h1.0M238.6 511.1h1.0M262.9 502.1h1.0M234.2 502.2h1.0M247.9 510.1h1.0M232.5 507.1h1.0M242.5 511.4h1.0M238.4 502.7h1.0M233.6 495.4h1.0M245.8 508.6h1.0M255.1 505.7h1.0M237.9 498.0h1.0M230.3 499.3h1.0M246.5 504.6h1.0M218.0 503.3h1.0M239.7 497.2h1.0M242.6 507.5h1.0M231.6 495.2h1.0M239.4 505.7h1.0M240.1 514.0h1.0M244.5 497.5h1.0M251.3 499.8h1.0M250.4 504.6h1.0M256.3 497.5h1.0M250.7 506.8h1.0M233.1 508.6h1.0M267.5 506.3h1.0M234.6 503.0h1.0M257.0 505.7h1.0M259.0 499.8h1.0M257.1 493.7h1.0M241.1 502.1h1.0M237.6 512.0h1.0M236.3 506.3h1.0M263.1 509.4h1.0M238.4 499.2h1.0M221.1 506.5h1.0M252.6 511.2h1.0M245.5 518.0h1.0M251.3 489.0h1.0M233.3 509.2h1.0M238.6 509.4h1.0M270.9 499.0h1.0M267.0 503.5h1.0M226.9 504.6h1.0M252.8 500.2h1.0M260.1 498.3h1.0M240.8 510.0h1.0M240.6 500.4h1.0M242.7 508.3h1.0M261.8 512.8h1.0M263.4 503.8h1.0M224.8 503.7h1.0M238.4 497.5h1.0M237.3 503.6h1.0M243.5 510.0h1.0M232.9 511.5h1.0M243.4 508.8h1.0M256.5 496.0h1.0M260.4 499.3h1.0M247.3 511.1h1.0M253.0 493.8h1.0M244.7 511.4h1.0M241.6 503.5h1.0M243.7 514.7h1.0M237.0 497.9h1.0M230.8 500.6h1.0M240.4 506.3h1.0M242.0 492.8h1.0M225.7 508.4h1.0M250.9 495.2h1.0M253.2 488.2h1.0M268.4 507.8h1.0M224.8 507.3h1.0M242.6 501.0h1.0M238.9 502.5h1.0M241.9 498.1h1.0M236.7 507.6h1.0M248.8 495.3h1.0M237.6 514.2h1.0M250.8 514.7h1.0M228.1 497.2h1.0M219.1 491.4h1.0M238.8 497.2h1.0M231.0 499.5h1.0M240.9 509.4h1.0M249.1 492.6h1.0M259.4 501.9h1.0M232.0 503.8h1.0M238.6 495.0h1.0M260.1 500.2h1.0M236.4 507.5h1.0M261.4 507.2h1.0M233.1 506.9h1.0M255.2 506.5h1.0M250.1 500.9h1.0M242.2 493.0h1.0M235.1 496.6h1.0M243.1 513.7h1.0M218.2 495.4h1.0M232.8 503.4h1.0M255.8 498.9h1.0M234.3 511.9h1.0M247.1 507.4h1.0M252.2 499.2h1.0M245.5 499.7h1.0M235.0 504.9h1.0M247.8 495.7h1.0M234.5 508.0h1.0M244.8 508.3h1.0M239.5 498.8h1.0M251.6 507.9h1.0M211.7 509.6h1.0M234.6 508.4h1.0M260.3 502.2h1.0M232.3 505.7h1.0M244.0 507.7h1.0M227.5 505.6h1.0M252.8 508.6h1.0M249.9 511.8h1.0M233.9 512.0h1.0M245.3 497.5h1.0M239.7 505.8h1.0M246.6 512.8h1.0M245.1 500.7h1.0M267.1 501.8h1.0M233.9 510.0h1.0M238.4 498.9h1.0M231.3 511.7h1.0M231.3 504.7h1.0M238.0 502.8h1.0M234.0 505.0h1.0M249.7 510.9h1.0M239.0 496.4h1.0M226.6 504.1h1.0M215.6 512.7h1.0M243.3 504.8h1.0M227.6 499.8h1.0M234.8 508.4h1.0M238.5 508.0h1.0M248.7 491.5h1.0M240.4 512.2h1.0M237.3 504.9h1.0M241.6 496.0h1.0M267.1 503.2h1.0M250.0 501.1h1.0M258.5 511.5h1.0M256.0 510.2h1.0M250.8 513.1h1.0M247.4 504.9h1.0M251.9 498.2h1.0M215.0 509.3h1.0M244.7 499.5h1.0M240.0 497.8h1.0M233.7 505.3h1.0M244.3 509.5h1.0M242.0 508.2h1.0M250.5 499.5h1.0M224.4 499.6h1.0M240.2 500.6h1.0M267.4 499.6h1.0M248.2 499.1h1.0M250.6 495.8h1.0M253.5 505.2h1.0M238.6 496.3h1.0M261.4 500.3h1.0M258.9 488.4h1.0M229.7 515.8h1.0M262.7 504.2h1.0M254.0 508.0h1.0M239.0 504.9h1.0M230.3 495.3h1.0M244.4 508.8h1.0M244.8 496.1h1.0M252.4 504.6h1.0M251.3 502.2h1.0M240.1 510.9h1.0M258.1 496.3h1.0M230.8 510.4h1.0M247.0 504.4h1.0M232.2 510.6h1.0M245.1 505.5h1.0M247.3 500.7h1.0M247.4 504.9h1.0M250.9 506.5h1.0M228.9 499.5h1.0M240.0 511.6h1.0M235.8 511.4h1.0M254.9 509.8h1.0M267.9 504.0h1.0M246.5 512.0h1.0M247.5 510.5h1.0M241.6 513.3h1.0M246.9 491.7h1.0M255.0 502.8h1.0M233.3 502.1h1.0M239.9 511.5h1.0M246.7 503.6h1.0M242.8 498.3h1.0M235.9 501.1h1.0M240.5 496.5h1.0M238.6 510.6h1.0M248.0 504.1h1.0M246.8 502.5h1.0M229.9 509.8h1.0M267.8 507.4h1.0M250.6 520.0h1.0M229.6 507.5h1.0M239.2 502.3h1.0M224.7 503.6h1.0M247.4 493.7h1.0M240.6 500.9h1.0M232.0 508.2h1.0M261.1 506.8h1.0M254.4 509.0h1.0M242.3 507.9h1.0M257.6 501.3h1.0M241.4 495.2h1.0M222.5 498.8h1.0M252.9 506.5h1.0M245.9 512.6h1.0M223.5 513.0h1.0M243.9 509.1h1.0M258.3 498.8h1.0M233.4 506.7h1.0M242.4 500.3h1.0M241.6 499.4h1.0M244.5 501.6h1.0M261.8 497.4h1.0M249.4 504.6h1.0M260.5 497.8h1.0M237.9 515.3h1.0M235.7 501.6h1.0M238.7 497.8h1.0M256.5 513.9h1.0M241.3 499.2h1.0M228.1 508.4h1.0M237.1 507.6h1.0M216.4 501.4h1.0M249.9 506.8h1.0M211.4 506.0h1.0M244.4 504.0h1.0M239.2 501.2h1.0M244.6 507.4h1.0M208.1 504.0h1.0M253.3 502.7h1.0M256.5 498.1h1.0M264.1 510.3h1.0M238.5 521.8h1.0M258.9 514.3h1.0M229.8 503.4h1.0M248.2 510.9h1.0M243.8 495.7h1.0M256.5 503.0h1.0M247.9 502.0h1.0M241.8 495.2h1.0M250.4 500.1h1.0M223.4 506.7h1.0M242.6 510.3h1.0M252.1 496.3h1.0M241.1 504.1h1.0M244.0 497.3h1.0M243.8 510.4h1.0M256.7 513.5h1.0M251.4 487.8h1.0M240.0 500.6h1.0M211.0 514.0h1.0M253.1 504.0h1.0M247.0 507.2h1.0M240.6 512.9h1.0M263.2 509.4h1.0M236.9 505.7h1.0M253.8 508.7h1.0M235.4 510.2h1.0M251.0 507.8h1.0M238.4 503.9h1.0M221.9 503.9h1.0M238.1 502.2h1.0M239.9 502.0h1.0M244.0 504.7h1.0M236.2 503.2h1.0M242.0 507.2h1.0M247.9 501.8h1.0M233.9 493.5h1.0M229.2 506.7h1.0M232.8 514.4h1.0M241.3 501.6h1.0M241.3 500.6h1.0M236.0 504.5h1.0M227.0 504.9h1.0M242.0 498.3h1.0M254.3 506.4h1.0M255.0 499.8h1.0M229.3 496.4h1.0M225.6 491.9h1.0M260.3 501.0h1.0M245.1 500.6h1.0M241.4 514.2h1.0M223.8 497.7h1.0M244.5 498.2h1.0M250.6 512.4h1.0M252.9 508.9h1.0M241.2 510.5h1.0M234.2 496.4h1.0M240.1 502.5h1.0M256.5 497.7h1.0M255.6 499.1h1.0M229.1 493.2h1.0M242.6 494.8h1.0M245.3 504.4h1.0M238.6 491.7h1.0M237.3 506.9h1.0M223.3 508.5h1.0M243.2 500.6h1.0M245.2 508.2h1.0M242.8 499.1h1.0M251.7 499.7h1.0M247.0 510.3h1.0M257.4 514.3h1.0M254.3 505.0h1.0M240.8 505.3h1.0M248.8 523.2h1.0M250.3 498.7h1.0M259.8 493.8h1.0M254.1 495.8h1.0M231.0 500.8h1.0M239.9 495.4h1.0M249.8 503.3h1.0M257.8 497.5h1.0M223.0 508.5h1.0M240.5 510.3h1.0M217.2 496.0h1.0M244.0 516.6h1.0M229.4 491.8h1.0M238.0 513.1h1.0M260.5 495.3h1.0M236.3 492.2h1.0M233.7 497.8h1.0M247.7 511.3h1.0M269.3 501.7h1.0M252.0 505.4h1.0M244.4 516.5h1.0M250.8 514.1h1.0M246.3 509.6h1.0M248.6 503.4h1.0M235.3 501.4h1.0M243.2 501.6h1.0M239.2 499.5h1.0M252.5 502.5h1.0M241.7 502.6h1.0M257.5 500.6h1.0M258.6 498.5h1.0M259.9 508.0h1.0M237.6 507.0h1.0M255.5 497.9h1.0M240.5 506.0h1.0M240.7 502.2h1.0M243.2 506.0h1.0M251.6 513.5h1.0M239.5 522.9h1.0M239.4 515.5h1.0M241.6 494.7h1.0M238.2 501.8h1.0M254.8 491.1h1.0M236.1 503.2h1.0M250.3 506.6h1.0M252.5 503.0h1.0M240.4 511.8h1.0M262.0 506.5h1.0M244.7 498.5h1.0M266.2 506.6h1.0M249.8 493.7h1.0M249.7 519.6h1.0M241.2 502.7h1.0M259.9 502.8h1.0M252.3 516.5h1.0M230.2 498.7h1.0M250.5 504.8h1.0M243.5 503.0h1.0M244.4 506.3h1.0M237.8 502.2h1.0M245.6 497.0h1.0M247.9 489.9h1.0M250.1 503.3h1.0M230.1 512.7h1.0M230.2 517.3h1.0M235.0 511.8h1.0M242.3 514.4h1.0M240.6 510.7h1.0M239.5 492.0h1.0M247.3 507.1h1.0M247.4 514.8h1.0M235.0 494.8h1.0M245.8 499.6h1.0M241.9 504.0h1.0M234.1 511.1h1.0M241.7 515.5h1.0M245.8 510.8h1.0M239.9 499.8h1.0M237.3 498.4h1.0M248.0 504.9h1.0M231.2 494.1h1.0M233.6 492.3h1.0M233.3 494.3h1.0M250.8 496.6h1.0M236.6 503.2h1.0M243.4 506.7h1.0M251.4 508.2h1.0M239.3 512.1h1.0M247.1 499.5h1.0M259.4 496.4h1.0M248.2 512.1h1.0M244.3 506.3h1.0M244.4 508.3h1.0M245.5 504.1h1.0M250.7 491.8h1.0M245.8 502.1h1.0M264.5 505.9h1.0M235.9 508.2h1.0M238.9 496.4h1.0M240.0 507.3h1.0M256.0 510.8h1.0M245.6 503.0h1.0M245.2 511.8h1.0M241.7 511.5h1.0M234.4 503.9h1.0M251.5 508.5h1.0M245.2 500.7h1.0M223.5 501.2h1.0M233.8 501.4h1.0M260.3 499.1h1.0M252.3 503.9h1.0M231.0 504.7h1.0M251.2 496.4h1.0M230.4 501.6h1.0M250.9 500.2h1.0M247.7 507.0h1.0M243.2 506.9h1.0M256.9 502.8h1.0M246.6 497.2h1.0M235.2 503.4h1.0M251.9 499.7h1.0M228.0 510.0h1.0M268.8 487.5h1.0M231.5 504.8h1.0M248.3 497.9h1.0M246.7 511.1h1.0M240.1 508.7h1.0M244.4 498.0h1.0M236.4 500.1h1.0M257.4 511.4h1.0M245.7 494.0h1.0M237.8 501.4h1.0M222.2 503.9h1.0M246.1 495.5h1.0M238.4 501.1h1.0M263.0 508.3h1.0M251.4 504.6h1.0M229.2 509.9h1.0M235.8 491.7h1.0M250.9 501.8h1.0M243.0 507.3h1.0M240.5 506.7h1.0M257.0 501.9h1.0M239.2 504.1h1.0M250.0 501.4h1.0M243.9 499.6h1.0M242.2 507.5h1.0M234.2 502.8h1.0M227.3 499.5h1.0M243.9 507.4h1.0M231.9 503.4h1.0M233.0 506.0h1.0M245.9 506.9h1.0M240.8 494.9h1.0M237.0 495.4h1.0M235.7 503.6h1.0M254.6 499.9h1.0M234.7 505.3h1.0M220.9 516.8h1.0M226.5 510.5h1.0M253.6 510.2h1.0M241.9 508.7h1.0M239.3 510.2h1.0M236.0 498.8h1.0M247.1 501.1h1.0M250.2 498.5h1.0M245.9 497.7h1.0M241.9 517.8h1.0M231.5 496.1h1.0M225.9 502.6h1.0M260.4 501.1h1.0M253.0 502.8h1.0M236.2 516.9h1.0M254.6 492.2h1.0M232.6 506.6h1.0M250.0 502.6h1.0M246.4 507.5h1.0M239.3 510.4h1.0M233.9 508.8h1.0M252.8 505.3h1.0M239.3 503.9h1.0M219.3 505.6h1.0M227.8 491.1h1.0M251.2 498.2h1.0M246.8 504.3h1.0M224.2 498.2h1.0M240.1 507.0h1.0M243.8 495.9h1.0M237.4 504.7h1.0M229.4 501.2h1.0M237.2 490.4h1.0M261.4 509.6h1.0M238.1 510.1h1.0M231.9 513.8h1.0M239.1 504.9h1.0M236.8 504.6h1.0M246.5 504.2h1.0M234.2 508.9h1.0M249.0 504.0h1.0M254.2 499.3h1.0M256.6 503.0h1.0M259.2 501.2h1.0M240.3 505.4h1.0M254.7 513.2h1.0M238.2 499.3h1.0M251.2 511.9h1.0M250.5 501.9h1.0M256.6 503.8h1.0M244.8 508.0h1.0M237.0 489.5h1.0M245.3 508.6h1.0M247.7 507.5h1.0M244.7 510.7h1.0M244.2 513.6h1.0M243.6 509.1h1.0M237.2 505.9h1.0M247.5 504.9h1.0M259.5 504.3h1.0M255.0 506.3h1.0M254.6 498.2h1.0M239.1 510.2h1.0M234.3 506.5h1.0M249.1 505.3h1.0M247.7 507.5h1.0M240.5 506.6h1.0M237.5 501.1h1.0M226.1 503.3h1.0M224.9 504.2h1.0M245.3 497.0h1.0M243.8 505.9h1.0M239.3 498.2h1.0M241.8 506.6h1.0M252.9 516.4h1.0M222.0 506.2h1.0M247.6 499.9h1.0M246.4 517.4h1.0M244.2 512.7h1.0M254.3 501.2h1.0M218.4 511.4h1.0M259.4 492.7h1.0M240.9 499.5h1.0M245.2 504.4h1.0M255.2 500.2h1.0M263.5 493.1h1.0M245.3 521.2h1.0M242.0 508.0h1.0M238.0 525.2h1.0M252.5 501.8h1.0M222.6 505.4h1.0M250.8 490.9h1.0M237.8 507.6h1.0M217.4 502.8h1.0M226.1 495.4h1.0M247.3 511.3h1.0M255.4 499.8h1.0M248.4 492.6h1.0M227.3 507.5h1.0M238.8 497.5h1.0M223.1 502.5h1.0M266.8 491.1h1.0M231.9 511.2h1.0M222.6 500.0h1.0M243.7 511.3h1.0M242.2 515.7h1.0M242.7 503.3h1.0M247.7 506.3h1.0M227.0 497.9h1.0M240.5 506.2h1.0M230.0 499.4h1.0M235.1 506.2h1.0M238.4 507.9h1.0M247.1 498.1h1.0M239.8 496.0h1.0M244.2 509.2h1.0M232.5 492.6h1.0M248.5 502.1h1.0M242.7 507.0h1.0M247.1 510.0h1.0M238.1 489.8h1.0M237.8 502.0h1.0M238.6 506.5h1.0M240.3 512.4h1.0M236.2 504.0h1.0M239.2 517.6h1.0M232.8 497.6h1.0M238.9 508.9h1.0M243.1 502.9h1.0M227.4 490.6h1.0M240.7 502.5h1.0M261.9 506.4h1.0M247.6 510.2h1.0M233.4 496.1h1.0M239.1 513.6h1.0M253.6 500.2h1.0M229.7 510.0h1.0M254.7 496.9h1.0M260.2 499.0h1.0M251.0 502.7h1.0M239.5 500.1h1.0M250.4 508.0h1.0M251.7 502.2h1.0M233.9 517.9h1.0M261.4 502.8h1.0M230.7 513.7h1.0M244.4 504.4h1.0M252.2 506.3h1.0M244.2 516.9h1.0M222.7 508.2h1.0M232.4 504.5h1.0M241.2 505.7h1.0M217.1 508.5h1.0M268.1 501.3h1.0M252.7 508.0h1.0M246.2 500.8h1.0M249.8 505.8h1.0M258.6 509.4h1.0M235.4 485.1h1.0M259.3 507.2h1.0M244.9 500.1h1.0M270.0 512.7h1.0M244.0 501.6h1.0M249.2 512.8h1.0M248.6 510.1h1.0M245.8 506.3h1.0M229.3 504.8h1.0M243.6 503.5h1.0M240.4 506.0h1.0M236.7 502.7h1.0M228.8 519.0h1.0M233.3 496.2h1.0M237.2 501.3h1.0M231.4 488.2h1.0M260.8 510.6h1.0M238.9 507.6h1.0M231.0 493.5h1.0M246.6 507.7h1.0M235.6 504.0h1.0M209.6 503.2h1.0M254.5 505.1h1.0M245.0 507.7h1.0M220.3 495.7h1.0M229.2 505.6h1.0M236.2 491.8h1.0M252.7 502.8h1.0M253.8 517.0h1.0M225.0 495.7h1.0M254.7 513.1h1.0M247.3 506.3h1.0M250.6 508.2h1.0M229.1 508.8h1.0M253.8 501.4h1.0M233.0 500.8h1.0M236.6 507.4h1.0M251.5 504.2h1.0M239.7 492.5h1.0M238.4 497.5h1.0M237.0 506.2h1.0M247.9 494.3h1.0M236.0 474.9h1.0M232.9 476.3h1.0M242.7 482.3h1.0M223.7 481.9h1.0M253.3 475.0h1.0M238.2 478.4h1.0M252.0 476.7h1.0M244.2 477.6h1.0M233.6 478.8h1.0M252.6 477.7h1.0M233.0 477.5h1.0M244.7 479.0h1.0M241.2 481.5h1.0M258.4 481.4h1.0M248.7 483.3h1.0M245.5 476.7h1.0M229.6 477.6h1.0M259.9 473.0h1.0M254.9 471.5h1.0M249.4 486.2h1.0M246.5 472.0h1.0M249.2 476.8h1.0M255.1 475.0h1.0M226.2 475.2h1.0M252.7 482.4h1.0M249.1 477.6h1.0M253.8 476.6h1.0M240.8 478.6h1.0M258.4 475.1h1.0M251.6 474.5h1.0M237.6 478.3h1.0M230.8 473.5h1.0M232.4 474.7h1.0M235.5 488.5h1.0M252.9 477.9h1.0M230.7 466.3h1.0M251.0 474.5h1.0M257.9 475.7h1.0M231.0 474.5h1.0M228.5 470.9h1.0M254.1 475.0h1.0M253.8 474.9h1.0M243.3 474.9h1.0M239.7 474.4h1.0M263.0 477.3h1.0M223.7 485.5h1.0M260.3 482.8h1.0M244.7 476.8h1.0M240.5 478.1h1.0M251.3 477.5h1.0M236.5 473.0h1.0M265.0 485.4h1.0M231.7 474.5h1.0M245.4 480.3h1.0M244.6 478.6h1.0M250.1 482.9h1.0M231.0 482.7h1.0M250.9 480.0h1.0M228.7 476.4h1.0M242.9 480.5h1.0M253.7 480.7h1.0M231.1 483.4h1.0M246.7 481.9h1.0M245.8 474.2h1.0M275.9 480.6h1.0M254.6 475.4h1.0M243.3 482.7h1.0M251.0 485.7h1.0M259.6 472.5h1.0M228.2 482.9h1.0M252.8 476.3h1.0M242.5 474.9h1.0M266.4 476.8h1.0M230.1 481.7h1.0M244.9 479.2h1.0M241.5 477.3h1.0M224.3 480.0h1.0M238.0 475.7h1.0M249.5 483.5h1.0M221.2 476.9h1.0M252.1 482.2h1.0M235.4 479.0h1.0M250.4 481.8h1.0M238.7 476.7h1.0M240.0 482.8h1.0M258.3 475.5h1.0M244.3 478.5h1.0M235.5 477.0h1.0M255.7 481.1h1.0M238.0 474.5h1.0M244.5 470.7h1.0M249.4 478.1h1.0M230.5 476.5h1.0M238.2 476.3h1.0M235.8 483.8h1.0M234.8 481.1h1.0M248.2 484.2h1.0M245.1 477.5h1.0M246.6 468.9h1.0M273.4 476.6h1.0M242.2 472.4h1.0M244.2 484.9h1.0M237.1 479.6h1.0M257.6 481.9h1.0M241.2 469.5h1.0M250.5 480.2h1.0M242.1 475.6h1.0M265.9 470.3h1.0M239.9 474.8h1.0M227.9 474.4h1.0M236.6 483.3h1.0M225.8 471.3h1.0M248.8 470.5h1.0M222.8 474.7h1.0M232.0 473.1h1.0M244.0 479.6h1.0M238.4 476.3h1.0M254.0 476.9h1.0M254.2 474.9h1.0M251.4 483.4h1.0M229.9 491.2h1.0M242.1 476.0h1.0M243.9 479.7h1.0M231.9 477.7h1.0M239.1 484.1h1.0M226.0 480.5h1.0M242.2 474.1h1.0M247.4 476.5h1.0M246.3 478.6h1.0M259.6 475.7h1.0M265.0 465.3h1.0M266.7 483.1h1.0M263.7 478.5h1.0M249.0 472.9h1.0M261.1 472.3h1.0M236.7 477.6h1.0M248.5 479.1h1.0M232.4 476.0h1.0M251.4 483.0h1.0M254.6 479.4h1.0M242.8 475.1h1.0M239.9 477.1h1.0M251.8 475.3h1.0M269.4 473.0h1.0M255.1 476.6h1.0M244.2 475.8h1.0M263.4 476.2h1.0M252.1 478.1h1.0M254.4 480.2h1.0M264.7 474.2h1.0M236.4 485.3h1.0M260.4 477.9h1.0M242.5 478.7h1.0M260.7 474.1h1.0M262.4 477.3h1.0M241.6 475.8h1.0M221.8 479.0h1.0M230.7 475.0h1.0M235.5 478.6h1.0M254.1 477.7h1.0M248.0 479.4h1.0M264.2 480.2h1.0M263.8 477.3h1.0M249.8 474.6h1.0M252.6 473.7h1.0M251.2 474.7h1.0M241.7 483.1h1.0M247.5 481.2h1.0M243.0 469.1h1.0M262.7 476.8h1.0M238.4 481.9h1.0M232.8 474.2h1.0M258.9 474.4h1.0M258.7 476.2h1.0M243.4 477.9h1.0M240.1 482.4h1.0M258.3 477.9h1.0M252.8 480.0h1.0M265.1 470.4h1.0M257.5 481.7h1.0M242.2 477.6h1.0M241.8 483.2h1.0M232.7 480.3h1.0M260.5 480.2h1.0M240.3 475.5h1.0M221.5 472.9h1.0M258.3 473.3h1.0M227.0 476.5h1.0M228.7 479.6h1.0M235.8 481.9h1.0M244.4 471.2h1.0M237.0 474.7h1.0M236.1 483.2h1.0M234.3 479.2h1.0M239.1 480.2h1.0M229.4 470.5h1.0M251.7 484.0h1.0M229.9 476.2h1.0M240.0 473.3h1.0M256.9 477.8h1.0M229.9 476.6h1.0M261.1 474.4h1.0M239.9 473.8h1.0M247.7 475.1h1.0M256.0 473.8h1.0M229.1 479.6h1.0M209.4 473.3h1.0M249.0 478.7h1.0M239.2 475.6h1.0M251.8 494.4h1.0M236.6 476.8h1.0M240.6 480.1h1.0M245.9 480.1h1.0M264.5 476.3h1.0M242.5 479.3h1.0M269.9 476.0h1.0M265.2 482.9h1.0M214.4 473.1h1.0M234.6 479.4h1.0M261.0 477.8h1.0M247.7 487.4h1.0M249.9 487.3h1.0M235.5 485.0h1.0M240.0 466.6h1.0M236.3 475.4h1.0M245.3 481.0h1.0M253.7 479.9h1.0M237.2 485.6h1.0M259.6 477.7h1.0M239.3 477.4h1.0M243.3 474.4h1.0M245.7 474.6h1.0M253.2 474.6h1.0M251.4 479.0h1.0M247.7 479.9h1.0M234.0 489.2h1.0M237.9 480.9h1.0M246.1 475.6h1.0M265.8 482.6h1.0M242.7 480.1h1.0M253.7 484.7h1.0M257.5 476.8h1.0M242.9 472.3h1.0M248.9 481.5h1.0M241.4 480.6h1.0M247.4 475.5h1.0M231.8 482.6h1.0M275.0 480.1h1.0M233.5 472.9h1.0M248.8 480.5h1.0M263.3 466.6h1.0M267.1 478.3h1.0M247.4 479.3h1.0M241.8 476.3h1.0M258.0 469.7h1.0M244.6 480.1h1.0M226.9 476.8h1.0M263.5 479.3h1.0M254.0 480.8h1.0M248.4 479.2h1.0M236.5 476.6h1.0M267.1 472.0h1.0M243.9 471.8h1.0M239.7 474.1h1.0M231.8 478.7h1.0M235.0 480.0h1.0M266.7 465.9h1.0M244.0 468.0h1.0M244.5 479.3h1.0M248.3 483.1h1.0M247.7 469.7h1.0M263.2 473.3h1.0M244.8 479.0h1.0M235.8 478.0h1.0M263.1 469.9h1.0M226.7 475.5h1.0M244.0 471.7h1.0M219.4 481.7h1.0M250.4 471.5h1.0M252.5 477.3h1.0M247.8 471.5h1.0M243.4 479.8h1.0M225.8 472.8h1.0M257.1 486.7h1.0M253.5 477.2h1.0M233.5 475.7h1.0M243.0 479.6h1.0M243.0 488.9h1.0M261.2 467.5h1.0M232.5 477.6h1.0M257.2 479.4h1.0M214.3 470.0h1.0M261.5 480.3h1.0M275.4 481.2h1.0M251.3 484.6h1.0M240.8 475.1h1.0M234.3 478.7h1.0M251.0 481.8h1.0M262.6 480.4h1.0M260.1 476.4h1.0M234.8 480.9h1.0M257.6 483.7h1.0M244.1 475.4h1.0M241.8 479.2h1.0M245.4 476.7h1.0M248.9 476.2h1.0M249.8 474.8h1.0M228.2 476.1h1.0M267.7 473.8h1.0M256.5 483.7h1.0M239.7 478.7h1.0M219.7 480.2h1.0M263.7 478.4h1.0M223.0 474.9h1.0M237.4 478.1h1.0M249.3 475.7h1.0M242.4 473.8h1.0M252.6 478.5h1.0M250.0 475.2h1.0M251.7 476.2h1.0M249.4 476.8h1.0M238.3 472.5h1.0M224.5 471.3h1.0M251.3 492.5h1.0M227.1 473.8h1.0M245.9 494.0h1.0M243.6 472.2h1.0M250.8 487.2h1.0M213.8 472.2h1.0M260.2 472.2h1.0M244.8 474.6h1.0M254.8 470.8h1.0M249.6 478.5h1.0M252.5 479.5h1.0M247.8 469.3h1.0M242.3 473.2h1.0M252.1 476.5h1.0M247.7 482.6h1.0M244.7 485.3h1.0M255.6 470.7h1.0M239.3 483.2h1.0M240.2 483.1h1.0M239.5 477.0h1.0M257.8 470.2h1.0M246.9 475.4h1.0M247.9 485.4h1.0M251.6 471.3h1.0M257.1 475.4h1.0M247.9 482.9h1.0M242.4 482.0h1.0M248.0 473.3h1.0M242.4 471.2h1.0M259.6 478.3h1.0M257.1 472.4h1.0M255.8 472.0h1.0M249.2 477.5h1.0M239.2 478.9h1.0M246.4 473.5h1.0M237.4 471.5h1.0M261.8 478.2h1.0M241.8 480.7h1.0M236.1 472.1h1.0M250.1 484.9h1.0M249.5 478.2h1.0M266.1 470.3h1.0M281.2 472.4h1.0M245.2 471.3h1.0M232.0 476.4h1.0M274.1 473.1h1.0M238.9 478.8h1.0M234.3 476.3h1.0M255.4 467.4h1.0M242.5 476.1h1.0M240.1 477.0h1.0M225.3 475.5h1.0M240.0 472.7h1.0M260.5 486.8h1.0M255.2 473.5h1.0M262.4 479.8h1.0M236.6 480.3h1.0M239.3 480.2h1.0M256.6 482.9h1.0M233.9 476.9h1.0M246.0 471.8h1.0M250.8 480.7h1.0M230.1 474.9h1.0M233.3 471.6h1.0M233.7 483.9h1.0M238.4 475.7h1.0M257.4 482.3h1.0M262.2 467.8h1.0M254.7 469.3h1.0M238.7 475.6h1.0M239.4 486.6h1.0M244.1 483.0h1.0M243.9 477.2h1.0M251.9 479.6h1.0M251.8 469.4h1.0M251.8 479.0h1.0M252.9 477.3h1.0M250.7 471.4h1.0M259.0 471.8h1.0M262.1 482.2h1.0M245.3 476.1h1.0M254.9 476.1h1.0M232.3 478.8h1.0M232.0 475.4h1.0M266.6 481.3h1.0M240.8 477.2h1.0M238.6 477.4h1.0M229.3 480.7h1.0M246.2 474.7h1.0M238.9 489.8h1.0M240.9 475.3h1.0M239.3 475.2h1.0M261.1 480.7h1.0M250.8 479.2h1.0M232.9 466.2h1.0M263.4 480.8h1.0M248.5 478.8h1.0M248.3 477.6h1.0M243.0 467.1h1.0M252.5 477.7h1.0M257.2 478.9h1.0M242.7 480.3h1.0M248.2 475.4h1.0M241.7 475.5h1.0M242.6 475.4h1.0M257.3 491.1h1.0M244.7 482.7h1.0M223.3 462.4h1.0M240.6 476.8h1.0M237.5 471.1h1.0M236.2 475.1h1.0M247.8 475.9h1.0M232.2 475.8h1.0M263.4 473.4h1.0M246.7 482.2h1.0M236.7 474.8h1.0M279.3 483.3h1.0M239.9 478.2h1.0M247.2 478.2h1.0M251.3 476.1h1.0M220.5 473.0h1.0M247.7 471.1h1.0M242.3 484.5h1.0M248.7 474.4h1.0M247.6 482.4h1.0M226.3 471.7h1.0M238.4 475.5h1.0M245.0 474.8h1.0M247.2 477.9h1.0M232.6 474.6h1.0M231.8 478.8h1.0M249.0 480.6h1.0M235.9 475.0h1.0M220.5 477.6h1.0M227.4 479.1h1.0M258.4 479.6h1.0M253.2 478.6h1.0M250.3 481.9h1.0M260.5 486.9h1.0M242.9 481.4h1.0M256.0 479.5h1.0M249.1 471.6h1.0M258.5 473.4h1.0M238.5 473.5h1.0M252.4 473.0h1.0M251.2 480.1h1.0M247.2 475.9h1.0M252.8 483.6h1.0M240.7 472.6h1.0M239.1 473.4h1.0M243.3 476.8h1.0M219.6 484.3h1.0M236.7 475.5h1.0M223.5 468.3h1.0M234.3 478.6h1.0M255.7 469.1h1.0M248.6 484.6h1.0M242.8 481.8h1.0M249.6 473.2h1.0M257.4 474.7h1.0M250.1 475.6h1.0M243.5 478.2h1.0M261.2 469.7h1.0M233.2 478.0h1.0M257.2 476.6h1.0M243.8 480.0h1.0M264.1 473.3h1.0M227.7 476.2h1.0M254.8 471.4h1.0M258.9 481.9h1.0M255.0 473.6h1.0M231.2 480.5h1.0M249.0 480.7h1.0M230.5 463.7h1.0M258.8 482.2h1.0M242.8 477.5h1.0M251.2 481.0h1.0M243.8 475.1h1.0M234.8 482.3h1.0M247.1 461.6h1.0M249.9 474.8h1.0M231.4 475.1h1.0M231.3 475.4h1.0M239.7 479.9h1.0M234.4 469.0h1.0M239.0 471.1h1.0M254.5 476.5h1.0M226.8 473.4h1.0M245.7 477.3h1.0M224.9 476.9h1.0M249.4 482.1h1.0M258.6 476.9h1.0M231.1 475.8h1.0M253.4 473.2h1.0M260.4 473.0h1.0M233.1 481.4h1.0M244.8 479.0h1.0M242.5 477.6h1.0M239.3 486.3h1.0M253.5 476.9h1.0M251.4 481.4h1.0M239.9 478.3h1.0M248.3 474.9h1.0M237.1 476.6h1.0M242.5 475.6h1.0M223.7 477.8h1.0M253.5 477.8h1.0M265.7 481.5h1.0M241.9 474.4h1.0M251.7 475.8h1.0M227.4 478.1h1.0M242.6 476.4h1.0M253.0 478.4h1.0M269.2 474.1h1.0M244.9 478.9h1.0M240.9 475.1h1.0M266.1 470.8h1.0M250.0 469.4h1.0M249.9 468.6h1.0M232.6 482.8h1.0M263.7 478.1h1.0M214.8 482.2h1.0M248.8 472.4h1.0M241.9 471.4h1.0M244.9 477.1h1.0M247.4 481.2h1.0M238.6 467.3h1.0M232.6 471.7h1.0M241.8 475.5h1.0M245.5 483.8h1.0M246.3 472.5h1.0M242.5 473.4h1.0M243.2 480.2h1.0M233.0 480.8h1.0M266.5 484.5h1.0M264.6 477.9h1.0M230.5 486.8h1.0M245.4 478.6h1.0M241.9 473.1h1.0M253.1 471.0h1.0M230.2 480.1h1.0M241.7 473.6h1.0M251.7 484.1h1.0M242.7 476.9h1.0M252.4 481.8h1.0M257.8 480.6h1.0M238.4 480.0h1.0M246.1 469.6h1.0M260.1 480.1h1.0M261.7 477.2h1.0M254.3 477.2h1.0M247.9 481.7h1.0M246.7 480.3h1.0M245.6 483.2h1.0M253.5 469.9h1.0M265.0 479.5h1.0M240.2 474.6h1.0M268.8 477.9h1.0M251.8 480.3h1.0M239.2 485.6h1.0M270.1 473.9h1.0M259.0 470.0h1.0M242.2 477.8h1.0M246.6 480.1h1.0M250.6 479.2h1.0M244.4 478.9h1.0M239.7 486.6h1.0M246.7 483.2h1.0M247.2 476.8h1.0M243.9 471.6h1.0M269.8 479.4h1.0M247.5 475.4h1.0M260.6 476.0h1.0M240.7 475.0h1.0M263.6 478.9h1.0M244.3 474.5h1.0M260.7 478.8h1.0M242.2 481.6h1.0M256.0 472.9h1.0M259.1 482.5h1.0M243.3 471.4h1.0M258.5 475.9h1.0M243.7 476.2h1.0M242.9 481.3h1.0M233.6 480.0h1.0M259.2 482.4h1.0M254.3 478.7h1.0M243.8 477.0h1.0M236.1 485.2h1.0M244.7 472.9h1.0M255.5 484.4h1.0M249.2 476.1h1.0M233.4 480.5h1.0M243.3 474.5h1.0M252.9 471.6h1.0M254.4 466.4h1.0M239.0 471.0h1.0M243.3 481.2h1.0M231.3 483.7h1.0M238.3 475.3h1.0M257.4 474.2h1.0M262.6 476.6h1.0M245.0 473.1h1.0M259.1 477.2h1.0M240.6 473.2h1.0M238.9 477.1h1.0M238.0 481.1h1.0M245.7 474.7h1.0M251.3 484.0h1.0M222.6 479.1h1.0M258.3 478.1h1.0M255.4 470.5h1.0M237.7 482.1h1.0M245.1 477.8h1.0M253.2 479.2h1.0M251.2 475.2h1.0M242.8 483.5h1.0M240.6 470.9h1.0M242.2 481.6h1.0M266.4 478.2h1.0M239.2 480.3h1.0M249.6 482.9h1.0M252.0 480.9h1.0M251.9 479.4h1.0M235.9 476.8h1.0M264.2 483.6h1.0M257.0 479.3h1.0M244.9 479.1h1.0M242.5 482.5h1.0M242.7 474.1h1.0M228.1 484.6h1.0M237.7 473.6h1.0M250.8 485.7h1.0M253.7 476.0h1.0M252.6 473.8h1.0M243.4 477.6h1.0M246.4 481.1h1.0M252.3 486.1h1.0M255.6 476.2h1.0M249.1 473.7h1.0M239.4 476.0h1.0M257.6 474.4h1.0M228.8 472.9h1.0M232.8 476.7h1.0M242.9 472.2h1.0M237.4 475.6h1.0M250.7 480.3h1.0M261.1 476.3h1.0M253.4 477.9h1.0M234.1 474.6h1.0M270.8 476.8h1.0M264.8 481.3h1.0M264.9 476.7h1.0M256.8 476.1h1.0M234.0 472.2h1.0M251.3 470.2h1.0M250.5 473.6h1.0M250.3 471.3h1.0M255.9 476.5h1.0M229.3 471.0h1.0M247.1 470.1h1.0M250.1 479.7h1.0M239.1 483.8h1.0M262.5 478.9h1.0M251.5 479.7h1.0M243.5 483.5h1.0M240.5 466.1h1.0M246.7 479.5h1.0M255.6 472.5h1.0M261.9 473.8h1.0M253.5 480.8h1.0M248.4 482.7h1.0M240.9 486.8h1.0M251.9 475.6h1.0M275.4 477.5h1.0M228.4 483.9h1.0M263.7 474.9h1.0M235.4 482.6h1.0M247.1 473.2h1.0M241.1 477.8h1.0M257.4 484.6h1.0M239.6 484.5h1.0M229.6 480.7h1.0M244.9 479.5h1.0M241.6 474.3h1.0M249.6 482.6h1.0M221.8 477.7h1.0M242.0 472.6h1.0M231.5 479.9h1.0M252.6 480.4h1.0M224.4 470.6h1.0M239.6 475.5h1.0M266.1 475.8h1.0M247.9 482.0h1.0M265.1 479.2h1.0M250.3 486.3h1.0M242.0 469.4h1.0M238.1 476.1h1.0M261.1 478.9h1.0M259.9 478.0h1.0M247.0 474.9h1.0M232.8 479.8h1.0M250.5 480.1h1.0M240.5 475.6h1.0M250.7 480.3h1.0M268.6 473.5h1.0M257.5 481.5h1.0M243.6 478.1h1.0M245.9 484.5h1.0M274.8 479.0h1.0M243.6 481.8h1.0M252.0 476.7h1.0M254.9 481.5h1.0M242.1 481.4h1.0M221.6 471.7h1.0M243.0 478.2h1.0M230.3 484.2h1.0M242.3 478.2h1.0M246.0 480.9h1.0M240.1 480.9h1.0M237.3 470.8h1.0M252.2 478.2h1.0M256.3 468.7h1.0M247.7 474.6h1.0M244.4 475.7h1.0M242.3 474.5h1.0M257.8 469.7h1.0M227.9 479.1h1.0M268.9 474.0h1.0M236.4 472.2h1.0M235.1 483.2h1.0M254.1 481.6h1.0M250.3 478.6h1.0M240.0 473.1h1.0M253.4 488.8h1.0M242.4 483.3h1.0M238.7 477.7h1.0M265.4 477.2h1.0M253.6 475.0h1.0M267.4 471.9h1.0M252.7 476.4h1.0M248.7 479.2h1.0M261.1 481.5h1.0M258.2 479.2h1.0M234.6 483.6h1.0M263.6 479.7h1.0M255.3 476.5h1.0M230.5 482.0h1.0M238.4 486.2h1.0M254.2 477.4h1.0M239.6 478.0h1.0M235.2 475.8h1.0M264.3 476.2h1.0M266.9 477.1h1.0M251.1 473.3h1.0M243.1 475.5h1.0M231.0 486.3h1.0M253.0 477.1h1.0M234.3 477.7h1.0M234.8 473.1h1.0M244.4 487.4h1.0M227.1 480.1h1.0M240.4 464.3h1.0M230.7 476.9h1.0M247.1 474.1h1.0M266.2 480.0h1.0M239.4 470.0h1.0M248.4 474.4h1.0M257.8 472.7h1.0M259.8 475.4h1.0M248.6 476.3h1.0M253.4 482.8h1.0M240.4 473.4h1.0M267.6 481.9h1.0M267.7 481.9h1.0M247.9 485.0h1.0M239.0 475.6h1.0M242.0 480.6h1.0M236.9 476.7h1.0M237.0 476.4h1.0M258.9 482.6h1.0M244.0 489.2h1.0M238.6 479.6h1.0M241.1 467.4h1.0M233.2 483.2h1.0M227.9 490.9h1.0M245.0 478.7h1.0M260.4 477.6h1.0M239.3 474.7h1.0M235.9 480.0h1.0M241.1 479.9h1.0M229.6 475.5h1.0M269.4 479.2h1.0M245.2 482.9h1.0M249.5 484.5h1.0M233.4 481.0h1.0M234.5 480.6h1.0M273.8 484.5h1.0M236.8 479.4h1.0M251.5 474.2h1.0M249.1 472.6h1.0M257.2 481.7h1.0M244.5 480.7h1.0M273.0 476.8h1.0M225.5 479.0h1.0M241.3 473.9h1.0M256.4 482.1h1.0M253.0 485.0h1.0M239.3 475.6h1.0M251.0 465.1h1.0M215.8 479.1h1.0M243.9 477.8h1.0M235.6 478.6h1.0M258.1 474.6h1.0M252.6 476.8h1.0M244.6 478.0h1.0M263.2 479.9h1.0M254.0 478.2h1.0M222.3 481.8h1.0M246.1 478.0h1.0M240.6 470.4h1.0M263.0 485.9h1.0M263.9 469.1h1.0M252.5 472.1h1.0M244.2 475.1h1.0M239.3 474.0h1.0M240.9 481.1h1.0M264.3 481.8h1.0M246.1 476.8h1.0M243.5 477.4h1.0M239.3 476.7h1.0M255.8 476.5h1.0M237.1 476.9h1.0M247.2 477.1h1.0M243.3 480.7h1.0M245.7 472.9h1.0M252.6 474.2h1.0M254.9 481.3h1.0M251.7 478.9h1.0M231.1 476.6h1.0M247.6 480.4h1.0M233.6 476.8h1.0M229.0 478.3h1.0M247.1 478.1h1.0M264.8 480.9h1.0M244.1 474.9h1.0M241.2 481.1h1.0M256.5 475.2h1.0M244.9 475.5h1.0M253.9 478.4h1.0M238.1 473.4h1.0M260.8 471.1h1.0M225.8 463.4h1.0M269.1 475.0h1.0M255.8 480.1h1.0M255.7 482.7h1.0M240.9 477.4h1.0M257.3 480.1h1.0M237.7 474.0h1.0M229.9 478.7h1.0M240.2 470.4h1.0M239.9 479.0h1.0M248.3 476.5h1.0M248.1 480.5h1.0M232.7 473.8h1.0M257.2 480.9h1.0M230.4 474.2h1.0M262.6 481.0h1.0M244.6 482.2h1.0M261.7 484.0h1.0M230.5 471.6h1.0M240.5 477.3h1.0M242.2 478.6h1.0M263.0 482.6h1.0M257.4 477.5h1.0M264.9 479.6h1.0M249.0 477.4h1.0M225.4 487.4h1.0M245.9 481.6h1.0M271.9 476.6h1.0M233.1 482.2h1.0M248.9 473.2h1.0M257.1 477.6h1.0M235.5 465.9h1.0M235.0 479.3h1.0M234.5 482.0h1.0M271.2 479.0h1.0M248.8 477.2h1.0M256.0 477.7h1.0M258.0 484.0h1.0M255.9 473.1h1.0M253.8 476.3h1.0M249.8 482.0h1.0M238.7 478.5h1.0M262.9 473.7h1.0M244.0 480.8h1.0M243.6 482.2h1.0M234.8 470.6h1.0M250.5 476.9h1.0M249.8 481.9h1.0M258.1 475.9h1.0M241.8 468.6h1.0M235.1 478.6h1.0M248.7 470.7h1.0M255.1 477.3h1.0M258.7 475.9h1.0M257.2 472.5h1.0M225.2 473.8h1.0M254.2 479.4h1.0M224.8 478.2h1.0M253.8 485.2h1.0M255.1 479.8h1.0M228.2 479.2h1.0M223.8 476.2h1.0M242.0 473.1h1.0M234.7 476.9h1.0M252.8 474.6h1.0M249.6 480.8h1.0M245.9 486.2h1.0M242.7 474.2h1.0M224.6 482.4h1.0M253.9 476.7h1.0M249.7 476.9h1.0M256.1 477.5h1.0M248.8 477.2h1.0M236.1 467.4h1.0M252.4 471.8h1.0M250.7 480.4h1.0M267.6 474.1h1.0M247.9 481.8h1.0M238.6 474.8h1.0M251.3 486.9h1.0M258.5 481.9h1.0M235.2 480.5h1.0M259.2 471.8h1.0M246.3 476.6h1.0M253.5 469.6h1.0M254.2 477.5h1.0M243.2 467.9h1.0M222.6 475.0h1.0M253.6 479.4h1.0M254.7 469.8h1.0M248.5 483.6h1.0M228.6 480.5h1.0M237.9 480.0h1.0M247.3 470.1h1.0M234.2 483.3h1.0M245.0 483.1h1.0M250.0 481.6h1.0M241.7 478.5h1.0M242.0 481.6h1.0M239.6 482.6h1.0M264.1 472.0h1.0M244.2 480.0h1.0M266.4 482.7h1.0M247.2 469.7h1.0M255.7 474.8h1.0M248.4 479.3h1.0M230.1 482.3h1.0M256.6 480.1h1.0M253.0 479.1h1.0M230.3 475.2h1.0M255.5 476.0h1.0M246.5 479.2h1.0M247.2 478.7h1.0M251.7 477.5h1.0M233.6 476.3h1.0M257.0 474.4h1.0M251.5 478.9h1.0M236.1 464.7h1.0M246.0 474.0h1.0M239.0 481.7h1.0M237.4 479.1h1.0M247.5 478.4h1.0M268.8 468.6h1.0M257.1 476.9h1.0M243.0 474.5h1.0M246.6 477.7h1.0M235.7 484.9h1.0M237.7 476.9h1.0M231.8 478.2h1.0M250.2 482.4h1.0M257.3 475.2h1.0M264.4 477.0h1.0M263.8 485.3h1.0M241.6 472.6h1.0M252.3 484.0h1.0M250.7 482.5h1.0M252.9 481.5h1.0M261.2 476.2h1.0M230.1 477.0h1.0M237.2 472.1h1.0M244.3 480.7h1.0M225.2 470.7h1.0M255.2 473.5h1.0M241.7 483.6h1.0M258.9 479.1h1.0M252.3 465.2h1.0M252.5 479.2h1.0M230.4 478.3h1.0M251.3 477.0h1.0M255.1 481.5h1.0M246.7 476.4h1.0M232.8 482.7h1.0M239.7 478.9h1.0M263.5 481.0h1.0M231.7 477.1h1.0M238.1 470.1h1.0M237.1 480.1h1.0M250.0 476.6h1.0M248.1 472.2h1.0M237.4 476.8h1.0M255.2 476.1h1.0M244.3 479.0h1.0M262.8 471.8h1.0M252.2 478.3h1.0M245.3 478.6h1.0M223.7 477.6h1.0M243.5 471.9h1.0M255.7 477.0h1.0M242.3 480.9h1.0M235.7 474.3h1.0M255.5 481.4h1.0M269.0 475.4h1.0M229.7 470.8h1.0M232.6 478.0h1.0M243.4 474.5h1.0M234.7 474.4h1.0M242.0 482.9h1.0M253.2 483.7h1.0M255.4 480.9h1.0M259.5 479.5h1.0M263.6 482.6h1.0M266.7 478.5h1.0M237.4 488.9h1.0M242.9 479.9h1.0M241.8 474.4h1.0M251.1 472.5h1.0M244.3 483.9h1.0M247.5 481.2h1.0M253.4 479.2h1.0M247.3 480.3h1.0M235.1 480.1h1.0M233.9 474.1h1.0M239.5 471.5h1.0M223.8 479.2h1.0M251.8 480.5h1.0M271.2 478.3h1.0M254.6 474.1h1.0M254.1 472.3h1.0M268.5 473.2h1.0M241.5 480.9h1.0M221.2 483.6h1.0M235.3 478.4h1.0M257.2 478.2h1.0M256.7 475.2h1.0M252.8 467.7h1.0M263.2 474.5h1.0M236.3 477.6h1.0M265.4 474.3h1.0M245.8 475.9h1.0M235.5 471.6h1.0M252.8 480.7h1.0M237.6 478.5h1.0M251.2 479.2h1.0M244.2 477.7h1.0M249.2 472.7h1.0M244.4 481.1h1.0M239.7 483.4h1.0M243.3 472.5h1.0M242.7 471.4h1.0M253.0 470.3h1.0M246.2 476.4h1.0M242.6 479.4h1.0M249.3 475.0h1.0M255.4 475.5h1.0M256.2 483.6h1.0M250.3 481.7h1.0M230.9 480.0h1.0M229.1 476.7h1.0M253.9 465.4h1.0M237.2 474.0h1.0M235.4 477.6h1.0M253.3 472.3h1.0M239.0 469.1h1.0M238.0 468.0h1.0M229.0 479.6h1.0M256.0 473.8h1.0M250.0 474.0h1.0M258.1 485.4h1.0M218.1 473.6h1.0M238.8 475.3h1.0M263.8 484.6h1.0M245.9 480.4h1.0M228.0 476.2h1.0M242.8 476.8h1.0M249.4 470.4h1.0M234.2 487.2h1.0M226.4 477.8h1.0M254.3 479.7h1.0M246.7 470.2h1.0M240.7 470.5h1.0M268.3 479.1h1.0M254.3 478.4h1.0M241.6 482.8h1.0M256.0 480.4h1.0M252.6 480.8h1.0M242.8 479.5h1.0M246.9 476.4h1.0M253.4 487.2h1.0M223.0 484.0h1.0M241.1 482.9h1.0M234.5 476.7h1.0M257.6 477.2h1.0M250.0 472.0h1.0M233.0 485.0h1.0M247.8 477.1h1.0M230.3 472.8h1.0M234.3 477.3h1.0M244.7 474.7h1.0M238.4 478.0h1.0M259.3 471.2h1.0M229.9 482.6h1.0M229.8 475.7h1.0M247.3 485.7h1.0M222.9 464.4h1.0M245.1 482.4h1.0M247.6 473.8h1.0M248.2 468.2h1.0M255.3 484.2h1.0M243.7 481.2h1.0M234.0 484.2h1.0M238.7 473.9h1.0M237.4 469.5h1.0M253.6 486.6h1.0M229.8 476.6h1.0M251.1 474.9h1.0M228.3 479.0h1.0M257.4 478.0h1.0M233.9 476.1h1.0M224.1 477.2h1.0M259.8 482.5h1.0M245.0 479.5h1.0M240.1 478.1h1.0M239.2 478.2h1.0M240.1 478.4h1.0M253.9 477.4h1.0M231.3 479.8h1.0M243.2 475.3h1.0M252.4 473.7h1.0M256.6 480.0h1.0M238.2 474.3h1.0M244.6 473.4h1.0M256.7 467.3h1.0M247.7 475.9h1.0M233.6 480.4h1.0M240.5 479.6h1.0M241.1 476.2h1.0M251.9 481.8h1.0M257.3 477.4h1.0M262.8 476.0h1.0M230.6 469.0h1.0M229.6 473.6h1.0M225.8 479.0h1.0M246.4 477.3h1.0M248.7 477.0h1.0M243.2 476.1h1.0M246.5 472.4h1.0M260.5 484.5h1.0M246.4 487.8h1.0M235.0 481.6h1.0M227.7 480.2h1.0M237.6 482.1h1.0M247.3 481.8h1.0M252.9 479.9h1.0M242.9 484.7h1.0M250.1 479.7h1.0M262.2 476.3h1.0M265.7 482.4h1.0M246.9 470.9h1.0M259.8 476.1h1.0M247.1 478.1h1.0M256.8 480.4h1.0M225.4 474.5h1.0M250.0 478.3h1.0M255.0 480.1h1.0M264.4 474.2h1.0M260.8 479.2h1.0M249.4 480.6h1.0M242.2 480.8h1.0M243.7 480.8h1.0M237.4 482.8h1.0M228.8 474.5h1.0M245.5 478.6h1.0M237.0 475.7h1.0M248.9 482.3h1.0M260.7 475.4h1.0M245.3 476.1h1.0M228.8 475.5h1.0M258.8 471.4h1.0M278.4 481.9h1.0M265.6 478.3h1.0M220.0 479.5h1.0M264.0 474.9h1.0M260.4 481.0h1.0M254.9 480.9h1.0M252.7 480.5h1.0M259.6 479.4h1.0M253.2 479.5h1.0M247.6 473.6h1.0M225.8 472.9h1.0M232.1 470.8h1.0M253.9 476.0h1.0M260.4 491.7h1.0M254.8 475.4h1.0M250.4 476.6h1.0M249.3 487.0h1.0M264.1 483.3h1.0M249.3 485.6h1.0M255.4 481.6h1.0M232.9 474.7h1.0M248.0 476.5h1.0M240.2 468.4h1.0M237.6 477.0h1.0M249.6 472.6h1.0M244.6 485.7h1.0M247.9 468.6h1.0M244.0 477.5h1.0M260.4 478.4h1.0M261.6 479.0h1.0M259.3 483.7h1.0M263.5 478.4h1.0M253.4 495.4h1.0M232.3 478.4h1.0M251.5 474.3h1.0M255.5 476.8h1.0M255.1 478.4h1.0M235.6 482.3h1.0M268.8 481.7h1.0M249.3 469.7h1.0M249.8 477.4h1.0M237.2 468.8h1.0M251.2 482.0h1.0M254.1 487.9h1.0M224.7 479.1h1.0M245.8 484.0h1.0M245.7 473.1h1.0M245.5 479.5h1.0M237.8 473.9h1.0M249.1 481.5h1.0M243.5 479.7h1.0M240.4 476.0h1.0M248.3 481.9h1.0M264.0 477.0h1.0M251.2 486.5h1.0M255.5 475.9h1.0M250.7 471.0h1.0M222.5 474.0h1.0M238.1 471.4h1.0M257.7 475.5h1.0M247.1 477.9h1.0M243.8 472.2h1.0M268.0 468.5h1.0M245.8 480.7h1.0M243.9 477.1h1.0M249.6 478.6h1.0M242.4 482.5h1.0M251.8 484.4h1.0M247.2 468.4h1.0M227.5 475.2h1.0M251.3 470.1h1.0M239.8 483.2h1.0M249.9 474.3h1.0M244.9 478.1h1.0M241.4 476.1h1.0M239.0 478.5h1.0M264.0 484.2h1.0M232.2 488.1h1.0M244.8 471.1h1.0M229.4 478.2h1.0M248.8 474.6h1.0M237.2 476.5h1.0M249.1 480.6h1.0M252.4 466.7h1.0M239.5 478.7h1.0M250.4 481.2h1.0M229.5 484.7h1.0M232.8 476.6h1.0M241.0 475.4h1.0M237.5 481.3h1.0M255.0 479.1h1.0M231.9 474.7h1.0M245.6 479.4h1.0M240.0 476.3h1.0M275.6 477.8h1.0M242.9 466.3h1.0M237.8 485.0h1.0M255.7 472.1h1.0M255.0 478.3h1.0M237.3 481.2h1.0M239.4 476.1h1.0M246.4 478.5h1.0M241.3 478.9h1.0M246.2 478.4h1.0M250.5 474.6h1.0M230.9 477.2h1.0M260.0 479.0h1.0M248.7 474.1h1.0M233.4 471.8h1.0M236.0 475.8h1.0M229.0 477.0h1.0M228.7 480.5h1.0M245.9 469.5h1.0M240.1 478.6h1.0M250.4 481.1h1.0M242.3 476.9h1.0M243.6 480.0h1.0M238.5 476.8h1.0M247.8 475.9h1.0M234.1 483.7h1.0M251.8 473.4h1.0M268.1 474.0h1.0M236.5 475.9h1.0M252.2 484.4h1.0M261.5 480.1h1.0M247.0 480.6h1.0M237.5 474.3h1.0M252.1 478.4h1.0M248.8 472.9h1.0M249.0 471.0h1.0M256.5 477.6h1.0M239.0 475.4h1.0M277.2 491.8h1.0M238.4 483.8h1.0M213.9 482.7h1.0M246.4 478.7h1.0M235.5 471.5h1.0M248.8 475.5h1.0M251.8 482.4h1.0M244.9 480.0h1.0M248.2 478.6h1.0M240.4 478.6h1.0M251.1 477.9h1.0M241.2 470.9h1.0M234.3 484.7h1.0M257.5 478.9h1.0M249.5 476.9h1.0M253.8 481.9h1.0M243.4 479.0h1.0M256.8 470.3h1.0M235.8 474.9h1.0M233.3 475.5h1.0M236.8 475.7h1.0M251.5 472.2h1.0M247.3 483.8h1.0M248.3 471.9h1.0M239.5 482.9h1.0M243.3 474.7h1.0M254.9 474.3h1.0M233.9 480.3h1.0M246.4 474.6h1.0M251.4 482.6h1.0M258.2 478.0h1.0M251.3 479.8h1.0M229.8 485.1h1.0M238.9 475.0h1.0M237.1 473.1h1.0M258.4 477.6h1.0M239.8 469.2h1.0M248.1 477.3h1.0M234.8 477.1h1.0M226.0 480.5h1.0M232.7 479.8h1.0M247.3 467.8h1.0M233.8 474.5h1.0M255.0 480.3h1.0M253.2 485.2h1.0M243.0 475.2h1.0M225.4 472.8h1.0M252.5 473.7h1.0M236.6 481.9h1.0M218.9 483.9h1.0M260.5 469.3h1.0M251.4 477.5h1.0M256.3 476.0h1.0M244.9 484.0h1.0M239.7 479.5h1.0M253.2 477.0h1.0M255.9 479.9h1.0M255.4 469.8h1.0M234.8 478.9h1.0M259.2 484.1h1.0M246.4 474.1h1.0M234.1 468.6h1.0M240.7 480.2h1.0M245.4 470.8h1.0M245.1 477.8h1.0M238.0 484.2h1.0M251.1 482.6h1.0M247.3 473.1h1.0M258.2 482.6h1.0M239.8 471.5h1.0M255.3 475.0h1.0M233.4 477.2h1.0M252.3 474.1h1.0M246.6 482.1h1.0M254.5 470.4h1.0M254.1 485.7h1.0M256.4 477.2h1.0M250.3 470.3h1.0M239.8 475.2h1.0M269.2 477.6h1.0M235.5 485.3h1.0M259.8 470.0h1.0M244.0 469.8h1.0M257.7 467.1h1.0M266.7 472.7h1.0M234.7 487.2h1.0M252.2 479.2h1.0M255.7 473.0h1.0M255.9 476.3h1.0M252.0 478.6h1.0M261.5 471.7h1.0M230.9 480.5h1.0M272.3 480.0h1.0M244.4 480.6h1.0M232.9 478.0h1.0M227.7 478.1h1.0M254.2 485.3h1.0M240.7 481.8h1.0M261.0 472.8h1.0M243.2 469.1h1.0M236.6 479.6h1.0M223.9 476.2h1.0M254.2 484.1h1.0M218.7 479.3h1.0M239.5 467.0h1.0M235.1 480.3h1.0M246.0 480.8h1.0M242.9 480.6h1.0M235.5 473.1h1.0M244.5 469.5h1.0M259.8 476.4h1.0M235.5 473.6h1.0M235.6 478.1h1.0M242.2 481.5h1.0M233.5 477.2h1.0M229.6 475.4h1.0M261.2 477.0h1.0M256.0 477.3h1.0M234.2 473.5h1.0M233.8 479.1h1.0M248.8 491.0h1.0M264.6 481.4h1.0M235.5 478.1h1.0M236.2 488.4h1.0M238.3 482.9h1.0M231.4 481.1h1.0M232.7 475.4h1.0M248.1 478.2h1.0M245.6 477.3h1.0M236.8 477.0h1.0M245.4 473.3h1.0M252.5 478.4h1.0M237.9 483.5h1.0M239.9 468.8h1.0M260.1 475.8h1.0M262.3 479.5h1.0M236.4 482.7h1.0M251.3 481.8h1.0M246.7 484.7h1.0M256.4 476.0h1.0M229.7 477.3h1.0M247.0 473.0h1.0M244.1 484.5h1.0M241.0 482.7h1.0M235.9 473.1h1.0M256.5 476.8h1.0M248.6 482.3h1.0M264.1 471.8h1.0M252.6 478.6h1.0M247.8 485.8h1.0M243.5 474.8h1.0M251.7 468.2h1.0M250.2 473.4h1.0M249.8 474.1h1.0M251.8 476.4h1.0M238.3 480.0h1.0M254.4 470.1h1.0M232.0 476.3h1.0M242.0 483.7h1.0M263.6 479.7h1.0M258.2 476.0h1.0M231.1 478.9h1.0M226.8 485.1h1.0M249.0 482.9h1.0M239.1 470.1h1.0M243.9 479.8h1.0M243.8 475.2h1.0M247.0 476.7h1.0M261.5 471.5h1.0M221.8 477.1h1.0M249.1 470.4h1.0M245.7 479.6h1.0M249.8 478.9h1.0M237.9 470.9h1.0M256.6 475.9h1.0M231.1 484.7h1.0M254.3 464.6h1.0M274.6 478.2h1.0M228.4 482.0h1.0M249.8 483.3h1.0M246.3 469.8h1.0M244.3 475.6h1.0M249.3 476.7h1.0M252.3 471.9h1.0M240.1 475.1h1.0M250.7 469.6h1.0M246.1 488.6h1.0M226.3 482.3h1.0M247.2 482.1h1.0M246.7 478.7h1.0M250.2 479.7h1.0M232.9 476.9h1.0M266.2 484.1h1.0M236.8 473.2h1.0M244.2 482.4h1.0M256.2 474.8h1.0M220.0 477.3h1.0M227.8 483.1h1.0M262.4 480.6h1.0M252.7 480.1h1.0M266.4 482.6h1.0M262.0 472.2h1.0M240.4 477.5h1.0M221.6 476.2h1.0M245.9 477.2h1.0M273.9 476.6h1.0M243.9 477.0h1.0M242.3 471.0h1.0M258.5 477.6h1.0M250.1 477.7h1.0M237.5 470.1h1.0M242.9 480.0h1.0M244.8 480.9h1.0M237.4 476.2h1.0M247.7 477.1h1.0M248.0 484.2h1.0M241.5 478.1h1.0M238.9 480.0h1.0M248.6 474.1h1.0M235.0 472.0h1.0M243.0 478.2h1.0M240.6 477.0h1.0M247.6 488.4h1.0M259.1 488.3h1.0M247.6 478.5h1.0M267.6 479.3h1.0M253.3 475.2h1.0M240.1 481.1h1.0M239.5 474.5h1.0M229.6 478.9h1.0M245.0 480.0h1.0M236.5 471.8h1.0M258.2 477.6h1.0M254.8 472.2h1.0M231.8 465.8h1.0M249.4 482.1h1.0M260.7 485.7h1.0M226.0 472.5h1.0M240.2 473.8h1.0M243.7 473.8h1.0M229.9 477.3h1.0M247.4 473.9h1.0M246.4 471.5h1.0M242.4 476.0h1.0M241.0 477.2h1.0M232.1 471.3h1.0M236.9 480.9h1.0M235.5 473.2h1.0M267.9 476.3h1.0M241.8 473.4h1.0M262.3 479.9h1.0M248.9 484.9h1.0M232.9 469.7h1.0M258.3 479.5h1.0M240.4 481.2h1.0M245.0 486.6h1.0M232.0 479.2h1.0M256.8 481.6h1.0M242.0 475.7h1.0M241.2 480.7h1.0M241.6 476.9h1.0M257.3 477.0h1.0M248.7 476.9h1.0M246.1 467.2h1.0M235.6 479.2h1.0M238.9 474.6h1.0M246.6 488.1h1.0M237.6 473.1h1.0M226.2 479.6h1.0M245.4 473.6h1.0M241.5 482.1h1.0M257.3 479.2h1.0M258.8 482.2h1.0M240.9 481.2h1.0M247.7 481.1h1.0M249.1 487.4h1.0M232.1 479.2h1.0M234.0 488.3h1.0M240.3 475.8h1.0M245.8 477.3h1.0M264.9 477.3h1.0M248.8 482.5h1.0M262.7 473.0h1.0M249.4 471.3h1.0M251.5 484.1h1.0M240.2 476.2h1.0M259.2 479.5h1.0M254.9 475.4h1.0M242.5 475.8h1.0M263.3 470.6h1.0M240.3 484.8h1.0M245.2 472.4h1.0M248.6 476.5h1.0M244.6 479.8h1.0M216.9 471.3h1.0M209.5 488.7h1.0M190.2 479.4h1.0M192.5 483.9h1.0M196.4 478.1h1.0M201.8 482.7h1.0M190.6 471.8h1.0M209.3 487.9h1.0M200.7 482.4h1.0M210.3 480.6h1.0M206.7 476.8h1.0M203.9 487.0h1.0M212.5 487.5h1.0M197.9 480.7h1.0M198.9 472.3h1.0M218.2 478.4h1.0M210.0 471.7h1.0M203.8 479.3h1.0M202.1 485.9h1.0M212.7 480.8h1.0M209.8 477.4h1.0M198.1 478.4h1.0M194.2 479.0h1.0M205.5 486.6h1.0M201.5 494.2h1.0M200.4 480.8h1.0M206.6 476.4h1.0M206.2 469.6h1.0M220.9 476.6h1.0M206.6 469.4h1.0M214.0 472.5h1.0M223.9 473.9h1.0M197.8 483.9h1.0M222.9 468.4h1.0M185.9 489.5h1.0M212.5 471.1h1.0M201.5 484.1h1.0M202.1 488.8h1.0M198.0 481.0h1.0M221.4 488.7h1.0M209.9 483.4h1.0M202.7 479.6h1.0M199.8 482.3h1.0M217.4 474.1h1.0M192.4 480.3h1.0M231.9 481.3h1.0M208.6 479.7h1.0M186.0 475.8h1.0M225.7 467.6h1.0M229.3 472.9h1.0M232.3 495.4h1.0M225.6 479.2h1.0M214.3 476.8h1.0M201.3 481.2h1.0M183.7 483.3h1.0M203.0 473.6h1.0M203.4 483.8h1.0M197.3 482.1h1.0M190.1 480.5h1.0M192.5 484.5h1.0M193.9 483.6h1.0M183.7 481.0h1.0M220.6 475.1h1.0M207.6 474.9h1.0M212.9 484.5h1.0M221.2 487.8h1.0M223.1 475.7h1.0M208.3 483.1h1.0M209.3 472.2h1.0M232.1 495.0h1.0M207.6 464.6h1.0M229.6 478.9h1.0M235.1 473.8h1.0M213.5 484.7h1.0M189.0 478.0h1.0M213.0 483.9h1.0M211.7 464.5h1.0M183.7 482.1h1.0M226.8 470.9h1.0M211.8 485.5h1.0M194.7 470.6h1.0M210.2 477.4h1.0M205.7 478.8h1.0M205.4 481.8h1.0M200.3 479.8h1.0M199.8 474.8h1.0M211.2 475.1h1.0M213.5 479.8h1.0M220.3 483.5h1.0M183.7 479.8h1.0M215.1 480.6h1.0M207.4 486.4h1.0M215.3 472.0h1.0M208.0 485.9h1.0M208.8 472.4h1.0M216.6 483.6h1.0M221.2 481.0h1.0M208.3 485.0h1.0M193.2 490.2h1.0M211.9 481.3h1.0M216.3 484.7h1.0M183.7 485.5h1.0M205.5 475.3h1.0M218.1 485.6h1.0M211.6 476.3h1.0M208.2 474.3h1.0M238.3 476.0h1.0M217.8 489.7h1.0M196.2 476.8h1.0M183.7 478.5h1.0M190.4 480.9h1.0M204.1 480.0h1.0M207.3 477.2h1.0M208.3 479.6h1.0M197.9 478.1h1.0M199.7 472.3h1.0M206.5 468.9h1.0M213.5 479.8h1.0M208.9 486.9h1.0M218.7 477.4h1.0M211.2 487.1h1.0M204.9 482.2h1.0M212.1 473.8h1.0M210.4 477.6h1.0M203.6 482.6h1.0M215.0 474.6h1.0M203.7 478.8h1.0M195.0 482.2h1.0M204.3 475.8h1.0M218.6 479.5h1.0M192.4 479.4h1.0M204.5 481.7h1.0M234.9 483.2h1.0M224.8 478.9h1.0M212.7 482.9h1.0M205.5 481.4h1.0M201.2 484.1h1.0M195.6 490.2h1.0M183.7 471.7h1.0M205.3 482.1h1.0M208.6 470.3h1.0M212.1 474.7h1.0M209.3 477.5h1.0M203.5 470.9h1.0M190.6 476.7h1.0M193.6 481.4h1.0M189.4 481.3h1.0M213.7 475.5h1.0M194.9 477.9h1.0M216.6 488.2h1.0M233.7 480.5h1.0M214.5 481.1h1.0M206.6 473.6h1.0M202.4 486.6h1.0M224.0 476.4h1.0M186.7 491.2h1.0M207.2 482.7h1.0M204.7 469.2h1.0M210.7 474.2h1.0M203.3 476.3h1.0M203.5 494.2h1.0M225.6 468.4h1.0M187.6 477.0h1.0M198.5 484.6h1.0M226.3 475.6h1.0M213.9 478.7h1.0M183.7 487.0h1.0M228.5 475.1h1.0M214.7 476.9h1.0M205.6 477.2h1.0M205.1 480.2h1.0M199.2 481.6h1.0M190.7 484.8h1.0M194.9 468.9h1.0M217.2 477.9h1.0M200.2 485.4h1.0M206.4 491.6h1.0M212.1 471.5h1.0M200.5 476.0h1.0M203.2 490.0h1.0M240.7 490.2h1.0M212.5 483.2h1.0M208.9 466.8h1.0M224.1 491.8h1.0M200.3 479.8h1.0M198.0 478.8h1.0M196.0 473.2h1.0M221.9 468.4h1.0M219.6 473.2h1.0M203.6 468.0h1.0M214.9 474.0h1.0M237.9 474.4h1.0M209.9 483.9h1.0M194.7 475.0h1.0M193.5 483.3h1.0M210.5 486.0h1.0M188.9 474.4h1.0M205.4 477.3h1.0M210.7 486.7h1.0M208.5 475.2h1.0M206.3 475.7h1.0M198.7 491.0h1.0M215.3 490.9h1.0M204.2 479.6h1.0M191.1 481.4h1.0M215.9 484.1h1.0M192.3 480.6h1.0M218.3 477.2h1.0M215.6 477.0h1.0M206.8 476.5h1.0M188.4 475.0h1.0M209.0 478.3h1.0M206.7 476.5h1.0M217.8 478.9h1.0M211.7 477.1h1.0M223.1 479.4h1.0M212.3 493.1h1.0M212.2 470.7h1.0M198.5 481.9h1.0M190.4 471.2h1.0M205.3 470.6h1.0M220.4 482.6h1.0M202.9 487.2h1.0M198.4 472.9h1.0M218.1 480.1h1.0M204.0 486.1h1.0M205.1 483.8h1.0M209.6 486.9h1.0M213.7 477.2h1.0M225.6 477.9h1.0M228.5 472.4h1.0M207.5 466.7h1.0M213.4 488.0h1.0M202.0 482.8h1.0M204.1 488.5h1.0M211.1 482.1h1.0M220.6 470.9h1.0M215.5 480.8h1.0M223.0 480.2h1.0M214.4 479.7h1.0M194.6 477.0h1.0M204.6 472.1h1.0M206.3 477.2h1.0M229.6 478.5h1.0M208.4 480.5h1.0M215.6 470.4h1.0M185.2 489.4h1.0M196.5 474.7h1.0M221.5 481.8h1.0M196.9 484.4h1.0M192.8 489.7h1.0M203.0 482.0h1.0M206.8 491.4h1.0M195.0 479.4h1.0M233.6 467.9h1.0M200.8 481.6h1.0M204.3 482.6h1.0M221.4 473.2h1.0M198.8 487.8h1.0M231.2 464.1h1.0M213.7 485.9h1.0M198.5 474.8h1.0M192.9 478.8h1.0M192.7 484.2h1.0M198.4 483.1h1.0M187.4 485.3h1.0M215.3 485.6h1.0M210.3 493.7h1.0M219.0 480.3h1.0M227.0 477.9h1.0M208.9 489.7h1.0M201.2 480.0h1.0M210.1 481.1h1.0M204.1 486.0h1.0M233.8 477.7h1.0M188.7 477.2h1.0M189.7 472.4h1.0M194.1 486.3h1.0M208.9 484.2h1.0M205.6 486.1h1.0M201.9 487.8h1.0M218.0 481.3h1.0M188.7 473.5h1.0M210.2 473.8h1.0M204.9 479.0h1.0M224.1 475.9h1.0M208.6 477.3h1.0M197.6 482.6h1.0M219.1 471.5h1.0M225.7 493.3h1.0M208.9 483.1h1.0M194.0 477.6h1.0M210.8 479.5h1.0M224.2 474.8h1.0M203.9 483.1h1.0M206.1 478.5h1.0M205.6 482.4h1.0M183.7 495.4h1.0M216.3 473.7h1.0M195.8 473.3h1.0M212.4 469.0h1.0M237.5 476.7h1.0M189.5 492.2h1.0M207.0 482.9h1.0M204.7 478.5h1.0M232.6 468.3h1.0M210.2 475.6h1.0M202.7 479.6h1.0M184.2 483.7h1.0M209.5 483.3h1.0M199.6 484.4h1.0M201.2 484.6h1.0M223.8 483.7h1.0M189.1 480.4h1.0M194.2 491.5h1.0M209.5 472.5h1.0M188.1 487.9h1.0M194.6 482.4h1.0M202.9 479.2h1.0M201.6 480.1h1.0M227.1 474.8h1.0M213.5 482.9h1.0M198.7 473.5h1.0M196.0 483.4h1.0M209.0 486.1h1.0M211.6 480.7h1.0M207.3 481.4h1.0M207.6 484.0h1.0M196.3 486.4h1.0M227.3 479.5h1.0M214.1 473.1h1.0M208.3 471.5h1.0M219.4 480.3h1.0M220.5 486.7h1.0M197.9 484.8h1.0M226.3 493.1h1.0M205.8 483.2h1.0M199.1 483.8h1.0M214.5 488.6h1.0M205.2 480.4h1.0M213.3 479.0h1.0M232.8 466.9h1.0M185.8 477.1h1.0M215.7 480.1h1.0M212.3 471.1h1.0M214.5 483.2h1.0M227.5 484.9h1.0M199.4 475.7h1.0M193.0 477.2h1.0M205.8 487.4h1.0M227.7 480.5h1.0M214.5 479.1h1.0M191.0 483.2h1.0M198.0 470.5h1.0M196.7 488.8h1.0M192.7 488.0h1.0M190.0 479.6h1.0M213.4 477.7h1.0M195.0 480.1h1.0M227.9 483.9h1.0M209.6 483.4h1.0M221.9 487.8h1.0M203.7 474.9h1.0M194.8 480.4h1.0M203.4 480.1h1.0M199.4 494.7h1.0M198.4 488.4h1.0M196.4 475.4h1.0M192.5 473.6h1.0M186.7 475.2h1.0M204.1 484.1h1.0M184.8 482.6h1.0M205.6 480.0h1.0M183.7 482.9h1.0M215.4 486.8h1.0M203.5 487.3h1.0M208.0 474.7h1.0M213.6 485.8h1.0M210.0 479.9h1.0M204.0 484.0h1.0M219.9 516.3h1.0M226.7 503.6h1.0M201.0 500.1h1.0M240.9 487.3h1.0M185.5 528.1h1.0M222.4 527.8h1.0M230.4 487.8h1.0M197.5 525.7h1.0M241.9 502.8h1.0M185.4 485.3h1.0M216.1 471.9h1.0M219.9 496.1h1.0M199.5 499.6h1.0M256.3 521.9h1.0M246.4 485.4h1.0M201.7 496.6h1.0M254.9 479.6h1.0M189.7 520.4h1.0M184.9 498.7h1.0M258.7 502.7h1.0M184.7 485.4h1.0M241.0 509.5h1.0M190.5 495.6h1.0M220.5 476.5h1.0M193.9 485.9h1.0M214.4 527.0h1.0M208.9 523.1h1.0M185.6 495.9h1.0M195.4 469.8h1.0M206.1 510.5h1.0M230.1 484.4h1.0M239.3 511.1h1.0M249.7 510.2h1.0M190.8 516.1h1.0M256.6 522.2h1.0M233.9 474.1h1.0M249.8 497.6h1.0M239.4 525.2h1.0M200.2 467.5h1.0M255.2 523.0h1.0M190.5 495.3h1.0M249.2 505.3h1.0M223.7 529.8h1.0M186.2 489.8h1.0M195.9 527.6h1.0M228.4 482.8h1.0M250.0 524.5h1.0M220.6 526.9h1.0M200.4 510.2h1.0M259.5 480.8h1.0M237.4 519.0h1.0M249.7 483.1h1.0M213.2 473.3h1.0M222.5 521.2h1.0M206.6 522.4h1.0M204.2 496.1h1.0M234.3 517.9h1.0M255.6 488.8h1.0M213.7 514.6h1.0M244.5 516.5h1.0M204.3 521.3h1.0M242.1 503.9h1.0M209.4 512.4h1.0M189.3 513.3h1.0M215.8 514.7h1.0M228.7 488.9h1.0M208.1 498.2h1.0M194.3 482.6h1.0M232.5 478.5h1.0M253.8 499.8h1.0M208.4 477.3h1.0M205.0 491.4h1.0M194.3 485.8h1.0M257.2 526.0h1.0M253.4 526.7h1.0M237.4 527.8h1.0M232.6 492.2h1.0M196.8 507.8h1.0M257.3 526.1h1.0M258.0 494.3h1.0M236.0 530.0h1.0M238.9 520.8h1.0M250.1 501.6h1.0M250.4 488.6h1.0M246.7 493.8h1.0M200.4 518.9h1.0M244.3 506.7h1.0M219.8 482.8h1.0M248.0 508.6h1.0M234.9 518.5h1.0M186.0 516.9h1.0M248.9 474.9h1.0M187.6 521.4h1.0M203.9 500.2h1.0M254.7 478.4h1.0M221.6 469.8h1.0M250.3 521.1h1.0M217.2 516.8h1.0M195.5 517.6h1.0M245.4 512.7h1.0M186.5 485.1h1.0M234.3 519.3h1.0M221.4 510.0h1.0M218.6 503.3h1.0M205.6 478.9h1.0M250.2 501.4h1.0M208.4 484.9h1.0M209.6 499.2h1.0M196.0 494.9h1.0M210.6 490.8h1.0M211.8 468.9h1.0M251.2 485.4h1.0M240.8 526.5h1.0M212.9 488.3h1.0M235.4 526.3h1.0M224.5 507.4h1.0M192.2 486.0h1.0M218.5 507.8h1.0M213.0 513.2h1.0M247.7 481.9h1.0M183.5 511.1h1.0M183.7 526.2h1.0M184.3 505.1h1.0M184.5 495.2h1.0M184.2 508.0h1.0M183.7 511.3h1.0M184.2 494.2h1.0M184.4 531.3h1.0M184.8 504.8h1.0M184.4 531.3h1.0M183.7 531.3h1.0M183.7 531.3h1.0M183.7 524.8h1.0M183.7 527.3h1.0M184.9 516.1h1.0M183.7 524.8h1.0M184.4 498.7h1.0M184.6 509.9h1.0M183.9 500.0h1.0M184.2 522.5h1.0M183.7 521.9h1.0M183.7 513.3h1.0M184.3 500.3h1.0M184.2 495.9h1.0M185.8 516.8h1.0M185.1 500.6h1.0M183.7 510.9h1.0M185.3 510.0h1.0M185.1 516.9h1.0M184.3 524.9h1.0M183.7 506.9h1.0M185.1 517.6h1.0M183.7 498.7h1.0M185.4 472.4h1.0M184.9 510.2h1.0M183.7 517.0h1.0M184.5 531.3h1.0M184.3 481.2h1.0M183.7 521.3h1.0M183.5 511.3h1.0M183.9 529.5h1.0M184.3 510.1h1.0M183.7 524.3h1.0M183.7 517.1h1.0M184.4 521.1h1.0M184.8 515.4h1.0M185.9 521.6h1.0M183.7 500.9h1.0M183.7 528.3h1.0M183.7 531.2h1.0M184.4 504.8h1.0M183.7 510.8h1.0M184.7 511.1h1.0M184.7 514.1h1.0M185.3 506.0h1.0M183.9 498.2h1.0M183.7 499.8h1.0M183.7 509.3h1.0M184.7 484.5h1.0M183.7 494.9h1.0M184.4 518.9h1.0M184.3 509.7h1.0M183.7 514.3h1.0M183.7 509.1h1.0M184.4 508.9h1.0M185.1 485.3h1.0M183.7 524.2h1.0M183.7 506.2h1.0M183.7 511.2h1.0M183.9 516.4h1.0M184.9 531.3h1.0M183.7 510.6h1.0M183.7 514.6h1.0M183.7 512.8h1.0M184.3 511.5h1.0M184.2 520.0h1.0M183.7 511.4h1.0M185.0 523.4h1.0M184.9 501.8h1.0M183.7 524.0h1.0M184.0 515.6h1.0M183.7 523.1h1.0M184.2 499.9h1.0M184.4 507.7h1.0M183.8 518.9h1.0M184.1 505.0h1.0M183.7 506.5h1.0M183.9 497.4h1.0M183.7 531.3h1.0M183.7 512.7h1.0M183.7 508.0h1.0M184.2 514.0h1.0M183.7 512.4h1.0M183.7 525.3h1.0M183.9 531.3h1.0M184.3 497.8h1.0M184.9 506.0h1.0M183.9 513.1h1.0M183.7 526.3h1.0M184.1 499.4h1.0M183.7 517.6h1.0M185.1 516.9h1.0M184.3 506.9h1.0M185.0 518.6h1.0M183.7 504.5h1.0M183.7 526.0h1.0M186.8 510.5h1.0M184.4 521.3h1.0M183.8 531.3h1.0M183.7 501.8h1.0M185.5 523.1h1.0M184.7 510.7h1.0M184.0 513.8h1.0M184.4 504.7h1.0M185.0 531.3h1.0M183.5 500.4h1.0M184.1 531.3h1.0M183.7 528.4h1.0M183.7 502.8h1.0M185.0 509.9h1.0M184.0 520.6h1.0M185.1 514.9h1.0M185.5 503.8h1.0M183.5 520.4h1.0M184.6 491.0h1.0M183.7 520.4h1.0M183.9 531.3h1.0M183.7 514.5h1.0M183.7 492.7h1.0M183.8 511.3h1.0M183.6 504.4h1.0M184.8 499.4h1.0M183.7 495.1h1.0M185.1 494.2h1.0M185.6 500.9h1.0M184.0 531.3h1.0M183.7 528.1h1.0M183.7 506.5h1.0M184.5 516.2h1.0M184.3 515.9h1.0M185.5 492.6h1.0M183.7 522.7h1.0M183.7 503.7h1.0M186.3 528.4h1.0M184.5 513.1h1.0M183.8 501.4h1.0M183.7 500.2h1.0M183.7 513.8h1.0M184.4 500.8h1.0M184.1 496.1h1.0M184.4 508.2h1.0M183.9 514.5h1.0M185.2 514.7h1.0M183.7 514.1h1.0M184.4 518.6h1.0M185.0 502.2h1.0M183.7 519.8h1.0M183.7 517.7h1.0M186.6 527.3h1.0M183.7 502.2h1.0M184.4 508.8h1.0M184.7 515.2h1.0M184.3 518.9h1.0M183.7 526.1h1.0M183.7 501.5h1.0M183.7 512.2h1.0M184.4 507.7h1.0M183.7 485.8h1.0M184.5 498.2h1.0M183.7 515.1h1.0M183.9 517.2h1.0M185.6 520.8h1.0M183.7 511.7h1.0M183.8 501.8h1.0M184.6 507.5h1.0M184.2 520.0h1.0M186.0 504.9h1.0M184.7 531.3h1.0M185.5 515.9h1.0M183.7 514.2h1.0M183.7 507.2h1.0M183.7 508.8h1.0M183.7 524.2h1.0M184.5 507.3h1.0M184.0 513.7h1.0M183.8 515.8h1.0M183.8 517.8h1.0M183.7 513.1h1.0M185.6 502.4h1.0M183.7 523.7h1.0M184.3 514.2h1.0M184.2 507.3h1.0M183.5 518.5h1.0M184.2 520.1h1.0M184.4 531.3h1.0M184.1 529.4h1.0M184.2 531.3h1.0M184.9 503.2h1.0M185.5 505.5h1.0M185.0 503.2h1.0" stroke="#151515" stroke-width="1.0" fill="none"/>
<path d="M346.8 510.3h1.0M358.0 494.0h1.0M322.9 516.2h1.0M351.0 505.6h1.0M344.1 496.9h1.0M339.1 504.6h1.0M352.4 511.0h1.0M341.4 517.4h1.0M336.3 514.6h1.0M340.7 512.5h1.0M340.0 519.2h1.0M338.5 523.5h1.0M351.4 503.4h1.0M338.4 518.8h1.0M358.5 500.7h1.0M344.8 513.7h1.0M368.1 514.0h1.0M341.0 515.9h1.0M343.9 503.2h1.0M342.6 507.7h1.0M340.9 509.9h1.0M346.9 503.8h1.0M350.2 498.2h1.0M350.1 512.8h1.0M347.5 498.8h1.0M337.9 510.8h1.0M348.0 514.6h1.0M327.0 509.5h1.0M354.5 501.1h1.0M330.3 506.1h1.0M340.3 507.5h1.0M356.3 511.4h1.0M323.0 515.0h1.0M344.1 515.4h1.0M342.8 519.2h1.0M344.6 506.0h1.0M330.5 516.0h1.0M341.7 497.0h1.0M352.0 518.6h1.0M321.8 513.4h1.0M350.0 521.6h1.0M356.0 504.2h1.0M347.9 514.7h1.0M327.6 519.6h1.0M348.3 515.4h1.0M333.8 515.3h1.0M342.6 507.3h1.0M343.5 511.9h1.0M327.1 509.5h1.0M347.0 498.0h1.0M361.0 527.6h1.0M350.2 509.5h1.0M332.2 501.6h1.0M330.2 515.7h1.0M333.9 510.8h1.0M338.5 515.8h1.0M356.5 516.0h1.0M350.1 517.0h1.0M361.1 503.3h1.0M345.9 504.9h1.0M343.6 507.9h1.0M344.3 514.6h1.0M329.4 491.1h1.0M346.0 517.0h1.0M338.9 519.9h1.0M366.9 510.0h1.0M340.9 513.2h1.0M351.2 499.0h1.0M348.4 495.0h1.0M331.8 511.1h1.0M346.4 501.1h1.0M343.6 518.6h1.0M325.8 513.5h1.0M356.5 500.0h1.0M355.7 512.7h1.0M339.8 509.7h1.0M342.7 509.8h1.0M340.9 504.3h1.0M352.7 521.6h1.0M341.0 519.6h1.0M334.9 500.5h1.0M349.8 511.3h1.0M347.9 502.8h1.0M338.9 516.8h1.0M359.9 511.4h1.0M347.1 490.9h1.0M336.2 518.8h1.0M363.2 503.7h1.0M321.8 513.2h1.0M329.3 506.6h1.0M336.7 506.9h1.0M332.9 514.2h1.0M346.2 500.3h1.0M326.4 524.3h1.0M349.0 511.1h1.0M325.2 524.9h1.0M332.1 510.5h1.0M346.5 504.4h1.0M344.4 506.4h1.0M321.8 499.8h1.0M336.5 505.8h1.0M347.6 521.3h1.0M340.5 525.1h1.0M338.4 510.4h1.0M340.6 497.6h1.0M342.2 508.1h1.0M334.2 514.9h1.0M347.2 507.4h1.0M333.7 511.7h1.0M334.5 503.5h1.0M337.7 516.3h1.0M339.9 508.5h1.0M339.4 513.8h1.0M341.2 515.5h1.0M341.3 515.6h1.0M339.8 504.3h1.0M347.2 508.2h1.0M338.1 519.8h1.0M337.7 504.1h1.0M339.3 519.8h1.0M328.8 517.9h1.0M348.3 506.8h1.0M339.3 504.5h1.0M321.8 503.0h1.0M328.1 498.3h1.0M338.2 513.8h1.0M333.0 507.3h1.0M334.7 508.2h1.0M346.9 518.3h1.0M349.0 512.3h1.0M357.2 514.8h1.0M347.8 513.7h1.0M351.3 502.3h1.0M333.4 510.3h1.0M324.1 507.7h1.0M339.2 511.9h1.0M349.9 518.9h1.0M321.8 511.2h1.0M346.2 519.9h1.0M336.1 512.6h1.0M341.0 503.0h1.0M345.2 516.5h1.0M338.9 510.3h1.0M354.0 508.3h1.0M339.3 511.8h1.0M347.2 512.6h1.0M355.5 512.8h1.0M330.0 498.1h1.0M341.6 521.6h1.0M342.9 506.6h1.0M345.4 513.4h1.0M355.5 500.6h1.0M350.6 511.0h1.0M351.1 517.4h1.0M321.8 516.2h1.0M347.7 504.1h1.0M341.2 517.2h1.0M326.8 516.0h1.0M350.8 522.1h1.0M333.7 505.3h1.0M353.0 507.7h1.0M346.7 491.1h1.0M367.5 496.5h1.0M325.2 513.2h1.0M347.7 503.9h1.0M321.8 513.6h1.0M344.9 503.1h1.0M343.8 505.6h1.0M331.7 514.7h1.0M342.4 510.0h1.0M329.4 504.6h1.0M339.5 505.4h1.0M346.0 509.9h1.0M340.1 508.5h1.0M346.7 516.9h1.0M331.1 516.5h1.0M351.8 515.3h1.0M336.6 511.2h1.0M364.5 500.2h1.0M351.2 507.8h1.0M359.8 510.7h1.0M351.3 505.2h1.0M337.2 521.1h1.0M329.1 505.9h1.0M339.8 500.8h1.0M349.0 500.9h1.0M342.9 508.0h1.0M321.8 510.7h1.0M326.2 509.9h1.0M321.8 505.8h1.0M350.9 511.6h1.0M354.1 521.3h1.0M350.1 508.3h1.0M341.1 514.1h1.0M329.4 502.2h1.0M342.3 522.1h1.0M330.7 511.4h1.0M335.0 514.8h1.0M346.0 509.4h1.0M351.9 507.8h1.0M324.9 524.7h1.0M341.2 511.9h1.0M350.6 503.8h1.0M337.5 504.3h1.0M348.4 512.5h1.0M344.4 500.3h1.0M333.8 499.3h1.0M328.1 504.4h1.0M345.4 513.2h1.0M323.5 514.2h1.0M346.1 521.0h1.0M351.3 498.9h1.0M347.5 511.3h1.0M345.8 504.4h1.0M357.4 510.3h1.0M336.3 496.7h1.0M339.7 499.8h1.0M326.9 521.3h1.0M341.7 516.6h1.0M354.0 514.9h1.0M337.9 501.2h1.0M340.6 510.5h1.0M340.8 507.5h1.0M343.9 499.3h1.0M353.5 501.2h1.0M343.6 503.3h1.0M356.6 505.6h1.0M332.7 506.9h1.0M351.6 500.8h1.0M328.7 505.8h1.0M350.3 488.5h1.0M352.1 525.9h1.0M340.5 516.3h1.0M341.0 496.3h1.0M337.9 514.0h1.0M330.7 507.5h1.0M335.4 512.4h1.0M368.4 510.2h1.0M328.7 521.6h1.0M339.3 506.6h1.0M347.6 515.1h1.0M344.7 512.1h1.0M344.3 500.9h1.0M350.6 515.9h1.0M334.1 496.9h1.0M336.0 510.9h1.0M357.3 511.2h1.0M321.8 505.1h1.0M343.1 511.3h1.0M326.3 507.0h1.0M343.9 514.6h1.0M351.0 521.5h1.0M335.1 506.5h1.0M337.6 513.2h1.0M363.5 510.9h1.0M344.1 502.9h1.0M328.9 522.4h1.0M341.5 519.8h1.0M351.1 506.0h1.0M345.0 503.0h1.0M349.1 508.5h1.0M350.7 518.6h1.0M336.2 515.4h1.0M347.0 505.8h1.0M345.3 518.6h1.0M344.2 516.6h1.0M346.1 518.7h1.0M341.0 507.2h1.0M349.1 493.0h1.0M337.0 520.7h1.0M334.6 523.0h1.0M359.6 506.0h1.0M334.4 512.4h1.0M352.1 522.3h1.0M358.7 504.4h1.0M351.6 505.9h1.0M353.9 513.0h1.0M357.8 508.9h1.0M351.3 500.3h1.0M332.2 513.3h1.0M343.6 516.0h1.0M367.0 505.0h1.0M329.9 501.9h1.0M335.9 518.0h1.0M346.6 507.4h1.0M349.7 508.3h1.0M345.3 509.4h1.0M328.1 515.5h1.0M344.4 525.7h1.0M343.6 505.2h1.0M344.4 504.3h1.0M342.2 506.8h1.0M346.1 502.8h1.0M341.4 506.5h1.0M332.1 509.0h1.0M350.0 514.8h1.0M345.9 508.7h1.0M352.8 507.5h1.0M349.8 496.9h1.0M329.8 504.2h1.0M354.7 507.6h1.0M347.5 501.5h1.0M326.5 529.9h1.0M360.3 522.3h1.0M342.7 504.7h1.0M345.4 507.7h1.0M337.6 491.4h1.0M345.0 493.4h1.0M337.2 498.3h1.0M364.1 500.1h1.0M338.4 512.2h1.0M339.3 511.3h1.0M352.6 504.8h1.0M348.2 508.5h1.0M328.6 511.5h1.0M331.1 517.0h1.0M342.8 510.7h1.0M353.4 503.4h1.0M334.1 519.9h1.0M350.5 512.6h1.0M321.8 509.6h1.0M332.5 505.0h1.0M325.1 497.4h1.0M338.0 512.2h1.0M337.3 508.1h1.0M343.6 519.3h1.0M336.5 510.4h1.0M372.5 509.2h1.0M351.6 500.7h1.0M331.3 506.1h1.0M376.0 504.8h1.0M358.0 505.7h1.0M329.2 495.6h1.0M344.5 517.1h1.0M334.1 506.4h1.0M330.7 504.0h1.0M353.9 505.4h1.0M331.4 513.9h1.0M345.7 509.0h1.0M365.2 511.6h1.0M355.4 500.3h1.0M342.0 518.6h1.0M351.0 516.1h1.0M326.7 507.3h1.0M361.2 520.1h1.0M321.8 495.5h1.0M357.8 515.2h1.0M357.4 488.8h1.0M343.8 515.2h1.0M356.3 502.2h1.0M354.5 515.2h1.0M337.1 521.0h1.0M356.9 515.9h1.0M337.8 511.4h1.0M342.6 521.5h1.0M370.0 503.0h1.0M365.1 512.6h1.0M335.4 504.0h1.0M360.0 511.7h1.0M335.5 507.9h1.0M338.6 508.4h1.0M363.0 504.3h1.0M339.4 487.1h1.0M348.5 516.2h1.0M365.8 504.8h1.0M339.6 506.4h1.0M329.1 509.3h1.0M334.2 507.7h1.0M344.6 514.8h1.0M343.6 526.9h1.0M346.7 513.2h1.0M348.7 508.6h1.0M353.7 510.4h1.0M327.9 505.4h1.0M359.5 497.5h1.0M362.7 510.1h1.0M345.9 518.4h1.0M345.5 505.8h1.0M321.8 504.8h1.0M329.8 514.4h1.0M344.1 502.4h1.0M356.2 515.8h1.0M368.0 511.2h1.0M329.1 510.0h1.0M351.5 515.8h1.0M328.1 512.8h1.0M350.6 512.2h1.0M324.7 505.9h1.0M341.7 507.6h1.0M353.3 506.4h1.0M322.3 493.7h1.0M348.4 503.3h1.0M342.5 517.3h1.0M337.1 509.0h1.0M326.7 500.4h1.0M349.6 517.7h1.0M335.6 507.9h1.0M346.7 506.0h1.0M343.8 506.3h1.0M349.8 505.5h1.0M337.6 499.2h1.0M334.3 498.3h1.0M341.4 516.5h1.0M328.5 503.0h1.0M334.4 512.5h1.0M339.6 506.8h1.0M332.2 507.2h1.0M339.0 503.3h1.0M358.9 512.7h1.0M341.2 511.4h1.0M368.9 513.6h1.0M337.0 508.9h1.0M355.9 512.5h1.0M339.9 509.9h1.0M330.4 506.8h1.0M338.4 507.4h1.0M358.4 509.4h1.0M356.1 509.1h1.0M326.0 518.0h1.0M336.9 508.3h1.0M355.5 519.3h1.0M344.8 518.3h1.0M337.4 513.8h1.0M332.8 516.2h1.0M336.6 513.9h1.0M329.5 519.5h1.0M361.4 507.2h1.0M343.7 502.2h1.0M340.8 498.6h1.0M351.1 508.6h1.0M356.2 509.1h1.0M340.4 503.1h1.0M350.2 508.2h1.0M329.5 498.3h1.0M353.8 508.4h1.0M342.2 505.1h1.0M337.1 509.0h1.0M345.2 500.5h1.0M371.0 515.7h1.0M321.8 509.6h1.0M355.7 504.4h1.0M327.6 513.0h1.0M336.0 509.1h1.0M361.7 509.1h1.0M358.1 503.4h1.0M322.4 506.3h1.0M338.6 514.0h1.0M348.0 494.8h1.0M330.4 505.9h1.0M334.8 504.4h1.0M339.3 510.2h1.0M326.1 502.4h1.0M332.7 517.7h1.0M341.1 498.4h1.0M348.5 515.7h1.0M324.8 500.3h1.0M348.1 509.4h1.0M349.9 520.6h1.0M350.5 516.2h1.0M337.5 519.2h1.0M335.1 511.5h1.0M321.8 506.1h1.0M351.9 502.4h1.0M337.7 493.5h1.0M339.1 499.6h1.0M343.7 505.6h1.0M335.3 506.6h1.0M338.4 509.0h1.0M340.0 517.2h1.0M355.0 491.0h1.0M358.2 507.5h1.0M347.0 502.5h1.0M349.8 513.1h1.0M336.7 500.9h1.0M348.8 512.2h1.0M332.8 493.7h1.0M330.5 511.9h1.0M357.3 502.0h1.0M336.6 501.2h1.0M347.0 503.3h1.0M361.9 513.2h1.0M340.8 506.1h1.0M354.4 506.1h1.0M338.7 509.8h1.0M354.9 519.2h1.0M339.2 500.2h1.0M332.9 507.8h1.0M350.3 490.2h1.0M350.4 511.9h1.0M345.4 498.4h1.0M344.2 505.3h1.0M332.6 513.3h1.0M357.1 510.3h1.0M349.6 516.1h1.0M343.5 506.0h1.0M359.8 504.5h1.0M339.8 511.4h1.0M338.5 502.1h1.0M355.4 508.8h1.0M335.4 504.8h1.0M349.8 514.8h1.0M345.5 517.2h1.0M343.1 520.2h1.0M353.3 500.8h1.0M342.2 511.3h1.0M343.1 501.9h1.0M348.5 508.5h1.0M326.7 499.8h1.0M339.0 515.5h1.0M342.9 510.3h1.0M353.8 507.3h1.0M343.5 508.4h1.0M353.4 504.3h1.0M347.6 503.8h1.0M344.3 516.7h1.0M334.6 512.3h1.0M344.2 510.5h1.0M349.1 509.5h1.0M348.8 521.7h1.0M335.8 501.3h1.0M351.6 511.7h1.0M365.2 504.5h1.0M351.3 505.0h1.0M338.1 504.7h1.0M334.5 502.3h1.0M339.9 507.8h1.0M344.0 514.7h1.0M333.6 508.3h1.0M333.9 514.8h1.0M333.5 506.4h1.0M334.9 516.5h1.0M330.3 500.9h1.0M339.2 506.4h1.0M333.4 516.9h1.0M337.4 494.2h1.0M341.3 499.6h1.0M336.3 505.4h1.0M333.6 506.0h1.0M339.1 513.3h1.0M370.7 504.0h1.0M338.4 516.9h1.0M361.8 514.4h1.0M340.6 522.6h1.0M344.3 517.4h1.0M337.6 500.2h1.0M357.9 502.7h1.0M332.1 509.9h1.0M333.4 513.7h1.0M344.2 507.5h1.0M337.4 519.2h1.0M358.3 516.9h1.0M329.3 520.6h1.0M344.5 521.0h1.0M349.1 504.2h1.0M325.5 504.2h1.0M356.4 505.8h1.0M361.2 499.9h1.0M350.3 508.1h1.0M328.4 511.6h1.0M339.1 506.9h1.0M321.8 501.9h1.0M336.3 507.9h1.0M334.4 523.3h1.0M339.0 510.4h1.0M339.9 517.9h1.0M349.6 516.0h1.0M326.8 510.1h1.0M341.8 513.5h1.0M336.2 510.0h1.0M332.8 506.4h1.0M347.2 505.4h1.0M334.3 508.0h1.0M346.8 511.9h1.0M330.6 505.9h1.0M330.8 501.8h1.0M368.9 517.5h1.0M350.9 506.9h1.0M352.5 519.9h1.0M356.6 514.1h1.0M332.7 525.9h1.0M351.5 515.1h1.0M347.0 511.6h1.0M339.0 497.0h1.0M362.5 527.3h1.0M348.4 513.7h1.0M343.1 514.4h1.0M341.6 508.4h1.0M350.0 496.9h1.0M358.3 506.2h1.0M349.1 513.3h1.0M360.4 520.9h1.0M329.2 502.2h1.0M345.0 497.4h1.0M349.9 508.1h1.0M334.7 514.9h1.0M333.1 503.7h1.0M343.0 515.1h1.0M341.0 506.5h1.0M345.2 506.3h1.0M323.1 515.5h1.0M348.3 516.8h1.0M344.4 512.3h1.0M325.0 499.3h1.0M322.2 517.3h1.0M335.5 518.4h1.0M347.7 505.8h1.0M341.9 503.3h1.0M338.1 511.4h1.0M350.3 505.5h1.0M325.9 517.0h1.0M331.0 514.0h1.0M326.5 502.5h1.0M321.8 513.6h1.0M347.6 530.9h1.0M363.1 509.9h1.0M321.8 507.4h1.0M345.6 511.6h1.0M344.5 501.8h1.0M339.4 522.4h1.0M336.9 506.2h1.0M329.8 504.6h1.0M355.8 511.6h1.0M337.2 506.4h1.0M351.5 504.9h1.0M334.1 506.7h1.0M321.8 517.0h1.0M333.9 514.3h1.0M342.6 516.1h1.0M336.9 526.4h1.0M348.7 507.5h1.0M346.0 494.3h1.0M330.3 494.5h1.0M339.7 524.4h1.0M346.3 498.6h1.0M325.8 511.6h1.0M349.5 507.5h1.0M358.4 510.7h1.0M364.6 514.9h1.0M365.1 490.2h1.0M350.8 514.5h1.0M358.8 513.2h1.0M347.0 511.2h1.0M344.8 513.0h1.0M360.1 497.6h1.0M337.8 498.7h1.0M336.2 510.9h1.0M344.6 511.7h1.0M350.6 512.1h1.0M339.0 508.1h1.0M331.1 505.8h1.0M341.5 511.7h1.0M325.4 516.8h1.0M341.8 498.0h1.0M340.8 513.1h1.0M343.6 506.1h1.0M332.9 510.6h1.0M344.3 511.1h1.0M338.4 517.6h1.0M322.8 509.0h1.0M324.8 495.3h1.0M344.4 514.9h1.0M339.3 512.1h1.0M340.5 517.1h1.0M336.0 512.8h1.0M346.0 497.9h1.0M355.2 504.9h1.0M330.1 504.3h1.0M351.7 506.1h1.0M350.9 502.4h1.0M345.2 496.8h1.0M339.3 518.1h1.0M336.7 510.2h1.0M322.8 520.7h1.0M340.0 512.2h1.0M338.2 501.7h1.0M338.6 506.7h1.0M331.1 507.9h1.0M331.8 505.5h1.0M321.8 502.1h1.0M345.7 510.5h1.0M339.7 511.9h1.0M360.9 511.4h1.0M343.6 508.4h1.0M345.9 513.4h1.0M321.8 523.7h1.0M352.6 512.3h1.0M335.7 508.2h1.0M334.0 518.3h1.0M334.9 497.6h1.0M339.9 503.0h1.0M344.3 510.0h1.0M333.1 498.2h1.0M338.6 499.9h1.0M340.1 510.2h1.0M337.9 510.1h1.0M337.8 520.5h1.0M323.0 501.4h1.0M354.3 500.4h1.0M348.8 507.4h1.0M342.1 499.1h1.0M337.7 507.9h1.0M321.8 509.1h1.0M337.3 493.3h1.0M343.7 506.5h1.0M325.8 516.9h1.0M340.7 501.0h1.0M332.5 511.0h1.0M336.1 513.8h1.0M328.5 510.7h1.0M346.8 512.5h1.0M333.2 502.3h1.0M329.7 509.5h1.0M321.8 528.3h1.0M339.0 517.2h1.0M338.5 518.1h1.0M339.1 515.9h1.0M352.6 510.9h1.0M328.4 511.8h1.0M343.5 506.8h1.0M339.4 513.7h1.0M321.8 512.7h1.0M359.0 504.2h1.0M354.9 505.7h1.0M338.6 506.5h1.0M341.6 503.6h1.0M335.5 507.3h1.0M332.0 508.5h1.0M352.7 503.1h1.0M343.9 503.6h1.0M329.5 508.8h1.0M338.8 515.7h1.0M349.2 509.5h1.0M334.9 518.2h1.0M327.8 503.6h1.0M349.5 511.7h1.0M348.4 507.3h1.0M349.5 516.9h1.0M321.8 512.5h1.0M352.0 501.7h1.0M331.7 511.4h1.0M348.3 508.7h1.0M324.4 510.3h1.0M340.6 506.2h1.0M352.6 494.2h1.0M342.8 504.7h1.0M347.9 506.7h1.0M360.0 510.1h1.0M336.1 497.6h1.0M338.9 508.5h1.0M358.4 511.4h1.0M343.7 502.6h1.0M344.0 502.2h1.0M326.9 511.9h1.0M337.0 499.6h1.0M353.8 517.2h1.0M346.5 497.5h1.0M332.9 502.1h1.0M344.4 531.3h1.0M351.4 508.1h1.0M332.8 499.3h1.0M334.0 510.0h1.0M339.2 512.3h1.0M347.3 501.0h1.0M350.6 509.0h1.0M358.8 507.9h1.0M338.0 508.0h1.0M354.8 512.3h1.0M354.2 515.9h1.0M345.3 524.7h1.0M340.9 507.2h1.0M353.7 500.9h1.0M345.3 515.6h1.0M332.4 495.8h1.0M326.9 516.5h1.0M368.3 502.7h1.0M328.0 500.2h1.0M358.5 514.0h1.0M349.1 503.8h1.0M349.0 503.7h1.0M348.0 503.6h1.0M328.6 505.7h1.0M346.4 511.0h1.0M336.2 515.0h1.0M325.0 495.3h1.0M348.3 507.7h1.0M341.6 505.6h1.0M347.6 510.3h1.0M356.7 502.3h1.0M328.7 507.9h1.0M339.3 506.7h1.0M321.8 511.3h1.0M360.0 511.2h1.0M355.2 512.8h1.0M344.9 511.5h1.0M353.7 511.9h1.0M349.1 508.3h1.0M334.2 511.2h1.0M337.9 512.7h1.0M321.8 520.9h1.0M356.2 519.2h1.0M346.4 501.5h1.0M338.0 500.7h1.0M346.6 508.9h1.0M344.0 496.0h1.0M326.3 493.7h1.0M357.3 512.2h1.0M342.9 506.3h1.0M323.2 506.2h1.0M337.9 503.0h1.0M353.0 494.8h1.0M344.1 514.3h1.0M351.0 498.4h1.0M321.8 518.2h1.0M357.6 507.6h1.0M339.5 511.1h1.0M353.9 509.6h1.0M338.8 510.2h1.0M346.6 522.8h1.0M342.7 502.4h1.0M363.1 519.0h1.0M358.4 502.3h1.0M336.2 499.3h1.0M341.2 517.9h1.0M352.7 509.1h1.0M345.1 512.1h1.0M341.1 501.5h1.0M335.1 520.1h1.0M332.5 500.9h1.0M348.8 506.4h1.0M339.0 509.8h1.0M341.2 497.4h1.0M352.9 510.3h1.0M361.3 514.6h1.0M336.5 505.8h1.0M335.0 493.6h1.0M350.7 504.1h1.0M353.4 510.0h1.0M341.5 519.9h1.0M332.6 520.8h1.0M338.8 523.6h1.0M355.4 505.2h1.0M361.9 511.7h1.0M346.7 506.0h1.0M342.3 505.9h1.0M339.2 514.3h1.0M351.8 517.4h1.0M356.0 508.3h1.0M351.1 507.1h1.0M349.2 513.1h1.0M347.1 503.3h1.0M330.2 520.6h1.0M334.4 504.6h1.0M347.2 506.2h1.0M347.6 518.2h1.0M326.3 509.5h1.0M349.5 499.2h1.0M351.0 519.0h1.0M343.5 512.1h1.0M339.9 515.6h1.0M337.5 508.9h1.0M335.8 503.9h1.0M355.5 508.5h1.0M352.8 497.9h1.0M330.2 502.6h1.0M363.7 516.9h1.0M367.2 505.8h1.0M349.7 511.4h1.0M340.3 513.0h1.0M342.8 512.2h1.0M323.9 501.7h1.0M332.3 520.4h1.0M352.6 502.2h1.0M348.5 505.0h1.0M330.9 502.5h1.0M375.4 509.5h1.0M342.1 517.4h1.0M346.2 501.3h1.0M366.4 524.0h1.0M351.7 503.0h1.0M342.5 509.7h1.0M331.1 527.0h1.0M343.2 505.1h1.0M340.2 506.6h1.0M321.8 509.8h1.0M355.8 510.4h1.0M347.9 508.4h1.0M324.2 512.9h1.0M350.5 501.8h1.0M330.9 504.9h1.0M328.8 491.8h1.0M338.8 504.8h1.0M344.4 517.1h1.0M333.3 498.2h1.0M342.0 513.5h1.0M358.7 515.3h1.0M344.6 509.2h1.0M324.4 513.6h1.0M351.6 508.3h1.0M339.9 511.7h1.0M347.9 512.4h1.0M347.7 498.4h1.0M337.1 497.5h1.0M351.7 526.6h1.0M334.5 507.9h1.0M345.8 504.0h1.0M361.5 510.3h1.0M366.4 524.5h1.0M348.4 503.7h1.0M357.4 507.0h1.0M334.4 507.4h1.0M355.3 503.4h1.0M340.7 514.9h1.0M340.0 515.0h1.0M356.3 505.5h1.0M330.3 500.7h1.0M356.8 512.6h1.0M343.9 506.2h1.0M354.6 505.6h1.0M372.5 511.0h1.0M325.7 516.1h1.0M345.9 508.8h1.0M341.1 517.0h1.0M337.8 519.5h1.0M334.8 515.1h1.0M326.8 515.4h1.0M332.5 507.2h1.0M351.2 503.6h1.0M348.8 508.8h1.0M357.1 515.0h1.0M345.7 507.5h1.0M333.3 518.5h1.0M340.5 500.2h1.0M334.4 495.9h1.0M333.6 505.8h1.0M345.6 515.1h1.0M351.9 496.4h1.0M337.8 512.9h1.0M346.6 508.7h1.0M334.4 513.6h1.0M342.0 507.1h1.0M341.7 507.2h1.0M346.2 516.3h1.0M343.7 504.4h1.0M341.6 507.7h1.0M348.2 514.0h1.0M360.7 514.9h1.0M324.6 503.0h1.0M329.3 510.8h1.0M368.2 511.9h1.0M336.8 518.2h1.0M349.6 503.2h1.0M332.5 518.8h1.0M351.1 494.5h1.0M334.8 512.6h1.0M328.2 508.7h1.0M333.4 497.4h1.0M337.2 505.1h1.0M345.8 497.0h1.0M345.6 506.3h1.0M325.5 517.0h1.0M338.0 511.6h1.0M359.7 511.6h1.0M352.9 510.2h1.0M336.5 510.1h1.0M325.7 512.1h1.0M351.8 511.7h1.0M335.4 500.5h1.0M334.7 506.8h1.0M327.3 521.9h1.0M334.0 509.6h1.0M337.6 509.6h1.0M321.8 501.8h1.0M342.4 508.5h1.0M347.0 505.1h1.0M351.7 510.3h1.0M342.2 508.9h1.0M354.2 508.5h1.0M359.6 509.6h1.0M345.4 508.8h1.0M346.0 511.9h1.0M335.9 514.2h1.0M370.7 512.4h1.0M344.0 503.3h1.0M334.4 503.2h1.0M345.6 504.1h1.0M360.1 505.9h1.0M333.0 502.6h1.0M341.6 507.8h1.0M352.8 503.8h1.0M346.3 515.3h1.0M339.6 496.9h1.0M345.3 515.7h1.0M347.0 508.8h1.0M321.6 519.8h1.0M340.6 500.7h1.0M339.0 509.8h1.0M343.1 502.6h1.0M368.8 517.2h1.0M353.6 513.1h1.0M338.3 500.8h1.0M328.8 516.1h1.0M343.5 519.9h1.0M321.8 517.8h1.0M347.7 505.0h1.0M352.3 504.2h1.0M339.6 512.3h1.0M344.4 510.7h1.0M345.0 515.8h1.0M333.4 495.1h1.0M332.6 492.3h1.0M363.8 504.3h1.0M342.2 511.0h1.0M334.2 505.4h1.0M345.5 508.8h1.0M351.4 507.1h1.0M335.3 498.8h1.0M324.2 510.5h1.0M346.0 506.0h1.0M355.9 490.4h1.0M349.6 500.6h1.0M338.9 507.2h1.0M334.4 506.8h1.0M345.7 525.1h1.0M342.6 513.6h1.0M351.6 502.3h1.0M347.9 506.0h1.0M352.4 504.8h1.0M354.3 502.6h1.0M337.5 514.5h1.0M353.7 514.7h1.0M364.4 515.7h1.0M342.5 515.1h1.0M333.6 514.3h1.0M346.9 507.7h1.0M334.7 516.0h1.0M321.8 507.6h1.0M327.2 506.4h1.0M337.8 503.1h1.0M335.9 510.7h1.0M364.1 520.6h1.0M340.5 505.9h1.0M349.3 503.0h1.0M326.4 515.4h1.0M338.1 519.2h1.0M346.3 498.8h1.0M345.8 512.1h1.0M343.3 499.4h1.0M326.2 521.5h1.0M321.8 502.2h1.0M351.4 521.0h1.0M349.7 508.6h1.0M346.8 516.6h1.0M336.8 517.5h1.0M345.3 510.2h1.0M347.4 510.9h1.0M332.5 519.4h1.0M337.3 506.9h1.0M321.8 497.5h1.0M348.8 508.1h1.0M341.5 506.2h1.0M349.4 504.3h1.0M326.4 497.6h1.0M333.9 510.9h1.0M358.3 512.6h1.0M335.2 499.7h1.0M351.6 512.2h1.0M342.0 513.0h1.0M349.1 512.2h1.0M357.1 498.2h1.0M335.5 505.1h1.0M331.8 522.3h1.0M346.5 511.6h1.0M351.3 507.1h1.0M351.8 507.4h1.0M350.8 512.6h1.0M356.9 498.3h1.0M332.6 503.5h1.0M333.6 511.4h1.0M353.2 506.4h1.0M354.3 514.9h1.0M336.2 513.3h1.0M358.3 505.5h1.0M321.8 512.6h1.0M345.8 513.0h1.0M348.3 508.4h1.0M342.5 503.3h1.0M364.0 519.4h1.0M341.2 502.9h1.0M347.4 519.8h1.0M343.2 503.1h1.0M353.0 510.5h1.0M334.0 507.3h1.0M344.5 501.2h1.0M345.8 517.6h1.0M354.2 517.4h1.0M350.9 508.2h1.0M349.5 517.2h1.0M343.2 512.4h1.0M335.9 508.9h1.0M337.5 501.5h1.0M347.1 524.1h1.0M324.3 505.5h1.0M344.9 503.8h1.0M344.6 514.7h1.0M325.1 508.2h1.0M349.2 512.8h1.0M362.6 510.3h1.0M356.3 505.0h1.0M333.0 505.2h1.0M338.1 515.0h1.0M351.0 509.0h1.0M333.1 509.9h1.0M338.3 506.3h1.0M324.0 519.7h1.0M349.2 529.3h1.0M372.0 509.3h1.0M367.0 506.1h1.0M373.2 508.6h1.0M322.8 508.9h1.0M351.6 520.7h1.0M353.5 521.1h1.0M344.9 498.4h1.0M344.6 502.9h1.0M352.0 494.3h1.0M332.2 500.9h1.0M344.1 516.1h1.0M339.6 499.9h1.0M337.4 507.9h1.0M355.5 509.8h1.0M358.0 489.3h1.0M362.3 524.2h1.0M337.2 527.7h1.0M326.0 515.4h1.0M328.7 504.7h1.0M348.4 510.5h1.0M346.1 507.7h1.0M322.7 497.7h1.0M333.6 502.0h1.0M337.8 497.1h1.0M341.6 512.3h1.0M337.5 518.2h1.0M345.2 515.4h1.0M333.2 510.4h1.0M327.4 495.8h1.0M323.8 506.1h1.0M345.5 523.7h1.0M346.4 506.4h1.0M354.4 509.7h1.0M343.0 509.9h1.0M353.6 520.1h1.0M356.8 506.6h1.0M366.2 506.1h1.0M394.5 504.4h1.0M346.5 512.0h1.0M366.2 499.5h1.0M393.0 519.9h1.0M381.1 507.7h1.0M363.7 516.1h1.0M368.5 507.6h1.0M369.2 507.1h1.0M351.1 497.4h1.0M358.1 490.7h1.0M359.3 502.5h1.0M369.0 505.3h1.0M366.6 513.2h1.0M350.2 502.2h1.0M368.5 499.9h1.0M384.6 505.1h1.0M381.9 509.7h1.0M368.2 512.8h1.0M356.3 497.4h1.0M366.9 489.2h1.0M366.6 504.5h1.0M353.5 498.7h1.0M357.8 522.5h1.0M383.4 510.1h1.0M373.0 515.2h1.0M371.9 514.6h1.0M379.7 520.7h1.0M381.5 502.0h1.0M377.0 513.8h1.0M377.6 521.3h1.0M373.8 503.0h1.0M379.8 513.9h1.0M370.8 509.6h1.0M372.3 507.7h1.0M374.6 503.1h1.0M378.3 508.5h1.0M388.3 508.0h1.0M372.1 497.4h1.0M393.5 504.3h1.0M365.9 504.0h1.0M371.0 505.2h1.0M387.9 502.6h1.0M368.7 502.8h1.0M377.0 494.5h1.0M380.9 503.3h1.0M356.7 516.2h1.0M357.7 510.8h1.0M371.1 501.2h1.0M354.4 500.9h1.0M378.5 505.4h1.0M365.2 512.6h1.0M371.3 506.4h1.0M362.3 496.2h1.0M366.3 507.9h1.0M366.8 508.0h1.0M368.4 504.2h1.0M370.5 508.3h1.0M348.6 505.8h1.0M368.9 502.7h1.0M380.7 513.9h1.0M382.4 510.9h1.0M375.5 506.7h1.0M378.5 501.2h1.0M369.6 508.0h1.0M369.4 497.2h1.0M370.0 502.9h1.0M364.5 510.1h1.0M381.6 506.4h1.0M359.4 504.6h1.0M369.0 498.5h1.0M364.8 506.8h1.0M365.0 508.9h1.0M357.8 510.3h1.0M363.9 506.6h1.0M371.1 502.2h1.0M381.3 493.4h1.0M372.9 510.2h1.0M368.4 505.3h1.0M359.4 505.4h1.0M372.5 501.6h1.0M371.0 503.2h1.0M360.6 505.2h1.0M363.0 511.8h1.0M363.0 515.4h1.0M370.6 505.5h1.0M363.5 508.7h1.0M360.5 495.0h1.0M375.1 491.3h1.0M382.2 502.0h1.0M386.6 507.3h1.0M387.3 495.6h1.0M366.4 507.5h1.0M365.2 506.1h1.0M369.2 510.2h1.0M385.2 490.8h1.0M377.1 497.7h1.0M387.2 495.5h1.0M362.4 509.2h1.0M369.1 510.4h1.0M374.5 500.4h1.0M354.4 513.6h1.0M368.6 504.9h1.0M367.7 503.8h1.0M363.5 506.0h1.0M373.3 497.1h1.0M354.9 509.5h1.0M379.6 501.9h1.0M369.1 502.2h1.0M374.8 505.1h1.0M365.2 500.4h1.0M375.3 508.1h1.0M366.4 508.4h1.0M339.6 502.6h1.0M372.6 491.7h1.0M364.9 507.3h1.0M383.5 508.3h1.0M358.3 511.7h1.0M368.0 511.3h1.0M356.7 494.4h1.0M354.7 509.7h1.0M382.8 507.3h1.0M372.6 504.9h1.0M372.8 498.6h1.0M383.2 511.1h1.0M380.5 505.1h1.0M379.3 512.3h1.0M396.2 513.0h1.0M363.3 500.2h1.0M379.6 509.0h1.0M376.4 506.0h1.0M362.6 506.6h1.0M356.1 507.6h1.0M393.9 510.6h1.0M362.2 499.7h1.0M395.2 510.1h1.0M365.6 509.6h1.0M367.5 498.4h1.0M372.3 509.1h1.0M384.0 497.0h1.0M385.8 504.0h1.0M350.7 512.4h1.0M380.9 509.3h1.0M379.3 499.5h1.0M376.1 494.4h1.0M364.2 522.9h1.0M387.7 508.3h1.0M376.0 506.3h1.0M377.3 507.0h1.0M361.4 503.2h1.0M351.4 499.7h1.0M369.2 508.2h1.0M393.6 494.5h1.0M392.3 502.7h1.0M366.5 505.1h1.0M393.2 498.2h1.0M367.0 509.4h1.0M380.6 508.3h1.0M372.1 512.4h1.0M360.9 516.4h1.0M365.9 508.3h1.0M361.5 501.5h1.0M381.0 509.6h1.0M369.0 511.2h1.0M403.8 488.9h1.0M349.9 506.9h1.0M353.4 512.6h1.0M362.5 505.6h1.0M362.4 519.8h1.0M386.5 494.1h1.0M377.7 503.6h1.0M385.9 508.0h1.0M363.3 502.7h1.0M371.4 517.3h1.0M371.9 502.1h1.0M366.9 511.5h1.0M367.8 517.7h1.0M380.0 506.7h1.0M372.0 503.4h1.0M346.7 513.7h1.0M386.4 504.3h1.0M373.8 496.4h1.0M368.9 506.9h1.0M370.1 506.1h1.0M381.1 510.6h1.0M379.0 501.7h1.0M365.7 505.7h1.0M354.6 495.9h1.0M374.3 505.8h1.0M371.8 513.8h1.0M349.0 508.5h1.0M368.6 496.8h1.0M377.8 515.3h1.0M355.8 506.0h1.0M380.8 506.0h1.0M366.3 512.4h1.0M353.4 505.4h1.0M364.3 505.2h1.0M358.1 506.9h1.0M383.6 508.8h1.0M357.7 502.2h1.0M363.2 495.6h1.0M378.5 509.1h1.0M369.1 515.8h1.0M378.3 501.7h1.0M371.4 504.8h1.0M370.9 514.7h1.0M383.9 499.1h1.0M391.1 494.8h1.0M368.2 522.4h1.0M378.0 513.8h1.0M372.4 509.2h1.0M364.3 515.8h1.0M368.9 502.1h1.0M355.7 520.7h1.0M355.7 498.8h1.0M376.0 506.0h1.0M388.7 510.1h1.0M374.4 500.4h1.0M376.6 496.0h1.0M363.2 515.2h1.0M373.8 497.9h1.0M364.5 504.9h1.0M374.2 507.1h1.0M379.4 485.5h1.0M378.4 493.0h1.0M366.3 506.7h1.0M381.8 501.5h1.0M357.4 500.2h1.0M373.6 522.2h1.0M358.3 502.3h1.0M363.7 513.5h1.0M376.8 504.7h1.0M374.2 516.6h1.0M368.1 498.1h1.0M371.3 497.4h1.0M373.3 511.8h1.0M367.3 512.2h1.0M383.4 518.5h1.0M367.4 509.8h1.0M379.3 511.4h1.0M380.8 509.2h1.0M378.2 512.2h1.0M376.1 509.8h1.0M374.0 505.4h1.0M352.5 505.4h1.0M371.4 502.1h1.0M366.5 514.5h1.0M368.4 490.4h1.0M365.7 505.1h1.0M383.7 508.0h1.0M376.4 502.2h1.0M365.3 495.0h1.0M377.6 506.1h1.0M363.8 506.3h1.0M382.4 512.3h1.0M379.2 513.8h1.0M373.6 505.9h1.0M371.1 509.2h1.0M353.7 507.9h1.0M371.5 499.9h1.0M365.4 513.8h1.0M367.1 505.3h1.0M386.3 499.3h1.0M370.7 503.1h1.0M365.8 504.7h1.0M376.7 504.1h1.0M380.7 511.0h1.0M360.2 506.3h1.0M369.3 497.1h1.0M353.0 512.8h1.0M374.1 514.3h1.0M387.0 511.2h1.0M374.9 514.6h1.0M369.8 503.2h1.0M381.0 510.4h1.0M365.9 503.1h1.0M358.2 520.2h1.0M367.3 502.6h1.0M365.0 502.4h1.0M372.4 506.2h1.0M379.1 488.9h1.0M372.5 517.3h1.0M371.6 501.9h1.0M391.3 502.4h1.0M378.1 507.5h1.0M369.6 499.1h1.0M372.7 507.3h1.0M389.5 495.6h1.0M355.4 509.7h1.0M355.9 486.6h1.0M367.7 513.7h1.0M352.6 495.7h1.0M386.1 499.9h1.0M362.1 504.8h1.0M387.3 504.6h1.0M379.0 504.8h1.0M360.2 507.7h1.0M352.7 512.9h1.0M354.7 506.8h1.0M349.3 505.2h1.0M375.2 500.8h1.0M390.7 505.9h1.0M375.5 495.9h1.0M365.9 507.4h1.0M378.6 509.9h1.0M356.9 495.8h1.0M359.7 513.5h1.0M353.3 497.5h1.0M372.2 505.5h1.0M370.3 500.2h1.0M374.5 505.1h1.0M369.1 507.4h1.0M368.7 504.6h1.0M382.4 510.6h1.0M371.8 506.8h1.0M384.8 496.8h1.0M351.5 506.0h1.0M353.6 498.6h1.0M373.2 507.2h1.0M367.5 500.7h1.0M356.2 501.0h1.0M362.7 505.6h1.0M380.3 503.8h1.0M359.5 508.7h1.0M383.2 507.9h1.0M366.4 503.2h1.0M367.7 498.7h1.0M380.2 503.7h1.0M390.4 514.0h1.0M366.0 523.3h1.0M366.1 500.5h1.0M353.1 505.9h1.0M374.9 503.3h1.0M369.8 509.0h1.0M363.0 505.5h1.0M368.3 516.1h1.0M377.7 505.1h1.0M360.6 504.8h1.0M362.9 503.4h1.0M374.5 511.3h1.0M381.1 501.9h1.0M372.8 505.6h1.0M379.4 520.7h1.0M381.1 511.9h1.0M373.4 509.4h1.0M351.0 508.1h1.0M369.4 505.6h1.0M378.2 527.1h1.0M373.7 497.7h1.0M367.1 511.5h1.0M378.0 507.1h1.0M376.5 500.5h1.0M386.0 491.9h1.0M367.5 500.7h1.0M366.3 507.4h1.0M372.1 512.4h1.0M390.0 509.3h1.0M361.7 506.0h1.0M363.2 500.6h1.0M366.9 512.3h1.0M363.0 508.1h1.0M363.4 511.8h1.0M382.6 496.2h1.0M378.4 500.1h1.0M374.3 505.3h1.0M379.5 497.4h1.0M390.0 508.2h1.0M364.5 514.4h1.0M384.6 509.5h1.0M366.0 500.5h1.0M362.1 516.8h1.0M371.6 505.8h1.0M367.4 514.2h1.0M367.4 511.7h1.0M353.2 500.6h1.0M374.3 499.5h1.0M390.2 492.1h1.0M374.9 509.5h1.0M375.5 505.5h1.0M369.9 529.8h1.0M373.7 501.8h1.0M344.0 518.5h1.0M370.8 518.1h1.0M370.8 513.4h1.0M384.6 502.1h1.0M347.9 513.9h1.0M390.2 495.8h1.0M366.0 505.4h1.0M368.4 510.0h1.0M369.9 509.9h1.0M362.9 495.3h1.0M389.2 507.7h1.0M375.0 498.1h1.0M375.6 505.6h1.0M375.9 506.8h1.0M381.5 515.4h1.0M367.5 503.4h1.0M378.3 496.2h1.0M363.9 503.5h1.0M350.0 518.9h1.0M368.3 504.5h1.0M359.2 509.6h1.0M366.5 497.9h1.0M374.4 516.3h1.0M356.1 505.8h1.0M392.7 504.6h1.0M363.9 516.8h1.0M373.3 512.2h1.0M387.5 510.3h1.0M374.3 519.0h1.0M356.0 498.3h1.0M368.8 501.8h1.0M369.3 493.3h1.0M354.9 510.8h1.0M369.1 508.8h1.0M367.1 505.9h1.0M355.9 517.9h1.0M381.5 496.9h1.0M366.5 508.4h1.0M366.8 505.6h1.0M373.1 493.5h1.0M378.5 509.2h1.0M361.3 504.7h1.0M370.1 504.2h1.0M371.5 495.7h1.0M371.6 508.8h1.0M374.9 509.0h1.0M365.3 506.9h1.0M380.6 506.5h1.0M373.2 506.4h1.0M376.3 497.3h1.0M370.4 511.7h1.0M362.0 509.8h1.0M366.4 503.1h1.0M359.8 499.9h1.0M382.7 496.1h1.0M372.4 496.8h1.0M391.2 510.8h1.0M363.1 498.3h1.0M368.2 508.3h1.0M387.6 515.9h1.0M361.2 507.6h1.0M380.2 501.2h1.0M366.3 512.3h1.0M357.2 506.3h1.0M370.3 504.0h1.0M371.2 495.0h1.0M379.2 502.9h1.0M390.6 519.4h1.0M366.4 519.1h1.0M385.1 500.5h1.0M368.4 514.2h1.0M363.7 503.6h1.0M345.9 496.4h1.0M359.3 501.2h1.0M363.7 507.8h1.0M373.5 503.5h1.0M357.4 507.6h1.0M377.1 505.7h1.0M384.7 502.9h1.0M379.4 507.8h1.0M384.2 517.0h1.0M359.4 493.7h1.0M381.3 508.2h1.0M374.4 503.0h1.0M363.5 514.2h1.0M375.7 502.4h1.0M371.5 508.0h1.0M358.0 501.7h1.0M376.1 507.0h1.0M357.3 508.1h1.0M390.8 510.2h1.0M357.8 502.9h1.0M364.8 500.7h1.0M362.8 502.1h1.0M370.1 497.6h1.0M380.2 508.2h1.0M390.4 511.7h1.0M380.6 509.5h1.0M369.9 498.8h1.0M377.7 506.7h1.0M364.5 508.8h1.0M374.3 501.7h1.0M385.4 502.8h1.0M372.3 513.3h1.0M365.8 503.9h1.0M375.6 503.8h1.0M366.0 498.4h1.0M373.3 503.5h1.0M379.2 512.9h1.0M370.8 511.3h1.0M364.0 516.9h1.0M365.5 505.2h1.0M367.3 502.7h1.0M378.9 506.0h1.0M362.2 511.3h1.0M371.4 510.0h1.0M373.1 503.0h1.0M353.1 504.1h1.0M362.2 514.3h1.0M368.9 516.0h1.0M393.9 513.9h1.0M394.7 499.8h1.0M366.1 499.1h1.0M357.7 497.4h1.0M379.9 500.7h1.0M367.8 510.0h1.0M367.0 516.6h1.0M382.9 510.9h1.0M387.6 509.7h1.0M372.9 513.5h1.0M381.4 497.0h1.0M382.0 513.0h1.0M348.6 519.9h1.0M372.7 515.6h1.0M359.4 507.5h1.0M364.2 500.5h1.0M373.8 496.4h1.0M370.8 510.8h1.0M363.6 498.8h1.0M376.6 512.3h1.0M380.1 502.5h1.0M367.0 515.4h1.0M379.8 508.3h1.0M373.4 505.1h1.0M377.1 510.9h1.0M371.5 508.0h1.0M357.3 505.2h1.0M386.8 507.6h1.0M357.5 503.1h1.0M372.0 515.9h1.0M392.3 505.9h1.0M369.6 507.1h1.0M360.1 515.0h1.0M359.2 511.1h1.0M366.5 499.2h1.0M374.3 517.4h1.0M359.1 507.6h1.0M364.2 513.4h1.0M356.5 497.6h1.0M367.3 497.5h1.0M380.8 496.2h1.0M371.7 502.9h1.0M380.8 502.6h1.0M369.1 517.5h1.0M377.5 514.6h1.0M385.1 509.5h1.0M374.1 494.9h1.0M354.0 503.4h1.0M373.9 513.7h1.0M363.4 504.0h1.0M391.6 498.7h1.0M369.2 505.5h1.0M364.1 516.2h1.0M355.3 504.2h1.0M354.4 501.5h1.0M386.4 492.7h1.0M354.5 506.3h1.0M374.6 501.3h1.0M375.4 504.9h1.0M367.2 506.8h1.0M383.2 498.3h1.0M379.5 508.1h1.0M368.9 501.3h1.0M374.4 511.6h1.0M361.7 511.2h1.0M371.4 511.8h1.0M373.7 504.9h1.0M373.1 510.5h1.0M356.7 506.3h1.0M347.0 507.6h1.0M366.3 506.4h1.0M380.9 512.4h1.0M385.2 512.5h1.0M368.9 500.9h1.0M396.6 501.7h1.0M367.5 509.1h1.0M362.9 507.2h1.0M373.1 502.6h1.0M360.8 506.4h1.0M375.3 499.6h1.0M372.4 506.9h1.0M362.2 509.0h1.0M357.5 512.3h1.0M364.0 513.1h1.0M372.0 506.6h1.0M357.8 511.3h1.0M360.1 521.1h1.0M375.3 507.5h1.0M371.3 510.8h1.0M375.6 508.9h1.0M379.7 505.2h1.0M387.0 496.0h1.0M354.7 510.1h1.0M370.8 496.0h1.0M359.1 501.4h1.0M383.6 510.6h1.0M354.6 497.2h1.0M372.4 497.9h1.0M364.9 502.3h1.0M371.5 510.1h1.0M364.0 502.7h1.0M373.7 517.1h1.0M375.1 503.8h1.0M380.3 505.3h1.0M357.4 510.6h1.0M387.3 498.7h1.0M378.6 498.0h1.0M370.2 505.4h1.0M367.6 505.4h1.0M377.8 502.8h1.0M368.8 504.1h1.0M373.7 501.8h1.0M378.8 508.2h1.0M365.2 497.6h1.0M368.4 513.0h1.0M377.4 506.3h1.0M391.1 516.6h1.0M376.2 515.5h1.0M368.5 503.7h1.0M373.3 493.5h1.0M371.3 502.8h1.0M384.4 510.0h1.0M386.5 503.1h1.0M385.7 507.2h1.0M376.3 508.9h1.0M358.5 512.3h1.0M366.6 510.5h1.0M370.6 499.6h1.0M368.0 508.1h1.0M368.1 517.6h1.0M383.1 506.8h1.0M367.5 515.9h1.0M371.5 514.0h1.0M357.6 492.7h1.0M378.7 512.3h1.0M369.5 505.0h1.0M375.6 509.7h1.0M370.3 506.3h1.0M373.4 513.4h1.0M378.1 488.7h1.0M374.6 504.1h1.0M381.8 511.0h1.0M365.9 505.6h1.0M348.0 505.3h1.0M360.2 507.0h1.0M364.0 514.5h1.0M383.9 503.7h1.0M362.3 514.9h1.0M357.7 503.8h1.0M367.3 507.8h1.0M371.6 500.0h1.0M379.8 508.7h1.0M374.3 516.8h1.0M389.7 507.9h1.0M367.0 504.3h1.0M369.9 498.9h1.0M364.1 502.7h1.0M376.3 511.1h1.0M346.6 495.3h1.0M365.0 498.9h1.0M370.8 494.3h1.0M368.8 507.5h1.0M375.0 503.2h1.0M375.2 511.2h1.0M367.6 499.0h1.0M366.0 508.1h1.0M373.8 494.7h1.0M356.2 495.3h1.0M389.0 509.0h1.0M372.8 498.1h1.0M350.0 519.8h1.0M377.2 489.5h1.0M387.0 508.7h1.0M370.6 507.9h1.0M380.0 492.7h1.0M373.9 497.5h1.0M367.0 504.7h1.0M366.8 501.1h1.0M372.8 503.4h1.0M373.7 511.2h1.0M362.5 504.8h1.0M362.5 511.6h1.0M378.3 513.0h1.0M381.6 506.9h1.0M361.1 501.0h1.0M383.1 507.0h1.0M379.0 502.2h1.0M368.8 519.0h1.0M380.8 495.4h1.0M364.2 507.0h1.0M381.5 512.6h1.0M379.5 514.4h1.0M378.0 511.8h1.0M362.3 497.9h1.0M366.0 514.6h1.0M384.5 498.8h1.0M368.3 506.6h1.0M376.8 508.3h1.0M385.8 507.9h1.0M368.9 504.4h1.0M381.8 504.4h1.0M376.3 503.3h1.0M359.4 491.7h1.0M368.1 500.7h1.0M379.1 503.6h1.0M361.8 511.0h1.0M366.8 520.1h1.0M366.5 506.6h1.0M363.4 516.4h1.0M373.9 504.5h1.0M370.1 492.1h1.0M383.5 506.1h1.0M382.6 500.4h1.0M385.4 501.7h1.0M371.4 519.7h1.0M366.1 506.2h1.0M369.5 506.8h1.0M372.5 505.1h1.0M375.4 503.2h1.0M384.2 510.7h1.0M359.7 502.5h1.0M367.8 512.5h1.0M351.8 513.6h1.0M351.6 501.9h1.0M362.5 503.8h1.0M378.8 512.3h1.0M370.0 504.7h1.0M361.4 514.0h1.0M366.2 524.3h1.0M355.5 501.6h1.0M377.9 518.4h1.0M367.9 509.0h1.0M364.9 507.5h1.0M350.0 510.4h1.0M365.7 509.0h1.0M369.7 499.6h1.0M355.6 499.4h1.0M370.6 511.0h1.0M382.1 512.6h1.0M391.5 512.8h1.0M388.9 511.4h1.0M374.2 494.5h1.0M380.7 505.2h1.0M367.2 497.1h1.0M383.5 506.0h1.0M366.8 500.8h1.0M370.1 509.1h1.0M377.0 506.8h1.0M373.2 506.5h1.0M366.8 513.8h1.0M369.7 502.2h1.0M388.1 499.8h1.0M366.5 506.9h1.0M369.3 505.5h1.0M380.6 512.9h1.0M357.7 518.7h1.0M359.3 499.2h1.0M377.8 499.3h1.0M359.1 511.7h1.0M376.0 508.7h1.0M385.0 513.1h1.0M366.4 502.9h1.0M375.2 503.3h1.0M373.6 512.0h1.0M373.6 496.6h1.0M387.4 505.7h1.0M374.5 495.1h1.0M370.6 497.4h1.0M386.8 502.9h1.0M357.3 505.3h1.0M361.8 506.5h1.0M361.7 494.5h1.0M369.1 504.1h1.0M363.0 510.7h1.0M379.4 505.4h1.0M370.2 508.5h1.0M380.1 507.3h1.0M359.9 510.4h1.0M394.6 510.4h1.0M374.2 502.3h1.0M355.8 509.5h1.0M376.7 509.1h1.0M372.5 514.7h1.0M369.9 493.4h1.0M369.6 507.2h1.0M378.7 509.9h1.0M377.9 509.2h1.0M374.0 498.3h1.0M367.8 512.9h1.0M387.3 488.2h1.0M369.5 503.2h1.0M379.5 492.9h1.0M365.4 507.3h1.0M363.0 494.5h1.0M389.5 504.4h1.0M371.6 510.2h1.0M389.9 501.3h1.0M369.5 503.8h1.0M380.4 512.4h1.0M386.7 503.1h1.0M358.9 501.8h1.0M352.0 508.4h1.0M350.5 508.9h1.0M360.5 508.9h1.0M385.7 505.3h1.0M369.6 506.3h1.0M364.7 508.4h1.0M368.4 507.1h1.0M362.8 509.6h1.0M374.3 500.3h1.0M370.2 496.7h1.0M356.8 498.6h1.0M374.9 503.4h1.0M370.5 507.9h1.0M368.1 504.8h1.0M365.3 520.6h1.0M362.8 510.2h1.0M368.5 518.2h1.0M359.5 505.4h1.0M374.8 502.8h1.0M392.1 507.8h1.0M374.9 494.8h1.0M375.1 498.0h1.0M376.5 508.6h1.0M369.7 502.3h1.0M362.8 501.8h1.0M386.3 500.7h1.0M367.8 508.8h1.0M357.3 503.2h1.0M382.2 507.7h1.0M376.4 510.9h1.0M370.6 490.2h1.0M378.4 509.9h1.0M347.2 504.6h1.0M385.0 498.3h1.0M380.3 515.8h1.0M369.7 504.2h1.0M360.8 510.4h1.0M373.3 509.8h1.0M370.3 506.3h1.0M364.9 513.3h1.0M369.4 514.4h1.0M379.8 501.1h1.0M359.7 513.0h1.0M374.8 503.6h1.0M381.2 492.5h1.0M376.6 503.7h1.0M378.2 502.2h1.0M366.1 510.6h1.0M374.6 496.4h1.0M376.1 510.8h1.0M354.5 499.7h1.0M359.5 499.5h1.0M364.0 518.8h1.0M360.9 499.7h1.0M368.3 514.9h1.0M366.8 512.4h1.0M381.1 503.3h1.0M374.8 512.7h1.0M373.1 516.9h1.0M374.7 516.7h1.0M360.9 507.6h1.0M347.0 496.5h1.0M365.3 503.3h1.0M368.6 509.5h1.0M356.4 494.6h1.0M378.3 508.1h1.0M380.2 511.6h1.0M374.0 502.6h1.0M375.8 499.8h1.0M357.8 503.8h1.0M393.0 499.6h1.0M384.1 504.9h1.0M387.9 502.7h1.0M359.1 501.7h1.0M368.8 509.8h1.0M363.6 507.4h1.0M394.2 506.2h1.0M377.4 523.6h1.0M363.3 506.0h1.0M367.4 507.8h1.0M362.8 504.0h1.0M378.1 506.1h1.0M351.6 513.7h1.0M374.5 518.9h1.0M362.4 508.4h1.0M361.7 511.3h1.0M365.1 514.7h1.0M371.8 491.4h1.0M359.5 510.5h1.0M378.2 512.8h1.0M375.8 502.9h1.0M372.0 506.4h1.0M370.9 512.8h1.0M361.5 504.0h1.0M383.9 505.1h1.0M376.2 502.4h1.0M371.3 514.7h1.0M386.7 506.3h1.0M364.4 516.1h1.0M351.9 504.8h1.0M377.9 521.9h1.0M381.2 505.1h1.0M370.1 505.7h1.0M361.3 503.3h1.0M373.9 494.7h1.0M362.7 486.1h1.0M380.1 506.8h1.0M354.2 496.0h1.0M363.7 517.0h1.0M375.5 498.5h1.0M365.7 495.0h1.0M361.2 494.4h1.0M388.6 510.7h1.0M383.6 509.0h1.0M363.3 512.6h1.0M375.5 501.2h1.0M354.3 505.7h1.0M358.6 504.0h1.0M350.3 493.6h1.0M380.3 509.6h1.0M372.1 504.2h1.0M372.6 499.5h1.0M378.4 516.6h1.0M364.6 495.5h1.0M370.8 494.4h1.0M390.5 505.3h1.0M374.9 507.2h1.0M365.6 500.9h1.0M359.9 519.4h1.0M371.4 513.2h1.0M385.7 504.0h1.0M365.6 503.3h1.0M374.4 499.3h1.0M380.3 504.3h1.0M363.0 510.7h1.0M385.0 499.9h1.0M368.8 504.8h1.0M376.0 511.3h1.0M369.5 499.7h1.0M364.7 511.9h1.0M389.2 507.2h1.0M362.4 523.0h1.0M382.2 501.0h1.0M358.0 499.7h1.0M400.4 514.4h1.0M360.7 500.7h1.0M367.0 497.2h1.0M376.6 498.5h1.0M368.3 509.9h1.0M368.2 512.6h1.0M365.4 513.9h1.0M364.0 501.9h1.0M356.0 508.2h1.0M377.6 506.0h1.0M385.1 510.3h1.0M374.2 494.7h1.0M368.9 508.3h1.0M358.7 515.9h1.0M374.0 516.1h1.0M358.2 518.1h1.0M384.5 506.9h1.0M367.2 517.0h1.0M360.8 504.4h1.0M382.0 505.3h1.0M362.5 498.0h1.0M365.7 514.5h1.0M398.3 499.2h1.0M358.4 510.2h1.0M368.9 503.0h1.0M369.2 515.0h1.0M378.5 500.7h1.0M375.8 497.5h1.0M382.0 492.0h1.0M366.3 512.1h1.0M388.0 509.4h1.0M350.8 504.5h1.0M380.1 510.3h1.0M374.6 502.0h1.0M351.2 502.6h1.0M372.3 501.3h1.0M362.0 508.5h1.0M367.3 507.1h1.0M381.5 501.0h1.0M380.7 498.1h1.0M379.6 508.7h1.0M375.7 510.9h1.0M372.9 494.0h1.0M387.7 507.4h1.0M372.8 506.3h1.0M374.7 504.3h1.0M357.1 497.8h1.0M388.7 510.1h1.0M359.8 517.0h1.0M373.6 498.2h1.0M362.8 501.4h1.0M382.3 511.1h1.0M384.4 476.4h1.0M380.3 477.9h1.0M377.3 481.1h1.0M385.9 481.3h1.0M401.0 478.7h1.0M394.7 464.8h1.0M378.3 478.5h1.0M378.8 481.9h1.0M383.8 476.7h1.0M367.5 480.3h1.0M382.1 482.8h1.0M391.4 477.2h1.0M394.7 476.3h1.0M379.3 477.2h1.0M384.6 481.9h1.0M380.5 473.0h1.0M399.1 481.1h1.0M383.4 478.0h1.0M372.0 484.3h1.0M381.8 468.5h1.0M385.6 479.5h1.0M392.8 478.4h1.0M389.0 476.7h1.0M386.1 476.5h1.0M409.5 477.7h1.0M388.1 468.9h1.0M386.5 479.8h1.0M393.3 471.0h1.0M386.2 484.0h1.0M385.0 476.6h1.0M392.3 477.1h1.0M381.9 474.8h1.0M371.0 478.2h1.0M392.0 480.0h1.0M379.9 479.2h1.0M377.2 470.7h1.0M392.6 472.2h1.0M374.1 476.1h1.0M383.8 483.9h1.0M396.2 486.1h1.0M388.5 470.6h1.0M375.1 478.6h1.0M374.3 479.3h1.0M396.4 479.9h1.0M371.4 482.1h1.0M402.6 481.7h1.0M408.4 474.1h1.0M385.6 481.0h1.0M396.0 483.7h1.0M385.4 474.6h1.0M385.0 474.5h1.0M387.7 476.0h1.0M393.9 474.5h1.0M395.3 474.2h1.0M398.0 482.5h1.0M386.6 476.5h1.0M390.0 479.3h1.0M377.5 480.4h1.0M369.9 472.6h1.0M375.9 478.3h1.0M379.2 467.6h1.0M396.7 475.0h1.0M383.8 478.8h1.0M390.1 479.9h1.0M375.1 478.8h1.0M395.7 480.6h1.0M400.3 471.4h1.0M397.9 471.4h1.0M376.6 478.3h1.0M408.3 482.5h1.0M385.6 477.8h1.0M396.9 472.3h1.0M383.6 475.0h1.0M397.8 479.8h1.0M389.8 482.6h1.0M384.6 473.6h1.0M395.2 469.8h1.0M389.4 477.4h1.0M372.2 478.3h1.0M379.0 483.2h1.0M393.9 481.2h1.0M395.9 477.4h1.0M397.1 480.0h1.0M392.1 481.9h1.0M405.0 470.4h1.0M382.7 471.3h1.0M375.5 480.4h1.0M378.0 476.6h1.0M381.8 481.5h1.0M401.6 478.0h1.0M380.6 475.1h1.0M385.2 470.7h1.0M375.8 478.3h1.0M389.2 478.2h1.0M390.0 474.4h1.0M385.9 473.3h1.0M389.1 469.1h1.0M391.7 478.5h1.0M383.2 478.1h1.0M396.3 477.7h1.0M404.5 482.5h1.0M388.0 476.6h1.0M376.2 473.0h1.0M388.8 478.0h1.0M390.2 484.5h1.0M390.8 479.1h1.0M384.9 472.9h1.0M382.8 477.1h1.0M393.5 480.3h1.0M377.8 477.0h1.0M393.9 471.5h1.0M384.8 471.4h1.0M380.7 482.3h1.0M390.4 486.5h1.0M377.7 481.3h1.0M385.5 470.8h1.0M388.8 478.4h1.0M384.6 482.5h1.0M384.2 480.6h1.0M387.0 475.3h1.0M390.5 481.9h1.0M400.1 482.5h1.0M371.7 471.9h1.0M384.7 482.4h1.0M369.9 478.1h1.0M376.3 480.8h1.0M396.4 476.4h1.0M399.4 480.6h1.0M385.7 483.5h1.0M406.3 477.2h1.0M389.4 478.9h1.0M394.5 475.8h1.0M385.1 482.5h1.0M386.0 483.0h1.0M389.6 484.7h1.0M400.5 472.7h1.0M393.4 476.5h1.0M381.7 481.2h1.0M396.7 479.7h1.0M397.1 484.3h1.0M390.4 480.1h1.0M391.6 483.8h1.0M379.3 477.3h1.0M376.3 475.2h1.0M390.4 476.1h1.0M380.4 476.6h1.0M397.4 486.2h1.0M388.4 474.5h1.0M389.0 475.0h1.0M390.2 480.4h1.0M404.7 474.4h1.0M386.0 474.1h1.0M397.0 473.6h1.0M399.0 485.1h1.0M371.8 482.1h1.0M407.9 478.0h1.0M386.7 486.0h1.0M385.3 477.2h1.0M379.1 480.3h1.0M399.2 474.3h1.0M394.8 479.7h1.0M401.5 477.2h1.0M380.4 478.6h1.0M391.5 476.5h1.0M378.8 480.3h1.0M372.9 472.8h1.0M386.2 471.9h1.0M391.8 470.9h1.0M385.6 479.4h1.0M399.5 474.1h1.0M389.8 482.6h1.0M380.0 479.2h1.0M397.5 482.3h1.0M386.7 479.1h1.0M380.9 479.9h1.0M391.2 475.4h1.0M408.9 480.3h1.0M379.8 477.8h1.0M391.7 473.3h1.0M379.1 480.7h1.0M386.7 477.4h1.0M396.7 476.5h1.0M373.9 473.0h1.0M385.9 476.8h1.0M383.8 473.9h1.0M371.4 476.6h1.0M391.1 478.8h1.0M392.9 490.0h1.0M376.7 475.1h1.0M388.8 467.5h1.0M393.6 477.2h1.0M416.0 477.2h1.0M386.3 477.6h1.0M385.2 474.8h1.0M397.2 479.0h1.0M390.2 476.5h1.0M370.1 475.6h1.0M366.9 475.0h1.0M390.5 476.5h1.0M388.0 484.2h1.0M392.3 481.8h1.0M384.3 476.2h1.0M374.6 483.8h1.0M397.5 477.3h1.0M391.4 478.6h1.0M399.6 479.7h1.0M386.4 473.2h1.0M365.0 467.8h1.0M385.0 482.6h1.0M380.8 476.6h1.0M392.8 484.3h1.0M365.9 477.0h1.0M382.7 481.0h1.0M383.6 470.3h1.0M365.8 470.6h1.0M383.4 473.1h1.0M374.7 485.9h1.0M373.5 476.3h1.0M398.1 477.6h1.0M368.7 477.6h1.0M386.9 483.2h1.0M379.7 471.1h1.0M383.5 472.9h1.0M388.9 480.3h1.0M386.4 477.3h1.0M376.0 471.7h1.0M389.8 483.4h1.0M394.4 487.7h1.0M378.0 468.6h1.0M386.6 478.6h1.0M379.4 469.6h1.0M399.4 469.6h1.0M391.7 481.1h1.0M399.1 477.3h1.0M395.6 476.5h1.0M393.8 483.1h1.0M386.8 470.2h1.0M391.0 464.9h1.0M399.8 474.9h1.0M382.0 481.7h1.0M395.1 479.6h1.0M381.8 480.6h1.0M388.3 476.0h1.0M379.8 479.5h1.0M380.1 483.0h1.0M370.6 473.3h1.0M388.7 470.3h1.0M404.0 471.6h1.0M381.4 475.8h1.0M388.6 483.4h1.0M383.1 475.4h1.0M398.8 477.5h1.0M394.1 477.7h1.0M382.3 474.9h1.0M378.0 474.2h1.0M388.6 477.3h1.0M394.2 478.0h1.0M390.8 473.8h1.0M372.1 481.8h1.0M403.4 476.3h1.0M395.0 473.8h1.0M378.7 479.1h1.0M394.9 479.9h1.0M397.2 477.9h1.0M385.7 477.9h1.0M378.9 476.0h1.0M371.8 472.6h1.0M394.1 475.2h1.0M366.2 472.7h1.0M394.2 477.2h1.0M386.2 480.0h1.0M397.6 476.2h1.0M389.2 485.9h1.0M392.5 475.2h1.0M379.4 475.6h1.0M397.6 468.8h1.0M392.8 475.7h1.0M392.8 478.3h1.0M372.5 475.4h1.0M368.8 476.9h1.0M380.0 481.3h1.0M370.3 478.7h1.0M378.1 475.4h1.0M371.4 485.3h1.0M384.9 477.8h1.0M408.0 470.2h1.0M386.1 473.6h1.0M384.5 475.7h1.0M391.7 480.6h1.0M387.6 482.5h1.0M384.0 472.1h1.0M371.4 481.1h1.0M383.8 479.5h1.0M393.6 473.7h1.0M398.9 480.6h1.0M402.1 480.5h1.0M376.5 479.9h1.0M388.2 471.5h1.0M395.0 476.4h1.0M390.8 484.4h1.0M399.0 475.8h1.0M393.7 481.8h1.0M388.5 482.1h1.0M392.3 475.6h1.0M399.9 476.5h1.0M382.6 475.9h1.0M370.6 482.0h1.0M375.9 469.8h1.0M390.1 468.3h1.0M384.4 480.6h1.0M390.2 479.1h1.0M384.4 473.5h1.0M389.6 480.8h1.0M386.5 481.6h1.0M364.9 473.6h1.0M362.9 475.7h1.0M388.5 472.1h1.0M382.0 477.1h1.0M379.5 476.5h1.0M395.8 477.5h1.0M396.6 479.4h1.0M382.3 477.8h1.0M395.5 475.1h1.0M381.0 482.7h1.0M394.7 480.2h1.0M382.2 476.7h1.0M390.6 479.2h1.0M395.0 472.9h1.0M395.2 473.3h1.0M378.2 475.5h1.0M382.1 481.9h1.0M398.1 486.4h1.0M380.7 478.2h1.0M399.1 470.2h1.0M394.4 485.5h1.0M396.0 474.4h1.0M386.2 478.1h1.0M380.8 473.1h1.0M397.6 473.8h1.0M396.8 473.0h1.0M379.8 467.9h1.0M364.1 485.4h1.0M381.1 475.9h1.0M394.8 471.4h1.0M387.0 482.3h1.0M394.4 483.7h1.0M385.8 471.1h1.0M387.2 479.7h1.0M377.6 476.2h1.0M386.8 486.8h1.0M381.0 474.2h1.0M385.3 474.8h1.0M387.5 475.3h1.0M375.7 474.5h1.0M369.4 484.6h1.0M399.7 477.0h1.0M389.0 480.4h1.0M390.0 473.7h1.0M379.0 480.9h1.0M384.6 479.3h1.0M383.4 481.2h1.0M385.7 478.5h1.0M392.3 469.0h1.0M395.4 483.1h1.0M382.7 470.6h1.0M390.6 473.8h1.0M378.0 484.1h1.0M386.0 472.9h1.0M375.2 479.1h1.0M390.1 479.2h1.0M376.6 474.6h1.0M386.9 475.8h1.0M387.7 476.1h1.0M386.6 478.3h1.0M393.0 483.0h1.0M386.6 468.9h1.0M400.1 471.1h1.0M389.3 482.6h1.0M392.8 483.1h1.0M387.2 486.9h1.0M391.9 470.5h1.0M393.7 476.1h1.0M396.9 474.5h1.0M394.8 472.0h1.0M384.5 477.1h1.0M397.5 474.1h1.0M390.0 482.2h1.0M370.6 484.1h1.0M386.2 478.4h1.0M404.8 477.3h1.0M393.7 482.8h1.0M400.5 482.7h1.0M381.5 479.1h1.0M373.9 472.3h1.0M384.3 476.2h1.0M381.9 474.3h1.0M402.6 471.9h1.0M391.9 472.1h1.0M390.0 473.9h1.0M371.5 468.9h1.0M397.7 482.8h1.0M384.5 476.8h1.0M390.2 470.9h1.0M392.9 490.2h1.0M382.9 470.5h1.0M381.8 477.5h1.0M384.2 484.9h1.0M392.8 475.0h1.0M389.2 475.6h1.0M379.9 484.0h1.0M385.4 475.0h1.0M400.0 476.3h1.0M396.2 466.2h1.0M393.4 472.7h1.0M383.5 481.3h1.0M403.1 467.7h1.0M399.2 476.2h1.0M382.7 481.9h1.0M385.9 475.1h1.0M385.0 476.5h1.0M382.4 482.1h1.0M402.2 473.6h1.0M381.0 476.9h1.0M380.0 477.9h1.0M388.4 477.5h1.0M380.3 478.8h1.0M375.4 475.8h1.0M385.6 477.7h1.0M394.6 476.7h1.0M377.9 479.3h1.0M385.7 480.8h1.0M402.0 484.0h1.0M386.8 473.3h1.0M389.1 476.7h1.0M380.2 471.0h1.0M397.5 473.3h1.0M396.4 482.0h1.0M378.5 479.2h1.0M386.3 471.3h1.0M381.3 478.1h1.0M395.7 474.4h1.0M385.1 481.9h1.0M383.3 474.6h1.0M373.1 479.3h1.0M380.5 473.3h1.0M382.8 474.3h1.0M413.4 475.1h1.0M393.9 472.0h1.0M394.8 479.0h1.0M383.5 487.0h1.0M378.3 472.8h1.0M360.8 467.5h1.0M380.5 477.2h1.0M394.0 477.1h1.0M379.9 473.3h1.0M401.8 475.5h1.0M402.8 477.0h1.0M383.6 475.9h1.0M391.5 480.9h1.0M383.6 479.6h1.0M375.2 470.5h1.0M372.4 475.4h1.0M380.9 480.5h1.0M383.7 475.6h1.0M384.2 471.2h1.0M375.6 485.7h1.0M392.2 471.3h1.0M375.8 479.0h1.0M367.0 467.6h1.0M382.6 475.0h1.0M394.0 472.9h1.0M375.3 479.3h1.0M378.1 478.1h1.0M369.7 475.8h1.0M403.4 471.3h1.0M386.3 476.9h1.0M388.1 476.8h1.0M393.6 474.6h1.0M378.4 478.3h1.0M389.0 469.7h1.0M393.6 475.8h1.0M395.7 477.5h1.0M375.6 475.8h1.0M393.1 481.9h1.0M385.3 480.2h1.0M398.9 478.7h1.0M400.0 480.2h1.0M378.3 472.1h1.0M379.4 484.8h1.0M397.6 473.6h1.0M386.7 486.3h1.0M379.5 477.5h1.0M383.7 481.1h1.0M369.8 478.9h1.0M388.6 482.4h1.0M390.8 479.1h1.0M378.3 478.7h1.0M382.3 485.2h1.0M389.9 477.6h1.0M388.4 477.8h1.0M383.4 480.3h1.0M386.8 473.7h1.0M395.0 480.7h1.0M397.2 475.8h1.0M395.5 484.0h1.0M392.9 479.2h1.0M386.6 470.8h1.0M377.8 477.2h1.0M396.5 479.8h1.0M382.2 478.4h1.0M386.0 474.4h1.0M386.7 481.2h1.0M376.7 475.8h1.0M386.7 473.2h1.0M378.6 479.4h1.0M406.4 477.9h1.0M382.4 484.3h1.0M388.4 469.5h1.0M382.1 469.3h1.0M384.1 483.8h1.0M405.4 491.6h1.0M396.0 476.1h1.0M381.2 475.9h1.0M377.3 473.6h1.0M390.2 478.1h1.0M388.8 476.9h1.0M373.7 479.9h1.0M387.2 481.0h1.0M388.5 473.3h1.0M395.6 480.9h1.0M384.7 480.6h1.0M391.1 475.5h1.0M389.1 474.3h1.0M399.2 475.7h1.0M395.7 485.2h1.0M387.6 480.4h1.0M400.3 469.6h1.0M406.3 480.2h1.0M376.2 478.3h1.0M406.5 478.0h1.0M399.5 482.1h1.0M381.3 479.2h1.0M402.8 474.3h1.0M388.0 475.3h1.0M382.3 476.8h1.0M367.9 474.9h1.0M371.7 473.5h1.0M381.9 482.0h1.0M377.2 481.3h1.0M383.4 474.3h1.0M371.9 478.3h1.0M386.3 481.0h1.0M381.5 468.8h1.0M392.1 483.3h1.0M387.4 478.2h1.0M391.6 478.7h1.0M410.3 477.2h1.0M391.7 481.5h1.0M391.9 470.4h1.0M390.7 476.2h1.0M378.2 481.6h1.0M381.2 479.4h1.0M380.8 480.2h1.0M399.1 474.0h1.0M380.0 481.6h1.0M379.0 482.1h1.0M390.6 473.8h1.0M382.1 483.3h1.0M394.7 478.3h1.0M389.1 482.3h1.0M381.6 479.1h1.0M391.2 483.3h1.0M383.8 476.9h1.0M389.5 476.7h1.0M384.9 480.0h1.0M382.7 476.5h1.0M389.5 478.2h1.0M383.8 477.3h1.0M376.3 474.5h1.0M380.7 473.0h1.0M400.7 486.6h1.0M385.0 477.3h1.0M385.9 476.2h1.0M382.1 481.5h1.0M391.9 472.2h1.0M389.0 474.2h1.0M392.8 474.4h1.0M389.8 474.6h1.0M385.4 479.2h1.0M393.3 471.8h1.0M382.2 474.2h1.0M371.9 478.7h1.0M385.1 476.4h1.0M379.8 485.2h1.0M379.2 466.6h1.0M383.9 478.9h1.0M377.4 477.1h1.0M366.4 476.6h1.0M387.6 473.7h1.0M377.2 473.2h1.0M382.3 482.1h1.0M388.0 475.0h1.0M382.6 481.0h1.0M381.0 473.9h1.0M393.9 477.6h1.0M398.8 476.6h1.0M384.3 479.4h1.0M388.8 477.8h1.0M378.6 474.8h1.0M380.2 475.5h1.0M398.5 473.8h1.0M391.2 479.5h1.0M373.1 481.9h1.0M389.1 479.2h1.0M388.8 481.8h1.0M390.5 474.9h1.0M381.4 474.0h1.0M380.0 474.0h1.0M389.1 481.7h1.0M385.2 482.0h1.0M397.1 480.5h1.0M372.3 466.7h1.0M396.7 479.7h1.0M374.4 474.5h1.0M389.0 477.5h1.0M375.5 477.4h1.0M373.8 476.5h1.0M392.5 478.7h1.0M381.8 480.3h1.0M404.3 476.4h1.0M388.2 471.5h1.0M394.1 470.8h1.0M385.0 481.4h1.0M392.3 463.8h1.0M379.8 467.4h1.0M384.4 471.4h1.0M407.1 482.6h1.0M378.1 476.3h1.0M387.5 481.7h1.0M399.5 480.4h1.0M375.6 464.2h1.0M373.2 472.7h1.0M393.9 471.9h1.0M398.5 480.9h1.0M387.7 481.1h1.0M380.6 482.0h1.0M387.9 475.1h1.0M379.9 468.8h1.0M384.0 479.8h1.0M383.3 475.6h1.0M376.0 502.9h1.0M333.1 492.3h1.0M351.6 484.0h1.0M340.5 482.4h1.0M356.3 486.9h1.0M344.0 480.6h1.0M361.1 494.0h1.0M346.0 487.5h1.0M362.3 486.5h1.0M339.1 484.3h1.0M353.2 476.8h1.0M352.8 484.0h1.0M342.2 494.9h1.0M356.3 478.5h1.0M368.7 482.2h1.0M338.0 476.2h1.0M367.0 476.3h1.0M356.7 487.1h1.0M344.1 489.0h1.0M366.6 483.6h1.0M352.1 488.5h1.0M353.1 492.7h1.0M362.7 484.7h1.0M355.2 481.5h1.0M361.4 479.3h1.0M351.6 475.8h1.0M385.5 486.0h1.0M352.8 487.2h1.0M328.7 493.6h1.0M329.1 488.2h1.0M346.6 489.0h1.0M361.1 485.8h1.0M366.2 482.0h1.0M355.5 482.0h1.0M342.5 476.9h1.0M357.3 495.4h1.0M340.3 480.8h1.0M342.4 486.7h1.0M324.1 485.2h1.0M341.8 477.5h1.0M355.5 485.4h1.0M356.2 492.1h1.0M332.4 491.4h1.0M359.6 500.1h1.0M371.5 487.5h1.0M324.9 485.8h1.0M373.6 489.5h1.0M351.1 475.9h1.0M352.8 474.4h1.0M341.0 481.4h1.0M357.9 479.9h1.0M351.2 483.9h1.0M355.9 488.1h1.0M358.8 482.2h1.0M354.4 479.9h1.0M335.1 480.2h1.0M351.9 470.7h1.0M363.0 486.4h1.0M330.0 477.2h1.0M339.6 468.9h1.0M327.6 486.8h1.0M324.0 498.6h1.0M371.8 494.4h1.0M359.1 491.8h1.0M370.7 477.6h1.0M374.3 478.8h1.0M347.1 466.6h1.0M347.4 472.7h1.0M384.0 486.5h1.0M364.7 480.8h1.0M365.3 487.7h1.0M346.7 487.7h1.0M346.2 475.5h1.0M323.5 473.2h1.0M360.4 497.1h1.0M345.4 480.0h1.0M370.6 483.0h1.0M356.9 484.2h1.0M321.8 475.0h1.0M356.5 484.7h1.0M348.1 475.1h1.0M354.0 482.1h1.0M337.9 482.5h1.0M355.6 498.4h1.0M367.7 477.9h1.0M363.3 473.5h1.0M321.8 478.7h1.0M379.4 489.0h1.0M342.1 486.7h1.0M322.4 482.7h1.0M338.1 475.6h1.0M346.4 478.6h1.0M356.6 475.5h1.0M357.5 487.0h1.0M363.6 488.3h1.0M362.0 491.1h1.0M370.1 491.2h1.0M368.9 475.2h1.0M348.4 493.9h1.0M343.5 489.0h1.0M367.3 493.1h1.0M343.4 485.7h1.0M350.2 488.4h1.0M324.7 483.5h1.0M368.9 483.9h1.0M366.6 493.6h1.0M354.2 481.2h1.0M344.1 475.9h1.0M345.9 482.8h1.0M365.9 479.4h1.0M342.2 483.6h1.0M348.9 492.6h1.0M352.4 493.6h1.0M353.3 466.4h1.0M349.5 476.5h1.0M352.3 477.8h1.0M365.1 482.1h1.0M347.0 498.1h1.0M347.5 480.9h1.0M347.2 489.0h1.0M355.7 484.3h1.0M368.9 480.0h1.0M362.7 489.6h1.0M356.6 480.7h1.0M350.1 491.6h1.0M321.8 494.2h1.0M338.8 490.4h1.0M359.7 486.9h1.0M359.7 480.8h1.0M375.4 484.4h1.0M364.0 482.7h1.0M347.5 491.4h1.0M338.3 483.8h1.0M340.3 473.2h1.0M366.3 484.2h1.0M325.8 483.6h1.0M385.7 491.2h1.0M349.0 486.5h1.0M348.2 485.6h1.0M350.4 485.3h1.0M345.6 489.8h1.0M335.2 472.4h1.0M328.1 479.5h1.0M353.8 487.9h1.0M363.4 473.7h1.0M329.8 488.3h1.0M377.6 488.3h1.0M350.3 491.0h1.0M375.8 490.8h1.0M355.2 482.0h1.0M344.3 481.1h1.0M335.0 486.4h1.0M366.9 482.1h1.0M363.3 488.6h1.0M350.4 483.7h1.0M373.5 479.0h1.0M342.3 481.3h1.0M341.4 487.9h1.0M360.8 482.2h1.0M361.4 472.0h1.0M353.7 500.1h1.0M366.1 477.1h1.0M364.8 479.7h1.0M360.9 488.7h1.0M331.9 496.5h1.0M332.5 481.1h1.0M362.1 488.2h1.0M355.4 481.9h1.0M363.7 486.6h1.0M347.6 491.7h1.0M374.7 480.1h1.0M346.6 477.0h1.0M335.1 485.3h1.0M366.1 474.4h1.0M349.0 486.3h1.0M344.0 490.0h1.0M360.9 483.7h1.0M369.1 486.5h1.0M368.1 488.3h1.0M348.7 494.4h1.0M342.7 486.7h1.0M347.7 478.6h1.0M333.9 492.0h1.0M371.7 491.6h1.0M324.4 488.6h1.0M354.0 488.3h1.0M356.2 488.2h1.0M359.1 491.5h1.0M354.6 480.6h1.0M321.8 486.2h1.0M363.0 524.5h1.0M378.0 488.2h1.0M346.7 522.5h1.0M351.8 521.6h1.0M364.2 489.7h1.0M340.4 493.1h1.0M356.6 520.5h1.0M360.5 488.4h1.0M382.5 488.3h1.0M387.6 514.0h1.0M353.0 502.0h1.0M344.5 503.6h1.0M360.9 527.4h1.0M341.9 521.1h1.0M386.9 513.4h1.0M387.7 513.0h1.0M386.0 492.6h1.0M353.8 517.6h1.0M389.8 496.2h1.0M368.3 507.2h1.0M343.7 508.0h1.0M361.1 491.6h1.0M374.2 511.1h1.0M371.7 497.4h1.0M326.8 509.6h1.0M394.5 511.4h1.0M341.1 514.7h1.0M327.3 492.7h1.0M332.0 495.3h1.0M389.7 511.4h1.0M372.4 503.9h1.0M330.6 513.6h1.0M347.4 496.1h1.0M329.5 523.9h1.0M376.8 502.8h1.0M340.1 527.2h1.0M392.4 509.9h1.0M353.5 521.0h1.0M364.9 501.8h1.0M393.0 524.9h1.0M343.4 527.1h1.0M384.5 527.5h1.0M391.9 500.3h1.0M381.0 495.5h1.0M337.5 498.2h1.0M346.1 501.1h1.0M384.1 513.4h1.0M326.1 520.9h1.0M336.5 519.3h1.0M342.5 526.3h1.0M369.8 512.7h1.0M344.4 522.0h1.0M330.4 521.1h1.0M364.2 504.3h1.0M353.2 489.0h1.0M359.4 507.0h1.0M351.0 496.0h1.0M365.8 506.1h1.0M340.1 497.1h1.0M337.1 489.0h1.0M375.1 495.3h1.0M372.6 503.1h1.0M332.2 496.7h1.0M375.6 501.0h1.0M364.3 491.4h1.0M391.5 506.3h1.0M381.2 496.8h1.0M390.8 497.3h1.0M373.0 523.9h1.0M369.2 492.4h1.0M385.8 519.3h1.0M372.6 512.8h1.0M328.8 500.0h1.0M348.3 497.3h1.0M381.2 493.1h1.0M343.3 495.0h1.0M337.1 523.0h1.0M327.7 489.8h1.0M378.9 500.0h1.0M345.4 494.6h1.0M367.4 492.5h1.0M355.0 513.5h1.0M325.1 505.6h1.0M334.4 489.5h1.0M380.6 489.0h1.0M337.9 526.2h1.0M328.3 505.5h1.0M374.4 510.7h1.0M392.9 505.1h1.0M386.9 498.4h1.0M321.8 531.3h1.0M321.8 518.2h1.0M322.7 495.3h1.0M322.1 510.9h1.0M321.8 529.8h1.0M321.7 517.4h1.0M322.0 531.2h1.0M321.8 508.1h1.0M322.2 519.4h1.0M322.0 523.6h1.0M322.7 516.3h1.0M321.8 502.4h1.0M321.8 507.2h1.0M322.5 528.5h1.0M322.1 521.0h1.0M321.8 509.1h1.0M322.4 495.3h1.0M321.9 503.2h1.0M322.2 518.0h1.0M322.1 526.0h1.0M322.1 524.9h1.0M322.1 491.4h1.0M322.0 503.1h1.0M321.8 487.8h1.0M321.9 508.6h1.0M321.8 509.7h1.0M322.5 512.8h1.0M322.4 503.0h1.0M323.0 502.8h1.0M321.8 514.1h1.0M322.4 525.3h1.0M322.5 521.8h1.0M321.8 514.0h1.0M321.6 490.2h1.0M322.9 500.1h1.0M322.4 520.6h1.0M321.8 502.0h1.0M322.8 512.1h1.0M322.1 513.4h1.0M322.2 518.3h1.0M322.1 522.0h1.0M322.0 498.4h1.0M321.8 517.7h1.0M321.8 514.3h1.0M322.5 505.4h1.0M322.0 499.3h1.0M321.8 517.0h1.0M322.1 500.9h1.0M321.7 505.0h1.0M321.8 505.6h1.0M321.8 531.3h1.0M321.7 498.6h1.0M321.8 524.4h1.0M321.9 518.7h1.0M321.8 507.8h1.0M322.9 514.7h1.0M321.7 519.2h1.0M321.8 496.9h1.0M321.8 507.7h1.0M322.1 499.5h1.0" stroke="#151515" stroke-width="1.0" fill="none"/>
<line x1="46.9" y1="419.3" x2="46.9" y2="531.8" stroke="#333" stroke-width="0.8"/>
<line x1="46.9" y1="531.8" x2="165.1" y2="531.8" stroke="#333" stroke-width="0.8"/>
<line x1="45.3" y1="531.8" x2="46.9" y2="531.8" stroke="#777" stroke-width="0.5"/>
<line x1="46" y1="523.3" x2="46.9" y2="523.3" stroke="#777" stroke-width="0.5"/>
<line x1="46" y1="518.4" x2="46.9" y2="518.4" stroke="#777" stroke-width="0.5"/>
<line x1="46" y1="514.9" x2="46.9" y2="514.9" stroke="#777" stroke-width="0.5"/>
<line x1="46" y1="512.1" x2="46.9" y2="512.1" stroke="#777" stroke-width="0.5"/>
<line x1="46" y1="509.9" x2="46.9" y2="509.9" stroke="#777" stroke-width="0.5"/>
<line x1="46" y1="508" x2="46.9" y2="508" stroke="#777" stroke-width="0.5"/>
<line x1="46" y1="506.4" x2="46.9" y2="506.4" stroke="#777" stroke-width="0.5"/>
<line x1="46" y1="505" x2="46.9" y2="505" stroke="#777" stroke-width="0.5"/>
<line x1="46.9" y1="531.8" x2="46.9" y2="533.4" stroke="#777" stroke-width="0.5"/>
<line x1="55.8" y1="531.8" x2="55.8" y2="532.7" stroke="#777" stroke-width="0.5"/>
<line x1="61" y1="531.8" x2="61" y2="532.7" stroke="#777" stroke-width="0.5"/>
<line x1="64.7" y1="531.8" x2="64.7" y2="532.7" stroke="#777" stroke-width="0.5"/>
<line x1="67.6" y1="531.8" x2="67.6" y2="532.7" stroke="#777" stroke-width="0.5"/>
<line x1="69.9" y1="531.8" x2="69.9" y2="532.7" stroke="#777" stroke-width="0.5"/>
<line x1="71.9" y1="531.8" x2="71.9" y2="532.7" stroke="#777" stroke-width="0.5"/>
<line x1="73.6" y1="531.8" x2="73.6" y2="532.7" stroke="#777" stroke-width="0.5"/>
<line x1="75.1" y1="531.8" x2="75.1" y2="532.7" stroke="#777" stroke-width="0.5"/>
<line x1="45.3" y1="503.7" x2="46.9" y2="503.7" stroke="#777" stroke-width="0.5"/>
<line x1="46" y1="495.2" x2="46.9" y2="495.2" stroke="#777" stroke-width="0.5"/>
<line x1="46" y1="490.3" x2="46.9" y2="490.3" stroke="#777" stroke-width="0.5"/>
<line x1="46" y1="486.7" x2="46.9" y2="486.7" stroke="#777" stroke-width="0.5"/>
<line x1="46" y1="484" x2="46.9" y2="484" stroke="#777" stroke-width="0.5"/>
<line x1="46" y1="481.8" x2="46.9" y2="481.8" stroke="#777" stroke-width="0.5"/>
<line x1="46" y1="479.9" x2="46.9" y2="479.9" stroke="#777" stroke-width="0.5"/>
<line x1="46" y1="478.3" x2="46.9" y2="478.3" stroke="#777" stroke-width="0.5"/>
<line x1="46" y1="476.8" x2="46.9" y2="476.8" stroke="#777" stroke-width="0.5"/>
<line x1="76.4" y1="531.8" x2="76.4" y2="533.4" stroke="#777" stroke-width="0.5"/>
<line x1="85.3" y1="531.8" x2="85.3" y2="532.7" stroke="#777" stroke-width="0.5"/>
<line x1="90.5" y1="531.8" x2="90.5" y2="532.7" stroke="#777" stroke-width="0.5"/>
<line x1="94.2" y1="531.8" x2="94.2" y2="532.7" stroke="#777" stroke-width="0.5"/>
<line x1="97.1" y1="531.8" x2="97.1" y2="532.7" stroke="#777" stroke-width="0.5"/>
<line x1="99.4" y1="531.8" x2="99.4" y2="532.7" stroke="#777" stroke-width="0.5"/>
<line x1="101.4" y1="531.8" x2="101.4" y2="532.7" stroke="#777" stroke-width="0.5"/>
<line x1="103.1" y1="531.8" x2="103.1" y2="532.7" stroke="#777" stroke-width="0.5"/>
<line x1="104.6" y1="531.8" x2="104.6" y2="532.7" stroke="#777" stroke-width="0.5"/>
<line x1="45.3" y1="475.5" x2="46.9" y2="475.5" stroke="#777" stroke-width="0.5"/>
<line x1="46" y1="467.1" x2="46.9" y2="467.1" stroke="#777" stroke-width="0.5"/>
<line x1="46" y1="462.1" x2="46.9" y2="462.1" stroke="#777" stroke-width="0.5"/>
<line x1="46" y1="458.6" x2="46.9" y2="458.6" stroke="#777" stroke-width="0.5"/>
<line x1="46" y1="455.9" x2="46.9" y2="455.9" stroke="#777" stroke-width="0.5"/>
<line x1="46" y1="453.7" x2="46.9" y2="453.7" stroke="#777" stroke-width="0.5"/>
<line x1="46" y1="451.8" x2="46.9" y2="451.8" stroke="#777" stroke-width="0.5"/>
<line x1="46" y1="450.2" x2="46.9" y2="450.2" stroke="#777" stroke-width="0.5"/>
<line x1="46" y1="448.7" x2="46.9" y2="448.7" stroke="#777" stroke-width="0.5"/>
<line x1="106" y1="531.8" x2="106" y2="533.4" stroke="#777" stroke-width="0.5"/>
<line x1="114.9" y1="531.8" x2="114.9" y2="532.7" stroke="#777" stroke-width="0.5"/>
<line x1="120.1" y1="531.8" x2="120.1" y2="532.7" stroke="#777" stroke-width="0.5"/>
<line x1="123.8" y1="531.8" x2="123.8" y2="532.7" stroke="#777" stroke-width="0.5"/>
<line x1="126.7" y1="531.8" x2="126.7" y2="532.7" stroke="#777" stroke-width="0.5"/>
<line x1="129" y1="531.8" x2="129" y2="532.7" stroke="#777" stroke-width="0.5"/>
<line x1="131" y1="531.8" x2="131" y2="532.7" stroke="#777" stroke-width="0.5"/>
<line x1="132.7" y1="531.8" x2="132.7" y2="532.7" stroke="#777" stroke-width="0.5"/>
<line x1="134.2" y1="531.8" x2="134.2" y2="532.7" stroke="#777" stroke-width="0.5"/>
<line x1="45.3" y1="447.4" x2="46.9" y2="447.4" stroke="#777" stroke-width="0.5"/>
<line x1="46" y1="439" x2="46.9" y2="439" stroke="#777" stroke-width="0.5"/>
<line x1="46" y1="434" x2="46.9" y2="434" stroke="#777" stroke-width="0.5"/>
<line x1="46" y1="430.5" x2="46.9" y2="430.5" stroke="#777" stroke-width="0.5"/>
<line x1="46" y1="427.8" x2="46.9" y2="427.8" stroke="#777" stroke-width="0.5"/>
<line x1="46" y1="425.5" x2="46.9" y2="425.5" stroke="#777" stroke-width="0.5"/>
<line x1="46" y1="423.7" x2="46.9" y2="423.7" stroke="#777" stroke-width="0.5"/>
<line x1="46" y1="422" x2="46.9" y2="422" stroke="#777" stroke-width="0.5"/>
<line x1="46" y1="420.6" x2="46.9" y2="420.6" stroke="#777" stroke-width="0.5"/>
<line x1="135.5" y1="531.8" x2="135.5" y2="533.4" stroke="#777" stroke-width="0.5"/>
<line x1="144.4" y1="531.8" x2="144.4" y2="532.7" stroke="#777" stroke-width="0.5"/>
<line x1="149.6" y1="531.8" x2="149.6" y2="532.7" stroke="#777" stroke-width="0.5"/>
<line x1="153.3" y1="531.8" x2="153.3" y2="532.7" stroke="#777" stroke-width="0.5"/>
<line x1="156.2" y1="531.8" x2="156.2" y2="532.7" stroke="#777" stroke-width="0.5"/>
<line x1="158.5" y1="531.8" x2="158.5" y2="532.7" stroke="#777" stroke-width="0.5"/>
<line x1="160.5" y1="531.8" x2="160.5" y2="532.7" stroke="#777" stroke-width="0.5"/>
<line x1="162.2" y1="531.8" x2="162.2" y2="532.7" stroke="#777" stroke-width="0.5"/>
<line x1="163.7" y1="531.8" x2="163.7" y2="532.7" stroke="#777" stroke-width="0.5"/>
<line x1="182.9" y1="420" x2="182.9" y2="532.3" stroke="#333" stroke-width="0.8"/>
<line x1="182.9" y1="532.3" x2="299.4" y2="532.3" stroke="#333" stroke-width="0.8"/>
<line x1="181.3" y1="532.3" x2="182.9" y2="532.3" stroke="#777" stroke-width="0.5"/>
<line x1="182" y1="523.8" x2="182.9" y2="523.8" stroke="#777" stroke-width="0.5"/>
<line x1="182" y1="518.9" x2="182.9" y2="518.9" stroke="#777" stroke-width="0.5"/>
<line x1="182" y1="515.4" x2="182.9" y2="515.4" stroke="#777" stroke-width="0.5"/>
<line x1="182" y1="512.7" x2="182.9" y2="512.7" stroke="#777" stroke-width="0.5"/>
<line x1="182" y1="510.5" x2="182.9" y2="510.5" stroke="#777" stroke-width="0.5"/>
<line x1="182" y1="508.6" x2="182.9" y2="508.6" stroke="#777" stroke-width="0.5"/>
<line x1="182" y1="506.9" x2="182.9" y2="506.9" stroke="#777" stroke-width="0.5"/>
<line x1="182" y1="505.5" x2="182.9" y2="505.5" stroke="#777" stroke-width="0.5"/>
<line x1="182.9" y1="532.3" x2="182.9" y2="533.9" stroke="#777" stroke-width="0.5"/>
<line x1="191.7" y1="532.3" x2="191.7" y2="533.2" stroke="#777" stroke-width="0.5"/>
<line x1="196.8" y1="532.3" x2="196.8" y2="533.2" stroke="#777" stroke-width="0.5"/>
<line x1="200.4" y1="532.3" x2="200.4" y2="533.2" stroke="#777" stroke-width="0.5"/>
<line x1="203.3" y1="532.3" x2="203.3" y2="533.2" stroke="#777" stroke-width="0.5"/>
<line x1="205.6" y1="532.3" x2="205.6" y2="533.2" stroke="#777" stroke-width="0.5"/>
<line x1="207.5" y1="532.3" x2="207.5" y2="533.2" stroke="#777" stroke-width="0.5"/>
<line x1="209.2" y1="532.3" x2="209.2" y2="533.2" stroke="#777" stroke-width="0.5"/>
<line x1="210.7" y1="532.3" x2="210.7" y2="533.2" stroke="#777" stroke-width="0.5"/>
<line x1="181.3" y1="504.2" x2="182.9" y2="504.2" stroke="#777" stroke-width="0.5"/>
<line x1="182" y1="495.8" x2="182.9" y2="495.8" stroke="#777" stroke-width="0.5"/>
<line x1="182" y1="490.8" x2="182.9" y2="490.8" stroke="#777" stroke-width="0.5"/>
<line x1="182" y1="487.3" x2="182.9" y2="487.3" stroke="#777" stroke-width="0.5"/>
<line x1="182" y1="484.6" x2="182.9" y2="484.6" stroke="#777" stroke-width="0.5"/>
<line x1="182" y1="482.4" x2="182.9" y2="482.4" stroke="#777" stroke-width="0.5"/>
<line x1="182" y1="480.5" x2="182.9" y2="480.5" stroke="#777" stroke-width="0.5"/>
<line x1="182" y1="478.9" x2="182.9" y2="478.9" stroke="#777" stroke-width="0.5"/>
<line x1="182" y1="477.4" x2="182.9" y2="477.4" stroke="#777" stroke-width="0.5"/>
<line x1="212" y1="532.3" x2="212" y2="533.9" stroke="#777" stroke-width="0.5"/>
<line x1="220.8" y1="532.3" x2="220.8" y2="533.2" stroke="#777" stroke-width="0.5"/>
<line x1="225.9" y1="532.3" x2="225.9" y2="533.2" stroke="#777" stroke-width="0.5"/>
<line x1="229.6" y1="532.3" x2="229.6" y2="533.2" stroke="#777" stroke-width="0.5"/>
<line x1="232.4" y1="532.3" x2="232.4" y2="533.2" stroke="#777" stroke-width="0.5"/>
<line x1="234.7" y1="532.3" x2="234.7" y2="533.2" stroke="#777" stroke-width="0.5"/>
<line x1="236.6" y1="532.3" x2="236.6" y2="533.2" stroke="#777" stroke-width="0.5"/>
<line x1="238.3" y1="532.3" x2="238.3" y2="533.2" stroke="#777" stroke-width="0.5"/>
<line x1="239.8" y1="532.3" x2="239.8" y2="533.2" stroke="#777" stroke-width="0.5"/>
<line x1="181.3" y1="476.1" x2="182.9" y2="476.1" stroke="#777" stroke-width="0.5"/>
<line x1="182" y1="467.7" x2="182.9" y2="467.7" stroke="#777" stroke-width="0.5"/>
<line x1="182" y1="462.8" x2="182.9" y2="462.8" stroke="#777" stroke-width="0.5"/>
<line x1="182" y1="459.2" x2="182.9" y2="459.2" stroke="#777" stroke-width="0.5"/>
<line x1="182" y1="456.5" x2="182.9" y2="456.5" stroke="#777" stroke-width="0.5"/>
<line x1="182" y1="454.3" x2="182.9" y2="454.3" stroke="#777" stroke-width="0.5"/>
<line x1="182" y1="452.4" x2="182.9" y2="452.4" stroke="#777" stroke-width="0.5"/>
<line x1="182" y1="450.8" x2="182.9" y2="450.8" stroke="#777" stroke-width="0.5"/>
<line x1="182" y1="449.4" x2="182.9" y2="449.4" stroke="#777" stroke-width="0.5"/>
<line x1="241.1" y1="532.3" x2="241.1" y2="533.9" stroke="#777" stroke-width="0.5"/>
<line x1="249.9" y1="532.3" x2="249.9" y2="533.2" stroke="#777" stroke-width="0.5"/>
<line x1="255" y1="532.3" x2="255" y2="533.2" stroke="#777" stroke-width="0.5"/>
<line x1="258.7" y1="532.3" x2="258.7" y2="533.2" stroke="#777" stroke-width="0.5"/>
<line x1="261.5" y1="532.3" x2="261.5" y2="533.2" stroke="#777" stroke-width="0.5"/>
<line x1="263.8" y1="532.3" x2="263.8" y2="533.2" stroke="#777" stroke-width="0.5"/>
<line x1="265.8" y1="532.3" x2="265.8" y2="533.2" stroke="#777" stroke-width="0.5"/>
<line x1="267.5" y1="532.3" x2="267.5" y2="533.2" stroke="#777" stroke-width="0.5"/>
<line x1="268.9" y1="532.3" x2="268.9" y2="533.2" stroke="#777" stroke-width="0.5"/>
<line x1="181.3" y1="448.1" x2="182.9" y2="448.1" stroke="#777" stroke-width="0.5"/>
<line x1="182" y1="439.6" x2="182.9" y2="439.6" stroke="#777" stroke-width="0.5"/>
<line x1="182" y1="434.7" x2="182.9" y2="434.7" stroke="#777" stroke-width="0.5"/>
<line x1="182" y1="431.2" x2="182.9" y2="431.2" stroke="#777" stroke-width="0.5"/>
<line x1="182" y1="428.5" x2="182.9" y2="428.5" stroke="#777" stroke-width="0.5"/>
<line x1="182" y1="426.2" x2="182.9" y2="426.2" stroke="#777" stroke-width="0.5"/>
<line x1="182" y1="424.3" x2="182.9" y2="424.3" stroke="#777" stroke-width="0.5"/>
<line x1="182" y1="422.7" x2="182.9" y2="422.7" stroke="#777" stroke-width="0.5"/>
<line x1="182" y1="421.3" x2="182.9" y2="421.3" stroke="#777" stroke-width="0.5"/>
<line x1="270.3" y1="532.3" x2="270.3" y2="533.9" stroke="#777" stroke-width="0.5"/>
<line x1="279" y1="532.3" x2="279" y2="533.2" stroke="#777" stroke-width="0.5"/>
<line x1="284.2" y1="532.3" x2="284.2" y2="533.2" stroke="#777" stroke-width="0.5"/>
<line x1="287.8" y1="532.3" x2="287.8" y2="533.2" stroke="#777" stroke-width="0.5"/>
<line x1="290.6" y1="532.3" x2="290.6" y2="533.2" stroke="#777" stroke-width="0.5"/>
<line x1="292.9" y1="532.3" x2="292.9" y2="533.2" stroke="#777" stroke-width="0.5"/>
<line x1="294.9" y1="532.3" x2="294.9" y2="533.2" stroke="#777" stroke-width="0.5"/>
<line x1="296.6" y1="532.3" x2="296.6" y2="533.2" stroke="#777" stroke-width="0.5"/>
<line x1="298.1" y1="532.3" x2="298.1" y2="533.2" stroke="#777" stroke-width="0.5"/>
<line x1="321" y1="420" x2="321" y2="532.3" stroke="#333" stroke-width="0.8"/>
<line x1="321" y1="532.3" x2="439.8" y2="532.3" stroke="#333" stroke-width="0.8"/>
<line x1="319.4" y1="532.3" x2="321" y2="532.3" stroke="#777" stroke-width="0.5"/>
<line x1="320.1" y1="523.8" x2="321" y2="523.8" stroke="#777" stroke-width="0.5"/>
<line x1="320.1" y1="518.9" x2="321" y2="518.9" stroke="#777" stroke-width="0.5"/>
<line x1="320.1" y1="515.4" x2="321" y2="515.4" stroke="#777" stroke-width="0.5"/>
<line x1="320.1" y1="512.7" x2="321" y2="512.7" stroke="#777" stroke-width="0.5"/>
<line x1="320.1" y1="510.5" x2="321" y2="510.5" stroke="#777" stroke-width="0.5"/>
<line x1="320.1" y1="508.6" x2="321" y2="508.6" stroke="#777" stroke-width="0.5"/>
<line x1="320.1" y1="506.9" x2="321" y2="506.9" stroke="#777" stroke-width="0.5"/>
<line x1="320.1" y1="505.5" x2="321" y2="505.5" stroke="#777" stroke-width="0.5"/>
<line x1="321" y1="532.3" x2="321" y2="533.9" stroke="#777" stroke-width="0.5"/>
<line x1="329.9" y1="532.3" x2="329.9" y2="533.2" stroke="#777" stroke-width="0.5"/>
<line x1="335.2" y1="532.3" x2="335.2" y2="533.2" stroke="#777" stroke-width="0.5"/>
<line x1="338.9" y1="532.3" x2="338.9" y2="533.2" stroke="#777" stroke-width="0.5"/>
<line x1="341.8" y1="532.3" x2="341.8" y2="533.2" stroke="#777" stroke-width="0.5"/>
<line x1="344.1" y1="532.3" x2="344.1" y2="533.2" stroke="#777" stroke-width="0.5"/>
<line x1="346.1" y1="532.3" x2="346.1" y2="533.2" stroke="#777" stroke-width="0.5"/>
<line x1="347.8" y1="532.3" x2="347.8" y2="533.2" stroke="#777" stroke-width="0.5"/>
<line x1="349.3" y1="532.3" x2="349.3" y2="533.2" stroke="#777" stroke-width="0.5"/>
<line x1="319.4" y1="504.2" x2="321" y2="504.2" stroke="#777" stroke-width="0.5"/>
<line x1="320.1" y1="495.8" x2="321" y2="495.8" stroke="#777" stroke-width="0.5"/>
<line x1="320.1" y1="490.8" x2="321" y2="490.8" stroke="#777" stroke-width="0.5"/>
<line x1="320.1" y1="487.3" x2="321" y2="487.3" stroke="#777" stroke-width="0.5"/>
<line x1="320.1" y1="484.6" x2="321" y2="484.6" stroke="#777" stroke-width="0.5"/>
<line x1="320.1" y1="482.4" x2="321" y2="482.4" stroke="#777" stroke-width="0.5"/>
<line x1="320.1" y1="480.5" x2="321" y2="480.5" stroke="#777" stroke-width="0.5"/>
<line x1="320.1" y1="478.9" x2="321" y2="478.9" stroke="#777" stroke-width="0.5"/>
<line x1="320.1" y1="477.4" x2="321" y2="477.4" stroke="#777" stroke-width="0.5"/>
<line x1="350.7" y1="532.3" x2="350.7" y2="533.9" stroke="#777" stroke-width="0.5"/>
<line x1="359.6" y1="532.3" x2="359.6" y2="533.2" stroke="#777" stroke-width="0.5"/>
<line x1="364.9" y1="532.3" x2="364.9" y2="533.2" stroke="#777" stroke-width="0.5"/>
<line x1="368.6" y1="532.3" x2="368.6" y2="533.2" stroke="#777" stroke-width="0.5"/>
<line x1="371.5" y1="532.3" x2="371.5" y2="533.2" stroke="#777" stroke-width="0.5"/>
<line x1="373.8" y1="532.3" x2="373.8" y2="533.2" stroke="#777" stroke-width="0.5"/>
<line x1="375.8" y1="532.3" x2="375.8" y2="533.2" stroke="#777" stroke-width="0.5"/>
<line x1="377.5" y1="532.3" x2="377.5" y2="533.2" stroke="#777" stroke-width="0.5"/>
<line x1="379" y1="532.3" x2="379" y2="533.2" stroke="#777" stroke-width="0.5"/>
<line x1="319.4" y1="476.1" x2="321" y2="476.1" stroke="#777" stroke-width="0.5"/>
<line x1="320.1" y1="467.7" x2="321" y2="467.7" stroke="#777" stroke-width="0.5"/>
<line x1="320.1" y1="462.8" x2="321" y2="462.8" stroke="#777" stroke-width="0.5"/>
<line x1="320.1" y1="459.2" x2="321" y2="459.2" stroke="#777" stroke-width="0.5"/>
<line x1="320.1" y1="456.5" x2="321" y2="456.5" stroke="#777" stroke-width="0.5"/>
<line x1="320.1" y1="454.3" x2="321" y2="454.3" stroke="#777" stroke-width="0.5"/>
<line x1="320.1" y1="452.4" x2="321" y2="452.4" stroke="#777" stroke-width="0.5"/>
<line x1="320.1" y1="450.8" x2="321" y2="450.8" stroke="#777" stroke-width="0.5"/>
<line x1="320.1" y1="449.4" x2="321" y2="449.4" stroke="#777" stroke-width="0.5"/>
<line x1="380.4" y1="532.3" x2="380.4" y2="533.9" stroke="#777" stroke-width="0.5"/>
<line x1="389.3" y1="532.3" x2="389.3" y2="533.2" stroke="#777" stroke-width="0.5"/>
<line x1="394.6" y1="532.3" x2="394.6" y2="533.2" stroke="#777" stroke-width="0.5"/>
<line x1="398.3" y1="532.3" x2="398.3" y2="533.2" stroke="#777" stroke-width="0.5"/>
<line x1="401.2" y1="532.3" x2="401.2" y2="533.2" stroke="#777" stroke-width="0.5"/>
<line x1="403.5" y1="532.3" x2="403.5" y2="533.2" stroke="#777" stroke-width="0.5"/>
<line x1="405.5" y1="532.3" x2="405.5" y2="533.2" stroke="#777" stroke-width="0.5"/>
<line x1="407.2" y1="532.3" x2="407.2" y2="533.2" stroke="#777" stroke-width="0.5"/>
<line x1="408.7" y1="532.3" x2="408.7" y2="533.2" stroke="#777" stroke-width="0.5"/>
<line x1="319.4" y1="448.1" x2="321" y2="448.1" stroke="#777" stroke-width="0.5"/>
<line x1="320.1" y1="439.6" x2="321" y2="439.6" stroke="#777" stroke-width="0.5"/>
<line x1="320.1" y1="434.7" x2="321" y2="434.7" stroke="#777" stroke-width="0.5"/>
<line x1="320.1" y1="431.2" x2="321" y2="431.2" stroke="#777" stroke-width="0.5"/>
<line x1="320.1" y1="428.5" x2="321" y2="428.5" stroke="#777" stroke-width="0.5"/>
<line x1="320.1" y1="426.2" x2="321" y2="426.2" stroke="#777" stroke-width="0.5"/>
<line x1="320.1" y1="424.3" x2="321" y2="424.3" stroke="#777" stroke-width="0.5"/>
<line x1="320.1" y1="422.7" x2="321" y2="422.7" stroke="#777" stroke-width="0.5"/>
<line x1="320.1" y1="421.3" x2="321" y2="421.3" stroke="#777" stroke-width="0.5"/>
<line x1="410.1" y1="532.3" x2="410.1" y2="533.9" stroke="#777" stroke-width="0.5"/>
<line x1="419" y1="532.3" x2="419" y2="533.2" stroke="#777" stroke-width="0.5"/>
<line x1="424.3" y1="532.3" x2="424.3" y2="533.2" stroke="#777" stroke-width="0.5"/>
<line x1="428" y1="532.3" x2="428" y2="533.2" stroke="#777" stroke-width="0.5"/>
<line x1="430.9" y1="532.3" x2="430.9" y2="533.2" stroke="#777" stroke-width="0.5"/>
<line x1="433.2" y1="532.3" x2="433.2" y2="533.2" stroke="#777" stroke-width="0.5"/>
<line x1="435.2" y1="532.3" x2="435.2" y2="533.2" stroke="#777" stroke-width="0.5"/>
<line x1="436.9" y1="532.3" x2="436.9" y2="533.2" stroke="#777" stroke-width="0.5"/>
<line x1="438.4" y1="532.3" x2="438.4" y2="533.2" stroke="#777" stroke-width="0.5"/>
<rect x="89.3" y="460.3" width="46" height="28.6" fill="none" stroke="#333" stroke-width="0.8"/>
<rect x="225.3" y="460.8" width="46" height="28.6" fill="none" stroke="#333" stroke-width="0.8"/>
<rect x="364.5" y="461.5" width="45.8" height="28.6" fill="none" stroke="#333" stroke-width="0.8"/>
<text x="111.5" y="455.5" font-size="11.2" text-anchor="middle" fill="#111">7.5</text>
<text x="247.2" y="455.5" font-size="11.2" text-anchor="middle" fill="#111">12.5</text>
<text x="383.6" y="455.5" font-size="11.2" text-anchor="middle" fill="#111">9.4</text>
<text x="99" y="412.6" font-size="10.5" font-weight="bold" text-anchor="middle" fill="#000">HSC + T</text>
<text x="238.9" y="412.8" font-size="10.5" font-weight="bold" text-anchor="middle" fill="#000" letter-spacing="0.23">HSC + T + WT pDC</text>
<text x="380" y="412.6" font-size="10.5" font-weight="bold" text-anchor="middle" letter-spacing="0.2">HSC + T + IDO1<tspan font-size="6.3" dy="-4">-/-</tspan><tspan dy="4"> pDC</tspan></text>
<text x="28.6" y="479" font-size="10.6" font-weight="bold" text-anchor="middle" fill="#000" transform="rotate(-90 28.6 479)">FoxP3</text>
<line x1="47.4" y1="544.4" x2="212" y2="544.4" stroke="#111" stroke-width="1.1"/>
<line x1="282" y1="544.4" x2="435" y2="544.4" stroke="#111" stroke-width="1.1"/>
<polygon points="440.5,544.4 433.5,541.9 433.5,546.9" fill="#111"/>
<text x="246.8" y="549.3" font-size="11" font-weight="bold" text-anchor="middle" fill="#000">CD25</text>
<line x1="74.4" y1="610.3" x2="74.4" y2="746" stroke="#000" stroke-width="1"/>
<line x1="73.9" y1="745.5" x2="164" y2="745.5" stroke="#000" stroke-width="1"/>
<line x1="72.1" y1="745.5" x2="74.4" y2="745.5" stroke="#000" stroke-width="1"/>
<text x="67.4" y="748.5" font-size="8.7" text-anchor="end" fill="#333">0</text>
<line x1="72.1" y1="700.4" x2="74.4" y2="700.4" stroke="#000" stroke-width="1"/>
<text x="67.4" y="703.4" font-size="8.7" text-anchor="end" fill="#333">50,000</text>
<line x1="72.1" y1="655.4" x2="74.4" y2="655.4" stroke="#000" stroke-width="1"/>
<text x="67.4" y="658.4" font-size="8.7" text-anchor="end" fill="#333">100,000</text>
<line x1="72.1" y1="610.3" x2="74.4" y2="610.3" stroke="#000" stroke-width="1"/>
<text x="67.4" y="613.3" font-size="8.7" text-anchor="end" fill="#333">150,000</text>
<line x1="89.7" y1="700.8" x2="89.7" y2="691" stroke="#000" stroke-width="1.15"/>
<line x1="87.6" y1="691" x2="91.8" y2="691" stroke="#000" stroke-width="1.3"/>
<rect x="80.1" y="701.3" width="19.1" height="44.2" fill="#fff" stroke="#000" stroke-width="1.1"/>
<line x1="119.5" y1="644.4" x2="119.5" y2="614" stroke="#000" stroke-width="1.15"/>
<line x1="117.4" y1="614" x2="121.5" y2="614" stroke="#000" stroke-width="1.3"/>
<rect x="109.4" y="644.4" width="20.1" height="101.1" fill="#000" stroke="none" stroke-width="1"/>
<line x1="149" y1="693.6" x2="149" y2="681.5" stroke="#000" stroke-width="1.15"/>
<line x1="146.9" y1="681.5" x2="151.1" y2="681.5" stroke="#000" stroke-width="1.3"/>
<rect x="138.8" y="693.6" width="20.4" height="51.9" fill="#868686" stroke="none" stroke-width="1"/>
<line x1="211" y1="610.3" x2="211" y2="745.5" stroke="#000" stroke-width="1"/>
<line x1="210.5" y1="745" x2="283" y2="745" stroke="#000" stroke-width="1"/>
<line x1="208.7" y1="745" x2="211" y2="745" stroke="#000" stroke-width="1"/>
<text x="204" y="748" font-size="8.7" text-anchor="end" fill="#333">0</text>
<line x1="208.7" y1="677.6" x2="211" y2="677.6" stroke="#000" stroke-width="1"/>
<text x="204" y="680.6" font-size="8.7" text-anchor="end" fill="#333">50,000</text>
<line x1="208.7" y1="610.3" x2="211" y2="610.3" stroke="#000" stroke-width="1"/>
<text x="204" y="613.3" font-size="8.7" text-anchor="end" fill="#333">100,000</text>
<line x1="223" y1="705" x2="223" y2="694" stroke="#000" stroke-width="1.15"/>
<line x1="220.9" y1="694" x2="225.1" y2="694" stroke="#000" stroke-width="1.3"/>
<rect x="215.2" y="705.5" width="15.6" height="39.5" fill="#fff" stroke="#000" stroke-width="1.1"/>
<line x1="247.4" y1="691" x2="247.4" y2="673.8" stroke="#000" stroke-width="1.15"/>
<line x1="245.3" y1="673.8" x2="249.5" y2="673.8" stroke="#000" stroke-width="1.3"/>
<rect x="239.3" y="691" width="16.2" height="54" fill="#000" stroke="none" stroke-width="1"/>
<line x1="271.2" y1="719.5" x2="271.2" y2="713.6" stroke="#000" stroke-width="1.15"/>
<line x1="269.1" y1="713.6" x2="273.4" y2="713.6" stroke="#000" stroke-width="1.3"/>
<rect x="263.1" y="719.5" width="16.3" height="25.5" fill="#868686" stroke="none" stroke-width="1"/>
<line x1="327" y1="610" x2="327" y2="745.5" stroke="#000" stroke-width="1"/>
<line x1="326.5" y1="745" x2="401" y2="745" stroke="#000" stroke-width="1"/>
<line x1="324.7" y1="745" x2="327" y2="745" stroke="#000" stroke-width="1"/>
<text x="320" y="748" font-size="8.7" text-anchor="end" fill="#333">0</text>
<line x1="324.7" y1="677.5" x2="327" y2="677.5" stroke="#000" stroke-width="1"/>
<text x="320" y="680.5" font-size="8.7" text-anchor="end" fill="#333">5,000</text>
<line x1="324.7" y1="610" x2="327" y2="610" stroke="#000" stroke-width="1"/>
<text x="320" y="613" font-size="8.7" text-anchor="end" fill="#333">10,000</text>
<line x1="338.9" y1="717" x2="338.9" y2="707.8" stroke="#000" stroke-width="1.15"/>
<line x1="336.8" y1="707.8" x2="341.1" y2="707.8" stroke="#000" stroke-width="1.3"/>
<rect x="331" y="717.5" width="15.9" height="27.5" fill="#fff" stroke="#000" stroke-width="1.1"/>
<line x1="363.7" y1="649.6" x2="363.7" y2="612.6" stroke="#000" stroke-width="1.15"/>
<line x1="361.6" y1="612.6" x2="365.8" y2="612.6" stroke="#000" stroke-width="1.3"/>
<rect x="355.4" y="649.6" width="16.6" height="95.4" fill="#000" stroke="none" stroke-width="1"/>
<line x1="388.6" y1="714.7" x2="388.6" y2="709" stroke="#000" stroke-width="1.15"/>
<line x1="386.5" y1="709" x2="390.8" y2="709" stroke="#000" stroke-width="1.3"/>
<rect x="380" y="714.7" width="17.3" height="30.3" fill="#868686" stroke="none" stroke-width="1"/>
<line x1="74.4" y1="745.5" x2="74.4" y2="748" stroke="#000" stroke-width="0.9"/>
<line x1="104.5" y1="745.5" x2="104.5" y2="748" stroke="#000" stroke-width="0.9"/>
<line x1="134" y1="745.5" x2="134" y2="748" stroke="#000" stroke-width="0.9"/>
<line x1="164" y1="745.5" x2="164" y2="748" stroke="#000" stroke-width="0.9"/>
<line x1="211" y1="745" x2="211" y2="747.5" stroke="#000" stroke-width="0.9"/>
<line x1="235.3" y1="745" x2="235.3" y2="747.5" stroke="#000" stroke-width="0.9"/>
<line x1="259.3" y1="745" x2="259.3" y2="747.5" stroke="#000" stroke-width="0.9"/>
<line x1="283" y1="745" x2="283" y2="747.5" stroke="#000" stroke-width="0.9"/>
<line x1="327" y1="745" x2="327" y2="747.5" stroke="#000" stroke-width="0.9"/>
<line x1="351" y1="745" x2="351" y2="747.5" stroke="#000" stroke-width="0.9"/>
<line x1="376" y1="745" x2="376" y2="747.5" stroke="#000" stroke-width="0.9"/>
<line x1="401" y1="745" x2="401" y2="747.5" stroke="#000" stroke-width="0.9"/>
<text x="119.4" y="601" font-size="10.5" font-weight="bold" text-anchor="middle" fill="#000">CD8</text>
<text x="244.8" y="601" font-size="10.5" font-weight="bold" text-anchor="middle" fill="#000">CD4</text>
<text x="364.7" y="601" font-size="10.5" font-weight="bold" text-anchor="middle" fill="#000">T-regs</text>
<text x="28.7" y="677.2" font-size="12.1" text-anchor="middle" fill="#111" transform="rotate(-90 28.7 677.2)">T-Cells per spleen</text>
<rect x="395.8" y="614.7" width="11" height="11.4" fill="#fff" stroke="#111" stroke-width="1"/>
<rect x="395.3" y="636.3" width="11.7" height="13.5" fill="#000" stroke="none" stroke-width="1"/>
<rect x="395.3" y="660" width="11.7" height="14.3" fill="#868686" stroke="none" stroke-width="1"/>
<text x="411.5" y="623.7" font-size="10.9" fill="#222">HSC+T</text>
<text x="411.5" y="646.4" font-size="10.9" fill="#222">HSC+T + WTpDC</text>
<text x="411.5" y="671" font-size="10.9" fill="#222">HSC+T + IDO1-/-pDC</text>

</svg></body></html>
